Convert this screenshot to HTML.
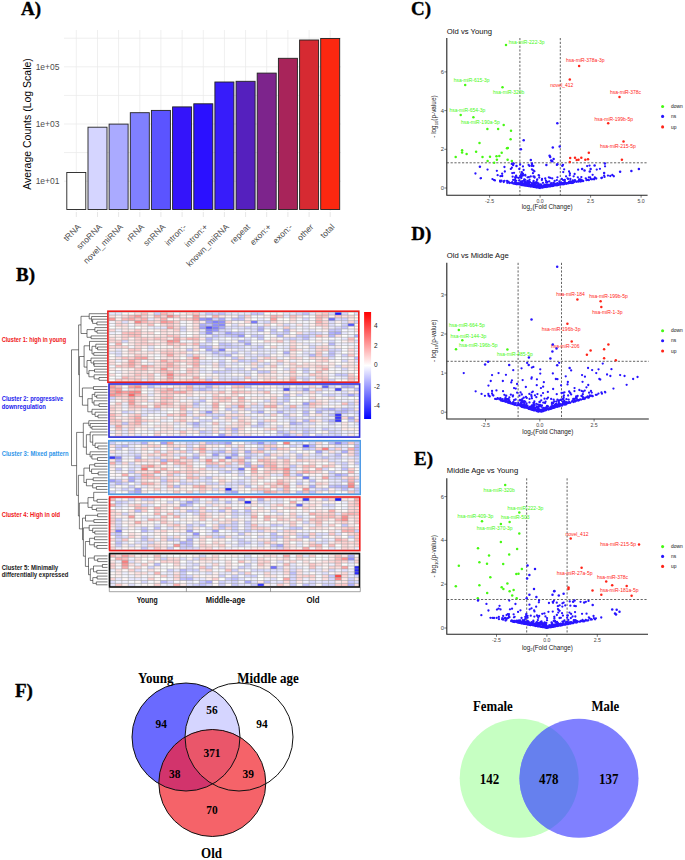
<!DOCTYPE html>
<html><head><meta charset="utf-8"><style>
html,body{margin:0;padding:0;background:#fff;overflow:hidden;}
svg{display:block;}

</style></head><body>
<svg width="685" height="860" viewBox="0 0 685 860" font-family='"Liberation Sans", sans-serif'>
<rect width="685" height="860" fill="#fff"/>
<g id="A">
<text x="21" y="15" font-family='"Liberation Serif", serif' font-weight="bold" font-size="19" stroke="#000" stroke-width="0.35">A)</text>
<path d="M64 38.2H341 M64 66.8H341 M64 95.4H341 M64 124.0H341 M64 152.6H341 M64 181.2H341 M76.3 30V211 M97.5 30V211 M118.6 30V211 M139.8 30V211 M160.9 30V211 M182.1 30V211 M203.3 30V211 M224.4 30V211 M245.6 30V211 M266.7 30V211 M287.9 30V211 M309.1 30V211 M330.2 30V211" stroke="#e9e9e9" stroke-width="0.75" fill="none"/>
<rect x="66.8" y="172.5" width="19" height="37.0" fill="#ffffff" stroke="#222" stroke-width="0.9"/>
<rect x="88.0" y="127.2" width="19" height="82.3" fill="#d5d5ff" stroke="#222" stroke-width="0.9"/>
<rect x="109.1" y="124.1" width="19" height="85.4" fill="#aaaaff" stroke="#222" stroke-width="0.9"/>
<rect x="130.3" y="112.7" width="19" height="96.8" fill="#8080ff" stroke="#222" stroke-width="0.9"/>
<rect x="151.4" y="110.4" width="19" height="99.1" fill="#5b54ff" stroke="#222" stroke-width="0.9"/>
<rect x="172.6" y="106.9" width="19" height="102.6" fill="#3414fa" stroke="#222" stroke-width="0.9"/>
<rect x="193.8" y="103.8" width="19" height="105.7" fill="#2b10ff" stroke="#222" stroke-width="0.9"/>
<rect x="214.9" y="82.0" width="19" height="127.5" fill="#371cfa" stroke="#222" stroke-width="0.9"/>
<rect x="236.1" y="81.3" width="19" height="128.2" fill="#5520be" stroke="#222" stroke-width="0.9"/>
<rect x="257.2" y="73.1" width="19" height="136.4" fill="#7d248c" stroke="#222" stroke-width="0.9"/>
<rect x="278.4" y="58.3" width="19" height="151.2" fill="#a8245a" stroke="#222" stroke-width="0.9"/>
<rect x="299.6" y="40.0" width="19" height="169.5" fill="#d62a32" stroke="#222" stroke-width="0.9"/>
<rect x="320.7" y="38.5" width="19" height="171.0" fill="#fc2810" stroke="#222" stroke-width="0.9"/>
<path d="M76.3 212V217 M97.5 212V217 M118.6 212V217 M139.8 212V217 M160.9 212V217 M182.1 212V217 M203.3 212V217 M224.4 212V217 M245.6 212V217 M266.7 212V217 M287.9 212V217 M309.1 212V217 M330.2 212V217" stroke="#e0e0e0" stroke-width="0.8"/>
<text x="59.5" y="70" text-anchor="end" font-size="8.5" fill="#4d4d4d">1e+05</text>
<text x="59.5" y="127" text-anchor="end" font-size="8.5" fill="#4d4d4d">1e+03</text>
<text x="59.5" y="184" text-anchor="end" font-size="8.5" fill="#4d4d4d">1e+01</text>
<text transform="translate(31.2 124) rotate(-90)" text-anchor="middle" font-size="10.5" fill="#000">Average Counts (Log Scale)</text>
<text transform="translate(81.3 227.5) rotate(-45)" text-anchor="end" font-size="8.5" fill="#4d4d4d">tRNA</text>
<text transform="translate(102.5 227.5) rotate(-45)" text-anchor="end" font-size="8.5" fill="#4d4d4d">snoRNA</text>
<text transform="translate(123.6 227.5) rotate(-45)" text-anchor="end" font-size="8.5" fill="#4d4d4d">novel_miRNA</text>
<text transform="translate(144.8 227.5) rotate(-45)" text-anchor="end" font-size="8.5" fill="#4d4d4d">rRNA</text>
<text transform="translate(165.9 227.5) rotate(-45)" text-anchor="end" font-size="8.5" fill="#4d4d4d">snRNA</text>
<text transform="translate(187.1 227.5) rotate(-45)" text-anchor="end" font-size="8.5" fill="#4d4d4d">intron:-</text>
<text transform="translate(208.3 227.5) rotate(-45)" text-anchor="end" font-size="8.5" fill="#4d4d4d">intron:+</text>
<text transform="translate(229.4 227.5) rotate(-45)" text-anchor="end" font-size="8.5" fill="#4d4d4d">known_miRNA</text>
<text transform="translate(250.6 227.5) rotate(-45)" text-anchor="end" font-size="8.5" fill="#4d4d4d">repeat</text>
<text transform="translate(271.7 227.5) rotate(-45)" text-anchor="end" font-size="8.5" fill="#4d4d4d">exon:+</text>
<text transform="translate(292.9 227.5) rotate(-45)" text-anchor="end" font-size="8.5" fill="#4d4d4d">exon:-</text>
<text transform="translate(314.1 227.5) rotate(-45)" text-anchor="end" font-size="8.5" fill="#4d4d4d">other</text>
<text transform="translate(335.2 227.5) rotate(-45)" text-anchor="end" font-size="8.5" fill="#4d4d4d">total</text>
</g>
<g id="B">
<text x="16" y="280.7" font-family='"Liberation Serif", serif' font-weight="bold" font-size="19" stroke="#000" stroke-width="0.35">B)</text>
<path d="M108.9 312.30h6.46v2.78h-6.46zM115.4 312.30h6.46v2.78h-6.46zM199.3 312.30h6.46v2.78h-6.46zM231.6 312.30h6.46v2.78h-6.46zM238.1 312.30h6.46v2.78h-6.46zM244.6 312.30h6.46v2.78h-6.46zM283.3 312.30h6.46v2.78h-6.46zM289.8 312.30h6.46v2.78h-6.46zM309.2 312.30h6.46v2.78h-6.46zM283.3 315.08h6.46v2.78h-6.46zM147.7 317.85h6.46v2.78h-6.46zM257.5 317.85h6.46v2.78h-6.46zM257.5 320.63h6.46v2.78h-6.46zM154.1 326.18h6.46v2.78h-6.46zM160.6 326.18h6.46v2.78h-6.46zM263.9 326.18h6.46v2.78h-6.46zM270.4 326.18h6.46v2.78h-6.46zM289.8 326.18h6.46v2.78h-6.46zM302.7 326.18h6.46v2.78h-6.46zM328.5 326.18h6.46v2.78h-6.46zM199.3 328.96h6.46v2.78h-6.46zM238.1 328.96h6.46v2.78h-6.46zM309.2 328.96h6.46v2.78h-6.46zM212.3 331.73h6.46v2.78h-6.46zM244.6 331.73h6.46v2.78h-6.46zM251.0 331.73h6.46v2.78h-6.46zM341.5 331.73h6.46v2.78h-6.46zM231.6 337.28h6.46v2.78h-6.46zM341.5 337.28h6.46v2.78h-6.46zM218.7 340.06h6.46v2.78h-6.46zM205.8 342.84h6.46v2.78h-6.46zM238.1 342.84h6.46v2.78h-6.46zM257.5 342.84h6.46v2.78h-6.46zM302.7 342.84h6.46v2.78h-6.46zM309.2 342.84h6.46v2.78h-6.46zM147.7 345.61h6.46v2.78h-6.46zM283.3 345.61h6.46v2.78h-6.46zM354.4 345.61h4.92v2.78h-4.92zM115.4 348.39h6.46v2.78h-6.46zM147.7 348.39h6.46v2.78h-6.46zM263.9 348.39h6.46v2.78h-6.46zM270.4 348.39h6.46v2.78h-6.46zM283.3 348.39h6.46v2.78h-6.46zM309.2 348.39h6.46v2.78h-6.46zM108.9 351.16h6.46v2.78h-6.46zM199.3 351.16h6.46v2.78h-6.46zM205.8 351.16h6.46v2.78h-6.46zM225.2 351.16h6.46v2.78h-6.46zM257.5 351.16h6.46v2.78h-6.46zM270.4 351.16h6.46v2.78h-6.46zM335.0 351.16h6.46v2.78h-6.46zM251.0 353.94h6.46v2.78h-6.46zM302.7 353.94h6.46v2.78h-6.46zM199.3 359.49h6.46v2.78h-6.46zM205.8 359.49h6.46v2.78h-6.46zM205.8 362.27h6.46v2.78h-6.46zM244.6 362.27h6.46v2.78h-6.46zM257.5 362.27h6.46v2.78h-6.46zM199.3 367.82h6.46v2.78h-6.46zM199.3 370.60h6.46v2.78h-6.46zM231.6 370.60h6.46v2.78h-6.46zM218.7 373.37h6.46v2.78h-6.46zM205.8 376.15h6.46v2.78h-6.46zM225.2 376.15h6.46v2.78h-6.46zM238.1 376.15h6.46v2.78h-6.46zM341.5 376.15h6.46v2.78h-6.46zM141.2 378.92h6.46v2.78h-6.46zM154.1 385.20h6.46v2.84h-6.46zM218.7 385.20h6.46v2.84h-6.46zM276.9 385.20h6.46v2.84h-6.46zM296.2 385.20h6.46v2.84h-6.46zM173.5 388.04h6.46v2.84h-6.46zM218.7 388.04h6.46v2.84h-6.46zM147.7 393.72h6.46v2.84h-6.46zM186.4 396.56h6.46v2.84h-6.46zM276.9 396.56h6.46v2.84h-6.46zM147.7 399.39h6.46v2.84h-6.46zM276.9 399.39h6.46v2.84h-6.46zM328.5 399.39h6.46v2.84h-6.46zM347.9 399.39h6.46v2.84h-6.46zM257.5 402.23h6.46v2.84h-6.46zM205.8 405.07h6.46v2.84h-6.46zM296.2 405.07h6.46v2.84h-6.46zM141.2 407.91h6.46v2.84h-6.46zM276.9 407.91h6.46v2.84h-6.46zM141.2 410.75h6.46v2.84h-6.46zM154.1 410.75h6.46v2.84h-6.46zM270.4 410.75h6.46v2.84h-6.46zM283.3 410.75h6.46v2.84h-6.46zM322.1 410.75h6.46v2.84h-6.46zM328.5 410.75h6.46v2.84h-6.46zM186.4 413.59h6.46v2.84h-6.46zM244.6 413.59h6.46v2.84h-6.46zM322.1 413.59h6.46v2.84h-6.46zM341.5 413.59h6.46v2.84h-6.46zM354.4 413.59h4.92v2.84h-4.92zM296.2 416.43h6.46v2.84h-6.46zM141.2 422.11h6.46v2.84h-6.46zM173.5 422.11h6.46v2.84h-6.46zM199.3 422.11h6.46v2.84h-6.46zM218.7 422.11h6.46v2.84h-6.46zM263.9 422.11h6.46v2.84h-6.46zM302.7 422.11h6.46v2.84h-6.46zM354.4 422.11h4.92v2.84h-4.92zM108.9 424.94h6.46v2.84h-6.46zM199.3 424.94h6.46v2.84h-6.46zM205.8 424.94h6.46v2.84h-6.46zM289.8 424.94h6.46v2.84h-6.46zM296.2 424.94h6.46v2.84h-6.46zM302.7 424.94h6.46v2.84h-6.46zM121.8 427.78h6.46v2.84h-6.46zM147.7 427.78h6.46v2.84h-6.46zM173.5 427.78h6.46v2.84h-6.46zM192.9 427.78h6.46v2.84h-6.46zM205.8 427.78h6.46v2.84h-6.46zM276.9 427.78h6.46v2.84h-6.46zM108.9 430.62h6.46v2.84h-6.46zM121.8 430.62h6.46v2.84h-6.46zM263.9 430.62h6.46v2.84h-6.46zM347.9 430.62h6.46v2.84h-6.46zM121.8 433.46h6.46v2.84h-6.46zM134.7 433.46h6.46v2.84h-6.46zM180.0 441.70h6.46v2.89h-6.46zM128.3 444.59h6.46v2.89h-6.46zM296.2 444.59h6.46v2.89h-6.46zM341.5 444.59h6.46v2.89h-6.46zM154.1 447.48h6.46v2.89h-6.46zM341.5 447.48h6.46v2.89h-6.46zM322.1 450.37h6.46v2.89h-6.46zM335.0 450.37h6.46v2.89h-6.46zM121.8 453.26h6.46v2.89h-6.46zM218.7 453.26h6.46v2.89h-6.46zM283.3 453.26h6.46v2.89h-6.46zM309.2 453.26h6.46v2.89h-6.46zM147.7 456.14h6.46v2.89h-6.46zM251.0 456.14h6.46v2.89h-6.46zM302.7 456.14h6.46v2.89h-6.46zM309.2 456.14h6.46v2.89h-6.46zM341.5 456.14h6.46v2.89h-6.46zM347.9 456.14h6.46v2.89h-6.46zM192.9 459.03h6.46v2.89h-6.46zM244.6 459.03h6.46v2.89h-6.46zM335.0 459.03h6.46v2.89h-6.46zM231.6 461.92h6.46v2.89h-6.46zM128.3 464.81h6.46v2.89h-6.46zM173.5 464.81h6.46v2.89h-6.46zM205.8 467.70h6.46v2.89h-6.46zM115.4 470.59h6.46v2.89h-6.46zM289.8 470.59h6.46v2.89h-6.46zM192.9 473.48h6.46v2.89h-6.46zM270.4 473.48h6.46v2.89h-6.46zM354.4 473.48h4.92v2.89h-4.92zM199.3 476.37h6.46v2.89h-6.46zM134.7 479.26h6.46v2.89h-6.46zM192.9 479.26h6.46v2.89h-6.46zM231.6 479.26h6.46v2.89h-6.46zM328.5 479.26h6.46v2.89h-6.46zM335.0 479.26h6.46v2.89h-6.46zM192.9 482.14h6.46v2.89h-6.46zM244.6 482.14h6.46v2.89h-6.46zM309.2 482.14h6.46v2.89h-6.46zM328.5 482.14h6.46v2.89h-6.46zM141.2 485.03h6.46v2.89h-6.46zM231.6 485.03h6.46v2.89h-6.46zM115.4 487.92h6.46v2.89h-6.46zM128.3 487.92h6.46v2.89h-6.46zM231.6 487.92h6.46v2.89h-6.46zM309.2 487.92h6.46v2.89h-6.46zM347.9 487.92h6.46v2.89h-6.46zM270.4 498.00h6.46v2.88h-6.46zM276.9 498.00h6.46v2.88h-6.46zM263.9 500.88h6.46v2.88h-6.46zM276.9 500.88h6.46v2.88h-6.46zM302.7 500.88h6.46v2.88h-6.46zM147.7 503.76h6.46v2.88h-6.46zM263.9 503.76h6.46v2.88h-6.46zM115.4 506.63h6.46v2.88h-6.46zM328.5 506.63h6.46v2.88h-6.46zM173.5 509.51h6.46v2.88h-6.46zM212.3 509.51h6.46v2.88h-6.46zM173.5 512.39h6.46v2.88h-6.46zM180.0 512.39h6.46v2.88h-6.46zM335.0 512.39h6.46v2.88h-6.46zM141.2 515.27h6.46v2.88h-6.46zM244.6 515.27h6.46v2.88h-6.46zM173.5 521.02h6.46v2.88h-6.46zM192.9 521.02h6.46v2.88h-6.46zM192.9 523.90h6.46v2.88h-6.46zM257.5 523.90h6.46v2.88h-6.46zM121.8 526.78h6.46v2.88h-6.46zM134.7 526.78h6.46v2.88h-6.46zM283.3 526.78h6.46v2.88h-6.46zM238.1 529.66h6.46v2.88h-6.46zM251.0 529.66h6.46v2.88h-6.46zM180.0 532.53h6.46v2.88h-6.46zM205.8 532.53h6.46v2.88h-6.46zM147.7 535.41h6.46v2.88h-6.46zM244.6 535.41h6.46v2.88h-6.46zM231.6 538.29h6.46v2.88h-6.46zM121.8 541.17h6.46v2.88h-6.46zM141.2 541.17h6.46v2.88h-6.46zM225.2 541.17h6.46v2.88h-6.46zM296.2 541.17h6.46v2.88h-6.46zM231.6 544.04h6.46v2.88h-6.46zM296.2 544.04h6.46v2.88h-6.46zM270.4 546.92h6.46v2.88h-6.46zM328.5 546.92h6.46v2.88h-6.46zM302.7 554.40h6.46v2.90h-6.46zM244.6 557.30h6.46v2.90h-6.46zM251.0 557.30h6.46v2.90h-6.46zM251.0 560.20h6.46v2.90h-6.46zM186.4 563.10h6.46v2.90h-6.46zM289.8 563.10h6.46v2.90h-6.46zM289.8 566.00h6.46v2.90h-6.46zM296.2 566.00h6.46v2.90h-6.46zM173.5 568.90h6.46v2.90h-6.46zM315.6 568.90h6.46v2.90h-6.46zM167.0 571.80h6.46v2.90h-6.46zM218.7 571.80h6.46v2.90h-6.46zM225.2 571.80h6.46v2.90h-6.46zM270.4 571.80h6.46v2.90h-6.46zM347.9 571.80h6.46v2.90h-6.46zM167.0 574.70h6.46v2.90h-6.46zM347.9 574.70h6.46v2.90h-6.46zM115.4 577.60h6.46v2.90h-6.46zM128.3 577.60h6.46v2.90h-6.46zM134.7 577.60h6.46v2.90h-6.46zM192.9 577.60h6.46v2.90h-6.46zM199.3 577.60h6.46v2.90h-6.46zM186.4 580.50h6.46v2.90h-6.46zM270.4 580.50h6.46v2.90h-6.46zM315.6 580.50h6.46v2.90h-6.46zM108.9 583.40h6.46v2.90h-6.46zM167.0 583.40h6.46v2.90h-6.46zM244.6 583.40h6.46v2.90h-6.46z" fill="#e8e8ff"/>
<path d="M121.8 312.30h6.46v2.78h-6.46zM128.3 312.30h6.46v2.78h-6.46zM276.9 312.30h6.46v2.78h-6.46zM186.4 315.08h6.46v2.78h-6.46zM257.5 315.08h6.46v2.78h-6.46zM309.2 315.08h6.46v2.78h-6.46zM354.4 315.08h4.92v2.78h-4.92zM167.0 317.85h6.46v2.78h-6.46zM276.9 317.85h6.46v2.78h-6.46zM186.4 320.63h6.46v2.78h-6.46zM231.6 320.63h6.46v2.78h-6.46zM238.1 320.63h6.46v2.78h-6.46zM283.3 320.63h6.46v2.78h-6.46zM309.2 320.63h6.46v2.78h-6.46zM186.4 323.40h6.46v2.78h-6.46zM225.2 323.40h6.46v2.78h-6.46zM354.4 323.40h4.92v2.78h-4.92zM186.4 326.18h6.46v2.78h-6.46zM309.2 326.18h6.46v2.78h-6.46zM347.9 326.18h6.46v2.78h-6.46zM354.4 326.18h4.92v2.78h-4.92zM147.7 328.96h6.46v2.78h-6.46zM315.6 328.96h6.46v2.78h-6.46zM276.9 337.28h6.46v2.78h-6.46zM315.6 337.28h6.46v2.78h-6.46zM322.1 337.28h6.46v2.78h-6.46zM231.6 340.06h6.46v2.78h-6.46zM160.6 345.61h6.46v2.78h-6.46zM167.0 345.61h6.46v2.78h-6.46zM180.0 345.61h6.46v2.78h-6.46zM302.7 345.61h6.46v2.78h-6.46zM121.8 348.39h6.46v2.78h-6.46zM141.2 348.39h6.46v2.78h-6.46zM225.2 348.39h6.46v2.78h-6.46zM192.9 351.16h6.46v2.78h-6.46zM251.0 351.16h6.46v2.78h-6.46zM121.8 353.94h6.46v2.78h-6.46zM147.7 353.94h6.46v2.78h-6.46zM199.3 353.94h6.46v2.78h-6.46zM238.1 353.94h6.46v2.78h-6.46zM270.4 353.94h6.46v2.78h-6.46zM276.9 353.94h6.46v2.78h-6.46zM108.9 356.72h6.46v2.78h-6.46zM225.2 356.72h6.46v2.78h-6.46zM283.3 356.72h6.46v2.78h-6.46zM347.9 356.72h6.46v2.78h-6.46zM328.5 359.49h6.46v2.78h-6.46zM335.0 359.49h6.46v2.78h-6.46zM115.4 362.27h6.46v2.78h-6.46zM141.2 362.27h6.46v2.78h-6.46zM180.0 362.27h6.46v2.78h-6.46zM296.2 362.27h6.46v2.78h-6.46zM322.1 362.27h6.46v2.78h-6.46zM341.5 362.27h6.46v2.78h-6.46zM186.4 365.04h6.46v2.78h-6.46zM199.3 365.04h6.46v2.78h-6.46zM244.6 365.04h6.46v2.78h-6.46zM283.3 365.04h6.46v2.78h-6.46zM180.0 367.82h6.46v2.78h-6.46zM212.3 367.82h6.46v2.78h-6.46zM244.6 367.82h6.46v2.78h-6.46zM263.9 367.82h6.46v2.78h-6.46zM328.5 370.60h6.46v2.78h-6.46zM347.9 370.60h6.46v2.78h-6.46zM212.3 373.37h6.46v2.78h-6.46zM231.6 373.37h6.46v2.78h-6.46zM238.1 373.37h6.46v2.78h-6.46zM154.1 376.15h6.46v2.78h-6.46zM199.3 376.15h6.46v2.78h-6.46zM257.5 378.92h6.46v2.78h-6.46zM309.2 378.92h6.46v2.78h-6.46zM341.5 378.92h6.46v2.78h-6.46zM121.8 385.20h6.46v2.84h-6.46zM167.0 385.20h6.46v2.84h-6.46zM289.8 385.20h6.46v2.84h-6.46zM141.2 388.04h6.46v2.84h-6.46zM225.2 388.04h6.46v2.84h-6.46zM289.8 390.88h6.46v2.84h-6.46zM180.0 393.72h6.46v2.84h-6.46zM192.9 393.72h6.46v2.84h-6.46zM218.7 393.72h6.46v2.84h-6.46zM244.6 393.72h6.46v2.84h-6.46zM263.9 393.72h6.46v2.84h-6.46zM276.9 393.72h6.46v2.84h-6.46zM147.7 396.56h6.46v2.84h-6.46zM315.6 396.56h6.46v2.84h-6.46zM322.1 396.56h6.46v2.84h-6.46zM115.4 399.39h6.46v2.84h-6.46zM205.8 399.39h6.46v2.84h-6.46zM231.6 399.39h6.46v2.84h-6.46zM108.9 402.23h6.46v2.84h-6.46zM205.8 402.23h6.46v2.84h-6.46zM218.7 402.23h6.46v2.84h-6.46zM225.2 402.23h6.46v2.84h-6.46zM283.3 402.23h6.46v2.84h-6.46zM296.2 402.23h6.46v2.84h-6.46zM147.7 405.07h6.46v2.84h-6.46zM328.5 405.07h6.46v2.84h-6.46zM173.5 407.91h6.46v2.84h-6.46zM192.9 410.75h6.46v2.84h-6.46zM244.6 410.75h6.46v2.84h-6.46zM263.9 410.75h6.46v2.84h-6.46zM309.2 410.75h6.46v2.84h-6.46zM147.7 413.59h6.46v2.84h-6.46zM154.1 416.43h6.46v2.84h-6.46zM205.8 416.43h6.46v2.84h-6.46zM270.4 416.43h6.46v2.84h-6.46zM192.9 419.27h6.46v2.84h-6.46zM212.3 419.27h6.46v2.84h-6.46zM251.0 419.27h6.46v2.84h-6.46zM270.4 422.11h6.46v2.84h-6.46zM283.3 422.11h6.46v2.84h-6.46zM315.6 422.11h6.46v2.84h-6.46zM147.7 424.94h6.46v2.84h-6.46zM108.9 427.78h6.46v2.84h-6.46zM134.7 427.78h6.46v2.84h-6.46zM134.7 430.62h6.46v2.84h-6.46zM244.6 430.62h6.46v2.84h-6.46zM257.5 430.62h6.46v2.84h-6.46zM354.4 430.62h4.92v2.84h-4.92zM108.9 433.46h6.46v2.84h-6.46zM257.5 433.46h6.46v2.84h-6.46zM309.2 433.46h6.46v2.84h-6.46zM231.6 441.70h6.46v2.89h-6.46zM238.1 441.70h6.46v2.89h-6.46zM302.7 441.70h6.46v2.89h-6.46zM134.7 444.59h6.46v2.89h-6.46zM160.6 444.59h6.46v2.89h-6.46zM192.9 444.59h6.46v2.89h-6.46zM276.9 444.59h6.46v2.89h-6.46zM108.9 447.48h6.46v2.89h-6.46zM121.8 447.48h6.46v2.89h-6.46zM147.7 447.48h6.46v2.89h-6.46zM225.2 447.48h6.46v2.89h-6.46zM192.9 450.37h6.46v2.89h-6.46zM302.7 450.37h6.46v2.89h-6.46zM322.1 453.26h6.46v2.89h-6.46zM341.5 453.26h6.46v2.89h-6.46zM141.2 456.14h6.46v2.89h-6.46zM270.4 456.14h6.46v2.89h-6.46zM121.8 459.03h6.46v2.89h-6.46zM128.3 459.03h6.46v2.89h-6.46zM212.3 459.03h6.46v2.89h-6.46zM289.8 459.03h6.46v2.89h-6.46zM154.1 461.92h6.46v2.89h-6.46zM167.0 461.92h6.46v2.89h-6.46zM251.0 461.92h6.46v2.89h-6.46zM315.6 461.92h6.46v2.89h-6.46zM121.8 464.81h6.46v2.89h-6.46zM160.6 464.81h6.46v2.89h-6.46zM315.6 464.81h6.46v2.89h-6.46zM335.0 464.81h6.46v2.89h-6.46zM147.7 467.70h6.46v2.89h-6.46zM244.6 467.70h6.46v2.89h-6.46zM309.2 467.70h6.46v2.89h-6.46zM354.4 467.70h4.92v2.89h-4.92zM108.9 470.59h6.46v2.89h-6.46zM121.8 470.59h6.46v2.89h-6.46zM212.3 470.59h6.46v2.89h-6.46zM322.1 470.59h6.46v2.89h-6.46zM335.0 470.59h6.46v2.89h-6.46zM108.9 473.48h6.46v2.89h-6.46zM115.4 473.48h6.46v2.89h-6.46zM244.6 473.48h6.46v2.89h-6.46zM180.0 476.37h6.46v2.89h-6.46zM276.9 476.37h6.46v2.89h-6.46zM296.2 476.37h6.46v2.89h-6.46zM147.7 479.26h6.46v2.89h-6.46zM257.5 479.26h6.46v2.89h-6.46zM270.4 479.26h6.46v2.89h-6.46zM289.8 479.26h6.46v2.89h-6.46zM302.7 479.26h6.46v2.89h-6.46zM315.6 479.26h6.46v2.89h-6.46zM322.1 479.26h6.46v2.89h-6.46zM115.4 485.03h6.46v2.89h-6.46zM134.7 485.03h6.46v2.89h-6.46zM263.9 485.03h6.46v2.89h-6.46zM322.1 485.03h6.46v2.89h-6.46zM141.2 487.92h6.46v2.89h-6.46zM186.4 487.92h6.46v2.89h-6.46zM270.4 487.92h6.46v2.89h-6.46zM121.8 490.81h6.46v2.89h-6.46zM160.6 490.81h6.46v2.89h-6.46zM180.0 490.81h6.46v2.89h-6.46zM212.3 490.81h6.46v2.89h-6.46zM238.1 490.81h6.46v2.89h-6.46zM244.6 490.81h6.46v2.89h-6.46zM322.1 490.81h6.46v2.89h-6.46zM341.5 490.81h6.46v2.89h-6.46zM167.0 498.00h6.46v2.88h-6.46zM283.3 498.00h6.46v2.88h-6.46zM315.6 498.00h6.46v2.88h-6.46zM134.7 500.88h6.46v2.88h-6.46zM154.1 500.88h6.46v2.88h-6.46zM160.6 500.88h6.46v2.88h-6.46zM173.5 500.88h6.46v2.88h-6.46zM322.1 500.88h6.46v2.88h-6.46zM199.3 503.76h6.46v2.88h-6.46zM238.1 503.76h6.46v2.88h-6.46zM128.3 506.63h6.46v2.88h-6.46zM167.0 506.63h6.46v2.88h-6.46zM205.8 506.63h6.46v2.88h-6.46zM231.6 506.63h6.46v2.88h-6.46zM238.1 506.63h6.46v2.88h-6.46zM296.2 506.63h6.46v2.88h-6.46zM315.6 506.63h6.46v2.88h-6.46zM341.5 509.51h6.46v2.88h-6.46zM134.7 512.39h6.46v2.88h-6.46zM147.7 512.39h6.46v2.88h-6.46zM283.3 512.39h6.46v2.88h-6.46zM134.7 515.27h6.46v2.88h-6.46zM186.4 515.27h6.46v2.88h-6.46zM212.3 515.27h6.46v2.88h-6.46zM309.2 515.27h6.46v2.88h-6.46zM134.7 518.14h6.46v2.88h-6.46zM167.0 518.14h6.46v2.88h-6.46zM192.9 518.14h6.46v2.88h-6.46zM218.7 518.14h6.46v2.88h-6.46zM257.5 518.14h6.46v2.88h-6.46zM147.7 521.02h6.46v2.88h-6.46zM186.4 521.02h6.46v2.88h-6.46zM205.8 521.02h6.46v2.88h-6.46zM238.1 521.02h6.46v2.88h-6.46zM257.5 521.02h6.46v2.88h-6.46zM276.9 521.02h6.46v2.88h-6.46zM296.2 521.02h6.46v2.88h-6.46zM322.1 521.02h6.46v2.88h-6.46zM328.5 521.02h6.46v2.88h-6.46zM141.2 523.90h6.46v2.88h-6.46zM147.7 523.90h6.46v2.88h-6.46zM160.6 523.90h6.46v2.88h-6.46zM354.4 523.90h4.92v2.88h-4.92zM238.1 526.78h6.46v2.88h-6.46zM302.7 526.78h6.46v2.88h-6.46zM328.5 526.78h6.46v2.88h-6.46zM121.8 529.66h6.46v2.88h-6.46zM128.3 529.66h6.46v2.88h-6.46zM199.3 529.66h6.46v2.88h-6.46zM296.2 529.66h6.46v2.88h-6.46zM315.6 529.66h6.46v2.88h-6.46zM276.9 532.53h6.46v2.88h-6.46zM341.5 532.53h6.46v2.88h-6.46zM108.9 535.41h6.46v2.88h-6.46zM154.1 535.41h6.46v2.88h-6.46zM180.0 535.41h6.46v2.88h-6.46zM328.5 535.41h6.46v2.88h-6.46zM180.0 538.29h6.46v2.88h-6.46zM108.9 541.17h6.46v2.88h-6.46zM128.3 541.17h6.46v2.88h-6.46zM167.0 541.17h6.46v2.88h-6.46zM192.9 541.17h6.46v2.88h-6.46zM225.2 544.04h6.46v2.88h-6.46zM302.7 544.04h6.46v2.88h-6.46zM121.8 546.92h6.46v2.88h-6.46zM263.9 546.92h6.46v2.88h-6.46zM296.2 546.92h6.46v2.88h-6.46zM167.0 554.40h6.46v2.90h-6.46zM180.0 554.40h6.46v2.90h-6.46zM205.8 554.40h6.46v2.90h-6.46zM225.2 554.40h6.46v2.90h-6.46zM354.4 554.40h4.92v2.90h-4.92zM108.9 557.30h6.46v2.90h-6.46zM141.2 557.30h6.46v2.90h-6.46zM218.7 557.30h6.46v2.90h-6.46zM225.2 557.30h6.46v2.90h-6.46zM270.4 557.30h6.46v2.90h-6.46zM309.2 557.30h6.46v2.90h-6.46zM154.1 560.20h6.46v2.90h-6.46zM192.9 560.20h6.46v2.90h-6.46zM270.4 560.20h6.46v2.90h-6.46zM309.2 560.20h6.46v2.90h-6.46zM147.7 563.10h6.46v2.90h-6.46zM231.6 563.10h6.46v2.90h-6.46zM270.4 563.10h6.46v2.90h-6.46zM296.2 563.10h6.46v2.90h-6.46zM354.4 563.10h4.92v2.90h-4.92zM128.3 566.00h6.46v2.90h-6.46zM141.2 566.00h6.46v2.90h-6.46zM180.0 566.00h6.46v2.90h-6.46zM212.3 566.00h6.46v2.90h-6.46zM322.1 566.00h6.46v2.90h-6.46zM121.8 568.90h6.46v2.90h-6.46zM154.1 568.90h6.46v2.90h-6.46zM108.9 571.80h6.46v2.90h-6.46zM309.2 571.80h6.46v2.90h-6.46zM328.5 571.80h6.46v2.90h-6.46zM108.9 574.70h6.46v2.90h-6.46zM154.1 574.70h6.46v2.90h-6.46zM199.3 574.70h6.46v2.90h-6.46zM225.2 574.70h6.46v2.90h-6.46zM121.8 577.60h6.46v2.90h-6.46zM154.1 577.60h6.46v2.90h-6.46zM134.7 580.50h6.46v2.90h-6.46zM180.0 580.50h6.46v2.90h-6.46zM212.3 580.50h6.46v2.90h-6.46zM141.2 583.40h6.46v2.90h-6.46zM147.7 583.40h6.46v2.90h-6.46zM212.3 583.40h6.46v2.90h-6.46zM225.2 583.40h6.46v2.90h-6.46zM296.2 583.40h6.46v2.90h-6.46zM315.6 583.40h6.46v2.90h-6.46z" fill="#fff8f8"/>
<path d="M134.7 312.30h6.46v2.78h-6.46zM108.9 315.08h6.46v2.78h-6.46zM296.2 315.08h6.46v2.78h-6.46zM341.5 315.08h6.46v2.78h-6.46zM154.1 317.85h6.46v2.78h-6.46zM121.8 323.40h6.46v2.78h-6.46zM173.5 323.40h6.46v2.78h-6.46zM192.9 323.40h6.46v2.78h-6.46zM276.9 323.40h6.46v2.78h-6.46zM296.2 323.40h6.46v2.78h-6.46zM322.1 326.18h6.46v2.78h-6.46zM192.9 328.96h6.46v2.78h-6.46zM354.4 328.96h4.92v2.78h-4.92zM141.2 331.73h6.46v2.78h-6.46zM160.6 331.73h6.46v2.78h-6.46zM160.6 334.51h6.46v2.78h-6.46zM322.1 334.51h6.46v2.78h-6.46zM335.0 334.51h6.46v2.78h-6.46zM270.4 340.06h6.46v2.78h-6.46zM154.1 342.84h6.46v2.78h-6.46zM186.4 342.84h6.46v2.78h-6.46zM289.8 342.84h6.46v2.78h-6.46zM160.6 348.39h6.46v2.78h-6.46zM296.2 348.39h6.46v2.78h-6.46zM147.7 351.16h6.46v2.78h-6.46zM141.2 353.94h6.46v2.78h-6.46zM160.6 353.94h6.46v2.78h-6.46zM173.5 353.94h6.46v2.78h-6.46zM289.8 353.94h6.46v2.78h-6.46zM115.4 356.72h6.46v2.78h-6.46zM167.0 356.72h6.46v2.78h-6.46zM173.5 356.72h6.46v2.78h-6.46zM296.2 356.72h6.46v2.78h-6.46zM315.6 356.72h6.46v2.78h-6.46zM108.9 359.49h6.46v2.78h-6.46zM154.1 359.49h6.46v2.78h-6.46zM231.6 359.49h6.46v2.78h-6.46zM108.9 362.27h6.46v2.78h-6.46zM173.5 362.27h6.46v2.78h-6.46zM212.3 362.27h6.46v2.78h-6.46zM302.7 362.27h6.46v2.78h-6.46zM134.7 365.04h6.46v2.78h-6.46zM154.1 365.04h6.46v2.78h-6.46zM212.3 365.04h6.46v2.78h-6.46zM289.8 365.04h6.46v2.78h-6.46zM302.7 365.04h6.46v2.78h-6.46zM309.2 365.04h6.46v2.78h-6.46zM341.5 365.04h6.46v2.78h-6.46zM347.9 365.04h6.46v2.78h-6.46zM154.1 367.82h6.46v2.78h-6.46zM167.0 367.82h6.46v2.78h-6.46zM315.6 367.82h6.46v2.78h-6.46zM354.4 367.82h4.92v2.78h-4.92zM128.3 370.60h6.46v2.78h-6.46zM141.2 370.60h6.46v2.78h-6.46zM154.1 370.60h6.46v2.78h-6.46zM108.9 373.37h6.46v2.78h-6.46zM128.3 373.37h6.46v2.78h-6.46zM192.9 373.37h6.46v2.78h-6.46zM257.5 373.37h6.46v2.78h-6.46zM322.1 373.37h6.46v2.78h-6.46zM263.9 376.15h6.46v2.78h-6.46zM315.6 378.92h6.46v2.78h-6.46zM141.2 385.20h6.46v2.84h-6.46zM173.5 385.20h6.46v2.84h-6.46zM180.0 385.20h6.46v2.84h-6.46zM180.0 388.04h6.46v2.84h-6.46zM154.1 390.88h6.46v2.84h-6.46zM205.8 390.88h6.46v2.84h-6.46zM212.3 390.88h6.46v2.84h-6.46zM257.5 390.88h6.46v2.84h-6.46zM141.2 393.72h6.46v2.84h-6.46zM186.4 393.72h6.46v2.84h-6.46zM134.7 396.56h6.46v2.84h-6.46zM141.2 396.56h6.46v2.84h-6.46zM199.3 396.56h6.46v2.84h-6.46zM328.5 396.56h6.46v2.84h-6.46zM121.8 399.39h6.46v2.84h-6.46zM173.5 399.39h6.46v2.84h-6.46zM212.3 399.39h6.46v2.84h-6.46zM315.6 399.39h6.46v2.84h-6.46zM354.4 399.39h4.92v2.84h-4.92zM134.7 402.23h6.46v2.84h-6.46zM354.4 402.23h4.92v2.84h-4.92zM115.4 405.07h6.46v2.84h-6.46zM173.5 405.07h6.46v2.84h-6.46zM244.6 405.07h6.46v2.84h-6.46zM134.7 407.91h6.46v2.84h-6.46zM108.9 410.75h6.46v2.84h-6.46zM212.3 410.75h6.46v2.84h-6.46zM225.2 413.59h6.46v2.84h-6.46zM231.6 413.59h6.46v2.84h-6.46zM315.6 413.59h6.46v2.84h-6.46zM160.6 416.43h6.46v2.84h-6.46zM180.0 416.43h6.46v2.84h-6.46zM238.1 416.43h6.46v2.84h-6.46zM147.7 419.27h6.46v2.84h-6.46zM154.1 424.94h6.46v2.84h-6.46zM160.6 424.94h6.46v2.84h-6.46zM167.0 424.94h6.46v2.84h-6.46zM225.2 424.94h6.46v2.84h-6.46zM167.0 427.78h6.46v2.84h-6.46zM263.9 427.78h6.46v2.84h-6.46zM128.3 430.62h6.46v2.84h-6.46zM154.1 430.62h6.46v2.84h-6.46zM160.6 430.62h6.46v2.84h-6.46zM289.8 430.62h6.46v2.84h-6.46zM180.0 433.46h6.46v2.84h-6.46zM244.6 433.46h6.46v2.84h-6.46zM108.9 444.59h6.46v2.89h-6.46zM173.5 444.59h6.46v2.89h-6.46zM180.0 444.59h6.46v2.89h-6.46zM238.1 447.48h6.46v2.89h-6.46zM108.9 450.37h6.46v2.89h-6.46zM328.5 450.37h6.46v2.89h-6.46zM302.7 453.26h6.46v2.89h-6.46zM167.0 456.14h6.46v2.89h-6.46zM147.7 459.03h6.46v2.89h-6.46zM180.0 459.03h6.46v2.89h-6.46zM199.3 459.03h6.46v2.89h-6.46zM309.2 459.03h6.46v2.89h-6.46zM322.1 459.03h6.46v2.89h-6.46zM309.2 461.92h6.46v2.89h-6.46zM328.5 461.92h6.46v2.89h-6.46zM180.0 464.81h6.46v2.89h-6.46zM296.2 464.81h6.46v2.89h-6.46zM134.7 470.59h6.46v2.89h-6.46zM167.0 476.37h6.46v2.89h-6.46zM289.8 476.37h6.46v2.89h-6.46zM341.5 476.37h6.46v2.89h-6.46zM354.4 476.37h4.92v2.89h-4.92zM121.8 479.26h6.46v2.89h-6.46zM141.2 479.26h6.46v2.89h-6.46zM251.0 479.26h6.46v2.89h-6.46zM283.3 479.26h6.46v2.89h-6.46zM154.1 482.14h6.46v2.89h-6.46zM167.0 482.14h6.46v2.89h-6.46zM218.7 482.14h6.46v2.89h-6.46zM322.1 482.14h6.46v2.89h-6.46zM205.8 485.03h6.46v2.89h-6.46zM276.9 485.03h6.46v2.89h-6.46zM205.8 487.92h6.46v2.89h-6.46zM218.7 487.92h6.46v2.89h-6.46zM315.6 490.81h6.46v2.89h-6.46zM328.5 490.81h6.46v2.89h-6.46zM309.2 498.00h6.46v2.88h-6.46zM147.7 500.88h6.46v2.88h-6.46zM205.8 500.88h6.46v2.88h-6.46zM160.6 503.76h6.46v2.88h-6.46zM212.3 503.76h6.46v2.88h-6.46zM270.4 503.76h6.46v2.88h-6.46zM160.6 506.63h6.46v2.88h-6.46zM218.7 506.63h6.46v2.88h-6.46zM257.5 506.63h6.46v2.88h-6.46zM270.4 506.63h6.46v2.88h-6.46zM128.3 509.51h6.46v2.88h-6.46zM251.0 509.51h6.46v2.88h-6.46zM315.6 509.51h6.46v2.88h-6.46zM108.9 512.39h6.46v2.88h-6.46zM218.7 515.27h6.46v2.88h-6.46zM231.6 518.14h6.46v2.88h-6.46zM251.0 518.14h6.46v2.88h-6.46zM218.7 521.02h6.46v2.88h-6.46zM225.2 521.02h6.46v2.88h-6.46zM309.2 521.02h6.46v2.88h-6.46zM335.0 521.02h6.46v2.88h-6.46zM108.9 523.90h6.46v2.88h-6.46zM128.3 523.90h6.46v2.88h-6.46zM212.3 523.90h6.46v2.88h-6.46zM315.6 526.78h6.46v2.88h-6.46zM335.0 526.78h6.46v2.88h-6.46zM354.4 526.78h4.92v2.88h-4.92zM173.5 529.66h6.46v2.88h-6.46zM263.9 529.66h6.46v2.88h-6.46zM270.4 529.66h6.46v2.88h-6.46zM328.5 529.66h6.46v2.88h-6.46zM128.3 532.53h6.46v2.88h-6.46zM283.3 532.53h6.46v2.88h-6.46zM199.3 535.41h6.46v2.88h-6.46zM309.2 535.41h6.46v2.88h-6.46zM335.0 535.41h6.46v2.88h-6.46zM199.3 541.17h6.46v2.88h-6.46zM270.4 541.17h6.46v2.88h-6.46zM205.8 544.04h6.46v2.88h-6.46zM199.3 546.92h6.46v2.88h-6.46zM347.9 546.92h6.46v2.88h-6.46zM141.2 554.40h6.46v2.90h-6.46zM270.4 554.40h6.46v2.90h-6.46zM134.7 557.30h6.46v2.90h-6.46zM354.4 557.30h4.92v2.90h-4.92zM147.7 560.20h6.46v2.90h-6.46zM225.2 560.20h6.46v2.90h-6.46zM302.7 560.20h6.46v2.90h-6.46zM322.1 560.20h6.46v2.90h-6.46zM128.3 563.10h6.46v2.90h-6.46zM225.2 563.10h6.46v2.90h-6.46zM315.6 563.10h6.46v2.90h-6.46zM335.0 566.00h6.46v2.90h-6.46zM115.4 568.90h6.46v2.90h-6.46zM147.7 568.90h6.46v2.90h-6.46zM296.2 568.90h6.46v2.90h-6.46zM134.7 571.80h6.46v2.90h-6.46zM141.2 571.80h6.46v2.90h-6.46zM173.5 571.80h6.46v2.90h-6.46zM296.2 571.80h6.46v2.90h-6.46zM263.9 574.70h6.46v2.90h-6.46zM309.2 577.60h6.46v2.90h-6.46zM322.1 577.60h6.46v2.90h-6.46zM341.5 580.50h6.46v2.90h-6.46zM354.4 583.40h4.92v2.90h-4.92z" fill="#ffe0e0"/>
<path d="M141.2 312.30h6.46v2.78h-6.46zM173.5 315.08h6.46v2.78h-6.46zM289.8 315.08h6.46v2.78h-6.46zM322.1 315.08h6.46v2.78h-6.46zM147.7 323.40h6.46v2.78h-6.46zM121.8 331.73h6.46v2.78h-6.46zM134.7 331.73h6.46v2.78h-6.46zM128.3 334.51h6.46v2.78h-6.46zM134.7 334.51h6.46v2.78h-6.46zM167.0 334.51h6.46v2.78h-6.46zM154.1 337.28h6.46v2.78h-6.46zM347.9 337.28h6.46v2.78h-6.46zM180.0 342.84h6.46v2.78h-6.46zM289.8 348.39h6.46v2.78h-6.46zM167.0 351.16h6.46v2.78h-6.46zM121.8 356.72h6.46v2.78h-6.46zM115.4 365.04h6.46v2.78h-6.46zM147.7 365.04h6.46v2.78h-6.46zM160.6 370.60h6.46v2.78h-6.46zM289.8 370.60h6.46v2.78h-6.46zM315.6 370.60h6.46v2.78h-6.46zM134.7 373.37h6.46v2.78h-6.46zM347.9 376.15h6.46v2.78h-6.46zM134.7 378.92h6.46v2.78h-6.46zM115.4 385.20h6.46v2.84h-6.46zM231.6 385.20h6.46v2.84h-6.46zM134.7 388.04h6.46v2.84h-6.46zM186.4 388.04h6.46v2.84h-6.46zM167.0 390.88h6.46v2.84h-6.46zM218.7 390.88h6.46v2.84h-6.46zM263.9 390.88h6.46v2.84h-6.46zM212.3 396.56h6.46v2.84h-6.46zM238.1 399.39h6.46v2.84h-6.46zM167.0 402.23h6.46v2.84h-6.46zM341.5 402.23h6.46v2.84h-6.46zM128.3 405.07h6.46v2.84h-6.46zM134.7 405.07h6.46v2.84h-6.46zM141.2 405.07h6.46v2.84h-6.46zM134.7 413.59h6.46v2.84h-6.46zM167.0 413.59h6.46v2.84h-6.46zM180.0 419.27h6.46v2.84h-6.46zM180.0 430.62h6.46v2.84h-6.46zM199.3 444.59h6.46v2.89h-6.46zM257.5 450.37h6.46v2.89h-6.46zM134.7 459.03h6.46v2.89h-6.46zM263.9 459.03h6.46v2.89h-6.46zM283.3 459.03h6.46v2.89h-6.46zM173.5 461.92h6.46v2.89h-6.46zM205.8 461.92h6.46v2.89h-6.46zM212.3 461.92h6.46v2.89h-6.46zM238.1 461.92h6.46v2.89h-6.46zM263.9 461.92h6.46v2.89h-6.46zM270.4 461.92h6.46v2.89h-6.46zM186.4 464.81h6.46v2.89h-6.46zM251.0 464.81h6.46v2.89h-6.46zM309.2 464.81h6.46v2.89h-6.46zM322.1 464.81h6.46v2.89h-6.46zM276.9 467.70h6.46v2.89h-6.46zM167.0 473.48h6.46v2.89h-6.46zM141.2 476.37h6.46v2.89h-6.46zM147.7 476.37h6.46v2.89h-6.46zM347.9 476.37h6.46v2.89h-6.46zM167.0 479.26h6.46v2.89h-6.46zM276.9 479.26h6.46v2.89h-6.46zM167.0 485.03h6.46v2.89h-6.46zM270.4 485.03h6.46v2.89h-6.46zM263.9 487.92h6.46v2.89h-6.46zM302.7 490.81h6.46v2.89h-6.46zM354.4 500.88h4.92v2.88h-4.92zM354.4 503.76h4.92v2.88h-4.92zM173.5 506.63h6.46v2.88h-6.46zM225.2 506.63h6.46v2.88h-6.46zM167.0 512.39h6.46v2.88h-6.46zM199.3 512.39h6.46v2.88h-6.46zM341.5 512.39h6.46v2.88h-6.46zM199.3 515.27h6.46v2.88h-6.46zM315.6 515.27h6.46v2.88h-6.46zM263.9 518.14h6.46v2.88h-6.46zM309.2 518.14h6.46v2.88h-6.46zM315.6 521.02h6.46v2.88h-6.46zM173.5 523.90h6.46v2.88h-6.46zM251.0 523.90h6.46v2.88h-6.46zM347.9 526.78h6.46v2.88h-6.46zM354.4 538.29h4.92v2.88h-4.92zM309.2 544.04h6.46v2.88h-6.46zM328.5 544.04h6.46v2.88h-6.46zM154.1 554.40h6.46v2.90h-6.46zM335.0 554.40h6.46v2.90h-6.46zM121.8 557.30h6.46v2.90h-6.46zM238.1 560.20h6.46v2.90h-6.46zM283.3 563.10h6.46v2.90h-6.46zM225.2 568.90h6.46v2.90h-6.46z" fill="#ffc0c0"/>
<path d="M147.7 312.30h6.46v2.78h-6.46zM180.0 312.30h6.46v2.78h-6.46zM115.4 315.08h6.46v2.78h-6.46zM147.7 315.08h6.46v2.78h-6.46zM225.2 315.08h6.46v2.78h-6.46zM231.6 315.08h6.46v2.78h-6.46zM328.5 315.08h6.46v2.78h-6.46zM115.4 317.85h6.46v2.78h-6.46zM173.5 317.85h6.46v2.78h-6.46zM354.4 317.85h4.92v2.78h-4.92zM128.3 320.63h6.46v2.78h-6.46zM199.3 320.63h6.46v2.78h-6.46zM276.9 320.63h6.46v2.78h-6.46zM335.0 320.63h6.46v2.78h-6.46zM309.2 323.40h6.46v2.78h-6.46zM115.4 326.18h6.46v2.78h-6.46zM141.2 326.18h6.46v2.78h-6.46zM141.2 328.96h6.46v2.78h-6.46zM154.1 328.96h6.46v2.78h-6.46zM186.4 328.96h6.46v2.78h-6.46zM322.1 328.96h6.46v2.78h-6.46zM192.9 331.73h6.46v2.78h-6.46zM263.9 331.73h6.46v2.78h-6.46zM108.9 334.51h6.46v2.78h-6.46zM141.2 334.51h6.46v2.78h-6.46zM147.7 334.51h6.46v2.78h-6.46zM283.3 334.51h6.46v2.78h-6.46zM289.8 334.51h6.46v2.78h-6.46zM115.4 337.28h6.46v2.78h-6.46zM128.3 337.28h6.46v2.78h-6.46zM147.7 340.06h6.46v2.78h-6.46zM154.1 340.06h6.46v2.78h-6.46zM341.5 340.06h6.46v2.78h-6.46zM296.2 342.84h6.46v2.78h-6.46zM322.1 342.84h6.46v2.78h-6.46zM141.2 345.61h6.46v2.78h-6.46zM335.0 345.61h6.46v2.78h-6.46zM347.9 345.61h6.46v2.78h-6.46zM108.9 348.39h6.46v2.78h-6.46zM180.0 348.39h6.46v2.78h-6.46zM121.8 351.16h6.46v2.78h-6.46zM154.1 351.16h6.46v2.78h-6.46zM186.4 351.16h6.46v2.78h-6.46zM128.3 353.94h6.46v2.78h-6.46zM180.0 353.94h6.46v2.78h-6.46zM121.8 359.49h6.46v2.78h-6.46zM270.4 359.49h6.46v2.78h-6.46zM283.3 359.49h6.46v2.78h-6.46zM296.2 359.49h6.46v2.78h-6.46zM283.3 362.27h6.46v2.78h-6.46zM225.2 365.04h6.46v2.78h-6.46zM263.9 365.04h6.46v2.78h-6.46zM328.5 365.04h6.46v2.78h-6.46zM121.8 367.82h6.46v2.78h-6.46zM128.3 367.82h6.46v2.78h-6.46zM257.5 367.82h6.46v2.78h-6.46zM270.4 367.82h6.46v2.78h-6.46zM309.2 367.82h6.46v2.78h-6.46zM347.9 367.82h6.46v2.78h-6.46zM121.8 370.60h6.46v2.78h-6.46zM147.7 370.60h6.46v2.78h-6.46zM283.3 370.60h6.46v2.78h-6.46zM322.1 370.60h6.46v2.78h-6.46zM205.8 373.37h6.46v2.78h-6.46zM270.4 373.37h6.46v2.78h-6.46zM276.9 373.37h6.46v2.78h-6.46zM296.2 373.37h6.46v2.78h-6.46zM180.0 376.15h6.46v2.78h-6.46zM186.4 376.15h6.46v2.78h-6.46zM283.3 376.15h6.46v2.78h-6.46zM154.1 378.92h6.46v2.78h-6.46zM354.4 378.92h4.92v2.78h-4.92zM160.6 385.20h6.46v2.84h-6.46zM257.5 385.20h6.46v2.84h-6.46zM263.9 385.20h6.46v2.84h-6.46zM270.4 385.20h6.46v2.84h-6.46zM192.9 390.88h6.46v2.84h-6.46zM225.2 390.88h6.46v2.84h-6.46zM347.9 390.88h6.46v2.84h-6.46zM154.1 393.72h6.46v2.84h-6.46zM173.5 393.72h6.46v2.84h-6.46zM225.2 393.72h6.46v2.84h-6.46zM289.8 393.72h6.46v2.84h-6.46zM309.2 393.72h6.46v2.84h-6.46zM263.9 396.56h6.46v2.84h-6.46zM154.1 399.39h6.46v2.84h-6.46zM186.4 399.39h6.46v2.84h-6.46zM322.1 399.39h6.46v2.84h-6.46zM147.7 402.23h6.46v2.84h-6.46zM173.5 402.23h6.46v2.84h-6.46zM263.9 402.23h6.46v2.84h-6.46zM276.9 405.07h6.46v2.84h-6.46zM335.0 405.07h6.46v2.84h-6.46zM160.6 407.91h6.46v2.84h-6.46zM115.4 410.75h6.46v2.84h-6.46zM134.7 410.75h6.46v2.84h-6.46zM173.5 410.75h6.46v2.84h-6.46zM225.2 410.75h6.46v2.84h-6.46zM238.1 410.75h6.46v2.84h-6.46zM257.5 413.59h6.46v2.84h-6.46zM309.2 413.59h6.46v2.84h-6.46zM115.4 416.43h6.46v2.84h-6.46zM141.2 416.43h6.46v2.84h-6.46zM173.5 416.43h6.46v2.84h-6.46zM186.4 416.43h6.46v2.84h-6.46zM218.7 416.43h6.46v2.84h-6.46zM354.4 416.43h4.92v2.84h-4.92zM121.8 419.27h6.46v2.84h-6.46zM186.4 419.27h6.46v2.84h-6.46zM296.2 419.27h6.46v2.84h-6.46zM167.0 422.11h6.46v2.84h-6.46zM180.0 422.11h6.46v2.84h-6.46zM141.2 424.94h6.46v2.84h-6.46zM180.0 424.94h6.46v2.84h-6.46zM212.3 424.94h6.46v2.84h-6.46zM244.6 424.94h6.46v2.84h-6.46zM283.3 424.94h6.46v2.84h-6.46zM309.2 424.94h6.46v2.84h-6.46zM341.5 424.94h6.46v2.84h-6.46zM141.2 427.78h6.46v2.84h-6.46zM199.3 427.78h6.46v2.84h-6.46zM347.9 427.78h6.46v2.84h-6.46zM354.4 427.78h4.92v2.84h-4.92zM167.0 430.62h6.46v2.84h-6.46zM173.5 430.62h6.46v2.84h-6.46zM186.4 430.62h6.46v2.84h-6.46zM251.0 430.62h6.46v2.84h-6.46zM322.1 430.62h6.46v2.84h-6.46zM141.2 433.46h6.46v2.84h-6.46zM205.8 444.59h6.46v2.89h-6.46zM315.6 444.59h6.46v2.89h-6.46zM328.5 444.59h6.46v2.89h-6.46zM296.2 447.48h6.46v2.89h-6.46zM141.2 450.37h6.46v2.89h-6.46zM276.9 450.37h6.46v2.89h-6.46zM283.3 450.37h6.46v2.89h-6.46zM289.8 453.26h6.46v2.89h-6.46zM289.8 456.14h6.46v2.89h-6.46zM225.2 459.03h6.46v2.89h-6.46zM134.7 461.92h6.46v2.89h-6.46zM218.7 461.92h6.46v2.89h-6.46zM289.8 461.92h6.46v2.89h-6.46zM347.9 461.92h6.46v2.89h-6.46zM167.0 464.81h6.46v2.89h-6.46zM238.1 464.81h6.46v2.89h-6.46zM108.9 467.70h6.46v2.89h-6.46zM192.9 467.70h6.46v2.89h-6.46zM225.2 467.70h6.46v2.89h-6.46zM160.6 470.59h6.46v2.89h-6.46zM205.8 470.59h6.46v2.89h-6.46zM257.5 470.59h6.46v2.89h-6.46zM160.6 473.48h6.46v2.89h-6.46zM231.6 473.48h6.46v2.89h-6.46zM309.2 473.48h6.46v2.89h-6.46zM347.9 473.48h6.46v2.89h-6.46zM218.7 476.37h6.46v2.89h-6.46zM315.6 476.37h6.46v2.89h-6.46zM154.1 479.26h6.46v2.89h-6.46zM225.2 479.26h6.46v2.89h-6.46zM199.3 482.14h6.46v2.89h-6.46zM154.1 485.03h6.46v2.89h-6.46zM180.0 485.03h6.46v2.89h-6.46zM186.4 485.03h6.46v2.89h-6.46zM212.3 485.03h6.46v2.89h-6.46zM147.7 487.92h6.46v2.89h-6.46zM173.5 487.92h6.46v2.89h-6.46zM192.9 487.92h6.46v2.89h-6.46zM238.1 487.92h6.46v2.89h-6.46zM328.5 487.92h6.46v2.89h-6.46zM167.0 490.81h6.46v2.89h-6.46zM218.7 490.81h6.46v2.89h-6.46zM289.8 490.81h6.46v2.89h-6.46zM121.8 498.00h6.46v2.88h-6.46zM218.7 498.00h6.46v2.88h-6.46zM296.2 498.00h6.46v2.88h-6.46zM347.9 498.00h6.46v2.88h-6.46zM141.2 500.88h6.46v2.88h-6.46zM309.2 500.88h6.46v2.88h-6.46zM328.5 500.88h6.46v2.88h-6.46zM173.5 503.76h6.46v2.88h-6.46zM218.7 503.76h6.46v2.88h-6.46zM225.2 503.76h6.46v2.88h-6.46zM283.3 503.76h6.46v2.88h-6.46zM315.6 503.76h6.46v2.88h-6.46zM147.7 506.63h6.46v2.88h-6.46zM180.0 506.63h6.46v2.88h-6.46zM186.4 506.63h6.46v2.88h-6.46zM115.4 509.51h6.46v2.88h-6.46zM167.0 509.51h6.46v2.88h-6.46zM263.9 509.51h6.46v2.88h-6.46zM289.8 509.51h6.46v2.88h-6.46zM322.1 509.51h6.46v2.88h-6.46zM335.0 509.51h6.46v2.88h-6.46zM218.7 512.39h6.46v2.88h-6.46zM115.4 515.27h6.46v2.88h-6.46zM121.8 515.27h6.46v2.88h-6.46zM167.0 515.27h6.46v2.88h-6.46zM192.9 515.27h6.46v2.88h-6.46zM283.3 515.27h6.46v2.88h-6.46zM180.0 518.14h6.46v2.88h-6.46zM186.4 518.14h6.46v2.88h-6.46zM238.1 518.14h6.46v2.88h-6.46zM289.8 518.14h6.46v2.88h-6.46zM328.5 518.14h6.46v2.88h-6.46zM121.8 521.02h6.46v2.88h-6.46zM128.3 521.02h6.46v2.88h-6.46zM251.0 521.02h6.46v2.88h-6.46zM270.4 521.02h6.46v2.88h-6.46zM283.3 521.02h6.46v2.88h-6.46zM347.9 521.02h6.46v2.88h-6.46zM134.7 523.90h6.46v2.88h-6.46zM180.0 523.90h6.46v2.88h-6.46zM302.7 523.90h6.46v2.88h-6.46zM128.3 526.78h6.46v2.88h-6.46zM167.0 529.66h6.46v2.88h-6.46zM180.0 529.66h6.46v2.88h-6.46zM134.7 532.53h6.46v2.88h-6.46zM154.1 532.53h6.46v2.88h-6.46zM160.6 532.53h6.46v2.88h-6.46zM257.5 532.53h6.46v2.88h-6.46zM134.7 535.41h6.46v2.88h-6.46zM212.3 538.29h6.46v2.88h-6.46zM160.6 541.17h6.46v2.88h-6.46zM218.7 541.17h6.46v2.88h-6.46zM302.7 541.17h6.46v2.88h-6.46zM121.8 544.04h6.46v2.88h-6.46zM134.7 544.04h6.46v2.88h-6.46zM263.9 544.04h6.46v2.88h-6.46zM128.3 546.92h6.46v2.88h-6.46zM251.0 546.92h6.46v2.88h-6.46zM257.5 546.92h6.46v2.88h-6.46zM289.8 546.92h6.46v2.88h-6.46zM134.7 554.40h6.46v2.90h-6.46zM147.7 554.40h6.46v2.90h-6.46zM192.9 554.40h6.46v2.90h-6.46zM231.6 554.40h6.46v2.90h-6.46zM257.5 554.40h6.46v2.90h-6.46zM186.4 557.30h6.46v2.90h-6.46zM263.9 557.30h6.46v2.90h-6.46zM302.7 557.30h6.46v2.90h-6.46zM244.6 560.20h6.46v2.90h-6.46zM283.3 560.20h6.46v2.90h-6.46zM315.6 560.20h6.46v2.90h-6.46zM115.4 563.10h6.46v2.90h-6.46zM199.3 563.10h6.46v2.90h-6.46zM302.7 563.10h6.46v2.90h-6.46zM322.1 563.10h6.46v2.90h-6.46zM154.1 566.00h6.46v2.90h-6.46zM173.5 566.00h6.46v2.90h-6.46zM263.9 566.00h6.46v2.90h-6.46zM238.1 568.90h6.46v2.90h-6.46zM128.3 571.80h6.46v2.90h-6.46zM212.3 571.80h6.46v2.90h-6.46zM231.6 571.80h6.46v2.90h-6.46zM115.4 574.70h6.46v2.90h-6.46zM147.7 574.70h6.46v2.90h-6.46zM205.8 574.70h6.46v2.90h-6.46zM212.3 574.70h6.46v2.90h-6.46zM283.3 574.70h6.46v2.90h-6.46zM205.8 577.60h6.46v2.90h-6.46zM154.1 580.50h6.46v2.90h-6.46zM121.8 583.40h6.46v2.90h-6.46z" fill="#fff0f0"/>
<path d="M154.1 312.30h6.46v2.78h-6.46zM212.3 312.30h6.46v2.78h-6.46zM212.3 317.85h6.46v2.78h-6.46zM341.5 317.85h6.46v2.78h-6.46zM341.5 323.40h6.46v2.78h-6.46zM244.6 326.18h6.46v2.78h-6.46zM199.3 331.73h6.46v2.78h-6.46zM270.4 331.73h6.46v2.78h-6.46zM309.2 331.73h6.46v2.78h-6.46zM289.8 337.28h6.46v2.78h-6.46zM244.6 340.06h6.46v2.78h-6.46zM218.7 345.61h6.46v2.78h-6.46zM231.6 345.61h6.46v2.78h-6.46zM328.5 348.39h6.46v2.78h-6.46zM341.5 353.94h6.46v2.78h-6.46zM218.7 359.49h6.46v2.78h-6.46zM251.0 359.49h6.46v2.78h-6.46zM218.7 362.27h6.46v2.78h-6.46zM302.7 367.82h6.46v2.78h-6.46zM218.7 370.60h6.46v2.78h-6.46zM302.7 370.60h6.46v2.78h-6.46zM231.6 378.92h6.46v2.78h-6.46zM302.7 378.92h6.46v2.78h-6.46zM192.9 388.04h6.46v2.84h-6.46zM205.8 388.04h6.46v2.84h-6.46zM296.2 393.72h6.46v2.84h-6.46zM328.5 393.72h6.46v2.84h-6.46zM341.5 393.72h6.46v2.84h-6.46zM354.4 393.72h4.92v2.84h-4.92zM108.9 396.56h6.46v2.84h-6.46zM276.9 402.23h6.46v2.84h-6.46zM347.9 402.23h6.46v2.84h-6.46zM302.7 405.07h6.46v2.84h-6.46zM154.1 407.91h6.46v2.84h-6.46zM315.6 407.91h6.46v2.84h-6.46zM335.0 407.91h6.46v2.84h-6.46zM121.8 410.75h6.46v2.84h-6.46zM251.0 410.75h6.46v2.84h-6.46zM218.7 413.59h6.46v2.84h-6.46zM192.9 416.43h6.46v2.84h-6.46zM231.6 416.43h6.46v2.84h-6.46zM289.8 419.27h6.46v2.84h-6.46zM251.0 424.94h6.46v2.84h-6.46zM257.5 424.94h6.46v2.84h-6.46zM302.7 427.78h6.46v2.84h-6.46zM328.5 430.62h6.46v2.84h-6.46zM315.6 433.46h6.46v2.84h-6.46zM335.0 433.46h6.46v2.84h-6.46zM108.9 441.70h6.46v2.89h-6.46zM186.4 441.70h6.46v2.89h-6.46zM115.4 444.59h6.46v2.89h-6.46zM289.8 444.59h6.46v2.89h-6.46zM173.5 447.48h6.46v2.89h-6.46zM231.6 447.48h6.46v2.89h-6.46zM309.2 447.48h6.46v2.89h-6.46zM134.7 453.26h6.46v2.89h-6.46zM192.9 453.26h6.46v2.89h-6.46zM244.6 453.26h6.46v2.89h-6.46zM276.9 456.14h6.46v2.89h-6.46zM335.0 456.14h6.46v2.89h-6.46zM341.5 461.92h6.46v2.89h-6.46zM212.3 464.81h6.46v2.89h-6.46zM225.2 464.81h6.46v2.89h-6.46zM238.1 470.59h6.46v2.89h-6.46zM328.5 470.59h6.46v2.89h-6.46zM134.7 476.37h6.46v2.89h-6.46zM335.0 476.37h6.46v2.89h-6.46zM341.5 479.26h6.46v2.89h-6.46zM180.0 482.14h6.46v2.89h-6.46zM238.1 482.14h6.46v2.89h-6.46zM128.3 485.03h6.46v2.89h-6.46zM121.8 487.92h6.46v2.89h-6.46zM354.4 490.81h4.92v2.89h-4.92zM141.2 498.00h6.46v2.88h-6.46zM192.9 500.88h6.46v2.88h-6.46zM192.9 509.51h6.46v2.88h-6.46zM231.6 512.39h6.46v2.88h-6.46zM296.2 515.27h6.46v2.88h-6.46zM115.4 518.14h6.46v2.88h-6.46zM231.6 521.02h6.46v2.88h-6.46zM244.6 521.02h6.46v2.88h-6.46zM231.6 523.90h6.46v2.88h-6.46zM276.9 523.90h6.46v2.88h-6.46zM115.4 526.78h6.46v2.88h-6.46zM231.6 526.78h6.46v2.88h-6.46zM231.6 529.66h6.46v2.88h-6.46zM257.5 529.66h6.46v2.88h-6.46zM354.4 529.66h4.92v2.88h-4.92zM192.9 535.41h6.46v2.88h-6.46zM212.3 535.41h6.46v2.88h-6.46zM296.2 535.41h6.46v2.88h-6.46zM347.9 535.41h6.46v2.88h-6.46zM173.5 538.29h6.46v2.88h-6.46zM238.1 538.29h6.46v2.88h-6.46zM270.4 538.29h6.46v2.88h-6.46zM238.1 541.17h6.46v2.88h-6.46zM115.4 544.04h6.46v2.88h-6.46zM180.0 544.04h6.46v2.88h-6.46zM167.0 546.92h6.46v2.88h-6.46zM180.0 546.92h6.46v2.88h-6.46zM160.6 557.30h6.46v2.90h-6.46zM238.1 566.00h6.46v2.90h-6.46zM167.0 568.90h6.46v2.90h-6.46zM186.4 568.90h6.46v2.90h-6.46zM192.9 568.90h6.46v2.90h-6.46zM231.6 568.90h6.46v2.90h-6.46zM180.0 571.80h6.46v2.90h-6.46zM180.0 574.70h6.46v2.90h-6.46zM218.7 574.70h6.46v2.90h-6.46zM231.6 574.70h6.46v2.90h-6.46zM251.0 574.70h6.46v2.90h-6.46zM225.2 577.60h6.46v2.90h-6.46zM347.9 577.60h6.46v2.90h-6.46zM218.7 580.50h6.46v2.90h-6.46zM231.6 580.50h6.46v2.90h-6.46zM192.9 583.40h6.46v2.90h-6.46zM218.7 583.40h6.46v2.90h-6.46zM322.1 583.40h6.46v2.90h-6.46zM328.5 583.40h6.46v2.90h-6.46z" fill="#d0d0ff"/>
<path d="M160.6 312.30h6.46v2.78h-6.46zM128.3 315.08h6.46v2.78h-6.46zM315.6 315.08h6.46v2.78h-6.46zM121.8 317.85h6.46v2.78h-6.46zM315.6 317.85h6.46v2.78h-6.46zM141.2 320.63h6.46v2.78h-6.46zM128.3 331.73h6.46v2.78h-6.46zM315.6 334.51h6.46v2.78h-6.46zM186.4 337.28h6.46v2.78h-6.46zM192.9 337.28h6.46v2.78h-6.46zM167.0 342.84h6.46v2.78h-6.46zM192.9 342.84h6.46v2.78h-6.46zM173.5 359.49h6.46v2.78h-6.46zM192.9 359.49h6.46v2.78h-6.46zM192.9 365.04h6.46v2.78h-6.46zM141.2 367.82h6.46v2.78h-6.46zM167.0 370.60h6.46v2.78h-6.46zM121.8 376.15h6.46v2.78h-6.46zM289.8 376.15h6.46v2.78h-6.46zM167.0 378.92h6.46v2.78h-6.46zM238.1 385.20h6.46v2.84h-6.46zM231.6 390.88h6.46v2.84h-6.46zM160.6 396.56h6.46v2.84h-6.46zM167.0 396.56h6.46v2.84h-6.46zM225.2 396.56h6.46v2.84h-6.46zM309.2 402.23h6.46v2.84h-6.46zM180.0 405.07h6.46v2.84h-6.46zM263.9 405.07h6.46v2.84h-6.46zM289.8 405.07h6.46v2.84h-6.46zM180.0 407.91h6.46v2.84h-6.46zM108.9 413.59h6.46v2.84h-6.46zM134.7 422.11h6.46v2.84h-6.46zM199.3 450.37h6.46v2.89h-6.46zM160.6 453.26h6.46v2.89h-6.46zM167.0 459.03h6.46v2.89h-6.46zM173.5 459.03h6.46v2.89h-6.46zM257.5 459.03h6.46v2.89h-6.46zM263.9 464.81h6.46v2.89h-6.46zM302.7 464.81h6.46v2.89h-6.46zM173.5 470.59h6.46v2.89h-6.46zM251.0 470.59h6.46v2.89h-6.46zM347.9 470.59h6.46v2.89h-6.46zM147.7 473.48h6.46v2.89h-6.46zM186.4 476.37h6.46v2.89h-6.46zM347.9 479.26h6.46v2.89h-6.46zM147.7 482.14h6.46v2.89h-6.46zM192.9 485.03h6.46v2.89h-6.46zM283.3 487.92h6.46v2.89h-6.46zM270.4 490.81h6.46v2.89h-6.46zM283.3 490.81h6.46v2.89h-6.46zM108.9 498.00h6.46v2.88h-6.46zM134.7 506.63h6.46v2.88h-6.46zM154.1 512.39h6.46v2.88h-6.46zM354.4 512.39h4.92v2.88h-4.92zM160.6 515.27h6.46v2.88h-6.46zM173.5 515.27h6.46v2.88h-6.46zM328.5 515.27h6.46v2.88h-6.46zM147.7 518.14h6.46v2.88h-6.46zM335.0 518.14h6.46v2.88h-6.46zM315.6 544.04h6.46v2.88h-6.46zM108.9 554.40h6.46v2.90h-6.46zM335.0 557.30h6.46v2.90h-6.46zM154.1 571.80h6.46v2.90h-6.46z" fill="#ffb8b8"/>
<path d="M167.0 312.30h6.46v2.78h-6.46zM141.2 315.08h6.46v2.78h-6.46zM160.6 315.08h6.46v2.78h-6.46zM244.6 315.08h6.46v2.78h-6.46zM180.0 317.85h6.46v2.78h-6.46zM147.7 320.63h6.46v2.78h-6.46zM173.5 320.63h6.46v2.78h-6.46zM192.9 320.63h6.46v2.78h-6.46zM270.4 320.63h6.46v2.78h-6.46zM115.4 323.40h6.46v2.78h-6.46zM322.1 323.40h6.46v2.78h-6.46zM283.3 326.18h6.46v2.78h-6.46zM173.5 328.96h6.46v2.78h-6.46zM121.8 334.51h6.46v2.78h-6.46zM121.8 337.28h6.46v2.78h-6.46zM134.7 337.28h6.46v2.78h-6.46zM160.6 337.28h6.46v2.78h-6.46zM115.4 340.06h6.46v2.78h-6.46zM141.2 340.06h6.46v2.78h-6.46zM289.8 340.06h6.46v2.78h-6.46zM134.7 342.84h6.46v2.78h-6.46zM141.2 342.84h6.46v2.78h-6.46zM147.7 342.84h6.46v2.78h-6.46zM289.8 345.61h6.46v2.78h-6.46zM167.0 348.39h6.46v2.78h-6.46zM322.1 348.39h6.46v2.78h-6.46zM180.0 351.16h6.46v2.78h-6.46zM192.9 353.94h6.46v2.78h-6.46zM128.3 356.72h6.46v2.78h-6.46zM186.4 356.72h6.46v2.78h-6.46zM289.8 356.72h6.46v2.78h-6.46zM322.1 356.72h6.46v2.78h-6.46zM134.7 359.49h6.46v2.78h-6.46zM167.0 359.49h6.46v2.78h-6.46zM180.0 359.49h6.46v2.78h-6.46zM322.1 359.49h6.46v2.78h-6.46zM134.7 362.27h6.46v2.78h-6.46zM160.6 362.27h6.46v2.78h-6.46zM186.4 362.27h6.46v2.78h-6.46zM289.8 362.27h6.46v2.78h-6.46zM121.8 365.04h6.46v2.78h-6.46zM296.2 365.04h6.46v2.78h-6.46zM322.1 365.04h6.46v2.78h-6.46zM173.5 367.82h6.46v2.78h-6.46zM192.9 367.82h6.46v2.78h-6.46zM289.8 367.82h6.46v2.78h-6.46zM173.5 373.37h6.46v2.78h-6.46zM347.9 373.37h6.46v2.78h-6.46zM128.3 376.15h6.46v2.78h-6.46zM147.7 376.15h6.46v2.78h-6.46zM322.1 376.15h6.46v2.78h-6.46zM128.3 378.92h6.46v2.78h-6.46zM147.7 378.92h6.46v2.78h-6.46zM160.6 378.92h6.46v2.78h-6.46zM192.9 378.92h6.46v2.78h-6.46zM199.3 378.92h6.46v2.78h-6.46zM128.3 388.04h6.46v2.84h-6.46zM315.6 388.04h6.46v2.84h-6.46zM244.6 390.88h6.46v2.84h-6.46zM309.2 390.88h6.46v2.84h-6.46zM160.6 393.72h6.46v2.84h-6.46zM212.3 393.72h6.46v2.84h-6.46zM270.4 396.56h6.46v2.84h-6.46zM154.1 402.23h6.46v2.84h-6.46zM238.1 402.23h6.46v2.84h-6.46zM315.6 402.23h6.46v2.84h-6.46zM167.0 405.07h6.46v2.84h-6.46zM186.4 405.07h6.46v2.84h-6.46zM309.2 405.07h6.46v2.84h-6.46zM108.9 407.91h6.46v2.84h-6.46zM212.3 407.91h6.46v2.84h-6.46zM199.3 413.59h6.46v2.84h-6.46zM270.4 413.59h6.46v2.84h-6.46zM225.2 416.43h6.46v2.84h-6.46zM141.2 419.27h6.46v2.84h-6.46zM270.4 419.27h6.46v2.84h-6.46zM244.6 422.11h6.46v2.84h-6.46zM128.3 424.94h6.46v2.84h-6.46zM238.1 424.94h6.46v2.84h-6.46zM128.3 427.78h6.46v2.84h-6.46zM225.2 427.78h6.46v2.84h-6.46zM154.1 433.46h6.46v2.84h-6.46zM147.7 444.59h6.46v2.89h-6.46zM154.1 444.59h6.46v2.89h-6.46zM167.0 444.59h6.46v2.89h-6.46zM238.1 444.59h6.46v2.89h-6.46zM270.4 444.59h6.46v2.89h-6.46zM192.9 447.48h6.46v2.89h-6.46zM283.3 447.48h6.46v2.89h-6.46zM315.6 447.48h6.46v2.89h-6.46zM335.0 447.48h6.46v2.89h-6.46zM167.0 450.37h6.46v2.89h-6.46zM251.0 450.37h6.46v2.89h-6.46zM147.7 453.26h6.46v2.89h-6.46zM141.2 459.03h6.46v2.89h-6.46zM186.4 459.03h6.46v2.89h-6.46zM231.6 459.03h6.46v2.89h-6.46zM270.4 459.03h6.46v2.89h-6.46zM296.2 459.03h6.46v2.89h-6.46zM154.1 464.81h6.46v2.89h-6.46zM283.3 464.81h6.46v2.89h-6.46zM328.5 464.81h6.46v2.89h-6.46zM186.4 467.70h6.46v2.89h-6.46zM302.7 467.70h6.46v2.89h-6.46zM347.9 467.70h6.46v2.89h-6.46zM167.0 470.59h6.46v2.89h-6.46zM192.9 470.59h6.46v2.89h-6.46zM296.2 470.59h6.46v2.89h-6.46zM186.4 473.48h6.46v2.89h-6.46zM173.5 479.26h6.46v2.89h-6.46zM218.7 479.26h6.46v2.89h-6.46zM263.9 482.14h6.46v2.89h-6.46zM315.6 482.14h6.46v2.89h-6.46zM154.1 487.92h6.46v2.89h-6.46zM251.0 487.92h6.46v2.89h-6.46zM186.4 490.81h6.46v2.89h-6.46zM199.3 490.81h6.46v2.89h-6.46zM328.5 498.00h6.46v2.88h-6.46zM347.9 503.76h6.46v2.88h-6.46zM244.6 506.63h6.46v2.88h-6.46zM302.7 506.63h6.46v2.88h-6.46zM108.9 509.51h6.46v2.88h-6.46zM141.2 509.51h6.46v2.88h-6.46zM154.1 509.51h6.46v2.88h-6.46zM347.9 509.51h6.46v2.88h-6.46zM289.8 512.39h6.46v2.88h-6.46zM315.6 512.39h6.46v2.88h-6.46zM108.9 518.14h6.46v2.88h-6.46zM154.1 518.14h6.46v2.88h-6.46zM296.2 518.14h6.46v2.88h-6.46zM354.4 518.14h4.92v2.88h-4.92zM108.9 521.02h6.46v2.88h-6.46zM289.8 521.02h6.46v2.88h-6.46zM341.5 521.02h6.46v2.88h-6.46zM354.4 521.02h4.92v2.88h-4.92zM289.8 523.90h6.46v2.88h-6.46zM315.6 523.90h6.46v2.88h-6.46zM328.5 523.90h6.46v2.88h-6.46zM251.0 526.78h6.46v2.88h-6.46zM257.5 526.78h6.46v2.88h-6.46zM309.2 526.78h6.46v2.88h-6.46zM341.5 526.78h6.46v2.88h-6.46zM160.6 529.66h6.46v2.88h-6.46zM283.3 529.66h6.46v2.88h-6.46zM128.3 535.41h6.46v2.88h-6.46zM283.3 535.41h6.46v2.88h-6.46zM354.4 535.41h4.92v2.88h-4.92zM289.8 538.29h6.46v2.88h-6.46zM341.5 541.17h6.46v2.88h-6.46zM354.4 541.17h4.92v2.88h-4.92zM199.3 544.04h6.46v2.88h-6.46zM218.7 544.04h6.46v2.88h-6.46zM283.3 546.92h6.46v2.88h-6.46zM315.6 546.92h6.46v2.88h-6.46zM309.2 554.40h6.46v2.90h-6.46zM154.1 557.30h6.46v2.90h-6.46zM283.3 557.30h6.46v2.90h-6.46zM160.6 560.20h6.46v2.90h-6.46zM173.5 560.20h6.46v2.90h-6.46zM263.9 560.20h6.46v2.90h-6.46zM354.4 560.20h4.92v2.90h-4.92zM108.9 563.10h6.46v2.90h-6.46zM141.2 563.10h6.46v2.90h-6.46zM335.0 563.10h6.46v2.90h-6.46zM128.3 568.90h6.46v2.90h-6.46zM205.8 568.90h6.46v2.90h-6.46zM244.6 571.80h6.46v2.90h-6.46zM160.6 574.70h6.46v2.90h-6.46zM173.5 574.70h6.46v2.90h-6.46zM302.7 574.70h6.46v2.90h-6.46zM309.2 574.70h6.46v2.90h-6.46zM147.7 577.60h6.46v2.90h-6.46zM212.3 577.60h6.46v2.90h-6.46zM154.1 583.40h6.46v2.90h-6.46z" fill="#ffd0d0"/>
<path d="M173.5 312.30h6.46v2.78h-6.46zM270.4 312.30h6.46v2.78h-6.46zM205.8 315.08h6.46v2.78h-6.46zM251.0 315.08h6.46v2.78h-6.46zM302.7 315.08h6.46v2.78h-6.46zM263.9 317.85h6.46v2.78h-6.46zM296.2 317.85h6.46v2.78h-6.46zM309.2 317.85h6.46v2.78h-6.46zM108.9 320.63h6.46v2.78h-6.46zM180.0 320.63h6.46v2.78h-6.46zM296.2 320.63h6.46v2.78h-6.46zM302.7 320.63h6.46v2.78h-6.46zM108.9 323.40h6.46v2.78h-6.46zM128.3 323.40h6.46v2.78h-6.46zM180.0 323.40h6.46v2.78h-6.46zM335.0 323.40h6.46v2.78h-6.46zM128.3 326.18h6.46v2.78h-6.46zM296.2 326.18h6.46v2.78h-6.46zM315.6 326.18h6.46v2.78h-6.46zM296.2 328.96h6.46v2.78h-6.46zM341.5 328.96h6.46v2.78h-6.46zM115.4 331.73h6.46v2.78h-6.46zM180.0 331.73h6.46v2.78h-6.46zM257.5 331.73h6.46v2.78h-6.46zM347.9 331.73h6.46v2.78h-6.46zM354.4 331.73h4.92v2.78h-4.92zM263.9 334.51h6.46v2.78h-6.46zM270.4 334.51h6.46v2.78h-6.46zM238.1 337.28h6.46v2.78h-6.46zM251.0 337.28h6.46v2.78h-6.46zM328.5 337.28h6.46v2.78h-6.46zM335.0 337.28h6.46v2.78h-6.46zM354.4 337.28h4.92v2.78h-4.92zM180.0 340.06h6.46v2.78h-6.46zM186.4 340.06h6.46v2.78h-6.46zM302.7 340.06h6.46v2.78h-6.46zM322.1 340.06h6.46v2.78h-6.46zM335.0 340.06h6.46v2.78h-6.46zM108.9 342.84h6.46v2.78h-6.46zM276.9 342.84h6.46v2.78h-6.46zM354.4 342.84h4.92v2.78h-4.92zM128.3 345.61h6.46v2.78h-6.46zM186.4 345.61h6.46v2.78h-6.46zM296.2 345.61h6.46v2.78h-6.46zM276.9 348.39h6.46v2.78h-6.46zM341.5 348.39h6.46v2.78h-6.46zM322.1 351.16h6.46v2.78h-6.46zM154.1 353.94h6.46v2.78h-6.46zM231.6 353.94h6.46v2.78h-6.46zM335.0 353.94h6.46v2.78h-6.46zM354.4 353.94h4.92v2.78h-4.92zM302.7 356.72h6.46v2.78h-6.46zM141.2 359.49h6.46v2.78h-6.46zM212.3 359.49h6.46v2.78h-6.46zM225.2 359.49h6.46v2.78h-6.46zM302.7 359.49h6.46v2.78h-6.46zM238.1 362.27h6.46v2.78h-6.46zM108.9 365.04h6.46v2.78h-6.46zM205.8 365.04h6.46v2.78h-6.46zM231.6 365.04h6.46v2.78h-6.46zM238.1 365.04h6.46v2.78h-6.46zM276.9 365.04h6.46v2.78h-6.46zM205.8 367.82h6.46v2.78h-6.46zM328.5 367.82h6.46v2.78h-6.46zM335.0 367.82h6.46v2.78h-6.46zM180.0 370.60h6.46v2.78h-6.46zM251.0 370.60h6.46v2.78h-6.46zM276.9 370.60h6.46v2.78h-6.46zM309.2 370.60h6.46v2.78h-6.46zM335.0 370.60h6.46v2.78h-6.46zM154.1 373.37h6.46v2.78h-6.46zM115.4 376.15h6.46v2.78h-6.46zM276.9 376.15h6.46v2.78h-6.46zM328.5 376.15h6.46v2.78h-6.46zM212.3 378.92h6.46v2.78h-6.46zM296.2 378.92h6.46v2.78h-6.46zM225.2 385.20h6.46v2.84h-6.46zM121.8 388.04h6.46v2.84h-6.46zM147.7 388.04h6.46v2.84h-6.46zM244.6 388.04h6.46v2.84h-6.46zM251.0 388.04h6.46v2.84h-6.46zM270.4 390.88h6.46v2.84h-6.46zM276.9 390.88h6.46v2.84h-6.46zM199.3 393.72h6.46v2.84h-6.46zM205.8 393.72h6.46v2.84h-6.46zM251.0 393.72h6.46v2.84h-6.46zM315.6 393.72h6.46v2.84h-6.46zM244.6 396.56h6.46v2.84h-6.46zM289.8 396.56h6.46v2.84h-6.46zM180.0 399.39h6.46v2.84h-6.46zM257.5 399.39h6.46v2.84h-6.46zM302.7 399.39h6.46v2.84h-6.46zM244.6 402.23h6.46v2.84h-6.46zM289.8 402.23h6.46v2.84h-6.46zM335.0 402.23h6.46v2.84h-6.46zM322.1 405.07h6.46v2.84h-6.46zM354.4 405.07h4.92v2.84h-4.92zM121.8 407.91h6.46v2.84h-6.46zM167.0 407.91h6.46v2.84h-6.46zM186.4 407.91h6.46v2.84h-6.46zM199.3 407.91h6.46v2.84h-6.46zM263.9 407.91h6.46v2.84h-6.46zM296.2 410.75h6.46v2.84h-6.46zM121.8 413.59h6.46v2.84h-6.46zM154.1 413.59h6.46v2.84h-6.46zM251.0 413.59h6.46v2.84h-6.46zM276.9 413.59h6.46v2.84h-6.46zM347.9 413.59h6.46v2.84h-6.46zM263.9 416.43h6.46v2.84h-6.46zM167.0 419.27h6.46v2.84h-6.46zM231.6 419.27h6.46v2.84h-6.46zM154.1 422.11h6.46v2.84h-6.46zM205.8 422.11h6.46v2.84h-6.46zM225.2 422.11h6.46v2.84h-6.46zM251.0 422.11h6.46v2.84h-6.46zM322.1 422.11h6.46v2.84h-6.46zM347.9 422.11h6.46v2.84h-6.46zM173.5 424.94h6.46v2.84h-6.46zM186.4 424.94h6.46v2.84h-6.46zM315.6 424.94h6.46v2.84h-6.46zM335.0 424.94h6.46v2.84h-6.46zM354.4 424.94h4.92v2.84h-4.92zM154.1 427.78h6.46v2.84h-6.46zM257.5 427.78h6.46v2.84h-6.46zM141.2 430.62h6.46v2.84h-6.46zM147.7 430.62h6.46v2.84h-6.46zM218.7 430.62h6.46v2.84h-6.46zM251.0 433.46h6.46v2.84h-6.46zM154.1 441.70h6.46v2.89h-6.46zM322.1 441.70h6.46v2.89h-6.46zM244.6 444.59h6.46v2.89h-6.46zM283.3 444.59h6.46v2.89h-6.46zM121.8 450.37h6.46v2.89h-6.46zM147.7 450.37h6.46v2.89h-6.46zM186.4 453.26h6.46v2.89h-6.46zM205.8 453.26h6.46v2.89h-6.46zM173.5 456.14h6.46v2.89h-6.46zM218.7 456.14h6.46v2.89h-6.46zM341.5 459.03h6.46v2.89h-6.46zM141.2 461.92h6.46v2.89h-6.46zM192.9 461.92h6.46v2.89h-6.46zM199.3 461.92h6.46v2.89h-6.46zM115.4 464.81h6.46v2.89h-6.46zM192.9 464.81h6.46v2.89h-6.46zM121.8 467.70h6.46v2.89h-6.46zM296.2 467.70h6.46v2.89h-6.46zM341.5 470.59h6.46v2.89h-6.46zM354.4 470.59h4.92v2.89h-4.92zM180.0 473.48h6.46v2.89h-6.46zM205.8 473.48h6.46v2.89h-6.46zM218.7 473.48h6.46v2.89h-6.46zM302.7 473.48h6.46v2.89h-6.46zM315.6 473.48h6.46v2.89h-6.46zM108.9 476.37h6.46v2.89h-6.46zM121.8 476.37h6.46v2.89h-6.46zM225.2 476.37h6.46v2.89h-6.46zM238.1 476.37h6.46v2.89h-6.46zM263.9 479.26h6.46v2.89h-6.46zM173.5 482.14h6.46v2.89h-6.46zM289.8 482.14h6.46v2.89h-6.46zM302.7 482.14h6.46v2.89h-6.46zM341.5 482.14h6.46v2.89h-6.46zM121.8 485.03h6.46v2.89h-6.46zM251.0 485.03h6.46v2.89h-6.46zM289.8 485.03h6.46v2.89h-6.46zM154.1 490.81h6.46v2.89h-6.46zM199.3 498.00h6.46v2.88h-6.46zM244.6 498.00h6.46v2.88h-6.46zM251.0 498.00h6.46v2.88h-6.46zM289.8 498.00h6.46v2.88h-6.46zM108.9 500.88h6.46v2.88h-6.46zM296.2 500.88h6.46v2.88h-6.46zM231.6 503.76h6.46v2.88h-6.46zM257.5 503.76h6.46v2.88h-6.46zM335.0 503.76h6.46v2.88h-6.46zM341.5 503.76h6.46v2.88h-6.46zM121.8 506.63h6.46v2.88h-6.46zM212.3 506.63h6.46v2.88h-6.46zM263.9 506.63h6.46v2.88h-6.46zM296.2 509.51h6.46v2.88h-6.46zM309.2 509.51h6.46v2.88h-6.46zM160.6 512.39h6.46v2.88h-6.46zM186.4 512.39h6.46v2.88h-6.46zM263.9 512.39h6.46v2.88h-6.46zM270.4 512.39h6.46v2.88h-6.46zM302.7 512.39h6.46v2.88h-6.46zM147.7 515.27h6.46v2.88h-6.46zM238.1 515.27h6.46v2.88h-6.46zM121.8 518.14h6.46v2.88h-6.46zM205.8 518.14h6.46v2.88h-6.46zM154.1 521.02h6.46v2.88h-6.46zM180.0 521.02h6.46v2.88h-6.46zM199.3 521.02h6.46v2.88h-6.46zM238.1 523.90h6.46v2.88h-6.46zM296.2 523.90h6.46v2.88h-6.46zM147.7 526.78h6.46v2.88h-6.46zM160.6 526.78h6.46v2.88h-6.46zM199.3 526.78h6.46v2.88h-6.46zM192.9 529.66h6.46v2.88h-6.46zM309.2 529.66h6.46v2.88h-6.46zM141.2 532.53h6.46v2.88h-6.46zM147.7 532.53h6.46v2.88h-6.46zM173.5 532.53h6.46v2.88h-6.46zM225.2 532.53h6.46v2.88h-6.46zM231.6 532.53h6.46v2.88h-6.46zM251.0 532.53h6.46v2.88h-6.46zM263.9 532.53h6.46v2.88h-6.46zM238.1 535.41h6.46v2.88h-6.46zM322.1 535.41h6.46v2.88h-6.46zM192.9 538.29h6.46v2.88h-6.46zM276.9 538.29h6.46v2.88h-6.46zM315.6 538.29h6.46v2.88h-6.46zM347.9 538.29h6.46v2.88h-6.46zM231.6 541.17h6.46v2.88h-6.46zM276.9 541.17h6.46v2.88h-6.46zM192.9 544.04h6.46v2.88h-6.46zM251.0 544.04h6.46v2.88h-6.46zM322.1 544.04h6.46v2.88h-6.46zM134.7 546.92h6.46v2.88h-6.46zM212.3 546.92h6.46v2.88h-6.46zM231.6 546.92h6.46v2.88h-6.46zM244.6 546.92h6.46v2.88h-6.46zM309.2 546.92h6.46v2.88h-6.46zM335.0 546.92h6.46v2.88h-6.46zM238.1 554.40h6.46v2.90h-6.46zM276.9 554.40h6.46v2.90h-6.46zM289.8 554.40h6.46v2.90h-6.46zM322.1 554.40h6.46v2.90h-6.46zM231.6 557.30h6.46v2.90h-6.46zM289.8 557.30h6.46v2.90h-6.46zM322.1 557.30h6.46v2.90h-6.46zM218.7 560.20h6.46v2.90h-6.46zM296.2 560.20h6.46v2.90h-6.46zM218.7 563.10h6.46v2.90h-6.46zM251.0 563.10h6.46v2.90h-6.46zM276.9 563.10h6.46v2.90h-6.46zM115.4 566.00h6.46v2.90h-6.46zM160.6 566.00h6.46v2.90h-6.46zM192.9 566.00h6.46v2.90h-6.46zM231.6 566.00h6.46v2.90h-6.46zM251.0 566.00h6.46v2.90h-6.46zM302.7 566.00h6.46v2.90h-6.46zM347.9 566.00h6.46v2.90h-6.46zM141.2 568.90h6.46v2.90h-6.46zM212.3 568.90h6.46v2.90h-6.46zM218.7 568.90h6.46v2.90h-6.46zM244.6 568.90h6.46v2.90h-6.46zM302.7 568.90h6.46v2.90h-6.46zM251.0 571.80h6.46v2.90h-6.46zM121.8 574.70h6.46v2.90h-6.46zM141.2 574.70h6.46v2.90h-6.46zM238.1 574.70h6.46v2.90h-6.46zM276.9 574.70h6.46v2.90h-6.46zM315.6 574.70h6.46v2.90h-6.46zM244.6 577.60h6.46v2.90h-6.46zM315.6 577.60h6.46v2.90h-6.46zM128.3 580.50h6.46v2.90h-6.46zM147.7 580.50h6.46v2.90h-6.46zM173.5 580.50h6.46v2.90h-6.46zM192.9 580.50h6.46v2.90h-6.46zM134.7 583.40h6.46v2.90h-6.46z" fill="#f8f8ff"/>
<path d="M186.4 312.30h6.46v2.78h-6.46zM315.6 312.30h6.46v2.78h-6.46zM121.8 315.08h6.46v2.78h-6.46zM347.9 315.08h6.46v2.78h-6.46zM289.8 317.85h6.46v2.78h-6.46zM115.4 320.63h6.46v2.78h-6.46zM154.1 320.63h6.46v2.78h-6.46zM225.2 320.63h6.46v2.78h-6.46zM244.6 320.63h6.46v2.78h-6.46zM322.1 320.63h6.46v2.78h-6.46zM347.9 320.63h6.46v2.78h-6.46zM134.7 323.40h6.46v2.78h-6.46zM160.6 323.40h6.46v2.78h-6.46zM263.9 323.40h6.46v2.78h-6.46zM173.5 326.18h6.46v2.78h-6.46zM192.9 326.18h6.46v2.78h-6.46zM108.9 328.96h6.46v2.78h-6.46zM160.6 328.96h6.46v2.78h-6.46zM147.7 331.73h6.46v2.78h-6.46zM296.2 331.73h6.46v2.78h-6.46zM192.9 334.51h6.46v2.78h-6.46zM108.9 337.28h6.46v2.78h-6.46zM147.7 337.28h6.46v2.78h-6.46zM180.0 337.28h6.46v2.78h-6.46zM108.9 340.06h6.46v2.78h-6.46zM134.7 340.06h6.46v2.78h-6.46zM160.6 340.06h6.46v2.78h-6.46zM192.9 340.06h6.46v2.78h-6.46zM263.9 340.06h6.46v2.78h-6.46zM347.9 340.06h6.46v2.78h-6.46zM173.5 342.84h6.46v2.78h-6.46zM108.9 345.61h6.46v2.78h-6.46zM115.4 345.61h6.46v2.78h-6.46zM121.8 345.61h6.46v2.78h-6.46zM134.7 345.61h6.46v2.78h-6.46zM173.5 345.61h6.46v2.78h-6.46zM270.4 345.61h6.46v2.78h-6.46zM315.6 345.61h6.46v2.78h-6.46zM322.1 345.61h6.46v2.78h-6.46zM192.9 348.39h6.46v2.78h-6.46zM315.6 348.39h6.46v2.78h-6.46zM347.9 348.39h6.46v2.78h-6.46zM128.3 351.16h6.46v2.78h-6.46zM173.5 351.16h6.46v2.78h-6.46zM238.1 356.72h6.46v2.78h-6.46zM270.4 356.72h6.46v2.78h-6.46zM309.2 356.72h6.46v2.78h-6.46zM186.4 359.49h6.46v2.78h-6.46zM257.5 359.49h6.46v2.78h-6.46zM315.6 359.49h6.46v2.78h-6.46zM121.8 362.27h6.46v2.78h-6.46zM251.0 362.27h6.46v2.78h-6.46zM134.7 370.60h6.46v2.78h-6.46zM192.9 370.60h6.46v2.78h-6.46zM270.4 370.60h6.46v2.78h-6.46zM141.2 373.37h6.46v2.78h-6.46zM186.4 373.37h6.46v2.78h-6.46zM289.8 373.37h6.46v2.78h-6.46zM315.6 373.37h6.46v2.78h-6.46zM134.7 376.15h6.46v2.78h-6.46zM270.4 376.15h6.46v2.78h-6.46zM354.4 376.15h4.92v2.78h-4.92zM121.8 378.92h6.46v2.78h-6.46zM180.0 378.92h6.46v2.78h-6.46zM263.9 378.92h6.46v2.78h-6.46zM212.3 385.20h6.46v2.84h-6.46zM309.2 385.20h6.46v2.84h-6.46zM154.1 388.04h6.46v2.84h-6.46zM186.4 390.88h6.46v2.84h-6.46zM231.6 393.72h6.46v2.84h-6.46zM115.4 396.56h6.46v2.84h-6.46zM121.8 396.56h6.46v2.84h-6.46zM309.2 396.56h6.46v2.84h-6.46zM134.7 399.39h6.46v2.84h-6.46zM141.2 399.39h6.46v2.84h-6.46zM167.0 399.39h6.46v2.84h-6.46zM225.2 399.39h6.46v2.84h-6.46zM270.4 399.39h6.46v2.84h-6.46zM180.0 402.23h6.46v2.84h-6.46zM231.6 402.23h6.46v2.84h-6.46zM251.0 402.23h6.46v2.84h-6.46zM270.4 402.23h6.46v2.84h-6.46zM108.9 405.07h6.46v2.84h-6.46zM160.6 405.07h6.46v2.84h-6.46zM225.2 405.07h6.46v2.84h-6.46zM128.3 407.91h6.46v2.84h-6.46zM238.1 407.91h6.46v2.84h-6.46zM180.0 410.75h6.46v2.84h-6.46zM115.4 413.59h6.46v2.84h-6.46zM128.3 413.59h6.46v2.84h-6.46zM173.5 413.59h6.46v2.84h-6.46zM238.1 413.59h6.46v2.84h-6.46zM341.5 416.43h6.46v2.84h-6.46zM128.3 419.27h6.46v2.84h-6.46zM173.5 419.27h6.46v2.84h-6.46zM263.9 419.27h6.46v2.84h-6.46zM108.9 422.11h6.46v2.84h-6.46zM115.4 422.11h6.46v2.84h-6.46zM238.1 422.11h6.46v2.84h-6.46zM134.7 424.94h6.46v2.84h-6.46zM238.1 427.78h6.46v2.84h-6.46zM212.3 430.62h6.46v2.84h-6.46zM115.4 433.46h6.46v2.84h-6.46zM225.2 433.46h6.46v2.84h-6.46zM296.2 433.46h6.46v2.84h-6.46zM199.3 441.70h6.46v2.89h-6.46zM315.6 441.70h6.46v2.89h-6.46zM225.2 444.59h6.46v2.89h-6.46zM141.2 447.48h6.46v2.89h-6.46zM263.9 447.48h6.46v2.89h-6.46zM225.2 450.37h6.46v2.89h-6.46zM347.9 450.37h6.46v2.89h-6.46zM167.0 453.26h6.46v2.89h-6.46zM199.3 453.26h6.46v2.89h-6.46zM270.4 453.26h6.46v2.89h-6.46zM347.9 453.26h6.46v2.89h-6.46zM238.1 456.14h6.46v2.89h-6.46zM263.9 456.14h6.46v2.89h-6.46zM154.1 459.03h6.46v2.89h-6.46zM302.7 459.03h6.46v2.89h-6.46zM121.8 461.92h6.46v2.89h-6.46zM186.4 461.92h6.46v2.89h-6.46zM263.9 467.70h6.46v2.89h-6.46zM141.2 470.59h6.46v2.89h-6.46zM147.7 470.59h6.46v2.89h-6.46zM180.0 470.59h6.46v2.89h-6.46zM270.4 470.59h6.46v2.89h-6.46zM315.6 470.59h6.46v2.89h-6.46zM251.0 473.48h6.46v2.89h-6.46zM263.9 473.48h6.46v2.89h-6.46zM283.3 476.37h6.46v2.89h-6.46zM270.4 482.14h6.46v2.89h-6.46zM257.5 485.03h6.46v2.89h-6.46zM296.2 485.03h6.46v2.89h-6.46zM276.9 490.81h6.46v2.89h-6.46zM347.9 500.88h6.46v2.88h-6.46zM128.3 503.76h6.46v2.88h-6.46zM309.2 503.76h6.46v2.88h-6.46zM283.3 506.63h6.46v2.88h-6.46zM347.9 506.63h6.46v2.88h-6.46zM354.4 506.63h4.92v2.88h-4.92zM199.3 509.51h6.46v2.88h-6.46zM115.4 512.39h6.46v2.88h-6.46zM251.0 512.39h6.46v2.88h-6.46zM322.1 512.39h6.46v2.88h-6.46zM108.9 515.27h6.46v2.88h-6.46zM205.8 515.27h6.46v2.88h-6.46zM270.4 515.27h6.46v2.88h-6.46zM276.9 515.27h6.46v2.88h-6.46zM289.8 515.27h6.46v2.88h-6.46zM335.0 515.27h6.46v2.88h-6.46zM347.9 515.27h6.46v2.88h-6.46zM354.4 515.27h4.92v2.88h-4.92zM160.6 518.14h6.46v2.88h-6.46zM212.3 518.14h6.46v2.88h-6.46zM225.2 518.14h6.46v2.88h-6.46zM283.3 518.14h6.46v2.88h-6.46zM322.1 518.14h6.46v2.88h-6.46zM167.0 523.90h6.46v2.88h-6.46zM212.3 526.78h6.46v2.88h-6.46zM225.2 526.78h6.46v2.88h-6.46zM263.9 526.78h6.46v2.88h-6.46zM108.9 529.66h6.46v2.88h-6.46zM289.8 529.66h6.46v2.88h-6.46zM289.8 532.53h6.46v2.88h-6.46zM347.9 532.53h6.46v2.88h-6.46zM160.6 535.41h6.46v2.88h-6.46zM173.5 535.41h6.46v2.88h-6.46zM225.2 535.41h6.46v2.88h-6.46zM108.9 538.29h6.46v2.88h-6.46zM147.7 538.29h6.46v2.88h-6.46zM160.6 538.29h6.46v2.88h-6.46zM199.3 538.29h6.46v2.88h-6.46zM283.3 538.29h6.46v2.88h-6.46zM296.2 538.29h6.46v2.88h-6.46zM212.3 541.17h6.46v2.88h-6.46zM283.3 541.17h6.46v2.88h-6.46zM309.2 541.17h6.46v2.88h-6.46zM335.0 541.17h6.46v2.88h-6.46zM347.9 541.17h6.46v2.88h-6.46zM147.7 544.04h6.46v2.88h-6.46zM154.1 544.04h6.46v2.88h-6.46zM283.3 544.04h6.46v2.88h-6.46zM341.5 544.04h6.46v2.88h-6.46zM354.4 544.04h4.92v2.88h-4.92zM108.9 546.92h6.46v2.88h-6.46zM205.8 546.92h6.46v2.88h-6.46zM341.5 546.92h6.46v2.88h-6.46zM115.4 554.40h6.46v2.90h-6.46zM212.3 554.40h6.46v2.90h-6.46zM263.9 554.40h6.46v2.90h-6.46zM167.0 557.30h6.46v2.90h-6.46zM173.5 557.30h6.46v2.90h-6.46zM205.8 557.30h6.46v2.90h-6.46zM212.3 557.30h6.46v2.90h-6.46zM257.5 557.30h6.46v2.90h-6.46zM296.2 557.30h6.46v2.90h-6.46zM167.0 560.20h6.46v2.90h-6.46zM257.5 560.20h6.46v2.90h-6.46zM289.8 560.20h6.46v2.90h-6.46zM328.5 560.20h6.46v2.90h-6.46zM341.5 560.20h6.46v2.90h-6.46zM173.5 563.10h6.46v2.90h-6.46zM212.3 563.10h6.46v2.90h-6.46zM108.9 566.00h6.46v2.90h-6.46zM134.7 566.00h6.46v2.90h-6.46zM328.5 566.00h6.46v2.90h-6.46zM283.3 568.90h6.46v2.90h-6.46zM263.9 571.80h6.46v2.90h-6.46zM283.3 571.80h6.46v2.90h-6.46zM341.5 571.80h6.46v2.90h-6.46zM296.2 574.70h6.46v2.90h-6.46zM322.1 574.70h6.46v2.90h-6.46zM341.5 574.70h6.46v2.90h-6.46zM108.9 577.60h6.46v2.90h-6.46zM173.5 577.60h6.46v2.90h-6.46zM296.2 577.60h6.46v2.90h-6.46zM283.3 580.50h6.46v2.90h-6.46z" fill="#ffd8d8"/>
<path d="M192.9 312.30h6.46v2.78h-6.46zM322.1 312.30h6.46v2.78h-6.46zM276.9 315.08h6.46v2.78h-6.46zM335.0 315.08h6.46v2.78h-6.46zM134.7 317.85h6.46v2.78h-6.46zM186.4 317.85h6.46v2.78h-6.46zM167.0 323.40h6.46v2.78h-6.46zM315.6 323.40h6.46v2.78h-6.46zM134.7 328.96h6.46v2.78h-6.46zM173.5 334.51h6.46v2.78h-6.46zM141.2 337.28h6.46v2.78h-6.46zM276.9 340.06h6.46v2.78h-6.46zM128.3 348.39h6.46v2.78h-6.46zM134.7 348.39h6.46v2.78h-6.46zM160.6 351.16h6.46v2.78h-6.46zM315.6 351.16h6.46v2.78h-6.46zM134.7 353.94h6.46v2.78h-6.46zM315.6 353.94h6.46v2.78h-6.46zM347.9 353.94h6.46v2.78h-6.46zM263.9 356.72h6.46v2.78h-6.46zM276.9 359.49h6.46v2.78h-6.46zM160.6 365.04h6.46v2.78h-6.46zM173.5 365.04h6.46v2.78h-6.46zM270.4 365.04h6.46v2.78h-6.46zM315.6 365.04h6.46v2.78h-6.46zM134.7 367.82h6.46v2.78h-6.46zM186.4 367.82h6.46v2.78h-6.46zM186.4 370.60h6.46v2.78h-6.46zM147.7 373.37h6.46v2.78h-6.46zM160.6 373.37h6.46v2.78h-6.46zM180.0 373.37h6.46v2.78h-6.46zM309.2 373.37h6.46v2.78h-6.46zM244.6 376.15h6.46v2.78h-6.46zM315.6 376.15h6.46v2.78h-6.46zM115.4 378.92h6.46v2.78h-6.46zM186.4 378.92h6.46v2.78h-6.46zM322.1 378.92h6.46v2.78h-6.46zM347.9 378.92h6.46v2.78h-6.46zM160.6 388.04h6.46v2.84h-6.46zM238.1 390.88h6.46v2.84h-6.46zM121.8 393.72h6.46v2.84h-6.46zM167.0 393.72h6.46v2.84h-6.46zM218.7 396.56h6.46v2.84h-6.46zM160.6 399.39h6.46v2.84h-6.46zM218.7 399.39h6.46v2.84h-6.46zM115.4 402.23h6.46v2.84h-6.46zM108.9 416.43h6.46v2.84h-6.46zM128.3 416.43h6.46v2.84h-6.46zM108.9 419.27h6.46v2.84h-6.46zM115.4 419.27h6.46v2.84h-6.46zM238.1 419.27h6.46v2.84h-6.46zM309.2 419.27h6.46v2.84h-6.46zM354.4 419.27h4.92v2.84h-4.92zM128.3 422.11h6.46v2.84h-6.46zM212.3 422.11h6.46v2.84h-6.46zM115.4 427.78h6.46v2.84h-6.46zM270.4 427.78h6.46v2.84h-6.46zM347.9 441.70h6.46v2.89h-6.46zM263.9 444.59h6.46v2.89h-6.46zM276.9 447.48h6.46v2.89h-6.46zM154.1 450.37h6.46v2.89h-6.46zM180.0 450.37h6.46v2.89h-6.46zM225.2 461.92h6.46v2.89h-6.46zM283.3 461.92h6.46v2.89h-6.46zM218.7 464.81h6.46v2.89h-6.46zM199.3 467.70h6.46v2.89h-6.46zM186.4 470.59h6.46v2.89h-6.46zM263.9 470.59h6.46v2.89h-6.46zM309.2 470.59h6.46v2.89h-6.46zM154.1 476.37h6.46v2.89h-6.46zM192.9 476.37h6.46v2.89h-6.46zM257.5 476.37h6.46v2.89h-6.46zM283.3 482.14h6.46v2.89h-6.46zM199.3 487.92h6.46v2.89h-6.46zM257.5 487.92h6.46v2.89h-6.46zM173.5 490.81h6.46v2.89h-6.46zM347.9 490.81h6.46v2.89h-6.46zM134.7 503.76h6.46v2.88h-6.46zM276.9 503.76h6.46v2.88h-6.46zM141.2 506.63h6.46v2.88h-6.46zM199.3 506.63h6.46v2.88h-6.46zM289.8 506.63h6.46v2.88h-6.46zM354.4 509.51h4.92v2.88h-4.92zM328.5 512.39h6.46v2.88h-6.46zM322.1 515.27h6.46v2.88h-6.46zM199.3 518.14h6.46v2.88h-6.46zM276.9 518.14h6.46v2.88h-6.46zM315.6 518.14h6.46v2.88h-6.46zM160.6 521.02h6.46v2.88h-6.46zM309.2 532.53h6.46v2.88h-6.46zM328.5 532.53h6.46v2.88h-6.46zM354.4 532.53h4.92v2.88h-4.92zM205.8 535.41h6.46v2.88h-6.46zM121.8 538.29h6.46v2.88h-6.46zM341.5 538.29h6.46v2.88h-6.46zM263.9 541.17h6.46v2.88h-6.46zM154.1 546.92h6.46v2.88h-6.46zM128.3 554.40h6.46v2.90h-6.46zM296.2 554.40h6.46v2.90h-6.46zM199.3 557.30h6.46v2.90h-6.46zM335.0 560.20h6.46v2.90h-6.46zM257.5 563.10h6.46v2.90h-6.46zM309.2 563.10h6.46v2.90h-6.46zM199.3 566.00h6.46v2.90h-6.46zM309.2 566.00h6.46v2.90h-6.46zM115.4 583.40h6.46v2.90h-6.46zM276.9 583.40h6.46v2.90h-6.46zM335.0 583.40h6.46v2.90h-6.46zM341.5 583.40h6.46v2.90h-6.46z" fill="#ffc8c8"/>
<path d="M205.8 312.30h6.46v2.78h-6.46zM251.0 312.30h6.46v2.78h-6.46zM257.5 312.30h6.46v2.78h-6.46zM238.1 315.08h6.46v2.78h-6.46zM341.5 326.18h6.46v2.78h-6.46zM270.4 328.96h6.46v2.78h-6.46zM328.5 328.96h6.46v2.78h-6.46zM335.0 328.96h6.46v2.78h-6.46zM283.3 331.73h6.46v2.78h-6.46zM225.2 334.51h6.46v2.78h-6.46zM251.0 334.51h6.46v2.78h-6.46zM257.5 334.51h6.46v2.78h-6.46zM296.2 334.51h6.46v2.78h-6.46zM257.5 337.28h6.46v2.78h-6.46zM205.8 340.06h6.46v2.78h-6.46zM225.2 342.84h6.46v2.78h-6.46zM225.2 345.61h6.46v2.78h-6.46zM257.5 345.61h6.46v2.78h-6.46zM186.4 348.39h6.46v2.78h-6.46zM231.6 351.16h6.46v2.78h-6.46zM218.7 353.94h6.46v2.78h-6.46zM231.6 356.72h6.46v2.78h-6.46zM238.1 359.49h6.46v2.78h-6.46zM225.2 367.82h6.46v2.78h-6.46zM251.0 367.82h6.46v2.78h-6.46zM212.3 370.60h6.46v2.78h-6.46zM257.5 370.60h6.46v2.78h-6.46zM263.9 370.60h6.46v2.78h-6.46zM335.0 373.37h6.46v2.78h-6.46zM341.5 373.37h6.46v2.78h-6.46zM205.8 378.92h6.46v2.78h-6.46zM244.6 385.20h6.46v2.84h-6.46zM283.3 396.56h6.46v2.84h-6.46zM283.3 399.39h6.46v2.84h-6.46zM225.2 407.91h6.46v2.84h-6.46zM347.9 407.91h6.46v2.84h-6.46zM283.3 413.59h6.46v2.84h-6.46zM302.7 413.59h6.46v2.84h-6.46zM212.3 416.43h6.46v2.84h-6.46zM347.9 419.27h6.46v2.84h-6.46zM121.8 422.11h6.46v2.84h-6.46zM296.2 422.11h6.46v2.84h-6.46zM192.9 424.94h6.46v2.84h-6.46zM322.1 427.78h6.46v2.84h-6.46zM231.6 430.62h6.46v2.84h-6.46zM302.7 433.46h6.46v2.84h-6.46zM354.4 441.70h4.92v2.89h-4.92zM115.4 447.48h6.46v2.89h-6.46zM212.3 450.37h6.46v2.89h-6.46zM231.6 450.37h6.46v2.89h-6.46zM354.4 450.37h4.92v2.89h-4.92zM296.2 453.26h6.46v2.89h-6.46zM296.2 456.14h6.46v2.89h-6.46zM322.1 456.14h6.46v2.89h-6.46zM354.4 461.92h4.92v2.89h-4.92zM205.8 464.81h6.46v2.89h-6.46zM289.8 464.81h6.46v2.89h-6.46zM115.4 467.70h6.46v2.89h-6.46zM128.3 470.59h6.46v2.89h-6.46zM225.2 470.59h6.46v2.89h-6.46zM205.8 476.37h6.46v2.89h-6.46zM160.6 479.26h6.46v2.89h-6.46zM296.2 482.14h6.46v2.89h-6.46zM244.6 485.03h6.46v2.89h-6.46zM322.1 487.92h6.46v2.89h-6.46zM354.4 487.92h4.92v2.89h-4.92zM192.9 498.00h6.46v2.88h-6.46zM212.3 498.00h6.46v2.88h-6.46zM322.1 498.00h6.46v2.88h-6.46zM115.4 500.88h6.46v2.88h-6.46zM186.4 503.76h6.46v2.88h-6.46zM231.6 509.51h6.46v2.88h-6.46zM186.4 523.90h6.46v2.88h-6.46zM199.3 523.90h6.46v2.88h-6.46zM218.7 523.90h6.46v2.88h-6.46zM270.4 523.90h6.46v2.88h-6.46zM341.5 523.90h6.46v2.88h-6.46zM141.2 526.78h6.46v2.88h-6.46zM218.7 526.78h6.46v2.88h-6.46zM289.8 526.78h6.46v2.88h-6.46zM296.2 526.78h6.46v2.88h-6.46zM244.6 529.66h6.46v2.88h-6.46zM115.4 532.53h6.46v2.88h-6.46zM238.1 532.53h6.46v2.88h-6.46zM115.4 535.41h6.46v2.88h-6.46zM141.2 535.41h6.46v2.88h-6.46zM270.4 535.41h6.46v2.88h-6.46zM276.9 535.41h6.46v2.88h-6.46zM141.2 538.29h6.46v2.88h-6.46zM167.0 538.29h6.46v2.88h-6.46zM244.6 541.17h6.46v2.88h-6.46zM270.4 544.04h6.46v2.88h-6.46zM141.2 546.92h6.46v2.88h-6.46zM328.5 574.70h6.46v2.90h-6.46zM199.3 580.50h6.46v2.90h-6.46zM347.9 580.50h6.46v2.90h-6.46zM231.6 583.40h6.46v2.90h-6.46zM251.0 583.40h6.46v2.90h-6.46zM289.8 583.40h6.46v2.90h-6.46z" fill="#c8c8ff"/>
<path d="M218.7 312.30h6.46v2.78h-6.46zM302.7 312.30h6.46v2.78h-6.46zM231.6 317.85h6.46v2.78h-6.46zM238.1 317.85h6.46v2.78h-6.46zM205.8 323.40h6.46v2.78h-6.46zM231.6 331.73h6.46v2.78h-6.46zM238.1 331.73h6.46v2.78h-6.46zM212.3 334.51h6.46v2.78h-6.46zM231.6 334.51h6.46v2.78h-6.46zM302.7 334.51h6.46v2.78h-6.46zM302.7 337.28h6.46v2.78h-6.46zM218.7 342.84h6.46v2.78h-6.46zM328.5 351.16h6.46v2.78h-6.46zM328.5 353.94h6.46v2.78h-6.46zM354.4 356.72h4.92v2.78h-4.92zM147.7 385.20h6.46v2.84h-6.46zM354.4 388.04h4.92v2.84h-4.92zM199.3 399.39h6.46v2.84h-6.46zM192.9 402.23h6.46v2.84h-6.46zM322.1 407.91h6.46v2.84h-6.46zM328.5 413.59h6.46v2.84h-6.46zM257.5 422.11h6.46v2.84h-6.46zM199.3 430.62h6.46v2.84h-6.46zM276.9 430.62h6.46v2.84h-6.46zM302.7 430.62h6.46v2.84h-6.46zM212.3 441.70h6.46v2.89h-6.46zM251.0 441.70h6.46v2.89h-6.46zM270.4 441.70h6.46v2.89h-6.46zM328.5 441.70h6.46v2.89h-6.46zM341.5 441.70h6.46v2.89h-6.46zM257.5 447.48h6.46v2.89h-6.46zM270.4 447.48h6.46v2.89h-6.46zM302.7 447.48h6.46v2.89h-6.46zM263.9 453.26h6.46v2.89h-6.46zM335.0 453.26h6.46v2.89h-6.46zM354.4 453.26h4.92v2.89h-4.92zM341.5 467.70h6.46v2.89h-6.46zM341.5 473.48h6.46v2.89h-6.46zM115.4 479.26h6.46v2.89h-6.46zM309.2 479.26h6.46v2.89h-6.46zM173.5 485.03h6.46v2.89h-6.46zM328.5 485.03h6.46v2.89h-6.46zM341.5 487.92h6.46v2.89h-6.46zM128.3 490.81h6.46v2.89h-6.46zM296.2 490.81h6.46v2.89h-6.46zM309.2 490.81h6.46v2.89h-6.46zM225.2 500.88h6.46v2.88h-6.46zM134.7 509.51h6.46v2.88h-6.46zM186.4 509.51h6.46v2.88h-6.46zM218.7 509.51h6.46v2.88h-6.46zM244.6 509.51h6.46v2.88h-6.46zM154.1 526.78h6.46v2.88h-6.46zM270.4 532.53h6.46v2.88h-6.46zM218.7 535.41h6.46v2.88h-6.46zM115.4 541.17h6.46v2.88h-6.46zM186.4 541.17h6.46v2.88h-6.46zM186.4 544.04h6.46v2.88h-6.46zM154.1 563.10h6.46v2.90h-6.46zM289.8 571.80h6.46v2.90h-6.46zM180.0 577.60h6.46v2.90h-6.46zM231.6 577.60h6.46v2.90h-6.46zM263.9 580.50h6.46v2.90h-6.46zM199.3 583.40h6.46v2.90h-6.46zM302.7 583.40h6.46v2.90h-6.46z" fill="#c0c0ff"/>
<path d="M225.2 312.30h6.46v2.78h-6.46zM354.4 312.30h4.92v2.78h-4.92zM121.8 320.63h6.46v2.78h-6.46zM328.5 320.63h6.46v2.78h-6.46zM341.5 320.63h6.46v2.78h-6.46zM231.6 323.40h6.46v2.78h-6.46zM328.5 323.40h6.46v2.78h-6.46zM225.2 326.18h6.46v2.78h-6.46zM231.6 326.18h6.46v2.78h-6.46zM238.1 326.18h6.46v2.78h-6.46zM251.0 326.18h6.46v2.78h-6.46zM180.0 328.96h6.46v2.78h-6.46zM225.2 328.96h6.46v2.78h-6.46zM251.0 328.96h6.46v2.78h-6.46zM302.7 331.73h6.46v2.78h-6.46zM212.3 337.28h6.46v2.78h-6.46zM244.6 337.28h6.46v2.78h-6.46zM296.2 337.28h6.46v2.78h-6.46zM354.4 340.06h4.92v2.78h-4.92zM231.6 342.84h6.46v2.78h-6.46zM251.0 345.61h6.46v2.78h-6.46zM238.1 348.39h6.46v2.78h-6.46zM257.5 348.39h6.46v2.78h-6.46zM115.4 351.16h6.46v2.78h-6.46zM244.6 351.16h6.46v2.78h-6.46zM302.7 351.16h6.46v2.78h-6.46zM115.4 353.94h6.46v2.78h-6.46zM212.3 353.94h6.46v2.78h-6.46zM244.6 353.94h6.46v2.78h-6.46zM283.3 353.94h6.46v2.78h-6.46zM322.1 353.94h6.46v2.78h-6.46zM328.5 356.72h6.46v2.78h-6.46zM354.4 359.49h4.92v2.78h-4.92zM199.3 362.27h6.46v2.78h-6.46zM231.6 362.27h6.46v2.78h-6.46zM276.9 362.27h6.46v2.78h-6.46zM231.6 367.82h6.46v2.78h-6.46zM283.3 367.82h6.46v2.78h-6.46zM238.1 370.60h6.46v2.78h-6.46zM244.6 370.60h6.46v2.78h-6.46zM244.6 373.37h6.46v2.78h-6.46zM218.7 376.15h6.46v2.78h-6.46zM231.6 376.15h6.46v2.78h-6.46zM296.2 376.15h6.46v2.78h-6.46zM225.2 378.92h6.46v2.78h-6.46zM238.1 378.92h6.46v2.78h-6.46zM251.0 378.92h6.46v2.78h-6.46zM192.9 385.20h6.46v2.84h-6.46zM289.8 388.04h6.46v2.84h-6.46zM322.1 388.04h6.46v2.84h-6.46zM302.7 390.88h6.46v2.84h-6.46zM315.6 390.88h6.46v2.84h-6.46zM341.5 390.88h6.46v2.84h-6.46zM335.0 393.72h6.46v2.84h-6.46zM192.9 399.39h6.46v2.84h-6.46zM335.0 399.39h6.46v2.84h-6.46zM251.0 405.07h6.46v2.84h-6.46zM257.5 405.07h6.46v2.84h-6.46zM283.3 405.07h6.46v2.84h-6.46zM347.9 405.07h6.46v2.84h-6.46zM147.7 407.91h6.46v2.84h-6.46zM257.5 407.91h6.46v2.84h-6.46zM128.3 410.75h6.46v2.84h-6.46zM147.7 410.75h6.46v2.84h-6.46zM289.8 410.75h6.46v2.84h-6.46zM141.2 413.59h6.46v2.84h-6.46zM263.9 413.59h6.46v2.84h-6.46zM251.0 416.43h6.46v2.84h-6.46zM309.2 416.43h6.46v2.84h-6.46zM322.1 416.43h6.46v2.84h-6.46zM257.5 419.27h6.46v2.84h-6.46zM309.2 422.11h6.46v2.84h-6.46zM296.2 427.78h6.46v2.84h-6.46zM309.2 427.78h6.46v2.84h-6.46zM328.5 427.78h6.46v2.84h-6.46zM335.0 427.78h6.46v2.84h-6.46zM309.2 430.62h6.46v2.84h-6.46zM335.0 430.62h6.46v2.84h-6.46zM199.3 433.46h6.46v2.84h-6.46zM205.8 433.46h6.46v2.84h-6.46zM231.6 433.46h6.46v2.84h-6.46zM322.1 433.46h6.46v2.84h-6.46zM257.5 444.59h6.46v2.89h-6.46zM335.0 444.59h6.46v2.89h-6.46zM128.3 447.48h6.46v2.89h-6.46zM218.7 447.48h6.46v2.89h-6.46zM128.3 450.37h6.46v2.89h-6.46zM205.8 450.37h6.46v2.89h-6.46zM289.8 450.37h6.46v2.89h-6.46zM115.4 453.26h6.46v2.89h-6.46zM128.3 453.26h6.46v2.89h-6.46zM173.5 453.26h6.46v2.89h-6.46zM225.2 453.26h6.46v2.89h-6.46zM328.5 453.26h6.46v2.89h-6.46zM205.8 456.14h6.46v2.89h-6.46zM257.5 456.14h6.46v2.89h-6.46zM283.3 456.14h6.46v2.89h-6.46zM315.6 456.14h6.46v2.89h-6.46zM328.5 456.14h6.46v2.89h-6.46zM328.5 459.03h6.46v2.89h-6.46zM354.4 459.03h4.92v2.89h-4.92zM335.0 461.92h6.46v2.89h-6.46zM134.7 464.81h6.46v2.89h-6.46zM231.6 464.81h6.46v2.89h-6.46zM212.3 467.70h6.46v2.89h-6.46zM289.8 467.70h6.46v2.89h-6.46zM218.7 470.59h6.46v2.89h-6.46zM173.5 473.48h6.46v2.89h-6.46zM276.9 473.48h6.46v2.89h-6.46zM289.8 473.48h6.46v2.89h-6.46zM160.6 476.37h6.46v2.89h-6.46zM244.6 476.37h6.46v2.89h-6.46zM180.0 479.26h6.46v2.89h-6.46zM199.3 479.26h6.46v2.89h-6.46zM205.8 479.26h6.46v2.89h-6.46zM296.2 479.26h6.46v2.89h-6.46zM108.9 482.14h6.46v2.89h-6.46zM134.7 482.14h6.46v2.89h-6.46zM160.6 482.14h6.46v2.89h-6.46zM225.2 482.14h6.46v2.89h-6.46zM231.6 482.14h6.46v2.89h-6.46zM335.0 482.14h6.46v2.89h-6.46zM108.9 485.03h6.46v2.89h-6.46zM225.2 485.03h6.46v2.89h-6.46zM354.4 485.03h4.92v2.89h-4.92zM335.0 487.92h6.46v2.89h-6.46zM173.5 498.00h6.46v2.88h-6.46zM212.3 500.88h6.46v2.88h-6.46zM205.8 503.76h6.46v2.88h-6.46zM270.4 509.51h6.46v2.88h-6.46zM238.1 512.39h6.46v2.88h-6.46zM276.9 512.39h6.46v2.88h-6.46zM115.4 521.02h6.46v2.88h-6.46zM154.1 523.90h6.46v2.88h-6.46zM167.0 526.78h6.46v2.88h-6.46zM205.8 526.78h6.46v2.88h-6.46zM147.7 529.66h6.46v2.88h-6.46zM276.9 529.66h6.46v2.88h-6.46zM212.3 532.53h6.46v2.88h-6.46zM302.7 532.53h6.46v2.88h-6.46zM315.6 532.53h6.46v2.88h-6.46zM322.1 532.53h6.46v2.88h-6.46zM335.0 532.53h6.46v2.88h-6.46zM121.8 535.41h6.46v2.88h-6.46zM167.0 535.41h6.46v2.88h-6.46zM231.6 535.41h6.46v2.88h-6.46zM322.1 538.29h6.46v2.88h-6.46zM134.7 541.17h6.46v2.88h-6.46zM315.6 541.17h6.46v2.88h-6.46zM322.1 541.17h6.46v2.88h-6.46zM128.3 544.04h6.46v2.88h-6.46zM141.2 544.04h6.46v2.88h-6.46zM257.5 544.04h6.46v2.88h-6.46zM192.9 546.92h6.46v2.88h-6.46zM244.6 554.40h6.46v2.90h-6.46zM180.0 557.30h6.46v2.90h-6.46zM128.3 560.20h6.46v2.90h-6.46zM186.4 560.20h6.46v2.90h-6.46zM276.9 560.20h6.46v2.90h-6.46zM347.9 560.20h6.46v2.90h-6.46zM186.4 566.00h6.46v2.90h-6.46zM218.7 566.00h6.46v2.90h-6.46zM244.6 566.00h6.46v2.90h-6.46zM134.7 568.90h6.46v2.90h-6.46zM263.9 568.90h6.46v2.90h-6.46zM270.4 568.90h6.46v2.90h-6.46zM276.9 568.90h6.46v2.90h-6.46zM309.2 568.90h6.46v2.90h-6.46zM341.5 568.90h6.46v2.90h-6.46zM205.8 571.80h6.46v2.90h-6.46zM322.1 571.80h6.46v2.90h-6.46zM238.1 577.60h6.46v2.90h-6.46zM270.4 577.60h6.46v2.90h-6.46zM108.9 580.50h6.46v2.90h-6.46zM225.2 580.50h6.46v2.90h-6.46zM251.0 580.50h6.46v2.90h-6.46zM276.9 580.50h6.46v2.90h-6.46zM322.1 580.50h6.46v2.90h-6.46zM328.5 580.50h6.46v2.90h-6.46zM128.3 583.40h6.46v2.90h-6.46zM186.4 583.40h6.46v2.90h-6.46zM238.1 583.40h6.46v2.90h-6.46z" fill="#e0e0ff"/>
<path d="M263.9 312.30h6.46v2.78h-6.46zM347.9 312.30h6.46v2.78h-6.46zM251.0 317.85h6.46v2.78h-6.46zM283.3 317.85h6.46v2.78h-6.46zM154.1 323.40h6.46v2.78h-6.46zM244.6 323.40h6.46v2.78h-6.46zM270.4 323.40h6.46v2.78h-6.46zM108.9 326.18h6.46v2.78h-6.46zM134.7 326.18h6.46v2.78h-6.46zM231.6 328.96h6.46v2.78h-6.46zM263.9 328.96h6.46v2.78h-6.46zM276.9 328.96h6.46v2.78h-6.46zM154.1 331.73h6.46v2.78h-6.46zM186.4 331.73h6.46v2.78h-6.46zM289.8 331.73h6.46v2.78h-6.46zM186.4 334.51h6.46v2.78h-6.46zM244.6 334.51h6.46v2.78h-6.46zM341.5 334.51h6.46v2.78h-6.46zM225.2 337.28h6.46v2.78h-6.46zM263.9 337.28h6.46v2.78h-6.46zM199.3 340.06h6.46v2.78h-6.46zM212.3 340.06h6.46v2.78h-6.46zM251.0 340.06h6.46v2.78h-6.46zM257.5 340.06h6.46v2.78h-6.46zM309.2 340.06h6.46v2.78h-6.46zM121.8 342.84h6.46v2.78h-6.46zM212.3 342.84h6.46v2.78h-6.46zM270.4 342.84h6.46v2.78h-6.46zM154.1 345.61h6.46v2.78h-6.46zM263.9 345.61h6.46v2.78h-6.46zM341.5 345.61h6.46v2.78h-6.46zM199.3 348.39h6.46v2.78h-6.46zM276.9 351.16h6.46v2.78h-6.46zM296.2 351.16h6.46v2.78h-6.46zM341.5 351.16h6.46v2.78h-6.46zM108.9 353.94h6.46v2.78h-6.46zM154.1 356.72h6.46v2.78h-6.46zM180.0 356.72h6.46v2.78h-6.46zM205.8 356.72h6.46v2.78h-6.46zM335.0 356.72h6.46v2.78h-6.46zM263.9 359.49h6.46v2.78h-6.46zM309.2 359.49h6.46v2.78h-6.46zM335.0 362.27h6.46v2.78h-6.46zM115.4 367.82h6.46v2.78h-6.46zM276.9 367.82h6.46v2.78h-6.46zM108.9 370.60h6.46v2.78h-6.46zM296.2 370.60h6.46v2.78h-6.46zM354.4 370.60h4.92v2.78h-4.92zM115.4 373.37h6.46v2.78h-6.46zM199.3 373.37h6.46v2.78h-6.46zM251.0 373.37h6.46v2.78h-6.46zM354.4 373.37h4.92v2.78h-4.92zM108.9 376.15h6.46v2.78h-6.46zM108.9 378.92h6.46v2.78h-6.46zM244.6 378.92h6.46v2.78h-6.46zM335.0 378.92h6.46v2.78h-6.46zM270.4 388.04h6.46v2.84h-6.46zM141.2 390.88h6.46v2.84h-6.46zM322.1 390.88h6.46v2.84h-6.46zM238.1 393.72h6.46v2.84h-6.46zM296.2 396.56h6.46v2.84h-6.46zM302.7 396.56h6.46v2.84h-6.46zM335.0 396.56h6.46v2.84h-6.46zM347.9 396.56h6.46v2.84h-6.46zM354.4 396.56h4.92v2.84h-4.92zM251.0 399.39h6.46v2.84h-6.46zM289.8 399.39h6.46v2.84h-6.46zM296.2 399.39h6.46v2.84h-6.46zM141.2 402.23h6.46v2.84h-6.46zM218.7 405.07h6.46v2.84h-6.46zM218.7 407.91h6.46v2.84h-6.46zM167.0 410.75h6.46v2.84h-6.46zM296.2 413.59h6.46v2.84h-6.46zM147.7 416.43h6.46v2.84h-6.46zM199.3 416.43h6.46v2.84h-6.46zM341.5 419.27h6.46v2.84h-6.46zM147.7 422.11h6.46v2.84h-6.46zM276.9 422.11h6.46v2.84h-6.46zM244.6 427.78h6.46v2.84h-6.46zM251.0 427.78h6.46v2.84h-6.46zM270.4 430.62h6.46v2.84h-6.46zM315.6 430.62h6.46v2.84h-6.46zM147.7 433.46h6.46v2.84h-6.46zM160.6 433.46h6.46v2.84h-6.46zM192.9 433.46h6.46v2.84h-6.46zM212.3 433.46h6.46v2.84h-6.46zM263.9 433.46h6.46v2.84h-6.46zM276.9 441.70h6.46v2.89h-6.46zM218.7 444.59h6.46v2.89h-6.46zM251.0 444.59h6.46v2.89h-6.46zM347.9 444.59h6.46v2.89h-6.46zM160.6 447.48h6.46v2.89h-6.46zM180.0 447.48h6.46v2.89h-6.46zM289.8 447.48h6.46v2.89h-6.46zM296.2 450.37h6.46v2.89h-6.46zM309.2 450.37h6.46v2.89h-6.46zM238.1 453.26h6.46v2.89h-6.46zM199.3 456.14h6.46v2.89h-6.46zM251.0 459.03h6.46v2.89h-6.46zM302.7 461.92h6.46v2.89h-6.46zM322.1 461.92h6.46v2.89h-6.46zM199.3 464.81h6.46v2.89h-6.46zM347.9 464.81h6.46v2.89h-6.46zM173.5 467.70h6.46v2.89h-6.46zM257.5 467.70h6.46v2.89h-6.46zM328.5 467.70h6.46v2.89h-6.46zM244.6 470.59h6.46v2.89h-6.46zM225.2 473.48h6.46v2.89h-6.46zM231.6 476.37h6.46v2.89h-6.46zM270.4 476.37h6.46v2.89h-6.46zM212.3 479.26h6.46v2.89h-6.46zM128.3 482.14h6.46v2.89h-6.46zM257.5 482.14h6.46v2.89h-6.46zM354.4 482.14h4.92v2.89h-4.92zM108.9 487.92h6.46v2.89h-6.46zM244.6 487.92h6.46v2.89h-6.46zM289.8 487.92h6.46v2.89h-6.46zM296.2 487.92h6.46v2.89h-6.46zM115.4 490.81h6.46v2.89h-6.46zM147.7 490.81h6.46v2.89h-6.46zM205.8 490.81h6.46v2.89h-6.46zM335.0 490.81h6.46v2.89h-6.46zM160.6 498.00h6.46v2.88h-6.46zM180.0 498.00h6.46v2.88h-6.46zM231.6 498.00h6.46v2.88h-6.46zM283.3 500.88h6.46v2.88h-6.46zM335.0 500.88h6.46v2.88h-6.46zM154.1 503.76h6.46v2.88h-6.46zM192.9 503.76h6.46v2.88h-6.46zM108.9 506.63h6.46v2.88h-6.46zM251.0 506.63h6.46v2.88h-6.46zM276.9 506.63h6.46v2.88h-6.46zM335.0 506.63h6.46v2.88h-6.46zM121.8 509.51h6.46v2.88h-6.46zM147.7 509.51h6.46v2.88h-6.46zM283.3 509.51h6.46v2.88h-6.46zM141.2 512.39h6.46v2.88h-6.46zM257.5 512.39h6.46v2.88h-6.46zM225.2 515.27h6.46v2.88h-6.46zM257.5 515.27h6.46v2.88h-6.46zM173.5 518.14h6.46v2.88h-6.46zM270.4 518.14h6.46v2.88h-6.46zM263.9 521.02h6.46v2.88h-6.46zM121.8 523.90h6.46v2.88h-6.46zM205.8 523.90h6.46v2.88h-6.46zM335.0 523.90h6.46v2.88h-6.46zM276.9 526.78h6.46v2.88h-6.46zM134.7 529.66h6.46v2.88h-6.46zM218.7 529.66h6.46v2.88h-6.46zM322.1 529.66h6.46v2.88h-6.46zM121.8 532.53h6.46v2.88h-6.46zM167.0 532.53h6.46v2.88h-6.46zM199.3 532.53h6.46v2.88h-6.46zM251.0 535.41h6.46v2.88h-6.46zM289.8 535.41h6.46v2.88h-6.46zM341.5 535.41h6.46v2.88h-6.46zM128.3 538.29h6.46v2.88h-6.46zM205.8 538.29h6.46v2.88h-6.46zM225.2 538.29h6.46v2.88h-6.46zM302.7 538.29h6.46v2.88h-6.46zM205.8 541.17h6.46v2.88h-6.46zM289.8 541.17h6.46v2.88h-6.46zM335.0 544.04h6.46v2.88h-6.46zM173.5 546.92h6.46v2.88h-6.46zM238.1 546.92h6.46v2.88h-6.46zM322.1 546.92h6.46v2.88h-6.46zM173.5 554.40h6.46v2.90h-6.46zM186.4 554.40h6.46v2.90h-6.46zM218.7 554.40h6.46v2.90h-6.46zM251.0 554.40h6.46v2.90h-6.46zM315.6 554.40h6.46v2.90h-6.46zM147.7 557.30h6.46v2.90h-6.46zM315.6 557.30h6.46v2.90h-6.46zM141.2 560.20h6.46v2.90h-6.46zM180.0 560.20h6.46v2.90h-6.46zM231.6 560.20h6.46v2.90h-6.46zM160.6 563.10h6.46v2.90h-6.46zM167.0 563.10h6.46v2.90h-6.46zM238.1 563.10h6.46v2.90h-6.46zM341.5 563.10h6.46v2.90h-6.46zM167.0 566.00h6.46v2.90h-6.46zM160.6 568.90h6.46v2.90h-6.46zM186.4 571.80h6.46v2.90h-6.46zM257.5 574.70h6.46v2.90h-6.46zM160.6 577.60h6.46v2.90h-6.46zM218.7 577.60h6.46v2.90h-6.46zM257.5 577.60h6.46v2.90h-6.46zM276.9 577.60h6.46v2.90h-6.46z" fill="#ffffff"/>
<path d="M296.2 312.30h6.46v2.78h-6.46zM328.5 312.30h6.46v2.78h-6.46zM341.5 312.30h6.46v2.78h-6.46zM302.7 317.85h6.46v2.78h-6.46zM335.0 317.85h6.46v2.78h-6.46zM263.9 320.63h6.46v2.78h-6.46zM354.4 320.63h4.92v2.78h-4.92zM283.3 323.40h6.46v2.78h-6.46zM180.0 326.18h6.46v2.78h-6.46zM335.0 326.18h6.46v2.78h-6.46zM218.7 328.96h6.46v2.78h-6.46zM218.7 331.73h6.46v2.78h-6.46zM276.9 331.73h6.46v2.78h-6.46zM315.6 331.73h6.46v2.78h-6.46zM218.7 334.51h6.46v2.78h-6.46zM309.2 334.51h6.46v2.78h-6.46zM283.3 337.28h6.46v2.78h-6.46zM121.8 340.06h6.46v2.78h-6.46zM328.5 340.06h6.46v2.78h-6.46zM199.3 342.84h6.46v2.78h-6.46zM238.1 345.61h6.46v2.78h-6.46zM309.2 345.61h6.46v2.78h-6.46zM212.3 348.39h6.46v2.78h-6.46zM251.0 348.39h6.46v2.78h-6.46zM335.0 348.39h6.46v2.78h-6.46zM218.7 351.16h6.46v2.78h-6.46zM186.4 353.94h6.46v2.78h-6.46zM257.5 353.94h6.46v2.78h-6.46zM263.9 353.94h6.46v2.78h-6.46zM251.0 356.72h6.46v2.78h-6.46zM244.6 359.49h6.46v2.78h-6.46zM341.5 359.49h6.46v2.78h-6.46zM263.9 362.27h6.46v2.78h-6.46zM218.7 365.04h6.46v2.78h-6.46zM257.5 365.04h6.46v2.78h-6.46zM335.0 365.04h6.46v2.78h-6.46zM238.1 367.82h6.46v2.78h-6.46zM341.5 367.82h6.46v2.78h-6.46zM225.2 370.60h6.46v2.78h-6.46zM302.7 376.15h6.46v2.78h-6.46zM218.7 378.92h6.46v2.78h-6.46zM328.5 378.92h6.46v2.78h-6.46zM199.3 385.20h6.46v2.84h-6.46zM283.3 385.20h6.46v2.84h-6.46zM328.5 385.20h6.46v2.84h-6.46zM257.5 388.04h6.46v2.84h-6.46zM296.2 388.04h6.46v2.84h-6.46zM322.1 393.72h6.46v2.84h-6.46zM263.9 399.39h6.46v2.84h-6.46zM309.2 399.39h6.46v2.84h-6.46zM192.9 405.07h6.46v2.84h-6.46zM231.6 405.07h6.46v2.84h-6.46zM244.6 407.91h6.46v2.84h-6.46zM283.3 407.91h6.46v2.84h-6.46zM289.8 407.91h6.46v2.84h-6.46zM302.7 407.91h6.46v2.84h-6.46zM186.4 410.75h6.46v2.84h-6.46zM199.3 410.75h6.46v2.84h-6.46zM231.6 410.75h6.46v2.84h-6.46zM347.9 410.75h6.46v2.84h-6.46zM354.4 410.75h4.92v2.84h-4.92zM205.8 413.59h6.46v2.84h-6.46zM212.3 413.59h6.46v2.84h-6.46zM283.3 416.43h6.46v2.84h-6.46zM289.8 416.43h6.46v2.84h-6.46zM199.3 419.27h6.46v2.84h-6.46zM205.8 419.27h6.46v2.84h-6.46zM322.1 419.27h6.46v2.84h-6.46zM186.4 422.11h6.46v2.84h-6.46zM328.5 422.11h6.46v2.84h-6.46zM276.9 424.94h6.46v2.84h-6.46zM218.7 427.78h6.46v2.84h-6.46zM289.8 427.78h6.46v2.84h-6.46zM205.8 430.62h6.46v2.84h-6.46zM283.3 430.62h6.46v2.84h-6.46zM276.9 433.46h6.46v2.84h-6.46zM289.8 433.46h6.46v2.84h-6.46zM328.5 433.46h6.46v2.84h-6.46zM128.3 441.70h6.46v2.89h-6.46zM134.7 441.70h6.46v2.89h-6.46zM192.9 441.70h6.46v2.89h-6.46zM244.6 441.70h6.46v2.89h-6.46zM263.9 441.70h6.46v2.89h-6.46zM296.2 441.70h6.46v2.89h-6.46zM309.2 441.70h6.46v2.89h-6.46zM186.4 444.59h6.46v2.89h-6.46zM186.4 447.48h6.46v2.89h-6.46zM328.5 447.48h6.46v2.89h-6.46zM186.4 450.37h6.46v2.89h-6.46zM251.0 453.26h6.46v2.89h-6.46zM315.6 453.26h6.46v2.89h-6.46zM154.1 456.14h6.46v2.89h-6.46zM186.4 456.14h6.46v2.89h-6.46zM212.3 456.14h6.46v2.89h-6.46zM231.6 456.14h6.46v2.89h-6.46zM354.4 456.14h4.92v2.89h-4.92zM115.4 461.92h6.46v2.89h-6.46zM128.3 461.92h6.46v2.89h-6.46zM341.5 464.81h6.46v2.89h-6.46zM128.3 467.70h6.46v2.89h-6.46zM218.7 467.70h6.46v2.89h-6.46zM231.6 467.70h6.46v2.89h-6.46zM322.1 467.70h6.46v2.89h-6.46zM134.7 473.48h6.46v2.89h-6.46zM238.1 473.48h6.46v2.89h-6.46zM328.5 473.48h6.46v2.89h-6.46zM328.5 476.37h6.46v2.89h-6.46zM238.1 479.26h6.46v2.89h-6.46zM354.4 479.26h4.92v2.89h-4.92zM121.8 482.14h6.46v2.89h-6.46zM186.4 482.14h6.46v2.89h-6.46zM205.8 482.14h6.46v2.89h-6.46zM212.3 482.14h6.46v2.89h-6.46zM212.3 487.92h6.46v2.89h-6.46zM276.9 487.92h6.46v2.89h-6.46zM315.6 487.92h6.46v2.89h-6.46zM108.9 490.81h6.46v2.89h-6.46zM257.5 490.81h6.46v2.89h-6.46zM128.3 498.00h6.46v2.88h-6.46zM147.7 498.00h6.46v2.88h-6.46zM121.8 500.88h6.46v2.88h-6.46zM167.0 500.88h6.46v2.88h-6.46zM180.0 500.88h6.46v2.88h-6.46zM257.5 500.88h6.46v2.88h-6.46zM115.4 503.76h6.46v2.88h-6.46zM141.2 503.76h6.46v2.88h-6.46zM322.1 503.76h6.46v2.88h-6.46zM328.5 503.76h6.46v2.88h-6.46zM205.8 509.51h6.46v2.88h-6.46zM121.8 512.39h6.46v2.88h-6.46zM192.9 512.39h6.46v2.88h-6.46zM244.6 512.39h6.46v2.88h-6.46zM231.6 515.27h6.46v2.88h-6.46zM302.7 521.02h6.46v2.88h-6.46zM115.4 523.90h6.46v2.88h-6.46zM225.2 523.90h6.46v2.88h-6.46zM244.6 523.90h6.46v2.88h-6.46zM186.4 526.78h6.46v2.88h-6.46zM244.6 526.78h6.46v2.88h-6.46zM108.9 532.53h6.46v2.88h-6.46zM296.2 532.53h6.46v2.88h-6.46zM186.4 535.41h6.46v2.88h-6.46zM257.5 535.41h6.46v2.88h-6.46zM315.6 535.41h6.46v2.88h-6.46zM115.4 538.29h6.46v2.88h-6.46zM309.2 538.29h6.46v2.88h-6.46zM147.7 541.17h6.46v2.88h-6.46zM257.5 541.17h6.46v2.88h-6.46zM238.1 544.04h6.46v2.88h-6.46zM186.4 546.92h6.46v2.88h-6.46zM276.9 546.92h6.46v2.88h-6.46zM199.3 554.40h6.46v2.90h-6.46zM192.9 557.30h6.46v2.90h-6.46zM192.9 563.10h6.46v2.90h-6.46zM244.6 563.10h6.46v2.90h-6.46zM147.7 566.00h6.46v2.90h-6.46zM205.8 566.00h6.46v2.90h-6.46zM276.9 566.00h6.46v2.90h-6.46zM251.0 568.90h6.46v2.90h-6.46zM257.5 568.90h6.46v2.90h-6.46zM289.8 568.90h6.46v2.90h-6.46zM328.5 568.90h6.46v2.90h-6.46zM238.1 571.80h6.46v2.90h-6.46zM186.4 574.70h6.46v2.90h-6.46zM244.6 574.70h6.46v2.90h-6.46zM289.8 574.70h6.46v2.90h-6.46zM354.4 574.70h4.92v2.90h-4.92zM289.8 577.60h6.46v2.90h-6.46zM328.5 577.60h6.46v2.90h-6.46zM141.2 580.50h6.46v2.90h-6.46zM167.0 580.50h6.46v2.90h-6.46zM289.8 580.50h6.46v2.90h-6.46zM309.2 580.50h6.46v2.90h-6.46zM354.4 580.50h4.92v2.90h-4.92zM205.8 583.40h6.46v2.90h-6.46zM309.2 583.40h6.46v2.90h-6.46z" fill="#d8d8ff"/>
<path d="M335.0 312.30h6.46v2.78h-6.46zM335.0 498.00h6.46v2.88h-6.46z" fill="#1818ff"/>
<path d="M134.7 315.08h6.46v2.78h-6.46zM192.9 315.08h6.46v2.78h-6.46zM108.9 317.85h6.46v2.78h-6.46zM160.6 320.63h6.46v2.78h-6.46zM160.6 367.82h6.46v2.78h-6.46zM108.9 385.20h6.46v2.84h-6.46zM205.8 459.03h6.46v2.89h-6.46zM347.9 482.14h6.46v2.89h-6.46zM302.7 487.92h6.46v2.89h-6.46zM173.5 544.04h6.46v2.88h-6.46zM121.8 563.10h6.46v2.90h-6.46z" fill="#ff9898"/>
<path d="M154.1 315.08h6.46v2.78h-6.46zM212.3 315.08h6.46v2.78h-6.46zM270.4 315.08h6.46v2.78h-6.46zM141.2 317.85h6.46v2.78h-6.46zM160.6 317.85h6.46v2.78h-6.46zM315.6 320.63h6.46v2.78h-6.46zM115.4 342.84h6.46v2.78h-6.46zM167.0 362.27h6.46v2.78h-6.46zM192.9 362.27h6.46v2.78h-6.46zM128.3 365.04h6.46v2.78h-6.46zM167.0 365.04h6.46v2.78h-6.46zM322.1 367.82h6.46v2.78h-6.46zM192.9 376.15h6.46v2.78h-6.46zM186.4 385.20h6.46v2.84h-6.46zM108.9 388.04h6.46v2.84h-6.46zM160.6 390.88h6.46v2.84h-6.46zM173.5 390.88h6.46v2.84h-6.46zM134.7 393.72h6.46v2.84h-6.46zM128.3 396.56h6.46v2.84h-6.46zM238.1 396.56h6.46v2.84h-6.46zM212.3 402.23h6.46v2.84h-6.46zM154.1 405.07h6.46v2.84h-6.46zM212.3 405.07h6.46v2.84h-6.46zM270.4 405.07h6.46v2.84h-6.46zM180.0 413.59h6.46v2.84h-6.46zM134.7 419.27h6.46v2.84h-6.46zM347.9 447.48h6.46v2.89h-6.46zM180.0 456.14h6.46v2.89h-6.46zM218.7 459.03h6.46v2.89h-6.46zM238.1 459.03h6.46v2.89h-6.46zM108.9 461.92h6.46v2.89h-6.46zM180.0 461.92h6.46v2.89h-6.46zM141.2 464.81h6.46v2.89h-6.46zM160.6 467.70h6.46v2.89h-6.46zM270.4 467.70h6.46v2.89h-6.46zM315.6 467.70h6.46v2.89h-6.46zM121.8 473.48h6.46v2.89h-6.46zM141.2 482.14h6.46v2.89h-6.46zM199.3 485.03h6.46v2.89h-6.46zM289.8 500.88h6.46v2.88h-6.46zM108.9 503.76h6.46v2.88h-6.46zM154.1 506.63h6.46v2.88h-6.46zM328.5 509.51h6.46v2.88h-6.46zM309.2 512.39h6.46v2.88h-6.46zM347.9 512.39h6.46v2.88h-6.46zM251.0 515.27h6.46v2.88h-6.46zM263.9 515.27h6.46v2.88h-6.46zM134.7 521.02h6.46v2.88h-6.46zM341.5 529.66h6.46v2.88h-6.46zM347.9 529.66h6.46v2.88h-6.46zM335.0 538.29h6.46v2.88h-6.46zM302.7 546.92h6.46v2.88h-6.46zM115.4 557.30h6.46v2.90h-6.46zM121.8 566.00h6.46v2.90h-6.46zM173.5 583.40h6.46v2.90h-6.46z" fill="#ffb0b0"/>
<path d="M167.0 315.08h6.46v2.78h-6.46zM134.7 320.63h6.46v2.78h-6.46zM167.0 373.37h6.46v2.78h-6.46zM134.7 385.20h6.46v2.84h-6.46zM128.3 390.88h6.46v2.84h-6.46zM134.7 390.88h6.46v2.84h-6.46zM347.9 485.03h6.46v2.89h-6.46zM335.0 577.60h6.46v2.90h-6.46z" fill="#ff8888"/>
<path d="M180.0 315.08h6.46v2.78h-6.46zM199.3 315.08h6.46v2.78h-6.46zM218.7 315.08h6.46v2.78h-6.46zM263.9 315.08h6.46v2.78h-6.46zM244.6 317.85h6.46v2.78h-6.46zM322.1 317.85h6.46v2.78h-6.46zM347.9 317.85h6.46v2.78h-6.46zM289.8 320.63h6.46v2.78h-6.46zM141.2 323.40h6.46v2.78h-6.46zM238.1 323.40h6.46v2.78h-6.46zM121.8 326.18h6.46v2.78h-6.46zM121.8 328.96h6.46v2.78h-6.46zM128.3 328.96h6.46v2.78h-6.46zM167.0 328.96h6.46v2.78h-6.46zM289.8 328.96h6.46v2.78h-6.46zM167.0 331.73h6.46v2.78h-6.46zM173.5 331.73h6.46v2.78h-6.46zM115.4 334.51h6.46v2.78h-6.46zM154.1 334.51h6.46v2.78h-6.46zM167.0 337.28h6.46v2.78h-6.46zM199.3 337.28h6.46v2.78h-6.46zM270.4 337.28h6.46v2.78h-6.46zM128.3 340.06h6.46v2.78h-6.46zM315.6 340.06h6.46v2.78h-6.46zM128.3 342.84h6.46v2.78h-6.46zM160.6 342.84h6.46v2.78h-6.46zM192.9 345.61h6.46v2.78h-6.46zM212.3 345.61h6.46v2.78h-6.46zM154.1 348.39h6.46v2.78h-6.46zM173.5 348.39h6.46v2.78h-6.46zM134.7 351.16h6.46v2.78h-6.46zM141.2 351.16h6.46v2.78h-6.46zM289.8 351.16h6.46v2.78h-6.46zM347.9 351.16h6.46v2.78h-6.46zM147.7 356.72h6.46v2.78h-6.46zM160.6 356.72h6.46v2.78h-6.46zM199.3 356.72h6.46v2.78h-6.46zM257.5 356.72h6.46v2.78h-6.46zM147.7 359.49h6.46v2.78h-6.46zM347.9 359.49h6.46v2.78h-6.46zM154.1 362.27h6.46v2.78h-6.46zM270.4 362.27h6.46v2.78h-6.46zM309.2 362.27h6.46v2.78h-6.46zM315.6 362.27h6.46v2.78h-6.46zM328.5 362.27h6.46v2.78h-6.46zM347.9 362.27h6.46v2.78h-6.46zM180.0 365.04h6.46v2.78h-6.46zM251.0 365.04h6.46v2.78h-6.46zM354.4 365.04h4.92v2.78h-4.92zM108.9 367.82h6.46v2.78h-6.46zM147.7 367.82h6.46v2.78h-6.46zM173.5 370.60h6.46v2.78h-6.46zM121.8 373.37h6.46v2.78h-6.46zM263.9 373.37h6.46v2.78h-6.46zM141.2 376.15h6.46v2.78h-6.46zM160.6 376.15h6.46v2.78h-6.46zM173.5 376.15h6.46v2.78h-6.46zM212.3 376.15h6.46v2.78h-6.46zM257.5 376.15h6.46v2.78h-6.46zM173.5 378.92h6.46v2.78h-6.46zM270.4 378.92h6.46v2.78h-6.46zM276.9 378.92h6.46v2.78h-6.46zM283.3 378.92h6.46v2.78h-6.46zM231.6 388.04h6.46v2.84h-6.46zM238.1 388.04h6.46v2.84h-6.46zM199.3 390.88h6.46v2.84h-6.46zM251.0 390.88h6.46v2.84h-6.46zM283.3 390.88h6.46v2.84h-6.46zM296.2 390.88h6.46v2.84h-6.46zM354.4 390.88h4.92v2.84h-4.92zM270.4 393.72h6.46v2.84h-6.46zM154.1 396.56h6.46v2.84h-6.46zM173.5 396.56h6.46v2.84h-6.46zM180.0 396.56h6.46v2.84h-6.46zM231.6 396.56h6.46v2.84h-6.46zM251.0 396.56h6.46v2.84h-6.46zM257.5 396.56h6.46v2.84h-6.46zM244.6 399.39h6.46v2.84h-6.46zM186.4 402.23h6.46v2.84h-6.46zM322.1 402.23h6.46v2.84h-6.46zM315.6 405.07h6.46v2.84h-6.46zM115.4 407.91h6.46v2.84h-6.46zM192.9 407.91h6.46v2.84h-6.46zM270.4 407.91h6.46v2.84h-6.46zM354.4 407.91h4.92v2.84h-4.92zM192.9 413.59h6.46v2.84h-6.46zM289.8 413.59h6.46v2.84h-6.46zM121.8 416.43h6.46v2.84h-6.46zM244.6 416.43h6.46v2.84h-6.46zM154.1 419.27h6.46v2.84h-6.46zM225.2 419.27h6.46v2.84h-6.46zM244.6 419.27h6.46v2.84h-6.46zM315.6 419.27h6.46v2.84h-6.46zM160.6 422.11h6.46v2.84h-6.46zM231.6 422.11h6.46v2.84h-6.46zM341.5 422.11h6.46v2.84h-6.46zM121.8 424.94h6.46v2.84h-6.46zM231.6 424.94h6.46v2.84h-6.46zM270.4 424.94h6.46v2.84h-6.46zM160.6 427.78h6.46v2.84h-6.46zM186.4 427.78h6.46v2.84h-6.46zM212.3 427.78h6.46v2.84h-6.46zM341.5 427.78h6.46v2.84h-6.46zM115.4 430.62h6.46v2.84h-6.46zM192.9 430.62h6.46v2.84h-6.46zM225.2 430.62h6.46v2.84h-6.46zM238.1 430.62h6.46v2.84h-6.46zM128.3 433.46h6.46v2.84h-6.46zM167.0 433.46h6.46v2.84h-6.46zM238.1 433.46h6.46v2.84h-6.46zM347.9 433.46h6.46v2.84h-6.46zM147.7 441.70h6.46v2.89h-6.46zM141.2 444.59h6.46v2.89h-6.46zM212.3 444.59h6.46v2.89h-6.46zM167.0 447.48h6.46v2.89h-6.46zM205.8 447.48h6.46v2.89h-6.46zM251.0 447.48h6.46v2.89h-6.46zM173.5 450.37h6.46v2.89h-6.46zM238.1 450.37h6.46v2.89h-6.46zM141.2 453.26h6.46v2.89h-6.46zM154.1 453.26h6.46v2.89h-6.46zM276.9 453.26h6.46v2.89h-6.46zM160.6 456.14h6.46v2.89h-6.46zM108.9 459.03h6.46v2.89h-6.46zM276.9 459.03h6.46v2.89h-6.46zM315.6 459.03h6.46v2.89h-6.46zM347.9 459.03h6.46v2.89h-6.46zM147.7 461.92h6.46v2.89h-6.46zM257.5 461.92h6.46v2.89h-6.46zM276.9 461.92h6.46v2.89h-6.46zM108.9 464.81h6.46v2.89h-6.46zM276.9 464.81h6.46v2.89h-6.46zM154.1 467.70h6.46v2.89h-6.46zM167.0 467.70h6.46v2.89h-6.46zM180.0 467.70h6.46v2.89h-6.46zM199.3 470.59h6.46v2.89h-6.46zM276.9 470.59h6.46v2.89h-6.46zM199.3 473.48h6.46v2.89h-6.46zM257.5 473.48h6.46v2.89h-6.46zM322.1 473.48h6.46v2.89h-6.46zM173.5 476.37h6.46v2.89h-6.46zM212.3 476.37h6.46v2.89h-6.46zM251.0 476.37h6.46v2.89h-6.46zM263.9 476.37h6.46v2.89h-6.46zM186.4 479.26h6.46v2.89h-6.46zM251.0 482.14h6.46v2.89h-6.46zM147.7 485.03h6.46v2.89h-6.46zM238.1 485.03h6.46v2.89h-6.46zM302.7 485.03h6.46v2.89h-6.46zM315.6 485.03h6.46v2.89h-6.46zM167.0 487.92h6.46v2.89h-6.46zM180.0 487.92h6.46v2.89h-6.46zM141.2 490.81h6.46v2.89h-6.46zM134.7 498.00h6.46v2.88h-6.46zM154.1 498.00h6.46v2.88h-6.46zM186.4 498.00h6.46v2.88h-6.46zM263.9 498.00h6.46v2.88h-6.46zM341.5 498.00h6.46v2.88h-6.46zM238.1 500.88h6.46v2.88h-6.46zM251.0 500.88h6.46v2.88h-6.46zM315.6 500.88h6.46v2.88h-6.46zM167.0 503.76h6.46v2.88h-6.46zM251.0 503.76h6.46v2.88h-6.46zM289.8 503.76h6.46v2.88h-6.46zM302.7 503.76h6.46v2.88h-6.46zM309.2 506.63h6.46v2.88h-6.46zM160.6 509.51h6.46v2.88h-6.46zM180.0 509.51h6.46v2.88h-6.46zM225.2 509.51h6.46v2.88h-6.46zM257.5 509.51h6.46v2.88h-6.46zM276.9 509.51h6.46v2.88h-6.46zM302.7 509.51h6.46v2.88h-6.46zM128.3 512.39h6.46v2.88h-6.46zM205.8 512.39h6.46v2.88h-6.46zM225.2 512.39h6.46v2.88h-6.46zM128.3 518.14h6.46v2.88h-6.46zM347.9 518.14h6.46v2.88h-6.46zM141.2 521.02h6.46v2.88h-6.46zM167.0 521.02h6.46v2.88h-6.46zM347.9 523.90h6.46v2.88h-6.46zM108.9 526.78h6.46v2.88h-6.46zM173.5 526.78h6.46v2.88h-6.46zM180.0 526.78h6.46v2.88h-6.46zM192.9 526.78h6.46v2.88h-6.46zM322.1 526.78h6.46v2.88h-6.46zM154.1 529.66h6.46v2.88h-6.46zM244.6 532.53h6.46v2.88h-6.46zM218.7 538.29h6.46v2.88h-6.46zM257.5 538.29h6.46v2.88h-6.46zM263.9 538.29h6.46v2.88h-6.46zM154.1 541.17h6.46v2.88h-6.46zM328.5 541.17h6.46v2.88h-6.46zM108.9 544.04h6.46v2.88h-6.46zM160.6 544.04h6.46v2.88h-6.46zM212.3 544.04h6.46v2.88h-6.46zM289.8 544.04h6.46v2.88h-6.46zM347.9 544.04h6.46v2.88h-6.46zM160.6 546.92h6.46v2.88h-6.46zM218.7 546.92h6.46v2.88h-6.46zM328.5 554.40h6.46v2.90h-6.46zM341.5 554.40h6.46v2.90h-6.46zM276.9 557.30h6.46v2.90h-6.46zM328.5 557.30h6.46v2.90h-6.46zM108.9 560.20h6.46v2.90h-6.46zM134.7 560.20h6.46v2.90h-6.46zM199.3 560.20h6.46v2.90h-6.46zM205.8 560.20h6.46v2.90h-6.46zM263.9 563.10h6.46v2.90h-6.46zM225.2 566.00h6.46v2.90h-6.46zM257.5 566.00h6.46v2.90h-6.46zM283.3 566.00h6.46v2.90h-6.46zM199.3 568.90h6.46v2.90h-6.46zM322.1 568.90h6.46v2.90h-6.46zM115.4 571.80h6.46v2.90h-6.46zM335.0 571.80h6.46v2.90h-6.46zM134.7 574.70h6.46v2.90h-6.46zM192.9 574.70h6.46v2.90h-6.46zM270.4 574.70h6.46v2.90h-6.46zM341.5 577.60h6.46v2.90h-6.46zM354.4 577.60h4.92v2.90h-4.92zM257.5 580.50h6.46v2.90h-6.46zM296.2 580.50h6.46v2.90h-6.46zM335.0 580.50h6.46v2.90h-6.46zM180.0 583.40h6.46v2.90h-6.46zM263.9 583.40h6.46v2.90h-6.46zM283.3 583.40h6.46v2.90h-6.46z" fill="#ffe8e8"/>
<path d="M128.3 317.85h6.46v2.78h-6.46zM167.0 320.63h6.46v2.78h-6.46zM167.0 326.18h6.46v2.78h-6.46zM173.5 337.28h6.46v2.78h-6.46zM167.0 353.94h6.46v2.78h-6.46zM134.7 356.72h6.46v2.78h-6.46zM128.3 359.49h6.46v2.78h-6.46zM160.6 359.49h6.46v2.78h-6.46zM128.3 362.27h6.46v2.78h-6.46zM167.0 388.04h6.46v2.84h-6.46zM108.9 390.88h6.46v2.84h-6.46zM180.0 390.88h6.46v2.84h-6.46zM115.4 393.72h6.46v2.84h-6.46zM160.6 402.23h6.46v2.84h-6.46zM134.7 416.43h6.46v2.84h-6.46zM115.4 424.94h6.46v2.84h-6.46zM167.0 441.70h6.46v2.89h-6.46zM160.6 461.92h6.46v2.89h-6.46zM270.4 464.81h6.46v2.89h-6.46zM283.3 470.59h6.46v2.89h-6.46zM302.7 470.59h6.46v2.89h-6.46zM141.2 473.48h6.46v2.89h-6.46zM283.3 473.48h6.46v2.89h-6.46zM322.1 476.37h6.46v2.89h-6.46zM276.9 482.14h6.46v2.89h-6.46zM283.3 485.03h6.46v2.89h-6.46zM354.4 498.00h4.92v2.88h-4.92zM283.3 554.40h6.46v2.90h-6.46zM341.5 566.00h6.46v2.90h-6.46zM283.3 577.60h6.46v2.90h-6.46z" fill="#ffa8a8"/>
<path d="M192.9 317.85h6.46v2.78h-6.46zM270.4 317.85h6.46v2.78h-6.46zM173.5 340.06h6.46v2.78h-6.46zM141.2 356.72h6.46v2.78h-6.46zM141.2 365.04h6.46v2.78h-6.46zM167.0 376.15h6.46v2.78h-6.46zM289.8 378.92h6.46v2.78h-6.46zM128.3 385.20h6.46v2.84h-6.46zM115.4 388.04h6.46v2.84h-6.46zM121.8 390.88h6.46v2.84h-6.46zM128.3 399.39h6.46v2.84h-6.46zM128.3 402.23h6.46v2.84h-6.46zM238.1 405.07h6.46v2.84h-6.46zM199.3 447.48h6.46v2.89h-6.46zM147.7 464.81h6.46v2.89h-6.46zM251.0 467.70h6.46v2.89h-6.46zM154.1 470.59h6.46v2.89h-6.46zM263.9 490.81h6.46v2.89h-6.46zM128.3 515.27h6.46v2.88h-6.46zM121.8 554.40h6.46v2.90h-6.46z" fill="#ffa0a0"/>
<path d="M199.3 317.85h6.46v2.78h-6.46zM212.3 328.96h6.46v2.78h-6.46zM238.1 334.51h6.46v2.78h-6.46zM205.8 410.75h6.46v2.84h-6.46zM257.5 441.70h6.46v2.89h-6.46zM192.9 532.53h6.46v2.88h-6.46z" fill="#9898ff"/>
<path d="M205.8 317.85h6.46v2.78h-6.46zM218.7 323.40h6.46v2.78h-6.46zM205.8 328.96h6.46v2.78h-6.46zM335.0 441.70h6.46v2.89h-6.46zM115.4 456.14h6.46v2.89h-6.46z" fill="#8888ff"/>
<path d="M218.7 317.85h6.46v2.78h-6.46zM218.7 326.18h6.46v2.78h-6.46zM335.0 331.73h6.46v2.78h-6.46zM244.6 342.84h6.46v2.78h-6.46zM205.8 348.39h6.46v2.78h-6.46zM341.5 385.20h6.46v2.84h-6.46zM347.9 393.72h6.46v2.84h-6.46zM347.9 416.43h6.46v2.84h-6.46zM218.7 433.46h6.46v2.84h-6.46zM315.6 450.37h6.46v2.89h-6.46zM231.6 453.26h6.46v2.89h-6.46zM335.0 473.48h6.46v2.89h-6.46zM128.3 479.26h6.46v2.89h-6.46zM134.7 490.81h6.46v2.89h-6.46zM231.6 490.81h6.46v2.89h-6.46zM180.0 503.76h6.46v2.88h-6.46zM276.9 544.04h6.46v2.88h-6.46zM205.8 580.50h6.46v2.90h-6.46zM244.6 580.50h6.46v2.90h-6.46z" fill="#a8a8ff"/>
<path d="M225.2 317.85h6.46v2.78h-6.46zM251.0 323.40h6.46v2.78h-6.46zM257.5 323.40h6.46v2.78h-6.46zM289.8 323.40h6.46v2.78h-6.46zM302.7 323.40h6.46v2.78h-6.46zM147.7 326.18h6.46v2.78h-6.46zM276.9 326.18h6.46v2.78h-6.46zM115.4 328.96h6.46v2.78h-6.46zM244.6 328.96h6.46v2.78h-6.46zM302.7 328.96h6.46v2.78h-6.46zM347.9 328.96h6.46v2.78h-6.46zM108.9 331.73h6.46v2.78h-6.46zM322.1 331.73h6.46v2.78h-6.46zM180.0 334.51h6.46v2.78h-6.46zM199.3 334.51h6.46v2.78h-6.46zM205.8 334.51h6.46v2.78h-6.46zM347.9 334.51h6.46v2.78h-6.46zM218.7 337.28h6.46v2.78h-6.46zM309.2 337.28h6.46v2.78h-6.46zM225.2 340.06h6.46v2.78h-6.46zM283.3 340.06h6.46v2.78h-6.46zM296.2 340.06h6.46v2.78h-6.46zM251.0 342.84h6.46v2.78h-6.46zM263.9 342.84h6.46v2.78h-6.46zM283.3 342.84h6.46v2.78h-6.46zM315.6 342.84h6.46v2.78h-6.46zM335.0 342.84h6.46v2.78h-6.46zM341.5 342.84h6.46v2.78h-6.46zM347.9 342.84h6.46v2.78h-6.46zM244.6 345.61h6.46v2.78h-6.46zM276.9 345.61h6.46v2.78h-6.46zM328.5 345.61h6.46v2.78h-6.46zM231.6 348.39h6.46v2.78h-6.46zM244.6 348.39h6.46v2.78h-6.46zM302.7 348.39h6.46v2.78h-6.46zM354.4 348.39h4.92v2.78h-4.92zM238.1 351.16h6.46v2.78h-6.46zM263.9 351.16h6.46v2.78h-6.46zM309.2 351.16h6.46v2.78h-6.46zM354.4 351.16h4.92v2.78h-4.92zM205.8 353.94h6.46v2.78h-6.46zM296.2 353.94h6.46v2.78h-6.46zM212.3 356.72h6.46v2.78h-6.46zM218.7 356.72h6.46v2.78h-6.46zM244.6 356.72h6.46v2.78h-6.46zM276.9 356.72h6.46v2.78h-6.46zM341.5 356.72h6.46v2.78h-6.46zM115.4 359.49h6.46v2.78h-6.46zM289.8 359.49h6.46v2.78h-6.46zM147.7 362.27h6.46v2.78h-6.46zM225.2 362.27h6.46v2.78h-6.46zM354.4 362.27h4.92v2.78h-4.92zM218.7 367.82h6.46v2.78h-6.46zM296.2 367.82h6.46v2.78h-6.46zM115.4 370.60h6.46v2.78h-6.46zM205.8 370.60h6.46v2.78h-6.46zM341.5 370.60h6.46v2.78h-6.46zM225.2 373.37h6.46v2.78h-6.46zM283.3 373.37h6.46v2.78h-6.46zM302.7 373.37h6.46v2.78h-6.46zM328.5 373.37h6.46v2.78h-6.46zM251.0 376.15h6.46v2.78h-6.46zM309.2 376.15h6.46v2.78h-6.46zM335.0 376.15h6.46v2.78h-6.46zM251.0 385.20h6.46v2.84h-6.46zM302.7 385.20h6.46v2.84h-6.46zM315.6 385.20h6.46v2.84h-6.46zM335.0 385.20h6.46v2.84h-6.46zM354.4 385.20h4.92v2.84h-4.92zM212.3 388.04h6.46v2.84h-6.46zM263.9 388.04h6.46v2.84h-6.46zM276.9 388.04h6.46v2.84h-6.46zM309.2 388.04h6.46v2.84h-6.46zM328.5 388.04h6.46v2.84h-6.46zM341.5 388.04h6.46v2.84h-6.46zM347.9 388.04h6.46v2.84h-6.46zM147.7 390.88h6.46v2.84h-6.46zM328.5 390.88h6.46v2.84h-6.46zM335.0 390.88h6.46v2.84h-6.46zM257.5 393.72h6.46v2.84h-6.46zM302.7 393.72h6.46v2.84h-6.46zM192.9 396.56h6.46v2.84h-6.46zM205.8 396.56h6.46v2.84h-6.46zM341.5 396.56h6.46v2.84h-6.46zM108.9 399.39h6.46v2.84h-6.46zM341.5 399.39h6.46v2.84h-6.46zM121.8 402.23h6.46v2.84h-6.46zM199.3 402.23h6.46v2.84h-6.46zM328.5 402.23h6.46v2.84h-6.46zM121.8 405.07h6.46v2.84h-6.46zM199.3 405.07h6.46v2.84h-6.46zM341.5 405.07h6.46v2.84h-6.46zM205.8 407.91h6.46v2.84h-6.46zM231.6 407.91h6.46v2.84h-6.46zM251.0 407.91h6.46v2.84h-6.46zM296.2 407.91h6.46v2.84h-6.46zM309.2 407.91h6.46v2.84h-6.46zM160.6 410.75h6.46v2.84h-6.46zM218.7 410.75h6.46v2.84h-6.46zM160.6 413.59h6.46v2.84h-6.46zM167.0 416.43h6.46v2.84h-6.46zM257.5 416.43h6.46v2.84h-6.46zM276.9 416.43h6.46v2.84h-6.46zM302.7 416.43h6.46v2.84h-6.46zM315.6 416.43h6.46v2.84h-6.46zM328.5 416.43h6.46v2.84h-6.46zM160.6 419.27h6.46v2.84h-6.46zM218.7 419.27h6.46v2.84h-6.46zM276.9 419.27h6.46v2.84h-6.46zM283.3 419.27h6.46v2.84h-6.46zM335.0 422.11h6.46v2.84h-6.46zM218.7 424.94h6.46v2.84h-6.46zM263.9 424.94h6.46v2.84h-6.46zM322.1 424.94h6.46v2.84h-6.46zM328.5 424.94h6.46v2.84h-6.46zM347.9 424.94h6.46v2.84h-6.46zM180.0 427.78h6.46v2.84h-6.46zM283.3 427.78h6.46v2.84h-6.46zM315.6 427.78h6.46v2.84h-6.46zM296.2 430.62h6.46v2.84h-6.46zM341.5 430.62h6.46v2.84h-6.46zM173.5 433.46h6.46v2.84h-6.46zM186.4 433.46h6.46v2.84h-6.46zM270.4 433.46h6.46v2.84h-6.46zM341.5 433.46h6.46v2.84h-6.46zM354.4 433.46h4.92v2.84h-4.92zM115.4 441.70h6.46v2.89h-6.46zM121.8 441.70h6.46v2.89h-6.46zM173.5 441.70h6.46v2.89h-6.46zM289.8 441.70h6.46v2.89h-6.46zM231.6 444.59h6.46v2.89h-6.46zM322.1 444.59h6.46v2.89h-6.46zM134.7 447.48h6.46v2.89h-6.46zM212.3 447.48h6.46v2.89h-6.46zM244.6 447.48h6.46v2.89h-6.46zM115.4 450.37h6.46v2.89h-6.46zM134.7 450.37h6.46v2.89h-6.46zM160.6 450.37h6.46v2.89h-6.46zM263.9 450.37h6.46v2.89h-6.46zM270.4 450.37h6.46v2.89h-6.46zM108.9 453.26h6.46v2.89h-6.46zM180.0 453.26h6.46v2.89h-6.46zM257.5 453.26h6.46v2.89h-6.46zM121.8 456.14h6.46v2.89h-6.46zM128.3 456.14h6.46v2.89h-6.46zM296.2 461.92h6.46v2.89h-6.46zM354.4 464.81h4.92v2.89h-4.92zM134.7 467.70h6.46v2.89h-6.46zM335.0 467.70h6.46v2.89h-6.46zM231.6 470.59h6.46v2.89h-6.46zM128.3 473.48h6.46v2.89h-6.46zM154.1 473.48h6.46v2.89h-6.46zM212.3 473.48h6.46v2.89h-6.46zM115.4 476.37h6.46v2.89h-6.46zM309.2 476.37h6.46v2.89h-6.46zM244.6 479.26h6.46v2.89h-6.46zM160.6 485.03h6.46v2.89h-6.46zM218.7 485.03h6.46v2.89h-6.46zM160.6 487.92h6.46v2.89h-6.46zM192.9 490.81h6.46v2.89h-6.46zM251.0 490.81h6.46v2.89h-6.46zM115.4 498.00h6.46v2.88h-6.46zM205.8 498.00h6.46v2.88h-6.46zM225.2 498.00h6.46v2.88h-6.46zM128.3 500.88h6.46v2.88h-6.46zM199.3 500.88h6.46v2.88h-6.46zM218.7 500.88h6.46v2.88h-6.46zM231.6 500.88h6.46v2.88h-6.46zM270.4 500.88h6.46v2.88h-6.46zM341.5 500.88h6.46v2.88h-6.46zM121.8 503.76h6.46v2.88h-6.46zM244.6 503.76h6.46v2.88h-6.46zM192.9 506.63h6.46v2.88h-6.46zM322.1 506.63h6.46v2.88h-6.46zM341.5 506.63h6.46v2.88h-6.46zM238.1 509.51h6.46v2.88h-6.46zM212.3 512.39h6.46v2.88h-6.46zM296.2 512.39h6.46v2.88h-6.46zM154.1 515.27h6.46v2.88h-6.46zM180.0 515.27h6.46v2.88h-6.46zM302.7 515.27h6.46v2.88h-6.46zM141.2 518.14h6.46v2.88h-6.46zM244.6 518.14h6.46v2.88h-6.46zM302.7 518.14h6.46v2.88h-6.46zM212.3 521.02h6.46v2.88h-6.46zM263.9 523.90h6.46v2.88h-6.46zM283.3 523.90h6.46v2.88h-6.46zM309.2 523.90h6.46v2.88h-6.46zM322.1 523.90h6.46v2.88h-6.46zM270.4 526.78h6.46v2.88h-6.46zM205.8 529.66h6.46v2.88h-6.46zM225.2 529.66h6.46v2.88h-6.46zM302.7 529.66h6.46v2.88h-6.46zM335.0 529.66h6.46v2.88h-6.46zM186.4 532.53h6.46v2.88h-6.46zM218.7 532.53h6.46v2.88h-6.46zM263.9 535.41h6.46v2.88h-6.46zM134.7 538.29h6.46v2.88h-6.46zM154.1 538.29h6.46v2.88h-6.46zM244.6 538.29h6.46v2.88h-6.46zM251.0 538.29h6.46v2.88h-6.46zM328.5 538.29h6.46v2.88h-6.46zM173.5 541.17h6.46v2.88h-6.46zM251.0 541.17h6.46v2.88h-6.46zM167.0 544.04h6.46v2.88h-6.46zM244.6 544.04h6.46v2.88h-6.46zM115.4 546.92h6.46v2.88h-6.46zM147.7 546.92h6.46v2.88h-6.46zM225.2 546.92h6.46v2.88h-6.46zM354.4 546.92h4.92v2.88h-4.92zM160.6 554.40h6.46v2.90h-6.46zM128.3 557.30h6.46v2.90h-6.46zM238.1 557.30h6.46v2.90h-6.46zM115.4 560.20h6.46v2.90h-6.46zM212.3 560.20h6.46v2.90h-6.46zM134.7 563.10h6.46v2.90h-6.46zM180.0 563.10h6.46v2.90h-6.46zM205.8 563.10h6.46v2.90h-6.46zM328.5 563.10h6.46v2.90h-6.46zM347.9 563.10h6.46v2.90h-6.46zM315.6 566.00h6.46v2.90h-6.46zM108.9 568.90h6.46v2.90h-6.46zM335.0 568.90h6.46v2.90h-6.46zM347.9 568.90h6.46v2.90h-6.46zM121.8 571.80h6.46v2.90h-6.46zM147.7 571.80h6.46v2.90h-6.46zM160.6 571.80h6.46v2.90h-6.46zM192.9 571.80h6.46v2.90h-6.46zM199.3 571.80h6.46v2.90h-6.46zM257.5 571.80h6.46v2.90h-6.46zM276.9 571.80h6.46v2.90h-6.46zM302.7 571.80h6.46v2.90h-6.46zM315.6 571.80h6.46v2.90h-6.46zM128.3 574.70h6.46v2.90h-6.46zM141.2 577.60h6.46v2.90h-6.46zM167.0 577.60h6.46v2.90h-6.46zM251.0 577.60h6.46v2.90h-6.46zM263.9 577.60h6.46v2.90h-6.46zM302.7 577.60h6.46v2.90h-6.46zM115.4 580.50h6.46v2.90h-6.46zM121.8 580.50h6.46v2.90h-6.46zM238.1 580.50h6.46v2.90h-6.46zM302.7 580.50h6.46v2.90h-6.46zM160.6 583.40h6.46v2.90h-6.46zM270.4 583.40h6.46v2.90h-6.46z" fill="#f0f0ff"/>
<path d="M328.5 317.85h6.46v2.78h-6.46zM302.7 476.37h6.46v2.89h-6.46zM270.4 566.00h6.46v2.90h-6.46z" fill="#7070ff"/>
<path d="M205.8 320.63h6.46v2.78h-6.46zM199.3 326.18h6.46v2.78h-6.46zM225.2 331.73h6.46v2.78h-6.46zM302.7 388.04h6.46v2.84h-6.46zM302.7 402.23h6.46v2.84h-6.46zM160.6 441.70h6.46v2.89h-6.46zM225.2 441.70h6.46v2.89h-6.46zM212.3 453.26h6.46v2.89h-6.46zM108.9 479.26h6.46v2.89h-6.46zM134.7 487.92h6.46v2.89h-6.46zM186.4 500.88h6.46v2.88h-6.46zM186.4 529.66h6.46v2.88h-6.46zM212.3 529.66h6.46v2.88h-6.46z" fill="#a0a0ff"/>
<path d="M212.3 320.63h6.46v2.78h-6.46zM212.3 326.18h6.46v2.78h-6.46zM218.7 348.39h6.46v2.78h-6.46zM225.2 456.14h6.46v2.89h-6.46zM115.4 529.66h6.46v2.88h-6.46z" fill="#8080ff"/>
<path d="M218.7 320.63h6.46v2.78h-6.46zM212.3 323.40h6.46v2.78h-6.46zM205.8 331.73h6.46v2.78h-6.46zM347.9 557.30h6.46v2.90h-6.46z" fill="#9090ff"/>
<path d="M251.0 320.63h6.46v2.78h-6.46zM238.1 467.70h6.46v2.89h-6.46z" fill="#7878ff"/>
<path d="M199.3 323.40h6.46v2.78h-6.46zM257.5 328.96h6.46v2.78h-6.46zM328.5 331.73h6.46v2.78h-6.46zM354.4 334.51h4.92v2.78h-4.92zM283.3 351.16h6.46v2.78h-6.46zM205.8 385.20h6.46v2.84h-6.46zM347.9 385.20h6.46v2.84h-6.46zM283.3 393.72h6.46v2.84h-6.46zM328.5 407.91h6.46v2.84h-6.46zM257.5 410.75h6.46v2.84h-6.46zM328.5 419.27h6.46v2.84h-6.46zM192.9 422.11h6.46v2.84h-6.46zM289.8 422.11h6.46v2.84h-6.46zM283.3 433.46h6.46v2.84h-6.46zM141.2 441.70h6.46v2.89h-6.46zM244.6 450.37h6.46v2.89h-6.46zM341.5 450.37h6.46v2.89h-6.46zM134.7 456.14h6.46v2.89h-6.46zM192.9 456.14h6.46v2.89h-6.46zM244.6 456.14h6.46v2.89h-6.46zM244.6 464.81h6.46v2.89h-6.46zM296.2 473.48h6.46v2.89h-6.46zM128.3 476.37h6.46v2.89h-6.46zM309.2 485.03h6.46v2.89h-6.46zM238.1 498.00h6.46v2.88h-6.46zM186.4 538.29h6.46v2.88h-6.46zM180.0 541.17h6.46v2.88h-6.46zM347.9 554.40h6.46v2.90h-6.46zM347.9 583.40h6.46v2.90h-6.46z" fill="#b0b0ff"/>
<path d="M347.9 323.40h6.46v2.78h-6.46z" fill="#5858ff"/>
<path d="M205.8 326.18h6.46v2.78h-6.46zM283.3 388.04h6.46v2.84h-6.46z" fill="#5050ff"/>
<path d="M257.5 326.18h6.46v2.78h-6.46zM283.3 328.96h6.46v2.78h-6.46zM276.9 334.51h6.46v2.78h-6.46zM328.5 334.51h6.46v2.78h-6.46zM205.8 337.28h6.46v2.78h-6.46zM238.1 340.06h6.46v2.78h-6.46zM328.5 342.84h6.46v2.78h-6.46zM199.3 345.61h6.46v2.78h-6.46zM205.8 345.61h6.46v2.78h-6.46zM212.3 351.16h6.46v2.78h-6.46zM225.2 353.94h6.46v2.78h-6.46zM309.2 353.94h6.46v2.78h-6.46zM199.3 388.04h6.46v2.84h-6.46zM341.5 407.91h6.46v2.84h-6.46zM276.9 410.75h6.46v2.84h-6.46zM302.7 410.75h6.46v2.84h-6.46zM315.6 410.75h6.46v2.84h-6.46zM335.0 410.75h6.46v2.84h-6.46zM341.5 410.75h6.46v2.84h-6.46zM302.7 419.27h6.46v2.84h-6.46zM231.6 427.78h6.46v2.84h-6.46zM205.8 441.70h6.46v2.89h-6.46zM218.7 441.70h6.46v2.89h-6.46zM121.8 444.59h6.46v2.89h-6.46zM309.2 444.59h6.46v2.89h-6.46zM354.4 444.59h4.92v2.89h-4.92zM354.4 447.48h4.92v2.89h-4.92zM218.7 450.37h6.46v2.89h-6.46zM115.4 459.03h6.46v2.89h-6.46zM160.6 459.03h6.46v2.89h-6.46zM244.6 461.92h6.46v2.89h-6.46zM257.5 464.81h6.46v2.89h-6.46zM115.4 482.14h6.46v2.89h-6.46zM335.0 485.03h6.46v2.89h-6.46zM341.5 485.03h6.46v2.89h-6.46zM225.2 490.81h6.46v2.89h-6.46zM257.5 498.00h6.46v2.88h-6.46zM141.2 529.66h6.46v2.88h-6.46zM302.7 535.41h6.46v2.88h-6.46zM180.0 568.90h6.46v2.90h-6.46zM186.4 577.60h6.46v2.90h-6.46zM160.6 580.50h6.46v2.90h-6.46z" fill="#b8b8ff"/>
<path d="M167.0 340.06h6.46v2.78h-6.46zM192.9 356.72h6.46v2.78h-6.46zM108.9 393.72h6.46v2.84h-6.46zM283.3 467.70h6.46v2.89h-6.46zM341.5 515.27h6.46v2.88h-6.46zM341.5 518.14h6.46v2.88h-6.46zM341.5 557.30h6.46v2.90h-6.46z" fill="#ff9090"/>
<path d="M322.1 385.20h6.46v2.84h-6.46z" fill="#6060ff"/>
<path d="M335.0 388.04h6.46v2.84h-6.46zM302.7 444.59h6.46v2.89h-6.46z" fill="#4848ff"/>
<path d="M115.4 390.88h6.46v2.84h-6.46zM283.3 441.70h6.46v2.89h-6.46zM322.1 447.48h6.46v2.89h-6.46zM121.8 560.20h6.46v2.90h-6.46z" fill="#ff8080"/>
<path d="M128.3 393.72h6.46v2.84h-6.46z" fill="#ff6868"/>
<path d="M335.0 413.59h6.46v2.84h-6.46zM335.0 416.43h6.46v2.84h-6.46zM335.0 419.27h6.46v2.84h-6.46zM108.9 456.14h6.46v2.89h-6.46zM302.7 498.00h6.46v2.88h-6.46zM257.5 583.40h6.46v2.90h-6.46z" fill="#3838ff"/>
<path d="M141.2 467.70h6.46v2.89h-6.46z" fill="#ff7878"/>
<path d="M225.2 487.92h6.46v2.89h-6.46zM244.6 500.88h6.46v2.88h-6.46zM354.4 566.00h4.92v2.90h-4.92zM354.4 568.90h4.92v2.90h-4.92zM354.4 571.80h4.92v2.90h-4.92z" fill="#2828ff"/>
<path d="M296.2 503.76h6.46v2.88h-6.46z" fill="#6868ff"/>
<path d="M335.0 574.70h6.46v2.90h-6.46z" fill="#ff4848"/>
<path d="M108.9 312.30H359.3 M108.9 315.08H359.3 M108.9 317.85H359.3 M108.9 320.63H359.3 M108.9 323.40H359.3 M108.9 326.18H359.3 M108.9 328.96H359.3 M108.9 331.73H359.3 M108.9 334.51H359.3 M108.9 337.28H359.3 M108.9 340.06H359.3 M108.9 342.84H359.3 M108.9 345.61H359.3 M108.9 348.39H359.3 M108.9 351.16H359.3 M108.9 353.94H359.3 M108.9 356.72H359.3 M108.9 359.49H359.3 M108.9 362.27H359.3 M108.9 365.04H359.3 M108.9 367.82H359.3 M108.9 370.60H359.3 M108.9 373.37H359.3 M108.9 376.15H359.3 M108.9 378.92H359.3 M108.9 381.70H359.3 M108.90 312.30V381.70 M115.36 312.30V381.70 M121.82 312.30V381.70 M128.28 312.30V381.70 M134.74 312.30V381.70 M141.20 312.30V381.70 M147.66 312.30V381.70 M154.12 312.30V381.70 M160.58 312.30V381.70 M167.04 312.30V381.70 M173.50 312.30V381.70 M179.96 312.30V381.70 M186.42 312.30V381.70 M192.88 312.30V381.70 M199.34 312.30V381.70 M205.80 312.30V381.70 M212.26 312.30V381.70 M218.72 312.30V381.70 M225.18 312.30V381.70 M231.64 312.30V381.70 M238.10 312.30V381.70 M244.56 312.30V381.70 M251.02 312.30V381.70 M257.48 312.30V381.70 M263.94 312.30V381.70 M270.40 312.30V381.70 M276.86 312.30V381.70 M283.32 312.30V381.70 M289.78 312.30V381.70 M296.24 312.30V381.70 M302.70 312.30V381.70 M309.16 312.30V381.70 M315.62 312.30V381.70 M322.08 312.30V381.70 M328.54 312.30V381.70 M335.00 312.30V381.70 M341.46 312.30V381.70 M347.92 312.30V381.70 M354.38 312.30V381.70 M108.9 385.20H359.3 M108.9 388.04H359.3 M108.9 390.88H359.3 M108.9 393.72H359.3 M108.9 396.56H359.3 M108.9 399.39H359.3 M108.9 402.23H359.3 M108.9 405.07H359.3 M108.9 407.91H359.3 M108.9 410.75H359.3 M108.9 413.59H359.3 M108.9 416.43H359.3 M108.9 419.27H359.3 M108.9 422.11H359.3 M108.9 424.94H359.3 M108.9 427.78H359.3 M108.9 430.62H359.3 M108.9 433.46H359.3 M108.9 436.30H359.3 M108.90 385.20V436.30 M115.36 385.20V436.30 M121.82 385.20V436.30 M128.28 385.20V436.30 M134.74 385.20V436.30 M141.20 385.20V436.30 M147.66 385.20V436.30 M154.12 385.20V436.30 M160.58 385.20V436.30 M167.04 385.20V436.30 M173.50 385.20V436.30 M179.96 385.20V436.30 M186.42 385.20V436.30 M192.88 385.20V436.30 M199.34 385.20V436.30 M205.80 385.20V436.30 M212.26 385.20V436.30 M218.72 385.20V436.30 M225.18 385.20V436.30 M231.64 385.20V436.30 M238.10 385.20V436.30 M244.56 385.20V436.30 M251.02 385.20V436.30 M257.48 385.20V436.30 M263.94 385.20V436.30 M270.40 385.20V436.30 M276.86 385.20V436.30 M283.32 385.20V436.30 M289.78 385.20V436.30 M296.24 385.20V436.30 M302.70 385.20V436.30 M309.16 385.20V436.30 M315.62 385.20V436.30 M322.08 385.20V436.30 M328.54 385.20V436.30 M335.00 385.20V436.30 M341.46 385.20V436.30 M347.92 385.20V436.30 M354.38 385.20V436.30 M108.9 441.70H359.3 M108.9 444.59H359.3 M108.9 447.48H359.3 M108.9 450.37H359.3 M108.9 453.26H359.3 M108.9 456.14H359.3 M108.9 459.03H359.3 M108.9 461.92H359.3 M108.9 464.81H359.3 M108.9 467.70H359.3 M108.9 470.59H359.3 M108.9 473.48H359.3 M108.9 476.37H359.3 M108.9 479.26H359.3 M108.9 482.14H359.3 M108.9 485.03H359.3 M108.9 487.92H359.3 M108.9 490.81H359.3 M108.9 493.70H359.3 M108.90 441.70V493.70 M115.36 441.70V493.70 M121.82 441.70V493.70 M128.28 441.70V493.70 M134.74 441.70V493.70 M141.20 441.70V493.70 M147.66 441.70V493.70 M154.12 441.70V493.70 M160.58 441.70V493.70 M167.04 441.70V493.70 M173.50 441.70V493.70 M179.96 441.70V493.70 M186.42 441.70V493.70 M192.88 441.70V493.70 M199.34 441.70V493.70 M205.80 441.70V493.70 M212.26 441.70V493.70 M218.72 441.70V493.70 M225.18 441.70V493.70 M231.64 441.70V493.70 M238.10 441.70V493.70 M244.56 441.70V493.70 M251.02 441.70V493.70 M257.48 441.70V493.70 M263.94 441.70V493.70 M270.40 441.70V493.70 M276.86 441.70V493.70 M283.32 441.70V493.70 M289.78 441.70V493.70 M296.24 441.70V493.70 M302.70 441.70V493.70 M309.16 441.70V493.70 M315.62 441.70V493.70 M322.08 441.70V493.70 M328.54 441.70V493.70 M335.00 441.70V493.70 M341.46 441.70V493.70 M347.92 441.70V493.70 M354.38 441.70V493.70 M108.9 498.00H359.3 M108.9 500.88H359.3 M108.9 503.76H359.3 M108.9 506.63H359.3 M108.9 509.51H359.3 M108.9 512.39H359.3 M108.9 515.27H359.3 M108.9 518.14H359.3 M108.9 521.02H359.3 M108.9 523.90H359.3 M108.9 526.78H359.3 M108.9 529.66H359.3 M108.9 532.53H359.3 M108.9 535.41H359.3 M108.9 538.29H359.3 M108.9 541.17H359.3 M108.9 544.04H359.3 M108.9 546.92H359.3 M108.9 549.80H359.3 M108.90 498.00V549.80 M115.36 498.00V549.80 M121.82 498.00V549.80 M128.28 498.00V549.80 M134.74 498.00V549.80 M141.20 498.00V549.80 M147.66 498.00V549.80 M154.12 498.00V549.80 M160.58 498.00V549.80 M167.04 498.00V549.80 M173.50 498.00V549.80 M179.96 498.00V549.80 M186.42 498.00V549.80 M192.88 498.00V549.80 M199.34 498.00V549.80 M205.80 498.00V549.80 M212.26 498.00V549.80 M218.72 498.00V549.80 M225.18 498.00V549.80 M231.64 498.00V549.80 M238.10 498.00V549.80 M244.56 498.00V549.80 M251.02 498.00V549.80 M257.48 498.00V549.80 M263.94 498.00V549.80 M270.40 498.00V549.80 M276.86 498.00V549.80 M283.32 498.00V549.80 M289.78 498.00V549.80 M296.24 498.00V549.80 M302.70 498.00V549.80 M309.16 498.00V549.80 M315.62 498.00V549.80 M322.08 498.00V549.80 M328.54 498.00V549.80 M335.00 498.00V549.80 M341.46 498.00V549.80 M347.92 498.00V549.80 M354.38 498.00V549.80 M108.9 554.40H359.3 M108.9 557.30H359.3 M108.9 560.20H359.3 M108.9 563.10H359.3 M108.9 566.00H359.3 M108.9 568.90H359.3 M108.9 571.80H359.3 M108.9 574.70H359.3 M108.9 577.60H359.3 M108.9 580.50H359.3 M108.9 583.40H359.3 M108.9 586.30H359.3 M108.90 554.40V586.30 M115.36 554.40V586.30 M121.82 554.40V586.30 M128.28 554.40V586.30 M134.74 554.40V586.30 M141.20 554.40V586.30 M147.66 554.40V586.30 M154.12 554.40V586.30 M160.58 554.40V586.30 M167.04 554.40V586.30 M173.50 554.40V586.30 M179.96 554.40V586.30 M186.42 554.40V586.30 M192.88 554.40V586.30 M199.34 554.40V586.30 M205.80 554.40V586.30 M212.26 554.40V586.30 M218.72 554.40V586.30 M225.18 554.40V586.30 M231.64 554.40V586.30 M238.10 554.40V586.30 M244.56 554.40V586.30 M251.02 554.40V586.30 M257.48 554.40V586.30 M263.94 554.40V586.30 M270.40 554.40V586.30 M276.86 554.40V586.30 M283.32 554.40V586.30 M289.78 554.40V586.30 M296.24 554.40V586.30 M302.70 554.40V586.30 M309.16 554.40V586.30 M315.62 554.40V586.30 M322.08 554.40V586.30 M328.54 554.40V586.30 M335.00 554.40V586.30 M341.46 554.40V586.30 M347.92 554.40V586.30 M354.38 554.40V586.30" stroke="#9a9a9a" stroke-width="0.55" fill="none"/>
<path d="M107.5 322.0 L96.9 322.0 L96.9 324.8 L107.5 324.8 M107.5 319.2 L92.6 319.2 L92.6 323.4 L96.9 323.4 M107.5 316.5 L91.6 316.5 L91.6 321.3 L92.6 321.3 M107.5 313.7 L89.2 313.7 L89.2 318.9 L91.6 318.9 M107.5 330.3 L97.0 330.3 L97.0 333.1 L107.5 333.1 M107.5 327.6 L94.9 327.6 L94.9 331.7 L97.0 331.7 M107.5 335.9 L91.1 335.9 L91.1 338.7 L107.5 338.7 M94.9 329.6 L87.0 329.6 L87.0 337.3 L91.1 337.3 M89.2 316.3 L81.0 316.3 L81.0 333.5 L87.0 333.5 M107.5 347.0 L97.6 347.0 L97.6 349.8 L107.5 349.8 M107.5 344.2 L95.8 344.2 L95.8 348.4 L97.6 348.4 M107.5 352.6 L93.8 352.6 L93.8 355.3 L107.5 355.3 M95.8 346.3 L92.0 346.3 L92.0 353.9 L93.8 353.9 M107.5 341.4 L89.5 341.4 L89.5 350.1 L92.0 350.1 M107.5 363.7 L94.1 363.7 L94.1 366.4 L107.5 366.4 M107.5 360.9 L93.7 360.9 L93.7 365.0 L94.1 365.0 M107.5 358.1 L91.0 358.1 L91.0 363.0 L93.7 363.0 M107.5 369.2 L94.5 369.2 L94.5 372.0 L107.5 372.0 M107.5 377.5 L99.0 377.5 L99.0 380.3 L107.5 380.3 M107.5 374.8 L94.1 374.8 L94.1 378.9 L99.0 378.9 M94.5 370.6 L88.9 370.6 L88.9 376.8 L94.1 376.8 M91.0 360.5 L87.0 360.5 L87.0 373.7 L88.9 373.7 M89.5 345.8 L84.1 345.8 L84.1 367.1 L87.0 367.1 M107.5 386.6 L93.5 386.6 L93.5 389.5 L107.5 389.5 M107.5 395.1 L96.7 395.1 L96.7 398.0 L107.5 398.0 M107.5 392.3 L94.8 392.3 L94.8 396.6 L96.7 396.6 M107.5 403.7 L99.0 403.7 L99.0 406.5 L107.5 406.5 M107.5 400.8 L94.0 400.8 L94.0 405.1 L99.0 405.1 M94.8 394.4 L92.2 394.4 L92.2 402.9 L94.0 402.9 M107.5 415.0 L98.0 415.0 L98.0 417.8 L107.5 417.8 M107.5 412.2 L95.1 412.2 L95.1 416.4 L98.0 416.4 M107.5 409.3 L92.0 409.3 L92.0 414.3 L95.1 414.3 M92.2 398.7 L87.8 398.7 L87.8 411.8 L92.0 411.8 M93.5 388.0 L82.4 388.0 L82.4 405.2 L87.8 405.2 M84.1 356.5 L79.4 356.5 L79.4 396.6 L82.4 396.6 M81.0 324.9 L78.6 324.9 L78.6 374.7 L79.4 374.7 M107.5 426.4 L91.9 426.4 L91.9 429.2 L107.5 429.2 M107.5 423.5 L90.2 423.5 L90.2 427.8 L91.9 427.8 M107.5 420.7 L88.8 420.7 L88.8 425.7 L90.2 425.7 M107.5 446.0 L97.9 446.0 L97.9 448.9 L107.5 448.9 M107.5 443.1 L95.1 443.1 L95.1 447.5 L97.9 447.5 M107.5 434.9 L92.7 434.9 L92.7 445.3 L95.1 445.3 M107.5 432.0 L90.2 432.0 L90.2 442.1 L92.7 442.1 M107.5 457.6 L97.5 457.6 L97.5 460.5 L107.5 460.5 M107.5 454.7 L91.9 454.7 L91.9 459.0 L97.5 459.0 M107.5 451.8 L90.1 451.8 L90.1 456.9 L91.9 456.9 M90.2 434.7 L86.4 434.7 L86.4 454.3 L90.1 454.3 M88.8 423.2 L83.3 423.2 L83.3 447.2 L86.4 447.2 M107.5 463.4 L94.7 463.4 L94.7 466.3 L107.5 466.3 M107.5 472.0 L98.2 472.0 L98.2 474.9 L107.5 474.9 M107.5 469.1 L91.6 469.1 L91.6 473.5 L98.2 473.5 M94.7 464.8 L89.5 464.8 L89.5 471.3 L91.6 471.3 M107.5 477.8 L93.2 477.8 L93.2 480.7 L107.5 480.7 M107.5 486.5 L96.4 486.5 L96.4 489.4 L107.5 489.4 M107.5 483.6 L92.7 483.6 L92.7 487.9 L96.4 487.9 M93.2 479.3 L86.4 479.3 L86.4 485.8 L92.7 485.8 M89.5 468.1 L83.9 468.1 L83.9 482.5 L86.4 482.5 M107.5 499.4 L97.1 499.4 L97.1 502.3 L107.5 502.3 M107.5 492.3 L93.7 492.3 L93.7 500.9 L97.1 500.9 M107.5 508.1 L96.4 508.1 L96.4 510.9 L107.5 510.9 M107.5 505.2 L92.1 505.2 L92.1 509.5 L96.4 509.5 M93.7 497.6 L88.0 497.6 L88.0 507.4 L92.1 507.4 M107.5 513.8 L97.6 513.8 L97.6 516.7 L107.5 516.7 M107.5 519.6 L93.9 519.6 L93.9 522.5 L107.5 522.5 M97.6 515.3 L85.5 515.3 L85.5 521.0 L93.9 521.0 M107.5 531.1 L94.8 531.1 L94.8 534.0 L107.5 534.0 M107.5 528.2 L92.7 528.2 L92.7 532.5 L94.8 532.5 M107.5 525.3 L89.2 525.3 L89.2 530.4 L92.7 530.4 M107.5 536.8 L94.5 536.8 L94.5 539.7 L107.5 539.7 M107.5 545.5 L96.9 545.5 L96.9 548.4 L107.5 548.4 M107.5 542.6 L94.3 542.6 L94.3 546.9 L96.9 546.9 M94.5 538.3 L89.6 538.3 L89.6 544.8 L94.3 544.8 M107.5 558.8 L97.7 558.8 L97.7 561.6 L107.5 561.6 M107.5 555.9 L94.3 555.9 L94.3 560.2 L97.7 560.2 M107.5 564.5 L102.4 564.5 L102.4 567.4 L107.5 567.4 M107.5 570.4 L96.8 570.4 L96.8 573.2 L107.5 573.2 M102.4 566.0 L93.5 566.0 L93.5 571.8 L96.8 571.8 M107.5 576.1 L97.1 576.1 L97.1 579.0 L107.5 579.0 M107.5 581.9 L96.3 581.9 L96.3 584.8 L107.5 584.8 M97.1 577.6 L92.8 577.6 L92.8 583.4 L96.3 583.4 M93.5 568.9 L90.3 568.9 L90.3 580.5 L92.8 580.5 M94.3 558.0 L88.5 558.0 L88.5 574.7 L90.3 574.7 M89.6 541.5 L85.4 541.5 L85.4 566.4 L88.5 566.4 M89.2 527.9 L83.4 527.9 L83.4 556.2 L85.4 556.2 M85.5 518.1 L82.5 518.1 L82.5 539.7 L83.4 539.7 M88.0 503.0 L79.4 503.0 L79.4 528.9 L82.5 528.9 M83.9 475.3 L78.4 475.3 L78.4 516.0 L79.4 516.0 M83.3 432.4 L76.6 432.4 L76.6 495.4 L78.4 495.4 M78.6 349.8 L71.5 349.8 L71.5 465.6 L76.6 465.6" stroke="#222" stroke-width="0.6" fill="none"/>
<rect x="107.9" y="311.2" width="250.9" height="71.1" fill="none" stroke="#ee1c1c" stroke-width="1.6"/>
<rect x="109.0" y="384.0" width="250.6" height="53.1" fill="none" stroke="#2b2bdc" stroke-width="1.6"/>
<rect x="108.8" y="440.7" width="251.4" height="53.7" fill="none" stroke="#4f9be6" stroke-width="1.6"/>
<rect x="109.6" y="497.0" width="250.2" height="53.6" fill="none" stroke="#ee1c1c" stroke-width="1.6"/>
<rect x="109.6" y="553.5" width="249.9" height="33.5" fill="none" stroke="#111111" stroke-width="1.6"/>
<defs><linearGradient id="cb" x1="0" y1="0" x2="0" y2="1"><stop offset="0" stop-color="#ff0000"/><stop offset="0.5" stop-color="#ffffff"/><stop offset="1" stop-color="#0000ff"/></linearGradient></defs>
<rect x="364.1" y="312" width="7" height="107" fill="url(#cb)"/>
<text x="374" y="328.3" font-size="6.5" fill="#222">4</text>
<text x="374" y="347.8" font-size="6.5" fill="#222">2</text>
<text x="374" y="367.3" font-size="6.5" fill="#222">0</text>
<text x="374" y="388.8" font-size="6.5" fill="#222">-2</text>
<text x="374" y="408.3" font-size="6.5" fill="#222">-4</text>
<path d="M109.3 587.5V591.7H360.3V587.5 M186.4 591.7V587.5 M270.5 591.7V587.5" stroke="#666" stroke-width="0.6" fill="none"/>
<text x="136.7" y="603" font-size="8.2" font-weight="bold" fill="#111" textLength="21" lengthAdjust="spacingAndGlyphs">Young</text>
<text x="205.8" y="603" font-size="8.2" font-weight="bold" fill="#111" textLength="39.5" lengthAdjust="spacingAndGlyphs">Middle-age</text>
<text x="306.4" y="603" font-size="8.2" font-weight="bold" fill="#111" textLength="13.1" lengthAdjust="spacingAndGlyphs">Old</text>
<text x="1.7" y="341.8" font-size="6.9" font-weight="bold" fill="#f01515" textLength="64.5" lengthAdjust="spacingAndGlyphs">Cluster 1: high in young</text>
<text x="1.7" y="401.0" font-size="6.9" font-weight="bold" fill="#2222ee" textLength="61.5" lengthAdjust="spacingAndGlyphs">Cluster 2: progressive</text>
<text x="1.7" y="408.8" font-size="6.9" font-weight="bold" fill="#2222ee" textLength="44.2" lengthAdjust="spacingAndGlyphs">downregulation</text>
<text x="1.7" y="456.3" font-size="6.9" font-weight="bold" fill="#2f96ea" textLength="67" lengthAdjust="spacingAndGlyphs">Cluster 3: Mixed pattern</text>
<text x="1.7" y="517.1" font-size="6.9" font-weight="bold" fill="#f01515" textLength="58.4" lengthAdjust="spacingAndGlyphs">Cluster 4: High in old</text>
<text x="1.7" y="569.5" font-size="6.9" font-weight="bold" fill="#1a1a1a" textLength="56.5" lengthAdjust="spacingAndGlyphs">Cluster 5: Minimally</text>
<text x="1.7" y="577.3" font-size="6.9" font-weight="bold" fill="#1a1a1a" textLength="66.7" lengthAdjust="spacingAndGlyphs">differentially expressed</text>
</g>
<g id="C">
<text x="411.1" y="15" font-family='"Liberation Serif", serif' font-weight="bold" font-size="19" stroke="#000" stroke-width="0.35">C)</text>
<text x="446.8" y="33.8" font-size="7.7" fill="#111">Old vs Young</text>
<path d="M446.8 38V195.2H647.6" stroke="#222" stroke-width="1.1" fill="none"/>
<text x="443.9" y="190.0" text-anchor="end" font-size="5.8" fill="#444">0</text>
<text x="443.9" y="151.3" text-anchor="end" font-size="5.8" fill="#444">2</text>
<text x="443.9" y="112.6" text-anchor="end" font-size="5.8" fill="#444">4</text>
<text x="443.9" y="73.9" text-anchor="end" font-size="5.8" fill="#444">6</text>
<text x="489.6" y="202.7" text-anchor="middle" font-size="5.2" fill="#444">-2.5</text>
<text x="540.1" y="202.7" text-anchor="middle" font-size="5.2" fill="#444">0.0</text>
<text x="590.6" y="202.7" text-anchor="middle" font-size="5.2" fill="#444">2.5</text>
<text x="641.1" y="202.7" text-anchor="middle" font-size="5.2" fill="#444">5.0</text>
<path d="M444.3 188.0H446.8 M444.3 149.3H446.8 M444.3 110.6H446.8 M444.3 71.9H446.8 M489.6 195.2V197.7 M540.1 195.2V197.7 M590.6 195.2V197.7 M641.1 195.2V197.7" stroke="#222" stroke-width="0.6"/>
<path d="M519.9 38V195.2 M560.3 38V195.2 M446.8 162.8H647.6" stroke="#222" stroke-width="0.7" stroke-dasharray="2.2 1.6" fill="none"/>
<path d="M546.7 184.6a1.15 1.15 0 1 0 2.3 0a1.15 1.15 0 1 0-2.3 0M530.7 184.4a1.15 1.15 0 1 0 2.3 0a1.15 1.15 0 1 0-2.3 0M575.5 181.8a1.15 1.15 0 1 0 2.3 0a1.15 1.15 0 1 0-2.3 0M552.3 185.7a1.15 1.15 0 1 0 2.3 0a1.15 1.15 0 1 0-2.3 0M522.0 184.1a1.15 1.15 0 1 0 2.3 0a1.15 1.15 0 1 0-2.3 0M515.7 177.3a1.15 1.15 0 1 0 2.3 0a1.15 1.15 0 1 0-2.3 0M516.7 183.7a1.15 1.15 0 1 0 2.3 0a1.15 1.15 0 1 0-2.3 0M515.9 184.3a1.15 1.15 0 1 0 2.3 0a1.15 1.15 0 1 0-2.3 0M535.6 186.9a1.15 1.15 0 1 0 2.3 0a1.15 1.15 0 1 0-2.3 0M537.9 175.4a1.15 1.15 0 1 0 2.3 0a1.15 1.15 0 1 0-2.3 0M530.3 186.4a1.15 1.15 0 1 0 2.3 0a1.15 1.15 0 1 0-2.3 0M566.4 178.3a1.15 1.15 0 1 0 2.3 0a1.15 1.15 0 1 0-2.3 0M563.1 184.0a1.15 1.15 0 1 0 2.3 0a1.15 1.15 0 1 0-2.3 0M542.0 186.6a1.15 1.15 0 1 0 2.3 0a1.15 1.15 0 1 0-2.3 0M540.9 179.0a1.15 1.15 0 1 0 2.3 0a1.15 1.15 0 1 0-2.3 0M562.4 184.1a1.15 1.15 0 1 0 2.3 0a1.15 1.15 0 1 0-2.3 0M590.8 179.3a1.15 1.15 0 1 0 2.3 0a1.15 1.15 0 1 0-2.3 0M541.0 187.6a1.15 1.15 0 1 0 2.3 0a1.15 1.15 0 1 0-2.3 0M557.6 183.8a1.15 1.15 0 1 0 2.3 0a1.15 1.15 0 1 0-2.3 0M586.0 166.1a1.15 1.15 0 1 0 2.3 0a1.15 1.15 0 1 0-2.3 0M530.9 186.2a1.15 1.15 0 1 0 2.3 0a1.15 1.15 0 1 0-2.3 0M528.4 185.7a1.15 1.15 0 1 0 2.3 0a1.15 1.15 0 1 0-2.3 0M570.2 182.3a1.15 1.15 0 1 0 2.3 0a1.15 1.15 0 1 0-2.3 0M555.7 180.1a1.15 1.15 0 1 0 2.3 0a1.15 1.15 0 1 0-2.3 0M537.3 186.4a1.15 1.15 0 1 0 2.3 0a1.15 1.15 0 1 0-2.3 0M531.8 173.2a1.15 1.15 0 1 0 2.3 0a1.15 1.15 0 1 0-2.3 0M580.5 180.0a1.15 1.15 0 1 0 2.3 0a1.15 1.15 0 1 0-2.3 0M548.1 181.4a1.15 1.15 0 1 0 2.3 0a1.15 1.15 0 1 0-2.3 0M519.7 181.7a1.15 1.15 0 1 0 2.3 0a1.15 1.15 0 1 0-2.3 0M570.8 183.0a1.15 1.15 0 1 0 2.3 0a1.15 1.15 0 1 0-2.3 0M556.3 177.3a1.15 1.15 0 1 0 2.3 0a1.15 1.15 0 1 0-2.3 0M538.9 188.0a1.15 1.15 0 1 0 2.3 0a1.15 1.15 0 1 0-2.3 0M548.4 186.4a1.15 1.15 0 1 0 2.3 0a1.15 1.15 0 1 0-2.3 0M532.3 176.5a1.15 1.15 0 1 0 2.3 0a1.15 1.15 0 1 0-2.3 0M600.2 178.0a1.15 1.15 0 1 0 2.3 0a1.15 1.15 0 1 0-2.3 0M544.3 185.8a1.15 1.15 0 1 0 2.3 0a1.15 1.15 0 1 0-2.3 0M535.2 186.6a1.15 1.15 0 1 0 2.3 0a1.15 1.15 0 1 0-2.3 0M520.2 185.0a1.15 1.15 0 1 0 2.3 0a1.15 1.15 0 1 0-2.3 0M520.7 184.0a1.15 1.15 0 1 0 2.3 0a1.15 1.15 0 1 0-2.3 0M565.5 183.8a1.15 1.15 0 1 0 2.3 0a1.15 1.15 0 1 0-2.3 0M528.7 181.9a1.15 1.15 0 1 0 2.3 0a1.15 1.15 0 1 0-2.3 0M519.4 184.2a1.15 1.15 0 1 0 2.3 0a1.15 1.15 0 1 0-2.3 0M562.0 184.0a1.15 1.15 0 1 0 2.3 0a1.15 1.15 0 1 0-2.3 0M520.5 176.5a1.15 1.15 0 1 0 2.3 0a1.15 1.15 0 1 0-2.3 0M511.0 183.2a1.15 1.15 0 1 0 2.3 0a1.15 1.15 0 1 0-2.3 0M537.5 175.2a1.15 1.15 0 1 0 2.3 0a1.15 1.15 0 1 0-2.3 0M522.1 184.4a1.15 1.15 0 1 0 2.3 0a1.15 1.15 0 1 0-2.3 0M538.0 187.4a1.15 1.15 0 1 0 2.3 0a1.15 1.15 0 1 0-2.3 0M511.1 173.1a1.15 1.15 0 1 0 2.3 0a1.15 1.15 0 1 0-2.3 0M565.3 183.5a1.15 1.15 0 1 0 2.3 0a1.15 1.15 0 1 0-2.3 0M533.3 176.7a1.15 1.15 0 1 0 2.3 0a1.15 1.15 0 1 0-2.3 0M576.7 177.3a1.15 1.15 0 1 0 2.3 0a1.15 1.15 0 1 0-2.3 0M513.9 183.9a1.15 1.15 0 1 0 2.3 0a1.15 1.15 0 1 0-2.3 0M526.7 185.6a1.15 1.15 0 1 0 2.3 0a1.15 1.15 0 1 0-2.3 0M525.1 185.4a1.15 1.15 0 1 0 2.3 0a1.15 1.15 0 1 0-2.3 0M535.3 186.5a1.15 1.15 0 1 0 2.3 0a1.15 1.15 0 1 0-2.3 0M563.0 169.3a1.15 1.15 0 1 0 2.3 0a1.15 1.15 0 1 0-2.3 0M526.0 185.9a1.15 1.15 0 1 0 2.3 0a1.15 1.15 0 1 0-2.3 0M536.4 186.7a1.15 1.15 0 1 0 2.3 0a1.15 1.15 0 1 0-2.3 0M573.5 174.0a1.15 1.15 0 1 0 2.3 0a1.15 1.15 0 1 0-2.3 0M538.4 186.1a1.15 1.15 0 1 0 2.3 0a1.15 1.15 0 1 0-2.3 0M559.6 183.1a1.15 1.15 0 1 0 2.3 0a1.15 1.15 0 1 0-2.3 0M539.6 187.6a1.15 1.15 0 1 0 2.3 0a1.15 1.15 0 1 0-2.3 0M549.4 186.3a1.15 1.15 0 1 0 2.3 0a1.15 1.15 0 1 0-2.3 0M563.5 180.9a1.15 1.15 0 1 0 2.3 0a1.15 1.15 0 1 0-2.3 0M553.7 183.7a1.15 1.15 0 1 0 2.3 0a1.15 1.15 0 1 0-2.3 0M564.1 182.9a1.15 1.15 0 1 0 2.3 0a1.15 1.15 0 1 0-2.3 0M517.4 177.9a1.15 1.15 0 1 0 2.3 0a1.15 1.15 0 1 0-2.3 0M562.8 182.9a1.15 1.15 0 1 0 2.3 0a1.15 1.15 0 1 0-2.3 0M519.2 177.2a1.15 1.15 0 1 0 2.3 0a1.15 1.15 0 1 0-2.3 0M520.5 184.2a1.15 1.15 0 1 0 2.3 0a1.15 1.15 0 1 0-2.3 0M510.6 163.9a1.15 1.15 0 1 0 2.3 0a1.15 1.15 0 1 0-2.3 0M540.1 185.4a1.15 1.15 0 1 0 2.3 0a1.15 1.15 0 1 0-2.3 0M524.1 179.8a1.15 1.15 0 1 0 2.3 0a1.15 1.15 0 1 0-2.3 0M522.2 185.0a1.15 1.15 0 1 0 2.3 0a1.15 1.15 0 1 0-2.3 0M537.9 185.0a1.15 1.15 0 1 0 2.3 0a1.15 1.15 0 1 0-2.3 0M523.6 181.9a1.15 1.15 0 1 0 2.3 0a1.15 1.15 0 1 0-2.3 0M548.7 186.3a1.15 1.15 0 1 0 2.3 0a1.15 1.15 0 1 0-2.3 0M513.6 183.7a1.15 1.15 0 1 0 2.3 0a1.15 1.15 0 1 0-2.3 0M538.7 187.2a1.15 1.15 0 1 0 2.3 0a1.15 1.15 0 1 0-2.3 0M558.2 181.3a1.15 1.15 0 1 0 2.3 0a1.15 1.15 0 1 0-2.3 0M533.7 186.1a1.15 1.15 0 1 0 2.3 0a1.15 1.15 0 1 0-2.3 0M498.9 180.7a1.15 1.15 0 1 0 2.3 0a1.15 1.15 0 1 0-2.3 0M479.8 178.2a1.15 1.15 0 1 0 2.3 0a1.15 1.15 0 1 0-2.3 0M540.2 185.9a1.15 1.15 0 1 0 2.3 0a1.15 1.15 0 1 0-2.3 0M569.8 182.2a1.15 1.15 0 1 0 2.3 0a1.15 1.15 0 1 0-2.3 0M538.0 187.8a1.15 1.15 0 1 0 2.3 0a1.15 1.15 0 1 0-2.3 0M554.0 185.1a1.15 1.15 0 1 0 2.3 0a1.15 1.15 0 1 0-2.3 0M552.9 185.2a1.15 1.15 0 1 0 2.3 0a1.15 1.15 0 1 0-2.3 0M515.8 183.4a1.15 1.15 0 1 0 2.3 0a1.15 1.15 0 1 0-2.3 0M514.9 184.1a1.15 1.15 0 1 0 2.3 0a1.15 1.15 0 1 0-2.3 0M530.9 183.3a1.15 1.15 0 1 0 2.3 0a1.15 1.15 0 1 0-2.3 0M493.8 180.4a1.15 1.15 0 1 0 2.3 0a1.15 1.15 0 1 0-2.3 0M541.2 187.4a1.15 1.15 0 1 0 2.3 0a1.15 1.15 0 1 0-2.3 0M535.7 186.0a1.15 1.15 0 1 0 2.3 0a1.15 1.15 0 1 0-2.3 0M538.9 187.6a1.15 1.15 0 1 0 2.3 0a1.15 1.15 0 1 0-2.3 0M532.2 170.5a1.15 1.15 0 1 0 2.3 0a1.15 1.15 0 1 0-2.3 0M541.8 182.8a1.15 1.15 0 1 0 2.3 0a1.15 1.15 0 1 0-2.3 0M535.2 187.3a1.15 1.15 0 1 0 2.3 0a1.15 1.15 0 1 0-2.3 0M553.3 183.4a1.15 1.15 0 1 0 2.3 0a1.15 1.15 0 1 0-2.3 0M527.4 184.3a1.15 1.15 0 1 0 2.3 0a1.15 1.15 0 1 0-2.3 0M540.8 187.5a1.15 1.15 0 1 0 2.3 0a1.15 1.15 0 1 0-2.3 0M537.8 186.8a1.15 1.15 0 1 0 2.3 0a1.15 1.15 0 1 0-2.3 0M534.0 183.2a1.15 1.15 0 1 0 2.3 0a1.15 1.15 0 1 0-2.3 0M511.4 182.8a1.15 1.15 0 1 0 2.3 0a1.15 1.15 0 1 0-2.3 0M561.9 164.8a1.15 1.15 0 1 0 2.3 0a1.15 1.15 0 1 0-2.3 0M514.0 182.0a1.15 1.15 0 1 0 2.3 0a1.15 1.15 0 1 0-2.3 0M555.4 183.9a1.15 1.15 0 1 0 2.3 0a1.15 1.15 0 1 0-2.3 0M538.9 187.7a1.15 1.15 0 1 0 2.3 0a1.15 1.15 0 1 0-2.3 0M520.0 185.0a1.15 1.15 0 1 0 2.3 0a1.15 1.15 0 1 0-2.3 0M518.8 183.3a1.15 1.15 0 1 0 2.3 0a1.15 1.15 0 1 0-2.3 0M568.4 182.2a1.15 1.15 0 1 0 2.3 0a1.15 1.15 0 1 0-2.3 0M535.4 187.1a1.15 1.15 0 1 0 2.3 0a1.15 1.15 0 1 0-2.3 0M527.1 185.1a1.15 1.15 0 1 0 2.3 0a1.15 1.15 0 1 0-2.3 0M565.1 183.1a1.15 1.15 0 1 0 2.3 0a1.15 1.15 0 1 0-2.3 0M529.8 185.3a1.15 1.15 0 1 0 2.3 0a1.15 1.15 0 1 0-2.3 0M544.8 186.9a1.15 1.15 0 1 0 2.3 0a1.15 1.15 0 1 0-2.3 0M538.2 186.9a1.15 1.15 0 1 0 2.3 0a1.15 1.15 0 1 0-2.3 0M552.7 185.1a1.15 1.15 0 1 0 2.3 0a1.15 1.15 0 1 0-2.3 0M540.5 187.6a1.15 1.15 0 1 0 2.3 0a1.15 1.15 0 1 0-2.3 0M496.5 175.2a1.15 1.15 0 1 0 2.3 0a1.15 1.15 0 1 0-2.3 0M562.1 172.1a1.15 1.15 0 1 0 2.3 0a1.15 1.15 0 1 0-2.3 0M532.2 186.9a1.15 1.15 0 1 0 2.3 0a1.15 1.15 0 1 0-2.3 0M600.5 178.1a1.15 1.15 0 1 0 2.3 0a1.15 1.15 0 1 0-2.3 0M517.7 183.8a1.15 1.15 0 1 0 2.3 0a1.15 1.15 0 1 0-2.3 0M519.1 176.2a1.15 1.15 0 1 0 2.3 0a1.15 1.15 0 1 0-2.3 0M567.8 182.0a1.15 1.15 0 1 0 2.3 0a1.15 1.15 0 1 0-2.3 0M530.8 186.5a1.15 1.15 0 1 0 2.3 0a1.15 1.15 0 1 0-2.3 0M532.2 184.6a1.15 1.15 0 1 0 2.3 0a1.15 1.15 0 1 0-2.3 0M514.0 177.2a1.15 1.15 0 1 0 2.3 0a1.15 1.15 0 1 0-2.3 0M544.9 187.0a1.15 1.15 0 1 0 2.3 0a1.15 1.15 0 1 0-2.3 0M521.8 166.4a1.15 1.15 0 1 0 2.3 0a1.15 1.15 0 1 0-2.3 0M532.1 186.0a1.15 1.15 0 1 0 2.3 0a1.15 1.15 0 1 0-2.3 0M518.0 180.5a1.15 1.15 0 1 0 2.3 0a1.15 1.15 0 1 0-2.3 0M551.6 185.1a1.15 1.15 0 1 0 2.3 0a1.15 1.15 0 1 0-2.3 0M555.3 185.1a1.15 1.15 0 1 0 2.3 0a1.15 1.15 0 1 0-2.3 0M533.8 185.8a1.15 1.15 0 1 0 2.3 0a1.15 1.15 0 1 0-2.3 0M535.9 180.0a1.15 1.15 0 1 0 2.3 0a1.15 1.15 0 1 0-2.3 0M543.4 186.9a1.15 1.15 0 1 0 2.3 0a1.15 1.15 0 1 0-2.3 0M565.8 183.5a1.15 1.15 0 1 0 2.3 0a1.15 1.15 0 1 0-2.3 0M547.7 177.3a1.15 1.15 0 1 0 2.3 0a1.15 1.15 0 1 0-2.3 0M530.6 186.1a1.15 1.15 0 1 0 2.3 0a1.15 1.15 0 1 0-2.3 0M524.7 184.4a1.15 1.15 0 1 0 2.3 0a1.15 1.15 0 1 0-2.3 0M515.5 182.9a1.15 1.15 0 1 0 2.3 0a1.15 1.15 0 1 0-2.3 0M511.1 182.1a1.15 1.15 0 1 0 2.3 0a1.15 1.15 0 1 0-2.3 0M522.1 175.3a1.15 1.15 0 1 0 2.3 0a1.15 1.15 0 1 0-2.3 0M579.8 180.3a1.15 1.15 0 1 0 2.3 0a1.15 1.15 0 1 0-2.3 0M535.0 183.2a1.15 1.15 0 1 0 2.3 0a1.15 1.15 0 1 0-2.3 0M536.3 182.7a1.15 1.15 0 1 0 2.3 0a1.15 1.15 0 1 0-2.3 0M519.2 183.6a1.15 1.15 0 1 0 2.3 0a1.15 1.15 0 1 0-2.3 0M565.1 183.1a1.15 1.15 0 1 0 2.3 0a1.15 1.15 0 1 0-2.3 0M507.6 182.4a1.15 1.15 0 1 0 2.3 0a1.15 1.15 0 1 0-2.3 0M506.1 182.8a1.15 1.15 0 1 0 2.3 0a1.15 1.15 0 1 0-2.3 0M569.1 182.9a1.15 1.15 0 1 0 2.3 0a1.15 1.15 0 1 0-2.3 0M526.1 183.6a1.15 1.15 0 1 0 2.3 0a1.15 1.15 0 1 0-2.3 0M525.0 185.2a1.15 1.15 0 1 0 2.3 0a1.15 1.15 0 1 0-2.3 0M525.2 185.5a1.15 1.15 0 1 0 2.3 0a1.15 1.15 0 1 0-2.3 0M503.7 171.5a1.15 1.15 0 1 0 2.3 0a1.15 1.15 0 1 0-2.3 0M589.7 179.1a1.15 1.15 0 1 0 2.3 0a1.15 1.15 0 1 0-2.3 0M538.4 186.1a1.15 1.15 0 1 0 2.3 0a1.15 1.15 0 1 0-2.3 0M588.4 165.6a1.15 1.15 0 1 0 2.3 0a1.15 1.15 0 1 0-2.3 0M520.6 184.3a1.15 1.15 0 1 0 2.3 0a1.15 1.15 0 1 0-2.3 0M561.3 183.1a1.15 1.15 0 1 0 2.3 0a1.15 1.15 0 1 0-2.3 0M532.5 186.4a1.15 1.15 0 1 0 2.3 0a1.15 1.15 0 1 0-2.3 0M553.3 185.1a1.15 1.15 0 1 0 2.3 0a1.15 1.15 0 1 0-2.3 0M519.4 183.6a1.15 1.15 0 1 0 2.3 0a1.15 1.15 0 1 0-2.3 0M521.2 184.9a1.15 1.15 0 1 0 2.3 0a1.15 1.15 0 1 0-2.3 0M531.6 184.6a1.15 1.15 0 1 0 2.3 0a1.15 1.15 0 1 0-2.3 0M531.8 185.4a1.15 1.15 0 1 0 2.3 0a1.15 1.15 0 1 0-2.3 0M537.3 186.4a1.15 1.15 0 1 0 2.3 0a1.15 1.15 0 1 0-2.3 0M538.2 187.7a1.15 1.15 0 1 0 2.3 0a1.15 1.15 0 1 0-2.3 0M536.0 179.8a1.15 1.15 0 1 0 2.3 0a1.15 1.15 0 1 0-2.3 0M527.9 184.8a1.15 1.15 0 1 0 2.3 0a1.15 1.15 0 1 0-2.3 0M520.9 183.0a1.15 1.15 0 1 0 2.3 0a1.15 1.15 0 1 0-2.3 0M545.8 186.6a1.15 1.15 0 1 0 2.3 0a1.15 1.15 0 1 0-2.3 0M521.7 185.0a1.15 1.15 0 1 0 2.3 0a1.15 1.15 0 1 0-2.3 0M545.0 182.4a1.15 1.15 0 1 0 2.3 0a1.15 1.15 0 1 0-2.3 0M540.8 187.4a1.15 1.15 0 1 0 2.3 0a1.15 1.15 0 1 0-2.3 0M533.6 186.5a1.15 1.15 0 1 0 2.3 0a1.15 1.15 0 1 0-2.3 0M542.9 186.6a1.15 1.15 0 1 0 2.3 0a1.15 1.15 0 1 0-2.3 0M532.2 186.0a1.15 1.15 0 1 0 2.3 0a1.15 1.15 0 1 0-2.3 0M528.9 186.1a1.15 1.15 0 1 0 2.3 0a1.15 1.15 0 1 0-2.3 0M545.4 186.5a1.15 1.15 0 1 0 2.3 0a1.15 1.15 0 1 0-2.3 0M536.4 186.4a1.15 1.15 0 1 0 2.3 0a1.15 1.15 0 1 0-2.3 0M508.7 182.9a1.15 1.15 0 1 0 2.3 0a1.15 1.15 0 1 0-2.3 0M546.7 186.5a1.15 1.15 0 1 0 2.3 0a1.15 1.15 0 1 0-2.3 0M533.3 171.3a1.15 1.15 0 1 0 2.3 0a1.15 1.15 0 1 0-2.3 0M544.6 186.1a1.15 1.15 0 1 0 2.3 0a1.15 1.15 0 1 0-2.3 0M569.2 179.0a1.15 1.15 0 1 0 2.3 0a1.15 1.15 0 1 0-2.3 0M512.0 179.9a1.15 1.15 0 1 0 2.3 0a1.15 1.15 0 1 0-2.3 0M492.9 180.1a1.15 1.15 0 1 0 2.3 0a1.15 1.15 0 1 0-2.3 0M510.7 167.7a1.15 1.15 0 1 0 2.3 0a1.15 1.15 0 1 0-2.3 0M532.5 180.8a1.15 1.15 0 1 0 2.3 0a1.15 1.15 0 1 0-2.3 0M580.2 177.1a1.15 1.15 0 1 0 2.3 0a1.15 1.15 0 1 0-2.3 0M516.0 184.0a1.15 1.15 0 1 0 2.3 0a1.15 1.15 0 1 0-2.3 0M549.7 185.7a1.15 1.15 0 1 0 2.3 0a1.15 1.15 0 1 0-2.3 0M524.9 185.7a1.15 1.15 0 1 0 2.3 0a1.15 1.15 0 1 0-2.3 0M554.9 185.3a1.15 1.15 0 1 0 2.3 0a1.15 1.15 0 1 0-2.3 0M532.2 166.0a1.15 1.15 0 1 0 2.3 0a1.15 1.15 0 1 0-2.3 0M510.6 182.7a1.15 1.15 0 1 0 2.3 0a1.15 1.15 0 1 0-2.3 0M547.4 185.9a1.15 1.15 0 1 0 2.3 0a1.15 1.15 0 1 0-2.3 0M528.0 184.0a1.15 1.15 0 1 0 2.3 0a1.15 1.15 0 1 0-2.3 0M532.9 186.3a1.15 1.15 0 1 0 2.3 0a1.15 1.15 0 1 0-2.3 0M528.0 186.1a1.15 1.15 0 1 0 2.3 0a1.15 1.15 0 1 0-2.3 0M491.3 179.1a1.15 1.15 0 1 0 2.3 0a1.15 1.15 0 1 0-2.3 0M557.6 184.8a1.15 1.15 0 1 0 2.3 0a1.15 1.15 0 1 0-2.3 0M547.5 186.4a1.15 1.15 0 1 0 2.3 0a1.15 1.15 0 1 0-2.3 0M529.6 176.4a1.15 1.15 0 1 0 2.3 0a1.15 1.15 0 1 0-2.3 0M592.3 179.1a1.15 1.15 0 1 0 2.3 0a1.15 1.15 0 1 0-2.3 0M544.1 178.5a1.15 1.15 0 1 0 2.3 0a1.15 1.15 0 1 0-2.3 0M579.0 179.5a1.15 1.15 0 1 0 2.3 0a1.15 1.15 0 1 0-2.3 0M535.3 185.6a1.15 1.15 0 1 0 2.3 0a1.15 1.15 0 1 0-2.3 0M512.9 172.8a1.15 1.15 0 1 0 2.3 0a1.15 1.15 0 1 0-2.3 0M527.0 185.6a1.15 1.15 0 1 0 2.3 0a1.15 1.15 0 1 0-2.3 0M552.4 185.8a1.15 1.15 0 1 0 2.3 0a1.15 1.15 0 1 0-2.3 0M567.0 183.1a1.15 1.15 0 1 0 2.3 0a1.15 1.15 0 1 0-2.3 0M522.4 184.1a1.15 1.15 0 1 0 2.3 0a1.15 1.15 0 1 0-2.3 0M526.2 184.0a1.15 1.15 0 1 0 2.3 0a1.15 1.15 0 1 0-2.3 0M522.2 185.0a1.15 1.15 0 1 0 2.3 0a1.15 1.15 0 1 0-2.3 0M563.9 183.3a1.15 1.15 0 1 0 2.3 0a1.15 1.15 0 1 0-2.3 0M572.0 181.6a1.15 1.15 0 1 0 2.3 0a1.15 1.15 0 1 0-2.3 0M540.6 185.6a1.15 1.15 0 1 0 2.3 0a1.15 1.15 0 1 0-2.3 0M536.7 187.4a1.15 1.15 0 1 0 2.3 0a1.15 1.15 0 1 0-2.3 0M551.3 185.6a1.15 1.15 0 1 0 2.3 0a1.15 1.15 0 1 0-2.3 0M512.8 183.5a1.15 1.15 0 1 0 2.3 0a1.15 1.15 0 1 0-2.3 0M536.4 187.4a1.15 1.15 0 1 0 2.3 0a1.15 1.15 0 1 0-2.3 0M532.9 186.4a1.15 1.15 0 1 0 2.3 0a1.15 1.15 0 1 0-2.3 0M532.7 184.0a1.15 1.15 0 1 0 2.3 0a1.15 1.15 0 1 0-2.3 0M538.5 184.8a1.15 1.15 0 1 0 2.3 0a1.15 1.15 0 1 0-2.3 0M535.1 187.2a1.15 1.15 0 1 0 2.3 0a1.15 1.15 0 1 0-2.3 0M521.0 182.6a1.15 1.15 0 1 0 2.3 0a1.15 1.15 0 1 0-2.3 0M563.7 181.9a1.15 1.15 0 1 0 2.3 0a1.15 1.15 0 1 0-2.3 0M595.1 178.5a1.15 1.15 0 1 0 2.3 0a1.15 1.15 0 1 0-2.3 0M572.0 181.7a1.15 1.15 0 1 0 2.3 0a1.15 1.15 0 1 0-2.3 0M530.2 186.4a1.15 1.15 0 1 0 2.3 0a1.15 1.15 0 1 0-2.3 0M553.6 185.0a1.15 1.15 0 1 0 2.3 0a1.15 1.15 0 1 0-2.3 0M525.9 185.9a1.15 1.15 0 1 0 2.3 0a1.15 1.15 0 1 0-2.3 0M532.7 186.7a1.15 1.15 0 1 0 2.3 0a1.15 1.15 0 1 0-2.3 0M522.8 180.7a1.15 1.15 0 1 0 2.3 0a1.15 1.15 0 1 0-2.3 0M532.7 185.7a1.15 1.15 0 1 0 2.3 0a1.15 1.15 0 1 0-2.3 0M545.9 186.2a1.15 1.15 0 1 0 2.3 0a1.15 1.15 0 1 0-2.3 0M539.7 184.3a1.15 1.15 0 1 0 2.3 0a1.15 1.15 0 1 0-2.3 0M518.1 169.0a1.15 1.15 0 1 0 2.3 0a1.15 1.15 0 1 0-2.3 0M502.6 182.1a1.15 1.15 0 1 0 2.3 0a1.15 1.15 0 1 0-2.3 0M547.1 186.2a1.15 1.15 0 1 0 2.3 0a1.15 1.15 0 1 0-2.3 0M537.6 187.6a1.15 1.15 0 1 0 2.3 0a1.15 1.15 0 1 0-2.3 0M508.4 183.0a1.15 1.15 0 1 0 2.3 0a1.15 1.15 0 1 0-2.3 0M593.0 179.3a1.15 1.15 0 1 0 2.3 0a1.15 1.15 0 1 0-2.3 0M526.7 185.3a1.15 1.15 0 1 0 2.3 0a1.15 1.15 0 1 0-2.3 0M537.8 186.7a1.15 1.15 0 1 0 2.3 0a1.15 1.15 0 1 0-2.3 0M531.4 184.6a1.15 1.15 0 1 0 2.3 0a1.15 1.15 0 1 0-2.3 0M530.8 169.4a1.15 1.15 0 1 0 2.3 0a1.15 1.15 0 1 0-2.3 0M534.6 186.5a1.15 1.15 0 1 0 2.3 0a1.15 1.15 0 1 0-2.3 0M519.7 183.7a1.15 1.15 0 1 0 2.3 0a1.15 1.15 0 1 0-2.3 0M545.9 186.6a1.15 1.15 0 1 0 2.3 0a1.15 1.15 0 1 0-2.3 0M524.2 181.8a1.15 1.15 0 1 0 2.3 0a1.15 1.15 0 1 0-2.3 0M587.7 177.3a1.15 1.15 0 1 0 2.3 0a1.15 1.15 0 1 0-2.3 0M529.3 186.5a1.15 1.15 0 1 0 2.3 0a1.15 1.15 0 1 0-2.3 0M584.6 178.3a1.15 1.15 0 1 0 2.3 0a1.15 1.15 0 1 0-2.3 0M533.9 185.6a1.15 1.15 0 1 0 2.3 0a1.15 1.15 0 1 0-2.3 0M523.1 179.4a1.15 1.15 0 1 0 2.3 0a1.15 1.15 0 1 0-2.3 0M527.7 177.1a1.15 1.15 0 1 0 2.3 0a1.15 1.15 0 1 0-2.3 0M580.1 180.7a1.15 1.15 0 1 0 2.3 0a1.15 1.15 0 1 0-2.3 0M525.2 185.3a1.15 1.15 0 1 0 2.3 0a1.15 1.15 0 1 0-2.3 0M550.8 185.7a1.15 1.15 0 1 0 2.3 0a1.15 1.15 0 1 0-2.3 0M538.0 187.3a1.15 1.15 0 1 0 2.3 0a1.15 1.15 0 1 0-2.3 0M536.9 187.6a1.15 1.15 0 1 0 2.3 0a1.15 1.15 0 1 0-2.3 0M556.2 183.8a1.15 1.15 0 1 0 2.3 0a1.15 1.15 0 1 0-2.3 0M550.0 183.1a1.15 1.15 0 1 0 2.3 0a1.15 1.15 0 1 0-2.3 0M512.5 183.4a1.15 1.15 0 1 0 2.3 0a1.15 1.15 0 1 0-2.3 0M544.6 186.9a1.15 1.15 0 1 0 2.3 0a1.15 1.15 0 1 0-2.3 0M541.8 187.3a1.15 1.15 0 1 0 2.3 0a1.15 1.15 0 1 0-2.3 0M533.8 184.8a1.15 1.15 0 1 0 2.3 0a1.15 1.15 0 1 0-2.3 0M541.5 187.6a1.15 1.15 0 1 0 2.3 0a1.15 1.15 0 1 0-2.3 0M525.8 185.8a1.15 1.15 0 1 0 2.3 0a1.15 1.15 0 1 0-2.3 0M609.1 176.0a1.15 1.15 0 1 0 2.3 0a1.15 1.15 0 1 0-2.3 0M523.7 185.5a1.15 1.15 0 1 0 2.3 0a1.15 1.15 0 1 0-2.3 0M528.4 179.7a1.15 1.15 0 1 0 2.3 0a1.15 1.15 0 1 0-2.3 0M521.5 184.8a1.15 1.15 0 1 0 2.3 0a1.15 1.15 0 1 0-2.3 0M514.0 179.2a1.15 1.15 0 1 0 2.3 0a1.15 1.15 0 1 0-2.3 0M535.6 186.4a1.15 1.15 0 1 0 2.3 0a1.15 1.15 0 1 0-2.3 0M559.6 184.5a1.15 1.15 0 1 0 2.3 0a1.15 1.15 0 1 0-2.3 0M522.8 185.3a1.15 1.15 0 1 0 2.3 0a1.15 1.15 0 1 0-2.3 0M517.7 183.7a1.15 1.15 0 1 0 2.3 0a1.15 1.15 0 1 0-2.3 0M545.0 184.8a1.15 1.15 0 1 0 2.3 0a1.15 1.15 0 1 0-2.3 0M564.5 183.3a1.15 1.15 0 1 0 2.3 0a1.15 1.15 0 1 0-2.3 0M606.8 175.6a1.15 1.15 0 1 0 2.3 0a1.15 1.15 0 1 0-2.3 0M572.0 182.8a1.15 1.15 0 1 0 2.3 0a1.15 1.15 0 1 0-2.3 0M533.9 187.2a1.15 1.15 0 1 0 2.3 0a1.15 1.15 0 1 0-2.3 0M573.1 182.0a1.15 1.15 0 1 0 2.3 0a1.15 1.15 0 1 0-2.3 0M514.9 175.8a1.15 1.15 0 1 0 2.3 0a1.15 1.15 0 1 0-2.3 0M560.0 183.9a1.15 1.15 0 1 0 2.3 0a1.15 1.15 0 1 0-2.3 0M587.7 180.2a1.15 1.15 0 1 0 2.3 0a1.15 1.15 0 1 0-2.3 0M551.5 184.5a1.15 1.15 0 1 0 2.3 0a1.15 1.15 0 1 0-2.3 0M542.2 186.7a1.15 1.15 0 1 0 2.3 0a1.15 1.15 0 1 0-2.3 0M538.6 186.5a1.15 1.15 0 1 0 2.3 0a1.15 1.15 0 1 0-2.3 0M534.8 186.9a1.15 1.15 0 1 0 2.3 0a1.15 1.15 0 1 0-2.3 0M543.9 186.8a1.15 1.15 0 1 0 2.3 0a1.15 1.15 0 1 0-2.3 0M559.1 184.1a1.15 1.15 0 1 0 2.3 0a1.15 1.15 0 1 0-2.3 0M581.2 181.0a1.15 1.15 0 1 0 2.3 0a1.15 1.15 0 1 0-2.3 0M538.1 177.6a1.15 1.15 0 1 0 2.3 0a1.15 1.15 0 1 0-2.3 0M527.3 184.2a1.15 1.15 0 1 0 2.3 0a1.15 1.15 0 1 0-2.3 0M540.1 184.7a1.15 1.15 0 1 0 2.3 0a1.15 1.15 0 1 0-2.3 0M500.2 180.7a1.15 1.15 0 1 0 2.3 0a1.15 1.15 0 1 0-2.3 0M543.0 187.2a1.15 1.15 0 1 0 2.3 0a1.15 1.15 0 1 0-2.3 0M530.6 185.8a1.15 1.15 0 1 0 2.3 0a1.15 1.15 0 1 0-2.3 0M547.4 186.1a1.15 1.15 0 1 0 2.3 0a1.15 1.15 0 1 0-2.3 0M515.0 175.7a1.15 1.15 0 1 0 2.3 0a1.15 1.15 0 1 0-2.3 0M519.9 174.2a1.15 1.15 0 1 0 2.3 0a1.15 1.15 0 1 0-2.3 0M515.3 184.0a1.15 1.15 0 1 0 2.3 0a1.15 1.15 0 1 0-2.3 0M571.5 181.3a1.15 1.15 0 1 0 2.3 0a1.15 1.15 0 1 0-2.3 0M558.4 184.2a1.15 1.15 0 1 0 2.3 0a1.15 1.15 0 1 0-2.3 0M538.4 187.8a1.15 1.15 0 1 0 2.3 0a1.15 1.15 0 1 0-2.3 0M540.8 187.6a1.15 1.15 0 1 0 2.3 0a1.15 1.15 0 1 0-2.3 0M531.2 186.4a1.15 1.15 0 1 0 2.3 0a1.15 1.15 0 1 0-2.3 0M567.9 171.5a1.15 1.15 0 1 0 2.3 0a1.15 1.15 0 1 0-2.3 0M600.9 177.7a1.15 1.15 0 1 0 2.3 0a1.15 1.15 0 1 0-2.3 0M533.5 177.5a1.15 1.15 0 1 0 2.3 0a1.15 1.15 0 1 0-2.3 0M503.4 180.8a1.15 1.15 0 1 0 2.3 0a1.15 1.15 0 1 0-2.3 0M560.5 183.9a1.15 1.15 0 1 0 2.3 0a1.15 1.15 0 1 0-2.3 0M551.4 186.0a1.15 1.15 0 1 0 2.3 0a1.15 1.15 0 1 0-2.3 0M567.0 183.1a1.15 1.15 0 1 0 2.3 0a1.15 1.15 0 1 0-2.3 0M521.1 181.2a1.15 1.15 0 1 0 2.3 0a1.15 1.15 0 1 0-2.3 0M523.6 183.7a1.15 1.15 0 1 0 2.3 0a1.15 1.15 0 1 0-2.3 0M519.0 164.5a1.15 1.15 0 1 0 2.3 0a1.15 1.15 0 1 0-2.3 0M551.8 185.6a1.15 1.15 0 1 0 2.3 0a1.15 1.15 0 1 0-2.3 0M567.5 183.3a1.15 1.15 0 1 0 2.3 0a1.15 1.15 0 1 0-2.3 0M554.6 184.2a1.15 1.15 0 1 0 2.3 0a1.15 1.15 0 1 0-2.3 0M534.5 186.5a1.15 1.15 0 1 0 2.3 0a1.15 1.15 0 1 0-2.3 0M522.6 184.2a1.15 1.15 0 1 0 2.3 0a1.15 1.15 0 1 0-2.3 0M551.6 185.8a1.15 1.15 0 1 0 2.3 0a1.15 1.15 0 1 0-2.3 0M549.1 177.9a1.15 1.15 0 1 0 2.3 0a1.15 1.15 0 1 0-2.3 0M549.1 185.9a1.15 1.15 0 1 0 2.3 0a1.15 1.15 0 1 0-2.3 0M527.5 164.9a1.15 1.15 0 1 0 2.3 0a1.15 1.15 0 1 0-2.3 0M540.6 187.4a1.15 1.15 0 1 0 2.3 0a1.15 1.15 0 1 0-2.3 0M507.7 182.2a1.15 1.15 0 1 0 2.3 0a1.15 1.15 0 1 0-2.3 0M551.1 178.4a1.15 1.15 0 1 0 2.3 0a1.15 1.15 0 1 0-2.3 0M534.2 182.7a1.15 1.15 0 1 0 2.3 0a1.15 1.15 0 1 0-2.3 0M507.2 181.6a1.15 1.15 0 1 0 2.3 0a1.15 1.15 0 1 0-2.3 0M522.3 185.2a1.15 1.15 0 1 0 2.3 0a1.15 1.15 0 1 0-2.3 0M555.8 183.3a1.15 1.15 0 1 0 2.3 0a1.15 1.15 0 1 0-2.3 0M533.1 186.7a1.15 1.15 0 1 0 2.3 0a1.15 1.15 0 1 0-2.3 0M586.8 179.9a1.15 1.15 0 1 0 2.3 0a1.15 1.15 0 1 0-2.3 0M521.3 185.1a1.15 1.15 0 1 0 2.3 0a1.15 1.15 0 1 0-2.3 0M560.5 184.0a1.15 1.15 0 1 0 2.3 0a1.15 1.15 0 1 0-2.3 0M495.7 170.8a1.15 1.15 0 1 0 2.3 0a1.15 1.15 0 1 0-2.3 0M532.6 186.7a1.15 1.15 0 1 0 2.3 0a1.15 1.15 0 1 0-2.3 0M515.1 180.8a1.15 1.15 0 1 0 2.3 0a1.15 1.15 0 1 0-2.3 0M568.6 175.3a1.15 1.15 0 1 0 2.3 0a1.15 1.15 0 1 0-2.3 0M531.6 186.4a1.15 1.15 0 1 0 2.3 0a1.15 1.15 0 1 0-2.3 0M527.0 181.9a1.15 1.15 0 1 0 2.3 0a1.15 1.15 0 1 0-2.3 0M530.8 163.6a1.15 1.15 0 1 0 2.3 0a1.15 1.15 0 1 0-2.3 0M526.9 181.1a1.15 1.15 0 1 0 2.3 0a1.15 1.15 0 1 0-2.3 0M527.5 186.2a1.15 1.15 0 1 0 2.3 0a1.15 1.15 0 1 0-2.3 0M570.9 182.6a1.15 1.15 0 1 0 2.3 0a1.15 1.15 0 1 0-2.3 0M568.9 181.5a1.15 1.15 0 1 0 2.3 0a1.15 1.15 0 1 0-2.3 0M537.1 184.3a1.15 1.15 0 1 0 2.3 0a1.15 1.15 0 1 0-2.3 0M535.0 187.0a1.15 1.15 0 1 0 2.3 0a1.15 1.15 0 1 0-2.3 0M568.4 182.2a1.15 1.15 0 1 0 2.3 0a1.15 1.15 0 1 0-2.3 0M526.6 185.5a1.15 1.15 0 1 0 2.3 0a1.15 1.15 0 1 0-2.3 0M522.4 183.7a1.15 1.15 0 1 0 2.3 0a1.15 1.15 0 1 0-2.3 0M548.0 186.0a1.15 1.15 0 1 0 2.3 0a1.15 1.15 0 1 0-2.3 0M598.8 168.8a1.15 1.15 0 1 0 2.3 0a1.15 1.15 0 1 0-2.3 0M603.9 166.3a1.15 1.15 0 1 0 2.3 0a1.15 1.15 0 1 0-2.3 0M529.6 186.4a1.15 1.15 0 1 0 2.3 0a1.15 1.15 0 1 0-2.3 0M558.2 184.0a1.15 1.15 0 1 0 2.3 0a1.15 1.15 0 1 0-2.3 0M517.1 183.9a1.15 1.15 0 1 0 2.3 0a1.15 1.15 0 1 0-2.3 0M535.0 182.1a1.15 1.15 0 1 0 2.3 0a1.15 1.15 0 1 0-2.3 0M552.7 184.8a1.15 1.15 0 1 0 2.3 0a1.15 1.15 0 1 0-2.3 0M536.6 187.3a1.15 1.15 0 1 0 2.3 0a1.15 1.15 0 1 0-2.3 0M519.2 183.9a1.15 1.15 0 1 0 2.3 0a1.15 1.15 0 1 0-2.3 0M526.0 185.8a1.15 1.15 0 1 0 2.3 0a1.15 1.15 0 1 0-2.3 0M543.3 186.4a1.15 1.15 0 1 0 2.3 0a1.15 1.15 0 1 0-2.3 0M525.5 182.4a1.15 1.15 0 1 0 2.3 0a1.15 1.15 0 1 0-2.3 0M502.4 181.5a1.15 1.15 0 1 0 2.3 0a1.15 1.15 0 1 0-2.3 0M555.7 164.9a1.15 1.15 0 1 0 2.3 0a1.15 1.15 0 1 0-2.3 0M587.5 180.1a1.15 1.15 0 1 0 2.3 0a1.15 1.15 0 1 0-2.3 0M529.7 186.3a1.15 1.15 0 1 0 2.3 0a1.15 1.15 0 1 0-2.3 0M572.5 176.3a1.15 1.15 0 1 0 2.3 0a1.15 1.15 0 1 0-2.3 0M555.8 185.3a1.15 1.15 0 1 0 2.3 0a1.15 1.15 0 1 0-2.3 0M540.7 180.0a1.15 1.15 0 1 0 2.3 0a1.15 1.15 0 1 0-2.3 0M541.6 186.9a1.15 1.15 0 1 0 2.3 0a1.15 1.15 0 1 0-2.3 0M512.1 183.1a1.15 1.15 0 1 0 2.3 0a1.15 1.15 0 1 0-2.3 0M536.0 187.3a1.15 1.15 0 1 0 2.3 0a1.15 1.15 0 1 0-2.3 0M530.5 184.1a1.15 1.15 0 1 0 2.3 0a1.15 1.15 0 1 0-2.3 0M522.1 185.2a1.15 1.15 0 1 0 2.3 0a1.15 1.15 0 1 0-2.3 0M520.5 184.4a1.15 1.15 0 1 0 2.3 0a1.15 1.15 0 1 0-2.3 0M552.7 185.7a1.15 1.15 0 1 0 2.3 0a1.15 1.15 0 1 0-2.3 0M499.3 176.2a1.15 1.15 0 1 0 2.3 0a1.15 1.15 0 1 0-2.3 0M499.2 181.6a1.15 1.15 0 1 0 2.3 0a1.15 1.15 0 1 0-2.3 0M530.8 164.9a1.15 1.15 0 1 0 2.3 0a1.15 1.15 0 1 0-2.3 0M538.9 187.6a1.15 1.15 0 1 0 2.3 0a1.15 1.15 0 1 0-2.3 0M535.7 185.2a1.15 1.15 0 1 0 2.3 0a1.15 1.15 0 1 0-2.3 0M544.8 180.6a1.15 1.15 0 1 0 2.3 0a1.15 1.15 0 1 0-2.3 0M530.4 183.2a1.15 1.15 0 1 0 2.3 0a1.15 1.15 0 1 0-2.3 0M569.9 181.6a1.15 1.15 0 1 0 2.3 0a1.15 1.15 0 1 0-2.3 0M535.8 187.4a1.15 1.15 0 1 0 2.3 0a1.15 1.15 0 1 0-2.3 0M530.9 163.5a1.15 1.15 0 1 0 2.3 0a1.15 1.15 0 1 0-2.3 0M501.0 173.7a1.15 1.15 0 1 0 2.3 0a1.15 1.15 0 1 0-2.3 0M563.2 184.0a1.15 1.15 0 1 0 2.3 0a1.15 1.15 0 1 0-2.3 0M535.5 186.6a1.15 1.15 0 1 0 2.3 0a1.15 1.15 0 1 0-2.3 0M534.7 187.0a1.15 1.15 0 1 0 2.3 0a1.15 1.15 0 1 0-2.3 0M535.2 186.1a1.15 1.15 0 1 0 2.3 0a1.15 1.15 0 1 0-2.3 0M524.1 175.0a1.15 1.15 0 1 0 2.3 0a1.15 1.15 0 1 0-2.3 0M574.5 181.3a1.15 1.15 0 1 0 2.3 0a1.15 1.15 0 1 0-2.3 0M556.8 185.1a1.15 1.15 0 1 0 2.3 0a1.15 1.15 0 1 0-2.3 0M524.2 175.6a1.15 1.15 0 1 0 2.3 0a1.15 1.15 0 1 0-2.3 0M556.4 183.1a1.15 1.15 0 1 0 2.3 0a1.15 1.15 0 1 0-2.3 0M569.7 182.6a1.15 1.15 0 1 0 2.3 0a1.15 1.15 0 1 0-2.3 0M512.5 183.7a1.15 1.15 0 1 0 2.3 0a1.15 1.15 0 1 0-2.3 0M532.3 181.7a1.15 1.15 0 1 0 2.3 0a1.15 1.15 0 1 0-2.3 0M522.1 184.1a1.15 1.15 0 1 0 2.3 0a1.15 1.15 0 1 0-2.3 0M544.6 186.3a1.15 1.15 0 1 0 2.3 0a1.15 1.15 0 1 0-2.3 0M548.3 184.9a1.15 1.15 0 1 0 2.3 0a1.15 1.15 0 1 0-2.3 0M530.6 186.3a1.15 1.15 0 1 0 2.3 0a1.15 1.15 0 1 0-2.3 0M571.5 182.6a1.15 1.15 0 1 0 2.3 0a1.15 1.15 0 1 0-2.3 0M591.5 174.8a1.15 1.15 0 1 0 2.3 0a1.15 1.15 0 1 0-2.3 0M545.1 186.9a1.15 1.15 0 1 0 2.3 0a1.15 1.15 0 1 0-2.3 0M530.1 185.7a1.15 1.15 0 1 0 2.3 0a1.15 1.15 0 1 0-2.3 0M560.0 182.4a1.15 1.15 0 1 0 2.3 0a1.15 1.15 0 1 0-2.3 0M537.3 183.5a1.15 1.15 0 1 0 2.3 0a1.15 1.15 0 1 0-2.3 0M576.7 181.4a1.15 1.15 0 1 0 2.3 0a1.15 1.15 0 1 0-2.3 0M558.6 184.5a1.15 1.15 0 1 0 2.3 0a1.15 1.15 0 1 0-2.3 0M547.9 186.2a1.15 1.15 0 1 0 2.3 0a1.15 1.15 0 1 0-2.3 0M552.2 182.8a1.15 1.15 0 1 0 2.3 0a1.15 1.15 0 1 0-2.3 0M550.4 185.0a1.15 1.15 0 1 0 2.3 0a1.15 1.15 0 1 0-2.3 0M543.2 186.6a1.15 1.15 0 1 0 2.3 0a1.15 1.15 0 1 0-2.3 0M514.1 180.8a1.15 1.15 0 1 0 2.3 0a1.15 1.15 0 1 0-2.3 0M572.5 181.5a1.15 1.15 0 1 0 2.3 0a1.15 1.15 0 1 0-2.3 0M564.9 176.3a1.15 1.15 0 1 0 2.3 0a1.15 1.15 0 1 0-2.3 0M541.3 187.4a1.15 1.15 0 1 0 2.3 0a1.15 1.15 0 1 0-2.3 0M538.4 187.2a1.15 1.15 0 1 0 2.3 0a1.15 1.15 0 1 0-2.3 0M546.0 184.7a1.15 1.15 0 1 0 2.3 0a1.15 1.15 0 1 0-2.3 0M560.7 179.0a1.15 1.15 0 1 0 2.3 0a1.15 1.15 0 1 0-2.3 0M511.5 176.7a1.15 1.15 0 1 0 2.3 0a1.15 1.15 0 1 0-2.3 0M555.9 185.3a1.15 1.15 0 1 0 2.3 0a1.15 1.15 0 1 0-2.3 0M525.2 185.5a1.15 1.15 0 1 0 2.3 0a1.15 1.15 0 1 0-2.3 0M546.8 185.6a1.15 1.15 0 1 0 2.3 0a1.15 1.15 0 1 0-2.3 0M578.0 180.5a1.15 1.15 0 1 0 2.3 0a1.15 1.15 0 1 0-2.3 0M535.0 187.3a1.15 1.15 0 1 0 2.3 0a1.15 1.15 0 1 0-2.3 0M612.6 176.1a1.15 1.15 0 1 0 2.3 0a1.15 1.15 0 1 0-2.3 0M553.7 185.0a1.15 1.15 0 1 0 2.3 0a1.15 1.15 0 1 0-2.3 0M512.0 165.2a1.15 1.15 0 1 0 2.3 0a1.15 1.15 0 1 0-2.3 0M563.0 183.4a1.15 1.15 0 1 0 2.3 0a1.15 1.15 0 1 0-2.3 0M525.1 183.7a1.15 1.15 0 1 0 2.3 0a1.15 1.15 0 1 0-2.3 0M526.0 184.5a1.15 1.15 0 1 0 2.3 0a1.15 1.15 0 1 0-2.3 0M528.3 165.9a1.15 1.15 0 1 0 2.3 0a1.15 1.15 0 1 0-2.3 0M503.3 167.0a1.15 1.15 0 1 0 2.3 0a1.15 1.15 0 1 0-2.3 0M593.7 177.5a1.15 1.15 0 1 0 2.3 0a1.15 1.15 0 1 0-2.3 0M568.8 173.5a1.15 1.15 0 1 0 2.3 0a1.15 1.15 0 1 0-2.3 0M585.6 180.0a1.15 1.15 0 1 0 2.3 0a1.15 1.15 0 1 0-2.3 0M516.2 183.7a1.15 1.15 0 1 0 2.3 0a1.15 1.15 0 1 0-2.3 0M515.3 183.6a1.15 1.15 0 1 0 2.3 0a1.15 1.15 0 1 0-2.3 0M554.7 185.3a1.15 1.15 0 1 0 2.3 0a1.15 1.15 0 1 0-2.3 0M554.5 185.1a1.15 1.15 0 1 0 2.3 0a1.15 1.15 0 1 0-2.3 0M549.7 183.9a1.15 1.15 0 1 0 2.3 0a1.15 1.15 0 1 0-2.3 0M534.1 185.9a1.15 1.15 0 1 0 2.3 0a1.15 1.15 0 1 0-2.3 0M501.1 176.0a1.15 1.15 0 1 0 2.3 0a1.15 1.15 0 1 0-2.3 0M563.7 180.0a1.15 1.15 0 1 0 2.3 0a1.15 1.15 0 1 0-2.3 0M542.8 185.4a1.15 1.15 0 1 0 2.3 0a1.15 1.15 0 1 0-2.3 0M525.9 185.4a1.15 1.15 0 1 0 2.3 0a1.15 1.15 0 1 0-2.3 0M558.3 183.8a1.15 1.15 0 1 0 2.3 0a1.15 1.15 0 1 0-2.3 0M577.0 169.7a1.15 1.15 0 1 0 2.3 0a1.15 1.15 0 1 0-2.3 0M538.6 187.8a1.15 1.15 0 1 0 2.3 0a1.15 1.15 0 1 0-2.3 0M498.9 181.5a1.15 1.15 0 1 0 2.3 0a1.15 1.15 0 1 0-2.3 0M521.8 173.7a1.15 1.15 0 1 0 2.3 0a1.15 1.15 0 1 0-2.3 0M589.0 177.5a1.15 1.15 0 1 0 2.3 0a1.15 1.15 0 1 0-2.3 0M571.9 182.3a1.15 1.15 0 1 0 2.3 0a1.15 1.15 0 1 0-2.3 0M563.8 183.7a1.15 1.15 0 1 0 2.3 0a1.15 1.15 0 1 0-2.3 0M514.9 183.9a1.15 1.15 0 1 0 2.3 0a1.15 1.15 0 1 0-2.3 0M522.5 170.0a1.15 1.15 0 1 0 2.3 0a1.15 1.15 0 1 0-2.3 0M518.1 184.4a1.15 1.15 0 1 0 2.3 0a1.15 1.15 0 1 0-2.3 0M603.4 176.9a1.15 1.15 0 1 0 2.3 0a1.15 1.15 0 1 0-2.3 0M562.0 180.1a1.15 1.15 0 1 0 2.3 0a1.15 1.15 0 1 0-2.3 0M546.5 186.8a1.15 1.15 0 1 0 2.3 0a1.15 1.15 0 1 0-2.3 0M526.3 180.8a1.15 1.15 0 1 0 2.3 0a1.15 1.15 0 1 0-2.3 0M530.9 185.1a1.15 1.15 0 1 0 2.3 0a1.15 1.15 0 1 0-2.3 0M521.5 185.2a1.15 1.15 0 1 0 2.3 0a1.15 1.15 0 1 0-2.3 0M514.4 180.7a1.15 1.15 0 1 0 2.3 0a1.15 1.15 0 1 0-2.3 0M559.3 184.0a1.15 1.15 0 1 0 2.3 0a1.15 1.15 0 1 0-2.3 0M532.9 183.5a1.15 1.15 0 1 0 2.3 0a1.15 1.15 0 1 0-2.3 0M579.8 181.4a1.15 1.15 0 1 0 2.3 0a1.15 1.15 0 1 0-2.3 0M611.2 175.0a1.15 1.15 0 1 0 2.3 0a1.15 1.15 0 1 0-2.3 0M543.3 184.7a1.15 1.15 0 1 0 2.3 0a1.15 1.15 0 1 0-2.3 0M512.0 183.2a1.15 1.15 0 1 0 2.3 0a1.15 1.15 0 1 0-2.3 0M545.0 187.0a1.15 1.15 0 1 0 2.3 0a1.15 1.15 0 1 0-2.3 0M603.0 175.7a1.15 1.15 0 1 0 2.3 0a1.15 1.15 0 1 0-2.3 0M505.9 181.0a1.15 1.15 0 1 0 2.3 0a1.15 1.15 0 1 0-2.3 0M521.8 185.1a1.15 1.15 0 1 0 2.3 0a1.15 1.15 0 1 0-2.3 0M520.9 181.6a1.15 1.15 0 1 0 2.3 0a1.15 1.15 0 1 0-2.3 0M530.1 184.9a1.15 1.15 0 1 0 2.3 0a1.15 1.15 0 1 0-2.3 0M526.4 177.3a1.15 1.15 0 1 0 2.3 0a1.15 1.15 0 1 0-2.3 0M537.1 187.6a1.15 1.15 0 1 0 2.3 0a1.15 1.15 0 1 0-2.3 0M561.9 184.4a1.15 1.15 0 1 0 2.3 0a1.15 1.15 0 1 0-2.3 0M523.4 184.9a1.15 1.15 0 1 0 2.3 0a1.15 1.15 0 1 0-2.3 0M519.2 175.8a1.15 1.15 0 1 0 2.3 0a1.15 1.15 0 1 0-2.3 0M531.6 186.1a1.15 1.15 0 1 0 2.3 0a1.15 1.15 0 1 0-2.3 0M535.4 186.2a1.15 1.15 0 1 0 2.3 0a1.15 1.15 0 1 0-2.3 0M552.8 184.5a1.15 1.15 0 1 0 2.3 0a1.15 1.15 0 1 0-2.3 0M579.6 181.3a1.15 1.15 0 1 0 2.3 0a1.15 1.15 0 1 0-2.3 0M612.7 176.3a1.15 1.15 0 1 0 2.3 0a1.15 1.15 0 1 0-2.3 0M585.3 180.2a1.15 1.15 0 1 0 2.3 0a1.15 1.15 0 1 0-2.3 0M573.8 180.2a1.15 1.15 0 1 0 2.3 0a1.15 1.15 0 1 0-2.3 0M522.8 184.6a1.15 1.15 0 1 0 2.3 0a1.15 1.15 0 1 0-2.3 0M536.3 187.1a1.15 1.15 0 1 0 2.3 0a1.15 1.15 0 1 0-2.3 0M512.6 183.5a1.15 1.15 0 1 0 2.3 0a1.15 1.15 0 1 0-2.3 0M558.2 184.5a1.15 1.15 0 1 0 2.3 0a1.15 1.15 0 1 0-2.3 0M553.5 180.9a1.15 1.15 0 1 0 2.3 0a1.15 1.15 0 1 0-2.3 0M558.6 182.9a1.15 1.15 0 1 0 2.3 0a1.15 1.15 0 1 0-2.3 0M566.8 182.8a1.15 1.15 0 1 0 2.3 0a1.15 1.15 0 1 0-2.3 0M577.3 181.7a1.15 1.15 0 1 0 2.3 0a1.15 1.15 0 1 0-2.3 0M577.9 179.4a1.15 1.15 0 1 0 2.3 0a1.15 1.15 0 1 0-2.3 0M542.2 187.3a1.15 1.15 0 1 0 2.3 0a1.15 1.15 0 1 0-2.3 0M556.8 183.8a1.15 1.15 0 1 0 2.3 0a1.15 1.15 0 1 0-2.3 0M538.8 185.4a1.15 1.15 0 1 0 2.3 0a1.15 1.15 0 1 0-2.3 0M582.1 181.0a1.15 1.15 0 1 0 2.3 0a1.15 1.15 0 1 0-2.3 0M579.3 181.6a1.15 1.15 0 1 0 2.3 0a1.15 1.15 0 1 0-2.3 0M548.0 186.2a1.15 1.15 0 1 0 2.3 0a1.15 1.15 0 1 0-2.3 0M571.7 180.3a1.15 1.15 0 1 0 2.3 0a1.15 1.15 0 1 0-2.3 0M540.2 185.0a1.15 1.15 0 1 0 2.3 0a1.15 1.15 0 1 0-2.3 0M593.1 179.0a1.15 1.15 0 1 0 2.3 0a1.15 1.15 0 1 0-2.3 0M517.8 183.2a1.15 1.15 0 1 0 2.3 0a1.15 1.15 0 1 0-2.3 0M556.9 183.8a1.15 1.15 0 1 0 2.3 0a1.15 1.15 0 1 0-2.3 0M539.6 187.5a1.15 1.15 0 1 0 2.3 0a1.15 1.15 0 1 0-2.3 0M561.3 184.1a1.15 1.15 0 1 0 2.3 0a1.15 1.15 0 1 0-2.3 0M573.1 181.8a1.15 1.15 0 1 0 2.3 0a1.15 1.15 0 1 0-2.3 0M595.6 169.6a1.15 1.15 0 1 0 2.3 0a1.15 1.15 0 1 0-2.3 0M558.4 184.7a1.15 1.15 0 1 0 2.3 0a1.15 1.15 0 1 0-2.3 0M540.9 186.8a1.15 1.15 0 1 0 2.3 0a1.15 1.15 0 1 0-2.3 0M535.7 187.5a1.15 1.15 0 1 0 2.3 0a1.15 1.15 0 1 0-2.3 0M509.7 168.9a1.15 1.15 0 1 0 2.3 0a1.15 1.15 0 1 0-2.3 0M541.8 186.2a1.15 1.15 0 1 0 2.3 0a1.15 1.15 0 1 0-2.3 0M516.2 184.1a1.15 1.15 0 1 0 2.3 0a1.15 1.15 0 1 0-2.3 0M526.0 185.7a1.15 1.15 0 1 0 2.3 0a1.15 1.15 0 1 0-2.3 0M531.8 185.4a1.15 1.15 0 1 0 2.3 0a1.15 1.15 0 1 0-2.3 0M566.9 179.0a1.15 1.15 0 1 0 2.3 0a1.15 1.15 0 1 0-2.3 0M521.1 183.8a1.15 1.15 0 1 0 2.3 0a1.15 1.15 0 1 0-2.3 0M520.2 178.0a1.15 1.15 0 1 0 2.3 0a1.15 1.15 0 1 0-2.3 0M542.4 186.7a1.15 1.15 0 1 0 2.3 0a1.15 1.15 0 1 0-2.3 0M542.6 186.6a1.15 1.15 0 1 0 2.3 0a1.15 1.15 0 1 0-2.3 0M527.7 186.1a1.15 1.15 0 1 0 2.3 0a1.15 1.15 0 1 0-2.3 0M521.9 185.3a1.15 1.15 0 1 0 2.3 0a1.15 1.15 0 1 0-2.3 0M520.7 172.2a1.15 1.15 0 1 0 2.3 0a1.15 1.15 0 1 0-2.3 0M529.7 184.8a1.15 1.15 0 1 0 2.3 0a1.15 1.15 0 1 0-2.3 0M520.7 174.8a1.15 1.15 0 1 0 2.3 0a1.15 1.15 0 1 0-2.3 0M531.5 185.7a1.15 1.15 0 1 0 2.3 0a1.15 1.15 0 1 0-2.3 0M536.1 179.4a1.15 1.15 0 1 0 2.3 0a1.15 1.15 0 1 0-2.3 0M595.1 178.5a1.15 1.15 0 1 0 2.3 0a1.15 1.15 0 1 0-2.3 0M546.1 182.0a1.15 1.15 0 1 0 2.3 0a1.15 1.15 0 1 0-2.3 0M536.8 187.0a1.15 1.15 0 1 0 2.3 0a1.15 1.15 0 1 0-2.3 0M499.8 181.5a1.15 1.15 0 1 0 2.3 0a1.15 1.15 0 1 0-2.3 0M531.0 186.4a1.15 1.15 0 1 0 2.3 0a1.15 1.15 0 1 0-2.3 0M550.1 186.1a1.15 1.15 0 1 0 2.3 0a1.15 1.15 0 1 0-2.3 0M546.5 184.9a1.15 1.15 0 1 0 2.3 0a1.15 1.15 0 1 0-2.3 0M528.5 185.6a1.15 1.15 0 1 0 2.3 0a1.15 1.15 0 1 0-2.3 0M479.4 178.3a1.15 1.15 0 1 0 2.3 0a1.15 1.15 0 1 0-2.3 0M474.3 173.5a1.15 1.15 0 1 0 2.3 0a1.15 1.15 0 1 0-2.3 0M486.4 169.6a1.15 1.15 0 1 0 2.3 0a1.15 1.15 0 1 0-2.3 0" fill="#2814ff"/>
<circle cx="506.0" cy="45.0" r="1.25" fill="#46f812"/>
<text x="508.8" y="44.4" font-size="5" fill="#46f812">hsa-miR-222-3p</text>
<circle cx="465.2" cy="84.9" r="1.25" fill="#46f812"/>
<text x="453.7" y="82.0" font-size="5" fill="#46f812">hsa-miR-615-3p</text>
<circle cx="502.5" cy="87.2" r="1.25" fill="#46f812"/>
<text x="493" y="94.1" font-size="5" fill="#46f812">hsa-miR-320b</text>
<circle cx="460.7" cy="115.1" r="1.25" fill="#46f812"/>
<text x="449.4" y="111.89999999999999" font-size="5" fill="#46f812">hsa-miR-654-3p</text>
<circle cx="473.4" cy="117.2" r="1.25" fill="#46f812"/>
<text x="461.1" y="123.6" font-size="5" fill="#46f812">hsa-miR-190a-5p</text>
<circle cx="579.1" cy="66.1" r="1.25" fill="#ff2418"/>
<text x="566" y="62.2" font-size="5" fill="#ff2418">hsa-miR-378a-3p</text>
<circle cx="569.8" cy="79.6" r="1.25" fill="#ff2418"/>
<text x="550.3" y="87.1" font-size="5" fill="#ff2418">novel_412</text>
<circle cx="619.5" cy="97.1" r="1.25" fill="#ff2418"/>
<text x="610" y="94.1" font-size="5" fill="#ff2418">hsa-miR-378c</text>
<circle cx="608.2" cy="123.2" r="1.25" fill="#ff2418"/>
<text x="594.5" y="121.39999999999999" font-size="5" fill="#ff2418">hsa-miR-199b-5p</text>
<circle cx="623.5" cy="141.6" r="1.25" fill="#ff2418"/>
<text x="600" y="147.6" font-size="5" fill="#ff2418">hsa-miR-215-5p</text>
<circle cx="503.7" cy="125.1" r="1.25" fill="#46f812"/>
<circle cx="487.4" cy="129.0" r="1.25" fill="#46f812"/>
<circle cx="498.1" cy="129.0" r="1.25" fill="#46f812"/>
<circle cx="511.0" cy="130.7" r="1.25" fill="#46f812"/>
<circle cx="510.6" cy="139.2" r="1.25" fill="#46f812"/>
<circle cx="479.5" cy="143.1" r="1.25" fill="#46f812"/>
<circle cx="507.0" cy="148.3" r="1.25" fill="#46f812"/>
<circle cx="507.8" cy="147.9" r="1.25" fill="#46f812"/>
<circle cx="462.1" cy="150.3" r="1.25" fill="#46f812"/>
<circle cx="462.1" cy="152.4" r="1.25" fill="#46f812"/>
<circle cx="466.6" cy="154.1" r="1.25" fill="#46f812"/>
<circle cx="476.1" cy="151.8" r="1.25" fill="#46f812"/>
<circle cx="455.7" cy="157.0" r="1.25" fill="#46f812"/>
<circle cx="482.5" cy="157.0" r="1.25" fill="#46f812"/>
<circle cx="490.0" cy="156.8" r="1.25" fill="#46f812"/>
<circle cx="496.5" cy="156.3" r="1.25" fill="#46f812"/>
<circle cx="499.3" cy="155.9" r="1.25" fill="#46f812"/>
<circle cx="501.7" cy="152.8" r="1.25" fill="#46f812"/>
<circle cx="496.9" cy="159.7" r="1.25" fill="#46f812"/>
<circle cx="487.6" cy="161.1" r="1.25" fill="#46f812"/>
<circle cx="507.6" cy="159.7" r="1.25" fill="#46f812"/>
<circle cx="511.8" cy="161.1" r="1.25" fill="#46f812"/>
<circle cx="494.2" cy="162.7" r="1.25" fill="#46f812"/>
<circle cx="588.8" cy="152.8" r="1.25" fill="#ff2418"/>
<circle cx="570.2" cy="158.0" r="1.25" fill="#ff2418"/>
<circle cx="575.0" cy="157.8" r="1.25" fill="#ff2418"/>
<circle cx="581.3" cy="157.8" r="1.25" fill="#ff2418"/>
<circle cx="576.7" cy="160.1" r="1.25" fill="#ff2418"/>
<circle cx="578.5" cy="159.7" r="1.25" fill="#ff2418"/>
<circle cx="585.3" cy="159.7" r="1.25" fill="#ff2418"/>
<circle cx="588.0" cy="159.2" r="1.25" fill="#ff2418"/>
<circle cx="569.8" cy="162.1" r="1.25" fill="#ff2418"/>
<circle cx="621.9" cy="159.7" r="1.25" fill="#ff2418"/>
<circle cx="523.7" cy="140.2" r="1.25" fill="#2814ff"/>
<circle cx="520.9" cy="149.3" r="1.25" fill="#2814ff"/>
<circle cx="530.8" cy="159.9" r="1.25" fill="#2814ff"/>
<circle cx="531.8" cy="165.7" r="1.25" fill="#2814ff"/>
<circle cx="479.9" cy="166.7" r="1.25" fill="#2814ff"/>
<circle cx="513.6" cy="163.6" r="1.25" fill="#2814ff"/>
<circle cx="516.5" cy="166.1" r="1.25" fill="#2814ff"/>
<circle cx="557.3" cy="123.2" r="1.25" fill="#2814ff"/>
<circle cx="552.8" cy="147.4" r="1.25" fill="#2814ff"/>
<circle cx="559.7" cy="146.6" r="1.25" fill="#2814ff"/>
<circle cx="549.6" cy="155.7" r="1.25" fill="#2814ff"/>
<circle cx="550.2" cy="157.0" r="1.25" fill="#2814ff"/>
<circle cx="553.6" cy="159.0" r="1.25" fill="#2814ff"/>
<circle cx="551.2" cy="160.5" r="1.25" fill="#2814ff"/>
<circle cx="552.2" cy="161.3" r="1.25" fill="#2814ff"/>
<circle cx="546.4" cy="165.0" r="1.25" fill="#2814ff"/>
<circle cx="557.3" cy="164.2" r="1.25" fill="#2814ff"/>
<circle cx="562.3" cy="165.7" r="1.25" fill="#2814ff"/>
<circle cx="604.9" cy="163.6" r="1.25" fill="#2814ff"/>
<circle cx="594.6" cy="165.4" r="1.25" fill="#2814ff"/>
<circle cx="590.6" cy="169.0" r="1.25" fill="#2814ff"/>
<circle cx="582.1" cy="169.0" r="1.25" fill="#2814ff"/>
<circle cx="584.5" cy="170.6" r="1.25" fill="#2814ff"/>
<circle cx="589.8" cy="171.6" r="1.25" fill="#2814ff"/>
<circle cx="604.1" cy="172.9" r="1.25" fill="#2814ff"/>
<circle cx="620.1" cy="171.7" r="1.25" fill="#2814ff"/>
<circle cx="631.4" cy="171.0" r="1.25" fill="#2814ff"/>
<circle cx="638.9" cy="169.0" r="1.25" fill="#2814ff"/>
<text x="547.2" y="209.2" text-anchor="middle" font-size="6.3" fill="#222">log<tspan font-size="4.2" dy="1.5">2</tspan><tspan dy="-1.5">(Fold Change)</tspan></text>
<text transform="translate(436.3 116.6) rotate(-90)" text-anchor="middle" font-size="6.4" fill="#222">- log<tspan font-size="4.2" dy="1.5">10</tspan><tspan dy="-1.5">(p-value)</tspan></text>
<circle cx="662.6" cy="106.5" r="1.55" fill="#46f812"/>
<text x="671" y="108.2" font-size="4.9" fill="#111">down</text>
<circle cx="662.6" cy="116.4" r="1.55" fill="#2814ff"/>
<text x="671" y="118.10000000000001" font-size="4.9" fill="#111">ns</text>
<circle cx="662.6" cy="126.9" r="1.55" fill="#ff2418"/>
<text x="671" y="128.6" font-size="4.9" fill="#111">up</text>
</g>
<g id="D">
<text x="411.3" y="240" font-family='"Liberation Serif", serif' font-weight="bold" font-size="19" stroke="#000" stroke-width="0.35">D)</text>
<text x="446.8" y="258.2" font-size="7.7" fill="#111">Old vs Middle Age</text>
<path d="M446.8 262.8V419H648.8" stroke="#222" stroke-width="1.1" fill="none"/>
<text x="443.9" y="414.2" text-anchor="end" font-size="5.8" fill="#444">0</text>
<text x="443.9" y="375.1" text-anchor="end" font-size="5.8" fill="#444">1</text>
<text x="443.9" y="336.0" text-anchor="end" font-size="5.8" fill="#444">2</text>
<text x="443.9" y="296.9" text-anchor="end" font-size="5.8" fill="#444">3</text>
<text x="485.5" y="426.5" text-anchor="middle" font-size="5.2" fill="#444">-2.5</text>
<text x="539.8" y="426.5" text-anchor="middle" font-size="5.2" fill="#444">0.0</text>
<text x="594.1" y="426.5" text-anchor="middle" font-size="5.2" fill="#444">2.5</text>
<path d="M444.3 412.2H446.8 M444.3 373.1H446.8 M444.3 334.0H446.8 M444.3 294.9H446.8 M485.5 419V421.5 M539.8 419V421.5 M594.1 419V421.5" stroke="#222" stroke-width="0.6"/>
<path d="M518.1 262.8V419 M561.5 262.8V419 M446.8 361.3H648.8" stroke="#222" stroke-width="0.7" stroke-dasharray="2.2 1.6" fill="none"/>
<path d="M568.1 402.8a1.15 1.15 0 1 0 2.3 0a1.15 1.15 0 1 0-2.3 0M559.7 405.1a1.15 1.15 0 1 0 2.3 0a1.15 1.15 0 1 0-2.3 0M503.6 401.2a1.15 1.15 0 1 0 2.3 0a1.15 1.15 0 1 0-2.3 0M528.9 409.0a1.15 1.15 0 1 0 2.3 0a1.15 1.15 0 1 0-2.3 0M541.1 411.2a1.15 1.15 0 1 0 2.3 0a1.15 1.15 0 1 0-2.3 0M506.4 399.1a1.15 1.15 0 1 0 2.3 0a1.15 1.15 0 1 0-2.3 0M511.0 403.2a1.15 1.15 0 1 0 2.3 0a1.15 1.15 0 1 0-2.3 0M538.4 409.3a1.15 1.15 0 1 0 2.3 0a1.15 1.15 0 1 0-2.3 0M510.1 382.4a1.15 1.15 0 1 0 2.3 0a1.15 1.15 0 1 0-2.3 0M549.9 408.0a1.15 1.15 0 1 0 2.3 0a1.15 1.15 0 1 0-2.3 0M524.8 396.9a1.15 1.15 0 1 0 2.3 0a1.15 1.15 0 1 0-2.3 0M563.2 400.9a1.15 1.15 0 1 0 2.3 0a1.15 1.15 0 1 0-2.3 0M542.7 382.2a1.15 1.15 0 1 0 2.3 0a1.15 1.15 0 1 0-2.3 0M536.3 411.4a1.15 1.15 0 1 0 2.3 0a1.15 1.15 0 1 0-2.3 0M540.8 405.5a1.15 1.15 0 1 0 2.3 0a1.15 1.15 0 1 0-2.3 0M562.0 392.8a1.15 1.15 0 1 0 2.3 0a1.15 1.15 0 1 0-2.3 0M547.4 409.6a1.15 1.15 0 1 0 2.3 0a1.15 1.15 0 1 0-2.3 0M520.4 406.8a1.15 1.15 0 1 0 2.3 0a1.15 1.15 0 1 0-2.3 0M555.4 406.1a1.15 1.15 0 1 0 2.3 0a1.15 1.15 0 1 0-2.3 0M496.8 398.5a1.15 1.15 0 1 0 2.3 0a1.15 1.15 0 1 0-2.3 0M557.8 401.9a1.15 1.15 0 1 0 2.3 0a1.15 1.15 0 1 0-2.3 0M605.9 374.5a1.15 1.15 0 1 0 2.3 0a1.15 1.15 0 1 0-2.3 0M530.7 392.3a1.15 1.15 0 1 0 2.3 0a1.15 1.15 0 1 0-2.3 0M581.7 394.2a1.15 1.15 0 1 0 2.3 0a1.15 1.15 0 1 0-2.3 0M567.9 402.1a1.15 1.15 0 1 0 2.3 0a1.15 1.15 0 1 0-2.3 0M573.3 391.1a1.15 1.15 0 1 0 2.3 0a1.15 1.15 0 1 0-2.3 0M505.6 399.2a1.15 1.15 0 1 0 2.3 0a1.15 1.15 0 1 0-2.3 0M522.6 404.7a1.15 1.15 0 1 0 2.3 0a1.15 1.15 0 1 0-2.3 0M523.3 404.3a1.15 1.15 0 1 0 2.3 0a1.15 1.15 0 1 0-2.3 0M550.8 403.1a1.15 1.15 0 1 0 2.3 0a1.15 1.15 0 1 0-2.3 0M573.0 399.0a1.15 1.15 0 1 0 2.3 0a1.15 1.15 0 1 0-2.3 0M562.8 395.3a1.15 1.15 0 1 0 2.3 0a1.15 1.15 0 1 0-2.3 0M529.6 409.3a1.15 1.15 0 1 0 2.3 0a1.15 1.15 0 1 0-2.3 0M541.9 393.1a1.15 1.15 0 1 0 2.3 0a1.15 1.15 0 1 0-2.3 0M503.2 394.8a1.15 1.15 0 1 0 2.3 0a1.15 1.15 0 1 0-2.3 0M550.0 407.4a1.15 1.15 0 1 0 2.3 0a1.15 1.15 0 1 0-2.3 0M517.1 402.9a1.15 1.15 0 1 0 2.3 0a1.15 1.15 0 1 0-2.3 0M489.6 381.0a1.15 1.15 0 1 0 2.3 0a1.15 1.15 0 1 0-2.3 0M531.7 391.6a1.15 1.15 0 1 0 2.3 0a1.15 1.15 0 1 0-2.3 0M512.4 402.7a1.15 1.15 0 1 0 2.3 0a1.15 1.15 0 1 0-2.3 0M483.8 395.8a1.15 1.15 0 1 0 2.3 0a1.15 1.15 0 1 0-2.3 0M513.2 404.0a1.15 1.15 0 1 0 2.3 0a1.15 1.15 0 1 0-2.3 0M501.9 401.1a1.15 1.15 0 1 0 2.3 0a1.15 1.15 0 1 0-2.3 0M544.8 408.1a1.15 1.15 0 1 0 2.3 0a1.15 1.15 0 1 0-2.3 0M528.3 402.4a1.15 1.15 0 1 0 2.3 0a1.15 1.15 0 1 0-2.3 0M565.3 399.2a1.15 1.15 0 1 0 2.3 0a1.15 1.15 0 1 0-2.3 0M583.6 390.6a1.15 1.15 0 1 0 2.3 0a1.15 1.15 0 1 0-2.3 0M594.7 394.8a1.15 1.15 0 1 0 2.3 0a1.15 1.15 0 1 0-2.3 0M556.1 405.8a1.15 1.15 0 1 0 2.3 0a1.15 1.15 0 1 0-2.3 0M574.8 397.8a1.15 1.15 0 1 0 2.3 0a1.15 1.15 0 1 0-2.3 0M543.9 403.0a1.15 1.15 0 1 0 2.3 0a1.15 1.15 0 1 0-2.3 0M552.1 403.0a1.15 1.15 0 1 0 2.3 0a1.15 1.15 0 1 0-2.3 0M529.5 408.6a1.15 1.15 0 1 0 2.3 0a1.15 1.15 0 1 0-2.3 0M510.8 380.3a1.15 1.15 0 1 0 2.3 0a1.15 1.15 0 1 0-2.3 0M523.1 402.5a1.15 1.15 0 1 0 2.3 0a1.15 1.15 0 1 0-2.3 0M547.7 409.2a1.15 1.15 0 1 0 2.3 0a1.15 1.15 0 1 0-2.3 0M565.2 403.8a1.15 1.15 0 1 0 2.3 0a1.15 1.15 0 1 0-2.3 0M531.6 408.6a1.15 1.15 0 1 0 2.3 0a1.15 1.15 0 1 0-2.3 0M546.0 407.0a1.15 1.15 0 1 0 2.3 0a1.15 1.15 0 1 0-2.3 0M567.0 395.5a1.15 1.15 0 1 0 2.3 0a1.15 1.15 0 1 0-2.3 0M551.2 406.0a1.15 1.15 0 1 0 2.3 0a1.15 1.15 0 1 0-2.3 0M544.3 410.1a1.15 1.15 0 1 0 2.3 0a1.15 1.15 0 1 0-2.3 0M582.0 397.5a1.15 1.15 0 1 0 2.3 0a1.15 1.15 0 1 0-2.3 0M536.1 407.8a1.15 1.15 0 1 0 2.3 0a1.15 1.15 0 1 0-2.3 0M533.1 409.1a1.15 1.15 0 1 0 2.3 0a1.15 1.15 0 1 0-2.3 0M508.1 401.1a1.15 1.15 0 1 0 2.3 0a1.15 1.15 0 1 0-2.3 0M589.8 391.0a1.15 1.15 0 1 0 2.3 0a1.15 1.15 0 1 0-2.3 0M515.9 384.0a1.15 1.15 0 1 0 2.3 0a1.15 1.15 0 1 0-2.3 0M581.4 381.8a1.15 1.15 0 1 0 2.3 0a1.15 1.15 0 1 0-2.3 0M546.2 409.0a1.15 1.15 0 1 0 2.3 0a1.15 1.15 0 1 0-2.3 0M532.7 404.4a1.15 1.15 0 1 0 2.3 0a1.15 1.15 0 1 0-2.3 0M551.5 406.7a1.15 1.15 0 1 0 2.3 0a1.15 1.15 0 1 0-2.3 0M575.6 400.5a1.15 1.15 0 1 0 2.3 0a1.15 1.15 0 1 0-2.3 0M572.1 398.9a1.15 1.15 0 1 0 2.3 0a1.15 1.15 0 1 0-2.3 0M533.2 405.2a1.15 1.15 0 1 0 2.3 0a1.15 1.15 0 1 0-2.3 0M538.6 406.1a1.15 1.15 0 1 0 2.3 0a1.15 1.15 0 1 0-2.3 0M535.2 397.2a1.15 1.15 0 1 0 2.3 0a1.15 1.15 0 1 0-2.3 0M518.3 395.7a1.15 1.15 0 1 0 2.3 0a1.15 1.15 0 1 0-2.3 0M525.1 405.9a1.15 1.15 0 1 0 2.3 0a1.15 1.15 0 1 0-2.3 0M588.7 395.3a1.15 1.15 0 1 0 2.3 0a1.15 1.15 0 1 0-2.3 0M537.4 408.3a1.15 1.15 0 1 0 2.3 0a1.15 1.15 0 1 0-2.3 0M536.6 410.5a1.15 1.15 0 1 0 2.3 0a1.15 1.15 0 1 0-2.3 0M580.9 375.1a1.15 1.15 0 1 0 2.3 0a1.15 1.15 0 1 0-2.3 0M517.6 405.2a1.15 1.15 0 1 0 2.3 0a1.15 1.15 0 1 0-2.3 0M584.0 398.6a1.15 1.15 0 1 0 2.3 0a1.15 1.15 0 1 0-2.3 0M561.7 403.3a1.15 1.15 0 1 0 2.3 0a1.15 1.15 0 1 0-2.3 0M530.8 398.3a1.15 1.15 0 1 0 2.3 0a1.15 1.15 0 1 0-2.3 0M536.3 394.1a1.15 1.15 0 1 0 2.3 0a1.15 1.15 0 1 0-2.3 0M529.4 406.8a1.15 1.15 0 1 0 2.3 0a1.15 1.15 0 1 0-2.3 0M576.5 395.9a1.15 1.15 0 1 0 2.3 0a1.15 1.15 0 1 0-2.3 0M528.7 409.1a1.15 1.15 0 1 0 2.3 0a1.15 1.15 0 1 0-2.3 0M535.3 403.8a1.15 1.15 0 1 0 2.3 0a1.15 1.15 0 1 0-2.3 0M541.1 409.8a1.15 1.15 0 1 0 2.3 0a1.15 1.15 0 1 0-2.3 0M532.8 408.4a1.15 1.15 0 1 0 2.3 0a1.15 1.15 0 1 0-2.3 0M545.5 407.5a1.15 1.15 0 1 0 2.3 0a1.15 1.15 0 1 0-2.3 0M569.1 402.8a1.15 1.15 0 1 0 2.3 0a1.15 1.15 0 1 0-2.3 0M577.3 400.5a1.15 1.15 0 1 0 2.3 0a1.15 1.15 0 1 0-2.3 0M504.8 374.8a1.15 1.15 0 1 0 2.3 0a1.15 1.15 0 1 0-2.3 0M500.8 400.5a1.15 1.15 0 1 0 2.3 0a1.15 1.15 0 1 0-2.3 0M509.7 403.3a1.15 1.15 0 1 0 2.3 0a1.15 1.15 0 1 0-2.3 0M537.0 404.6a1.15 1.15 0 1 0 2.3 0a1.15 1.15 0 1 0-2.3 0M530.6 408.9a1.15 1.15 0 1 0 2.3 0a1.15 1.15 0 1 0-2.3 0M591.0 370.1a1.15 1.15 0 1 0 2.3 0a1.15 1.15 0 1 0-2.3 0M538.7 402.0a1.15 1.15 0 1 0 2.3 0a1.15 1.15 0 1 0-2.3 0M584.3 397.7a1.15 1.15 0 1 0 2.3 0a1.15 1.15 0 1 0-2.3 0M536.5 410.0a1.15 1.15 0 1 0 2.3 0a1.15 1.15 0 1 0-2.3 0M542.4 411.0a1.15 1.15 0 1 0 2.3 0a1.15 1.15 0 1 0-2.3 0M488.6 396.4a1.15 1.15 0 1 0 2.3 0a1.15 1.15 0 1 0-2.3 0M508.6 402.9a1.15 1.15 0 1 0 2.3 0a1.15 1.15 0 1 0-2.3 0M547.2 409.6a1.15 1.15 0 1 0 2.3 0a1.15 1.15 0 1 0-2.3 0M557.3 403.6a1.15 1.15 0 1 0 2.3 0a1.15 1.15 0 1 0-2.3 0M505.7 401.2a1.15 1.15 0 1 0 2.3 0a1.15 1.15 0 1 0-2.3 0M500.0 400.7a1.15 1.15 0 1 0 2.3 0a1.15 1.15 0 1 0-2.3 0M530.1 409.6a1.15 1.15 0 1 0 2.3 0a1.15 1.15 0 1 0-2.3 0M571.4 400.6a1.15 1.15 0 1 0 2.3 0a1.15 1.15 0 1 0-2.3 0M496.7 398.5a1.15 1.15 0 1 0 2.3 0a1.15 1.15 0 1 0-2.3 0M581.4 396.7a1.15 1.15 0 1 0 2.3 0a1.15 1.15 0 1 0-2.3 0M524.1 406.4a1.15 1.15 0 1 0 2.3 0a1.15 1.15 0 1 0-2.3 0M549.2 407.5a1.15 1.15 0 1 0 2.3 0a1.15 1.15 0 1 0-2.3 0M570.0 394.4a1.15 1.15 0 1 0 2.3 0a1.15 1.15 0 1 0-2.3 0M547.4 409.2a1.15 1.15 0 1 0 2.3 0a1.15 1.15 0 1 0-2.3 0M558.8 406.1a1.15 1.15 0 1 0 2.3 0a1.15 1.15 0 1 0-2.3 0M542.1 410.8a1.15 1.15 0 1 0 2.3 0a1.15 1.15 0 1 0-2.3 0M513.8 403.8a1.15 1.15 0 1 0 2.3 0a1.15 1.15 0 1 0-2.3 0M525.4 403.3a1.15 1.15 0 1 0 2.3 0a1.15 1.15 0 1 0-2.3 0M557.7 403.7a1.15 1.15 0 1 0 2.3 0a1.15 1.15 0 1 0-2.3 0M575.0 396.4a1.15 1.15 0 1 0 2.3 0a1.15 1.15 0 1 0-2.3 0M515.9 405.4a1.15 1.15 0 1 0 2.3 0a1.15 1.15 0 1 0-2.3 0M530.8 409.8a1.15 1.15 0 1 0 2.3 0a1.15 1.15 0 1 0-2.3 0M523.6 407.7a1.15 1.15 0 1 0 2.3 0a1.15 1.15 0 1 0-2.3 0M511.7 396.4a1.15 1.15 0 1 0 2.3 0a1.15 1.15 0 1 0-2.3 0M542.0 386.7a1.15 1.15 0 1 0 2.3 0a1.15 1.15 0 1 0-2.3 0M514.5 399.5a1.15 1.15 0 1 0 2.3 0a1.15 1.15 0 1 0-2.3 0M508.2 397.5a1.15 1.15 0 1 0 2.3 0a1.15 1.15 0 1 0-2.3 0M530.4 396.6a1.15 1.15 0 1 0 2.3 0a1.15 1.15 0 1 0-2.3 0M581.9 398.9a1.15 1.15 0 1 0 2.3 0a1.15 1.15 0 1 0-2.3 0M563.6 404.7a1.15 1.15 0 1 0 2.3 0a1.15 1.15 0 1 0-2.3 0M525.0 406.5a1.15 1.15 0 1 0 2.3 0a1.15 1.15 0 1 0-2.3 0M591.0 396.2a1.15 1.15 0 1 0 2.3 0a1.15 1.15 0 1 0-2.3 0M535.8 379.3a1.15 1.15 0 1 0 2.3 0a1.15 1.15 0 1 0-2.3 0M530.6 408.6a1.15 1.15 0 1 0 2.3 0a1.15 1.15 0 1 0-2.3 0M578.3 400.0a1.15 1.15 0 1 0 2.3 0a1.15 1.15 0 1 0-2.3 0M550.9 402.7a1.15 1.15 0 1 0 2.3 0a1.15 1.15 0 1 0-2.3 0M539.4 411.4a1.15 1.15 0 1 0 2.3 0a1.15 1.15 0 1 0-2.3 0M516.8 404.6a1.15 1.15 0 1 0 2.3 0a1.15 1.15 0 1 0-2.3 0M566.4 384.4a1.15 1.15 0 1 0 2.3 0a1.15 1.15 0 1 0-2.3 0M520.4 401.6a1.15 1.15 0 1 0 2.3 0a1.15 1.15 0 1 0-2.3 0M556.3 399.7a1.15 1.15 0 1 0 2.3 0a1.15 1.15 0 1 0-2.3 0M526.0 408.0a1.15 1.15 0 1 0 2.3 0a1.15 1.15 0 1 0-2.3 0M557.7 404.6a1.15 1.15 0 1 0 2.3 0a1.15 1.15 0 1 0-2.3 0M567.7 402.3a1.15 1.15 0 1 0 2.3 0a1.15 1.15 0 1 0-2.3 0M539.8 388.1a1.15 1.15 0 1 0 2.3 0a1.15 1.15 0 1 0-2.3 0M600.8 393.7a1.15 1.15 0 1 0 2.3 0a1.15 1.15 0 1 0-2.3 0M533.0 402.9a1.15 1.15 0 1 0 2.3 0a1.15 1.15 0 1 0-2.3 0M570.8 401.6a1.15 1.15 0 1 0 2.3 0a1.15 1.15 0 1 0-2.3 0M511.9 395.3a1.15 1.15 0 1 0 2.3 0a1.15 1.15 0 1 0-2.3 0M555.6 394.2a1.15 1.15 0 1 0 2.3 0a1.15 1.15 0 1 0-2.3 0M528.2 393.9a1.15 1.15 0 1 0 2.3 0a1.15 1.15 0 1 0-2.3 0M507.8 401.5a1.15 1.15 0 1 0 2.3 0a1.15 1.15 0 1 0-2.3 0M552.6 407.9a1.15 1.15 0 1 0 2.3 0a1.15 1.15 0 1 0-2.3 0M550.8 408.3a1.15 1.15 0 1 0 2.3 0a1.15 1.15 0 1 0-2.3 0M583.4 398.5a1.15 1.15 0 1 0 2.3 0a1.15 1.15 0 1 0-2.3 0M532.4 410.3a1.15 1.15 0 1 0 2.3 0a1.15 1.15 0 1 0-2.3 0M494.0 398.9a1.15 1.15 0 1 0 2.3 0a1.15 1.15 0 1 0-2.3 0M551.0 408.3a1.15 1.15 0 1 0 2.3 0a1.15 1.15 0 1 0-2.3 0M522.5 405.3a1.15 1.15 0 1 0 2.3 0a1.15 1.15 0 1 0-2.3 0M525.6 397.9a1.15 1.15 0 1 0 2.3 0a1.15 1.15 0 1 0-2.3 0M504.9 399.3a1.15 1.15 0 1 0 2.3 0a1.15 1.15 0 1 0-2.3 0M543.4 398.7a1.15 1.15 0 1 0 2.3 0a1.15 1.15 0 1 0-2.3 0M531.2 409.0a1.15 1.15 0 1 0 2.3 0a1.15 1.15 0 1 0-2.3 0M498.4 399.4a1.15 1.15 0 1 0 2.3 0a1.15 1.15 0 1 0-2.3 0M540.2 406.7a1.15 1.15 0 1 0 2.3 0a1.15 1.15 0 1 0-2.3 0M573.7 399.0a1.15 1.15 0 1 0 2.3 0a1.15 1.15 0 1 0-2.3 0M519.4 405.6a1.15 1.15 0 1 0 2.3 0a1.15 1.15 0 1 0-2.3 0M512.9 400.1a1.15 1.15 0 1 0 2.3 0a1.15 1.15 0 1 0-2.3 0M550.4 406.2a1.15 1.15 0 1 0 2.3 0a1.15 1.15 0 1 0-2.3 0M561.2 399.2a1.15 1.15 0 1 0 2.3 0a1.15 1.15 0 1 0-2.3 0M530.7 367.6a1.15 1.15 0 1 0 2.3 0a1.15 1.15 0 1 0-2.3 0M586.9 397.7a1.15 1.15 0 1 0 2.3 0a1.15 1.15 0 1 0-2.3 0M546.9 409.2a1.15 1.15 0 1 0 2.3 0a1.15 1.15 0 1 0-2.3 0M559.5 399.9a1.15 1.15 0 1 0 2.3 0a1.15 1.15 0 1 0-2.3 0M556.0 406.9a1.15 1.15 0 1 0 2.3 0a1.15 1.15 0 1 0-2.3 0M595.6 394.8a1.15 1.15 0 1 0 2.3 0a1.15 1.15 0 1 0-2.3 0M506.7 402.3a1.15 1.15 0 1 0 2.3 0a1.15 1.15 0 1 0-2.3 0M525.3 407.6a1.15 1.15 0 1 0 2.3 0a1.15 1.15 0 1 0-2.3 0M535.5 410.0a1.15 1.15 0 1 0 2.3 0a1.15 1.15 0 1 0-2.3 0M540.9 410.9a1.15 1.15 0 1 0 2.3 0a1.15 1.15 0 1 0-2.3 0M585.8 397.1a1.15 1.15 0 1 0 2.3 0a1.15 1.15 0 1 0-2.3 0M520.3 399.8a1.15 1.15 0 1 0 2.3 0a1.15 1.15 0 1 0-2.3 0M546.9 406.4a1.15 1.15 0 1 0 2.3 0a1.15 1.15 0 1 0-2.3 0M565.2 402.8a1.15 1.15 0 1 0 2.3 0a1.15 1.15 0 1 0-2.3 0M574.0 401.5a1.15 1.15 0 1 0 2.3 0a1.15 1.15 0 1 0-2.3 0M568.2 401.9a1.15 1.15 0 1 0 2.3 0a1.15 1.15 0 1 0-2.3 0M541.2 411.4a1.15 1.15 0 1 0 2.3 0a1.15 1.15 0 1 0-2.3 0M500.5 399.5a1.15 1.15 0 1 0 2.3 0a1.15 1.15 0 1 0-2.3 0M587.7 397.5a1.15 1.15 0 1 0 2.3 0a1.15 1.15 0 1 0-2.3 0M526.3 405.7a1.15 1.15 0 1 0 2.3 0a1.15 1.15 0 1 0-2.3 0M514.1 399.7a1.15 1.15 0 1 0 2.3 0a1.15 1.15 0 1 0-2.3 0M531.0 409.0a1.15 1.15 0 1 0 2.3 0a1.15 1.15 0 1 0-2.3 0M532.4 408.7a1.15 1.15 0 1 0 2.3 0a1.15 1.15 0 1 0-2.3 0M531.8 408.2a1.15 1.15 0 1 0 2.3 0a1.15 1.15 0 1 0-2.3 0M523.5 405.8a1.15 1.15 0 1 0 2.3 0a1.15 1.15 0 1 0-2.3 0M558.0 362.8a1.15 1.15 0 1 0 2.3 0a1.15 1.15 0 1 0-2.3 0M529.7 406.3a1.15 1.15 0 1 0 2.3 0a1.15 1.15 0 1 0-2.3 0M528.4 398.9a1.15 1.15 0 1 0 2.3 0a1.15 1.15 0 1 0-2.3 0M543.1 409.4a1.15 1.15 0 1 0 2.3 0a1.15 1.15 0 1 0-2.3 0M563.5 403.1a1.15 1.15 0 1 0 2.3 0a1.15 1.15 0 1 0-2.3 0M522.0 404.9a1.15 1.15 0 1 0 2.3 0a1.15 1.15 0 1 0-2.3 0M520.4 368.3a1.15 1.15 0 1 0 2.3 0a1.15 1.15 0 1 0-2.3 0M543.4 410.6a1.15 1.15 0 1 0 2.3 0a1.15 1.15 0 1 0-2.3 0M525.4 406.3a1.15 1.15 0 1 0 2.3 0a1.15 1.15 0 1 0-2.3 0M544.4 409.4a1.15 1.15 0 1 0 2.3 0a1.15 1.15 0 1 0-2.3 0M544.7 409.9a1.15 1.15 0 1 0 2.3 0a1.15 1.15 0 1 0-2.3 0M534.4 409.5a1.15 1.15 0 1 0 2.3 0a1.15 1.15 0 1 0-2.3 0M521.9 402.1a1.15 1.15 0 1 0 2.3 0a1.15 1.15 0 1 0-2.3 0M538.3 402.0a1.15 1.15 0 1 0 2.3 0a1.15 1.15 0 1 0-2.3 0M540.5 411.6a1.15 1.15 0 1 0 2.3 0a1.15 1.15 0 1 0-2.3 0M559.3 404.6a1.15 1.15 0 1 0 2.3 0a1.15 1.15 0 1 0-2.3 0M520.9 405.0a1.15 1.15 0 1 0 2.3 0a1.15 1.15 0 1 0-2.3 0M531.7 407.9a1.15 1.15 0 1 0 2.3 0a1.15 1.15 0 1 0-2.3 0M609.2 376.0a1.15 1.15 0 1 0 2.3 0a1.15 1.15 0 1 0-2.3 0M534.8 407.9a1.15 1.15 0 1 0 2.3 0a1.15 1.15 0 1 0-2.3 0M548.8 409.1a1.15 1.15 0 1 0 2.3 0a1.15 1.15 0 1 0-2.3 0M512.1 370.2a1.15 1.15 0 1 0 2.3 0a1.15 1.15 0 1 0-2.3 0M503.9 400.4a1.15 1.15 0 1 0 2.3 0a1.15 1.15 0 1 0-2.3 0M623.4 376.0a1.15 1.15 0 1 0 2.3 0a1.15 1.15 0 1 0-2.3 0M518.9 399.9a1.15 1.15 0 1 0 2.3 0a1.15 1.15 0 1 0-2.3 0M525.1 405.1a1.15 1.15 0 1 0 2.3 0a1.15 1.15 0 1 0-2.3 0M553.2 401.4a1.15 1.15 0 1 0 2.3 0a1.15 1.15 0 1 0-2.3 0M555.2 406.3a1.15 1.15 0 1 0 2.3 0a1.15 1.15 0 1 0-2.3 0M528.3 406.9a1.15 1.15 0 1 0 2.3 0a1.15 1.15 0 1 0-2.3 0M540.1 410.0a1.15 1.15 0 1 0 2.3 0a1.15 1.15 0 1 0-2.3 0M511.4 403.5a1.15 1.15 0 1 0 2.3 0a1.15 1.15 0 1 0-2.3 0M540.7 409.9a1.15 1.15 0 1 0 2.3 0a1.15 1.15 0 1 0-2.3 0M529.2 408.6a1.15 1.15 0 1 0 2.3 0a1.15 1.15 0 1 0-2.3 0M531.6 409.9a1.15 1.15 0 1 0 2.3 0a1.15 1.15 0 1 0-2.3 0M559.0 405.7a1.15 1.15 0 1 0 2.3 0a1.15 1.15 0 1 0-2.3 0M529.7 407.3a1.15 1.15 0 1 0 2.3 0a1.15 1.15 0 1 0-2.3 0M514.6 388.6a1.15 1.15 0 1 0 2.3 0a1.15 1.15 0 1 0-2.3 0M499.1 398.2a1.15 1.15 0 1 0 2.3 0a1.15 1.15 0 1 0-2.3 0M520.0 404.1a1.15 1.15 0 1 0 2.3 0a1.15 1.15 0 1 0-2.3 0M533.2 401.3a1.15 1.15 0 1 0 2.3 0a1.15 1.15 0 1 0-2.3 0M545.9 398.7a1.15 1.15 0 1 0 2.3 0a1.15 1.15 0 1 0-2.3 0M552.5 399.6a1.15 1.15 0 1 0 2.3 0a1.15 1.15 0 1 0-2.3 0M512.7 403.2a1.15 1.15 0 1 0 2.3 0a1.15 1.15 0 1 0-2.3 0M532.8 407.0a1.15 1.15 0 1 0 2.3 0a1.15 1.15 0 1 0-2.3 0M521.2 398.9a1.15 1.15 0 1 0 2.3 0a1.15 1.15 0 1 0-2.3 0M531.4 409.9a1.15 1.15 0 1 0 2.3 0a1.15 1.15 0 1 0-2.3 0M480.4 393.9a1.15 1.15 0 1 0 2.3 0a1.15 1.15 0 1 0-2.3 0M573.2 401.1a1.15 1.15 0 1 0 2.3 0a1.15 1.15 0 1 0-2.3 0M525.3 407.3a1.15 1.15 0 1 0 2.3 0a1.15 1.15 0 1 0-2.3 0M532.2 366.9a1.15 1.15 0 1 0 2.3 0a1.15 1.15 0 1 0-2.3 0M555.4 401.6a1.15 1.15 0 1 0 2.3 0a1.15 1.15 0 1 0-2.3 0M564.1 404.5a1.15 1.15 0 1 0 2.3 0a1.15 1.15 0 1 0-2.3 0M535.8 411.2a1.15 1.15 0 1 0 2.3 0a1.15 1.15 0 1 0-2.3 0M546.2 406.9a1.15 1.15 0 1 0 2.3 0a1.15 1.15 0 1 0-2.3 0M490.9 393.5a1.15 1.15 0 1 0 2.3 0a1.15 1.15 0 1 0-2.3 0M540.3 406.8a1.15 1.15 0 1 0 2.3 0a1.15 1.15 0 1 0-2.3 0M555.0 404.6a1.15 1.15 0 1 0 2.3 0a1.15 1.15 0 1 0-2.3 0M580.3 395.9a1.15 1.15 0 1 0 2.3 0a1.15 1.15 0 1 0-2.3 0M563.3 392.3a1.15 1.15 0 1 0 2.3 0a1.15 1.15 0 1 0-2.3 0M566.7 382.0a1.15 1.15 0 1 0 2.3 0a1.15 1.15 0 1 0-2.3 0M519.9 402.8a1.15 1.15 0 1 0 2.3 0a1.15 1.15 0 1 0-2.3 0M504.0 399.0a1.15 1.15 0 1 0 2.3 0a1.15 1.15 0 1 0-2.3 0M537.0 411.6a1.15 1.15 0 1 0 2.3 0a1.15 1.15 0 1 0-2.3 0M519.9 405.8a1.15 1.15 0 1 0 2.3 0a1.15 1.15 0 1 0-2.3 0M525.3 407.7a1.15 1.15 0 1 0 2.3 0a1.15 1.15 0 1 0-2.3 0M539.1 369.3a1.15 1.15 0 1 0 2.3 0a1.15 1.15 0 1 0-2.3 0M527.4 408.5a1.15 1.15 0 1 0 2.3 0a1.15 1.15 0 1 0-2.3 0M565.3 402.8a1.15 1.15 0 1 0 2.3 0a1.15 1.15 0 1 0-2.3 0M539.7 411.6a1.15 1.15 0 1 0 2.3 0a1.15 1.15 0 1 0-2.3 0M561.1 405.5a1.15 1.15 0 1 0 2.3 0a1.15 1.15 0 1 0-2.3 0M541.6 410.4a1.15 1.15 0 1 0 2.3 0a1.15 1.15 0 1 0-2.3 0M491.5 394.9a1.15 1.15 0 1 0 2.3 0a1.15 1.15 0 1 0-2.3 0M512.1 403.5a1.15 1.15 0 1 0 2.3 0a1.15 1.15 0 1 0-2.3 0M601.6 363.6a1.15 1.15 0 1 0 2.3 0a1.15 1.15 0 1 0-2.3 0M501.2 400.8a1.15 1.15 0 1 0 2.3 0a1.15 1.15 0 1 0-2.3 0M586.5 396.3a1.15 1.15 0 1 0 2.3 0a1.15 1.15 0 1 0-2.3 0M540.2 406.5a1.15 1.15 0 1 0 2.3 0a1.15 1.15 0 1 0-2.3 0M487.5 395.7a1.15 1.15 0 1 0 2.3 0a1.15 1.15 0 1 0-2.3 0M495.3 390.4a1.15 1.15 0 1 0 2.3 0a1.15 1.15 0 1 0-2.3 0M597.3 393.6a1.15 1.15 0 1 0 2.3 0a1.15 1.15 0 1 0-2.3 0M566.3 403.2a1.15 1.15 0 1 0 2.3 0a1.15 1.15 0 1 0-2.3 0M559.9 385.3a1.15 1.15 0 1 0 2.3 0a1.15 1.15 0 1 0-2.3 0M586.9 368.0a1.15 1.15 0 1 0 2.3 0a1.15 1.15 0 1 0-2.3 0M546.7 391.9a1.15 1.15 0 1 0 2.3 0a1.15 1.15 0 1 0-2.3 0M526.7 407.9a1.15 1.15 0 1 0 2.3 0a1.15 1.15 0 1 0-2.3 0M566.7 403.0a1.15 1.15 0 1 0 2.3 0a1.15 1.15 0 1 0-2.3 0M553.7 407.6a1.15 1.15 0 1 0 2.3 0a1.15 1.15 0 1 0-2.3 0M517.3 404.4a1.15 1.15 0 1 0 2.3 0a1.15 1.15 0 1 0-2.3 0M539.1 373.6a1.15 1.15 0 1 0 2.3 0a1.15 1.15 0 1 0-2.3 0M521.2 406.5a1.15 1.15 0 1 0 2.3 0a1.15 1.15 0 1 0-2.3 0M519.2 405.8a1.15 1.15 0 1 0 2.3 0a1.15 1.15 0 1 0-2.3 0M521.6 402.5a1.15 1.15 0 1 0 2.3 0a1.15 1.15 0 1 0-2.3 0M531.6 405.4a1.15 1.15 0 1 0 2.3 0a1.15 1.15 0 1 0-2.3 0M526.0 362.9a1.15 1.15 0 1 0 2.3 0a1.15 1.15 0 1 0-2.3 0M576.9 400.5a1.15 1.15 0 1 0 2.3 0a1.15 1.15 0 1 0-2.3 0M578.9 399.5a1.15 1.15 0 1 0 2.3 0a1.15 1.15 0 1 0-2.3 0M560.7 405.6a1.15 1.15 0 1 0 2.3 0a1.15 1.15 0 1 0-2.3 0M544.4 401.7a1.15 1.15 0 1 0 2.3 0a1.15 1.15 0 1 0-2.3 0M529.3 409.3a1.15 1.15 0 1 0 2.3 0a1.15 1.15 0 1 0-2.3 0M563.7 404.6a1.15 1.15 0 1 0 2.3 0a1.15 1.15 0 1 0-2.3 0M568.0 391.5a1.15 1.15 0 1 0 2.3 0a1.15 1.15 0 1 0-2.3 0M562.1 404.6a1.15 1.15 0 1 0 2.3 0a1.15 1.15 0 1 0-2.3 0M565.0 402.2a1.15 1.15 0 1 0 2.3 0a1.15 1.15 0 1 0-2.3 0M547.7 409.0a1.15 1.15 0 1 0 2.3 0a1.15 1.15 0 1 0-2.3 0M551.7 373.4a1.15 1.15 0 1 0 2.3 0a1.15 1.15 0 1 0-2.3 0M512.1 402.7a1.15 1.15 0 1 0 2.3 0a1.15 1.15 0 1 0-2.3 0M544.2 408.0a1.15 1.15 0 1 0 2.3 0a1.15 1.15 0 1 0-2.3 0M509.4 403.4a1.15 1.15 0 1 0 2.3 0a1.15 1.15 0 1 0-2.3 0M557.6 405.3a1.15 1.15 0 1 0 2.3 0a1.15 1.15 0 1 0-2.3 0M562.4 396.5a1.15 1.15 0 1 0 2.3 0a1.15 1.15 0 1 0-2.3 0M524.1 407.7a1.15 1.15 0 1 0 2.3 0a1.15 1.15 0 1 0-2.3 0M559.6 404.4a1.15 1.15 0 1 0 2.3 0a1.15 1.15 0 1 0-2.3 0M534.8 410.1a1.15 1.15 0 1 0 2.3 0a1.15 1.15 0 1 0-2.3 0M528.8 406.9a1.15 1.15 0 1 0 2.3 0a1.15 1.15 0 1 0-2.3 0M537.4 406.9a1.15 1.15 0 1 0 2.3 0a1.15 1.15 0 1 0-2.3 0M504.4 397.5a1.15 1.15 0 1 0 2.3 0a1.15 1.15 0 1 0-2.3 0M591.6 396.2a1.15 1.15 0 1 0 2.3 0a1.15 1.15 0 1 0-2.3 0M558.8 404.0a1.15 1.15 0 1 0 2.3 0a1.15 1.15 0 1 0-2.3 0M603.8 391.9a1.15 1.15 0 1 0 2.3 0a1.15 1.15 0 1 0-2.3 0M552.0 389.0a1.15 1.15 0 1 0 2.3 0a1.15 1.15 0 1 0-2.3 0M567.5 399.6a1.15 1.15 0 1 0 2.3 0a1.15 1.15 0 1 0-2.3 0M574.3 401.2a1.15 1.15 0 1 0 2.3 0a1.15 1.15 0 1 0-2.3 0M544.3 409.8a1.15 1.15 0 1 0 2.3 0a1.15 1.15 0 1 0-2.3 0M577.1 400.3a1.15 1.15 0 1 0 2.3 0a1.15 1.15 0 1 0-2.3 0M548.0 408.8a1.15 1.15 0 1 0 2.3 0a1.15 1.15 0 1 0-2.3 0M556.3 379.2a1.15 1.15 0 1 0 2.3 0a1.15 1.15 0 1 0-2.3 0M590.6 392.6a1.15 1.15 0 1 0 2.3 0a1.15 1.15 0 1 0-2.3 0M559.8 399.9a1.15 1.15 0 1 0 2.3 0a1.15 1.15 0 1 0-2.3 0M501.9 391.2a1.15 1.15 0 1 0 2.3 0a1.15 1.15 0 1 0-2.3 0M519.9 404.0a1.15 1.15 0 1 0 2.3 0a1.15 1.15 0 1 0-2.3 0M557.9 400.4a1.15 1.15 0 1 0 2.3 0a1.15 1.15 0 1 0-2.3 0M558.1 406.1a1.15 1.15 0 1 0 2.3 0a1.15 1.15 0 1 0-2.3 0M524.1 401.6a1.15 1.15 0 1 0 2.3 0a1.15 1.15 0 1 0-2.3 0M512.6 403.6a1.15 1.15 0 1 0 2.3 0a1.15 1.15 0 1 0-2.3 0M514.7 403.1a1.15 1.15 0 1 0 2.3 0a1.15 1.15 0 1 0-2.3 0M550.0 408.8a1.15 1.15 0 1 0 2.3 0a1.15 1.15 0 1 0-2.3 0M570.0 370.4a1.15 1.15 0 1 0 2.3 0a1.15 1.15 0 1 0-2.3 0M504.2 401.8a1.15 1.15 0 1 0 2.3 0a1.15 1.15 0 1 0-2.3 0M533.8 395.3a1.15 1.15 0 1 0 2.3 0a1.15 1.15 0 1 0-2.3 0M496.2 398.5a1.15 1.15 0 1 0 2.3 0a1.15 1.15 0 1 0-2.3 0M540.4 406.2a1.15 1.15 0 1 0 2.3 0a1.15 1.15 0 1 0-2.3 0M513.8 403.6a1.15 1.15 0 1 0 2.3 0a1.15 1.15 0 1 0-2.3 0M518.4 404.3a1.15 1.15 0 1 0 2.3 0a1.15 1.15 0 1 0-2.3 0M583.8 376.7a1.15 1.15 0 1 0 2.3 0a1.15 1.15 0 1 0-2.3 0M512.5 404.4a1.15 1.15 0 1 0 2.3 0a1.15 1.15 0 1 0-2.3 0M506.6 402.6a1.15 1.15 0 1 0 2.3 0a1.15 1.15 0 1 0-2.3 0M509.7 394.7a1.15 1.15 0 1 0 2.3 0a1.15 1.15 0 1 0-2.3 0M541.9 409.6a1.15 1.15 0 1 0 2.3 0a1.15 1.15 0 1 0-2.3 0M495.7 399.1a1.15 1.15 0 1 0 2.3 0a1.15 1.15 0 1 0-2.3 0M528.5 407.9a1.15 1.15 0 1 0 2.3 0a1.15 1.15 0 1 0-2.3 0M507.7 402.9a1.15 1.15 0 1 0 2.3 0a1.15 1.15 0 1 0-2.3 0M511.6 402.8a1.15 1.15 0 1 0 2.3 0a1.15 1.15 0 1 0-2.3 0M530.7 406.8a1.15 1.15 0 1 0 2.3 0a1.15 1.15 0 1 0-2.3 0M552.5 406.0a1.15 1.15 0 1 0 2.3 0a1.15 1.15 0 1 0-2.3 0M501.6 399.2a1.15 1.15 0 1 0 2.3 0a1.15 1.15 0 1 0-2.3 0M533.4 410.4a1.15 1.15 0 1 0 2.3 0a1.15 1.15 0 1 0-2.3 0M544.2 409.4a1.15 1.15 0 1 0 2.3 0a1.15 1.15 0 1 0-2.3 0M487.2 393.9a1.15 1.15 0 1 0 2.3 0a1.15 1.15 0 1 0-2.3 0M523.1 406.8a1.15 1.15 0 1 0 2.3 0a1.15 1.15 0 1 0-2.3 0M523.0 405.6a1.15 1.15 0 1 0 2.3 0a1.15 1.15 0 1 0-2.3 0M514.3 404.8a1.15 1.15 0 1 0 2.3 0a1.15 1.15 0 1 0-2.3 0M522.5 407.3a1.15 1.15 0 1 0 2.3 0a1.15 1.15 0 1 0-2.3 0M576.1 399.3a1.15 1.15 0 1 0 2.3 0a1.15 1.15 0 1 0-2.3 0M542.1 402.6a1.15 1.15 0 1 0 2.3 0a1.15 1.15 0 1 0-2.3 0M553.7 406.8a1.15 1.15 0 1 0 2.3 0a1.15 1.15 0 1 0-2.3 0M569.1 392.9a1.15 1.15 0 1 0 2.3 0a1.15 1.15 0 1 0-2.3 0M557.5 404.4a1.15 1.15 0 1 0 2.3 0a1.15 1.15 0 1 0-2.3 0M580.5 390.9a1.15 1.15 0 1 0 2.3 0a1.15 1.15 0 1 0-2.3 0M532.3 403.0a1.15 1.15 0 1 0 2.3 0a1.15 1.15 0 1 0-2.3 0M566.8 403.0a1.15 1.15 0 1 0 2.3 0a1.15 1.15 0 1 0-2.3 0M560.3 405.2a1.15 1.15 0 1 0 2.3 0a1.15 1.15 0 1 0-2.3 0M520.7 394.5a1.15 1.15 0 1 0 2.3 0a1.15 1.15 0 1 0-2.3 0M523.8 405.8a1.15 1.15 0 1 0 2.3 0a1.15 1.15 0 1 0-2.3 0M577.7 400.4a1.15 1.15 0 1 0 2.3 0a1.15 1.15 0 1 0-2.3 0M504.0 399.3a1.15 1.15 0 1 0 2.3 0a1.15 1.15 0 1 0-2.3 0M554.0 406.3a1.15 1.15 0 1 0 2.3 0a1.15 1.15 0 1 0-2.3 0M542.5 410.4a1.15 1.15 0 1 0 2.3 0a1.15 1.15 0 1 0-2.3 0M524.1 406.3a1.15 1.15 0 1 0 2.3 0a1.15 1.15 0 1 0-2.3 0M518.7 400.4a1.15 1.15 0 1 0 2.3 0a1.15 1.15 0 1 0-2.3 0M499.4 398.3a1.15 1.15 0 1 0 2.3 0a1.15 1.15 0 1 0-2.3 0M560.7 404.7a1.15 1.15 0 1 0 2.3 0a1.15 1.15 0 1 0-2.3 0M508.2 400.2a1.15 1.15 0 1 0 2.3 0a1.15 1.15 0 1 0-2.3 0M533.5 410.2a1.15 1.15 0 1 0 2.3 0a1.15 1.15 0 1 0-2.3 0M565.1 404.3a1.15 1.15 0 1 0 2.3 0a1.15 1.15 0 1 0-2.3 0M501.7 381.0a1.15 1.15 0 1 0 2.3 0a1.15 1.15 0 1 0-2.3 0M543.8 410.4a1.15 1.15 0 1 0 2.3 0a1.15 1.15 0 1 0-2.3 0M530.2 395.2a1.15 1.15 0 1 0 2.3 0a1.15 1.15 0 1 0-2.3 0M546.8 408.9a1.15 1.15 0 1 0 2.3 0a1.15 1.15 0 1 0-2.3 0M552.6 407.8a1.15 1.15 0 1 0 2.3 0a1.15 1.15 0 1 0-2.3 0M581.5 397.0a1.15 1.15 0 1 0 2.3 0a1.15 1.15 0 1 0-2.3 0M575.5 397.7a1.15 1.15 0 1 0 2.3 0a1.15 1.15 0 1 0-2.3 0M554.7 379.0a1.15 1.15 0 1 0 2.3 0a1.15 1.15 0 1 0-2.3 0M487.3 385.6a1.15 1.15 0 1 0 2.3 0a1.15 1.15 0 1 0-2.3 0M555.7 406.9a1.15 1.15 0 1 0 2.3 0a1.15 1.15 0 1 0-2.3 0M534.0 409.5a1.15 1.15 0 1 0 2.3 0a1.15 1.15 0 1 0-2.3 0M582.9 399.0a1.15 1.15 0 1 0 2.3 0a1.15 1.15 0 1 0-2.3 0M521.5 380.1a1.15 1.15 0 1 0 2.3 0a1.15 1.15 0 1 0-2.3 0M527.6 408.9a1.15 1.15 0 1 0 2.3 0a1.15 1.15 0 1 0-2.3 0M543.4 410.4a1.15 1.15 0 1 0 2.3 0a1.15 1.15 0 1 0-2.3 0M521.0 406.9a1.15 1.15 0 1 0 2.3 0a1.15 1.15 0 1 0-2.3 0M520.9 400.5a1.15 1.15 0 1 0 2.3 0a1.15 1.15 0 1 0-2.3 0M522.9 405.7a1.15 1.15 0 1 0 2.3 0a1.15 1.15 0 1 0-2.3 0M600.3 392.4a1.15 1.15 0 1 0 2.3 0a1.15 1.15 0 1 0-2.3 0M585.3 387.3a1.15 1.15 0 1 0 2.3 0a1.15 1.15 0 1 0-2.3 0M612.3 388.6a1.15 1.15 0 1 0 2.3 0a1.15 1.15 0 1 0-2.3 0M517.2 404.1a1.15 1.15 0 1 0 2.3 0a1.15 1.15 0 1 0-2.3 0M532.1 410.2a1.15 1.15 0 1 0 2.3 0a1.15 1.15 0 1 0-2.3 0M530.4 409.6a1.15 1.15 0 1 0 2.3 0a1.15 1.15 0 1 0-2.3 0M567.7 402.8a1.15 1.15 0 1 0 2.3 0a1.15 1.15 0 1 0-2.3 0M537.5 411.7a1.15 1.15 0 1 0 2.3 0a1.15 1.15 0 1 0-2.3 0M540.5 409.9a1.15 1.15 0 1 0 2.3 0a1.15 1.15 0 1 0-2.3 0M521.8 407.2a1.15 1.15 0 1 0 2.3 0a1.15 1.15 0 1 0-2.3 0M560.0 405.3a1.15 1.15 0 1 0 2.3 0a1.15 1.15 0 1 0-2.3 0M511.1 403.9a1.15 1.15 0 1 0 2.3 0a1.15 1.15 0 1 0-2.3 0M588.9 396.0a1.15 1.15 0 1 0 2.3 0a1.15 1.15 0 1 0-2.3 0M533.6 409.9a1.15 1.15 0 1 0 2.3 0a1.15 1.15 0 1 0-2.3 0M573.4 388.1a1.15 1.15 0 1 0 2.3 0a1.15 1.15 0 1 0-2.3 0M522.2 406.2a1.15 1.15 0 1 0 2.3 0a1.15 1.15 0 1 0-2.3 0M533.4 405.1a1.15 1.15 0 1 0 2.3 0a1.15 1.15 0 1 0-2.3 0M530.6 377.3a1.15 1.15 0 1 0 2.3 0a1.15 1.15 0 1 0-2.3 0M564.6 376.3a1.15 1.15 0 1 0 2.3 0a1.15 1.15 0 1 0-2.3 0M520.9 406.9a1.15 1.15 0 1 0 2.3 0a1.15 1.15 0 1 0-2.3 0M539.0 404.8a1.15 1.15 0 1 0 2.3 0a1.15 1.15 0 1 0-2.3 0M545.9 405.9a1.15 1.15 0 1 0 2.3 0a1.15 1.15 0 1 0-2.3 0M587.1 385.0a1.15 1.15 0 1 0 2.3 0a1.15 1.15 0 1 0-2.3 0M542.2 407.9a1.15 1.15 0 1 0 2.3 0a1.15 1.15 0 1 0-2.3 0M566.2 402.5a1.15 1.15 0 1 0 2.3 0a1.15 1.15 0 1 0-2.3 0M550.8 404.0a1.15 1.15 0 1 0 2.3 0a1.15 1.15 0 1 0-2.3 0M508.9 401.8a1.15 1.15 0 1 0 2.3 0a1.15 1.15 0 1 0-2.3 0M545.0 410.2a1.15 1.15 0 1 0 2.3 0a1.15 1.15 0 1 0-2.3 0M530.0 406.6a1.15 1.15 0 1 0 2.3 0a1.15 1.15 0 1 0-2.3 0M502.3 400.8a1.15 1.15 0 1 0 2.3 0a1.15 1.15 0 1 0-2.3 0M532.7 409.7a1.15 1.15 0 1 0 2.3 0a1.15 1.15 0 1 0-2.3 0M490.9 391.0a1.15 1.15 0 1 0 2.3 0a1.15 1.15 0 1 0-2.3 0M509.2 402.6a1.15 1.15 0 1 0 2.3 0a1.15 1.15 0 1 0-2.3 0M532.3 406.2a1.15 1.15 0 1 0 2.3 0a1.15 1.15 0 1 0-2.3 0M599.1 379.5a1.15 1.15 0 1 0 2.3 0a1.15 1.15 0 1 0-2.3 0M546.9 397.6a1.15 1.15 0 1 0 2.3 0a1.15 1.15 0 1 0-2.3 0M513.2 403.1a1.15 1.15 0 1 0 2.3 0a1.15 1.15 0 1 0-2.3 0M512.9 388.1a1.15 1.15 0 1 0 2.3 0a1.15 1.15 0 1 0-2.3 0M556.5 404.8a1.15 1.15 0 1 0 2.3 0a1.15 1.15 0 1 0-2.3 0M562.0 402.4a1.15 1.15 0 1 0 2.3 0a1.15 1.15 0 1 0-2.3 0M505.1 395.7a1.15 1.15 0 1 0 2.3 0a1.15 1.15 0 1 0-2.3 0M505.4 400.1a1.15 1.15 0 1 0 2.3 0a1.15 1.15 0 1 0-2.3 0M524.7 387.0a1.15 1.15 0 1 0 2.3 0a1.15 1.15 0 1 0-2.3 0M539.2 410.4a1.15 1.15 0 1 0 2.3 0a1.15 1.15 0 1 0-2.3 0M582.0 391.7a1.15 1.15 0 1 0 2.3 0a1.15 1.15 0 1 0-2.3 0M534.4 410.3a1.15 1.15 0 1 0 2.3 0a1.15 1.15 0 1 0-2.3 0M555.1 406.5a1.15 1.15 0 1 0 2.3 0a1.15 1.15 0 1 0-2.3 0M522.6 407.2a1.15 1.15 0 1 0 2.3 0a1.15 1.15 0 1 0-2.3 0M535.4 406.5a1.15 1.15 0 1 0 2.3 0a1.15 1.15 0 1 0-2.3 0M535.6 385.2a1.15 1.15 0 1 0 2.3 0a1.15 1.15 0 1 0-2.3 0M520.8 406.8a1.15 1.15 0 1 0 2.3 0a1.15 1.15 0 1 0-2.3 0M544.9 410.2a1.15 1.15 0 1 0 2.3 0a1.15 1.15 0 1 0-2.3 0M539.7 411.6a1.15 1.15 0 1 0 2.3 0a1.15 1.15 0 1 0-2.3 0M540.3 410.9a1.15 1.15 0 1 0 2.3 0a1.15 1.15 0 1 0-2.3 0M505.9 402.0a1.15 1.15 0 1 0 2.3 0a1.15 1.15 0 1 0-2.3 0M590.6 395.6a1.15 1.15 0 1 0 2.3 0a1.15 1.15 0 1 0-2.3 0M550.5 408.6a1.15 1.15 0 1 0 2.3 0a1.15 1.15 0 1 0-2.3 0M549.5 408.6a1.15 1.15 0 1 0 2.3 0a1.15 1.15 0 1 0-2.3 0M572.4 402.0a1.15 1.15 0 1 0 2.3 0a1.15 1.15 0 1 0-2.3 0M524.2 407.4a1.15 1.15 0 1 0 2.3 0a1.15 1.15 0 1 0-2.3 0M529.7 409.4a1.15 1.15 0 1 0 2.3 0a1.15 1.15 0 1 0-2.3 0M548.7 409.0a1.15 1.15 0 1 0 2.3 0a1.15 1.15 0 1 0-2.3 0M587.9 392.7a1.15 1.15 0 1 0 2.3 0a1.15 1.15 0 1 0-2.3 0M562.4 399.1a1.15 1.15 0 1 0 2.3 0a1.15 1.15 0 1 0-2.3 0M474.5 391.3a1.15 1.15 0 1 0 2.3 0a1.15 1.15 0 1 0-2.3 0M550.0 398.9a1.15 1.15 0 1 0 2.3 0a1.15 1.15 0 1 0-2.3 0M507.3 399.4a1.15 1.15 0 1 0 2.3 0a1.15 1.15 0 1 0-2.3 0M560.4 393.0a1.15 1.15 0 1 0 2.3 0a1.15 1.15 0 1 0-2.3 0M530.8 405.3a1.15 1.15 0 1 0 2.3 0a1.15 1.15 0 1 0-2.3 0M512.7 403.6a1.15 1.15 0 1 0 2.3 0a1.15 1.15 0 1 0-2.3 0M538.1 411.0a1.15 1.15 0 1 0 2.3 0a1.15 1.15 0 1 0-2.3 0M572.4 401.6a1.15 1.15 0 1 0 2.3 0a1.15 1.15 0 1 0-2.3 0M528.3 408.9a1.15 1.15 0 1 0 2.3 0a1.15 1.15 0 1 0-2.3 0M531.0 406.5a1.15 1.15 0 1 0 2.3 0a1.15 1.15 0 1 0-2.3 0M544.4 410.3a1.15 1.15 0 1 0 2.3 0a1.15 1.15 0 1 0-2.3 0M533.7 409.3a1.15 1.15 0 1 0 2.3 0a1.15 1.15 0 1 0-2.3 0M512.2 402.0a1.15 1.15 0 1 0 2.3 0a1.15 1.15 0 1 0-2.3 0M597.4 369.3a1.15 1.15 0 1 0 2.3 0a1.15 1.15 0 1 0-2.3 0M559.6 404.3a1.15 1.15 0 1 0 2.3 0a1.15 1.15 0 1 0-2.3 0M516.0 392.7a1.15 1.15 0 1 0 2.3 0a1.15 1.15 0 1 0-2.3 0M562.5 397.4a1.15 1.15 0 1 0 2.3 0a1.15 1.15 0 1 0-2.3 0M539.3 410.8a1.15 1.15 0 1 0 2.3 0a1.15 1.15 0 1 0-2.3 0M561.6 401.6a1.15 1.15 0 1 0 2.3 0a1.15 1.15 0 1 0-2.3 0M530.9 408.9a1.15 1.15 0 1 0 2.3 0a1.15 1.15 0 1 0-2.3 0M557.8 406.4a1.15 1.15 0 1 0 2.3 0a1.15 1.15 0 1 0-2.3 0M540.0 395.6a1.15 1.15 0 1 0 2.3 0a1.15 1.15 0 1 0-2.3 0M563.5 403.7a1.15 1.15 0 1 0 2.3 0a1.15 1.15 0 1 0-2.3 0M541.9 409.3a1.15 1.15 0 1 0 2.3 0a1.15 1.15 0 1 0-2.3 0M564.2 402.5a1.15 1.15 0 1 0 2.3 0a1.15 1.15 0 1 0-2.3 0M530.3 378.7a1.15 1.15 0 1 0 2.3 0a1.15 1.15 0 1 0-2.3 0M522.6 397.7a1.15 1.15 0 1 0 2.3 0a1.15 1.15 0 1 0-2.3 0M580.1 399.6a1.15 1.15 0 1 0 2.3 0a1.15 1.15 0 1 0-2.3 0M533.4 408.6a1.15 1.15 0 1 0 2.3 0a1.15 1.15 0 1 0-2.3 0M519.4 392.4a1.15 1.15 0 1 0 2.3 0a1.15 1.15 0 1 0-2.3 0M578.2 390.0a1.15 1.15 0 1 0 2.3 0a1.15 1.15 0 1 0-2.3 0M544.4 407.7a1.15 1.15 0 1 0 2.3 0a1.15 1.15 0 1 0-2.3 0M561.7 404.7a1.15 1.15 0 1 0 2.3 0a1.15 1.15 0 1 0-2.3 0M604.1 392.4a1.15 1.15 0 1 0 2.3 0a1.15 1.15 0 1 0-2.3 0M522.9 401.1a1.15 1.15 0 1 0 2.3 0a1.15 1.15 0 1 0-2.3 0M540.1 400.3a1.15 1.15 0 1 0 2.3 0a1.15 1.15 0 1 0-2.3 0M598.2 379.0a1.15 1.15 0 1 0 2.3 0a1.15 1.15 0 1 0-2.3 0M553.5 405.0a1.15 1.15 0 1 0 2.3 0a1.15 1.15 0 1 0-2.3 0M538.1 411.3a1.15 1.15 0 1 0 2.3 0a1.15 1.15 0 1 0-2.3 0M547.3 408.9a1.15 1.15 0 1 0 2.3 0a1.15 1.15 0 1 0-2.3 0M550.2 408.5a1.15 1.15 0 1 0 2.3 0a1.15 1.15 0 1 0-2.3 0M536.6 411.4a1.15 1.15 0 1 0 2.3 0a1.15 1.15 0 1 0-2.3 0M513.6 404.8a1.15 1.15 0 1 0 2.3 0a1.15 1.15 0 1 0-2.3 0M492.2 395.5a1.15 1.15 0 1 0 2.3 0a1.15 1.15 0 1 0-2.3 0M554.9 403.8a1.15 1.15 0 1 0 2.3 0a1.15 1.15 0 1 0-2.3 0M568.8 392.7a1.15 1.15 0 1 0 2.3 0a1.15 1.15 0 1 0-2.3 0M462.6 373.1a1.15 1.15 0 1 0 2.3 0a1.15 1.15 0 1 0-2.3 0M490.9 375.1a1.15 1.15 0 1 0 2.3 0a1.15 1.15 0 1 0-2.3 0M497.4 373.1a1.15 1.15 0 1 0 2.3 0a1.15 1.15 0 1 0-2.3 0M619.0 375.1a1.15 1.15 0 1 0 2.3 0a1.15 1.15 0 1 0-2.3 0M610.3 369.2a1.15 1.15 0 1 0 2.3 0a1.15 1.15 0 1 0-2.3 0M636.4 377.0a1.15 1.15 0 1 0 2.3 0a1.15 1.15 0 1 0-2.3 0M632.0 379.0a1.15 1.15 0 1 0 2.3 0a1.15 1.15 0 1 0-2.3 0M625.5 384.8a1.15 1.15 0 1 0 2.3 0a1.15 1.15 0 1 0-2.3 0M595.1 373.1a1.15 1.15 0 1 0 2.3 0a1.15 1.15 0 1 0-2.3 0" fill="#2814ff"/>
<circle cx="458.8" cy="330.1" r="1.25" fill="#46f812"/>
<text x="449" y="326.90000000000003" font-size="5" fill="#46f812">hsa-miR-664-5p</text>
<circle cx="462.3" cy="340.3" r="1.25" fill="#46f812"/>
<text x="450.4" y="337.6" font-size="5" fill="#46f812">hsa-miR-144-3p</text>
<circle cx="456.0" cy="349.2" r="1.25" fill="#46f812"/>
<text x="459" y="346.6" font-size="5" fill="#46f812">hsa-miR-196b-5p</text>
<circle cx="507.4" cy="349.6" r="1.25" fill="#46f812"/>
<text x="497" y="356.1" font-size="5" fill="#46f812">hsa-miR-485-5p</text>
<circle cx="577.4" cy="299.6" r="1.25" fill="#ff2418"/>
<text x="556.2" y="296.40000000000003" font-size="5" fill="#ff2418">hsa-miR-184</text>
<circle cx="600.6" cy="301.2" r="1.25" fill="#ff2418"/>
<text x="589.2" y="298.3" font-size="5" fill="#ff2418">hsa-miR-199b-5p</text>
<circle cx="601.3" cy="307.0" r="1.25" fill="#ff2418"/>
<text x="592.2" y="313.90000000000003" font-size="5" fill="#ff2418">hsa-miR-1-3p</text>
<circle cx="567.4" cy="323.8" r="1.25" fill="#ff2418"/>
<text x="541.8" y="330.90000000000003" font-size="5" fill="#ff2418">hsa-miR-196b-3p</text>
<circle cx="571.7" cy="341.4" r="1.25" fill="#ff2418"/>
<text x="550.9" y="348.0" font-size="5" fill="#ff2418">hsa-miR-206</text>
<circle cx="586.9" cy="354.7" r="1.25" fill="#ff2418"/>
<circle cx="590.6" cy="350.4" r="1.25" fill="#ff2418"/>
<circle cx="604.1" cy="349.2" r="1.25" fill="#ff2418"/>
<circle cx="608.4" cy="344.6" r="1.25" fill="#ff2418"/>
<circle cx="604.1" cy="358.2" r="1.25" fill="#ff2418"/>
<circle cx="615.8" cy="360.2" r="1.25" fill="#ff2418"/>
<circle cx="557.2" cy="266.7" r="1.25" fill="#2814ff"/>
<circle cx="531.5" cy="319.5" r="1.25" fill="#2814ff"/>
<circle cx="552.8" cy="344.6" r="1.25" fill="#2814ff"/>
<circle cx="556.5" cy="348.5" r="1.25" fill="#2814ff"/>
<circle cx="552.4" cy="351.6" r="1.25" fill="#2814ff"/>
<circle cx="550.4" cy="358.6" r="1.25" fill="#2814ff"/>
<circle cx="557.2" cy="365.3" r="1.25" fill="#2814ff"/>
<circle cx="569.6" cy="368.0" r="1.25" fill="#2814ff"/>
<circle cx="528.9" cy="357.5" r="1.25" fill="#2814ff"/>
<circle cx="528.7" cy="364.9" r="1.25" fill="#2814ff"/>
<circle cx="509.2" cy="364.9" r="1.25" fill="#2814ff"/>
<circle cx="488.1" cy="361.8" r="1.25" fill="#2814ff"/>
<circle cx="485.1" cy="364.5" r="1.25" fill="#2814ff"/>
<text x="547.8" y="433.6" text-anchor="middle" font-size="6.3" fill="#222">log<tspan font-size="4.2" dy="1.5">2</tspan><tspan dy="-1.5">(Fold Change)</tspan></text>
<text transform="translate(436.3 340.9) rotate(-90)" text-anchor="middle" font-size="6.4" fill="#222">- log<tspan font-size="4.2" dy="1.5">10</tspan><tspan dy="-1.5">(p-value)</tspan></text>
<circle cx="662.6" cy="330.7" r="1.55" fill="#46f812"/>
<text x="671" y="332.4" font-size="4.9" fill="#111">down</text>
<circle cx="662.6" cy="340.7" r="1.55" fill="#2814ff"/>
<text x="671" y="342.4" font-size="4.9" fill="#111">ns</text>
<circle cx="662.6" cy="351" r="1.55" fill="#ff2418"/>
<text x="671" y="352.7" font-size="4.9" fill="#111">up</text>
</g>
<g id="E">
<text x="414" y="464.6" font-family='"Liberation Serif", serif' font-weight="bold" font-size="19" stroke="#000" stroke-width="0.35">E)</text>
<text x="446.8" y="473.0" font-size="7.7" fill="#111">Middle Age vs Young</text>
<path d="M446.8 478.3V634.3H648" stroke="#222" stroke-width="1.1" fill="none"/>
<text x="443.9" y="630.0" text-anchor="end" font-size="5.8" fill="#444">0</text>
<text x="443.9" y="586.2" text-anchor="end" font-size="5.8" fill="#444">2</text>
<text x="443.9" y="542.4" text-anchor="end" font-size="5.8" fill="#444">4</text>
<text x="443.9" y="498.6" text-anchor="end" font-size="5.8" fill="#444">6</text>
<text x="496.5" y="641.8" text-anchor="middle" font-size="5.2" fill="#444">-2.5</text>
<text x="546.9" y="641.8" text-anchor="middle" font-size="5.2" fill="#444">0.0</text>
<text x="597.3" y="641.8" text-anchor="middle" font-size="5.2" fill="#444">2.5</text>
<path d="M444.3 628.0H446.8 M444.3 584.2H446.8 M444.3 540.4H446.8 M444.3 496.6H446.8 M496.5 634.3V636.8 M546.9 634.3V636.8 M597.3 634.3V636.8" stroke="#222" stroke-width="0.6"/>
<path d="M526.7 478.3V634.3 M567.1 478.3V634.3 M446.8 599.5H648" stroke="#222" stroke-width="0.7" stroke-dasharray="2.2 1.6" fill="none"/>
<path d="M523.0 621.8a1.15 1.15 0 1 0 2.3 0a1.15 1.15 0 1 0-2.3 0M566.6 621.9a1.15 1.15 0 1 0 2.3 0a1.15 1.15 0 1 0-2.3 0M519.3 621.6a1.15 1.15 0 1 0 2.3 0a1.15 1.15 0 1 0-2.3 0M541.8 627.1a1.15 1.15 0 1 0 2.3 0a1.15 1.15 0 1 0-2.3 0M559.4 623.8a1.15 1.15 0 1 0 2.3 0a1.15 1.15 0 1 0-2.3 0M526.0 622.4a1.15 1.15 0 1 0 2.3 0a1.15 1.15 0 1 0-2.3 0M570.3 623.2a1.15 1.15 0 1 0 2.3 0a1.15 1.15 0 1 0-2.3 0M570.0 622.1a1.15 1.15 0 1 0 2.3 0a1.15 1.15 0 1 0-2.3 0M556.0 624.8a1.15 1.15 0 1 0 2.3 0a1.15 1.15 0 1 0-2.3 0M528.6 624.3a1.15 1.15 0 1 0 2.3 0a1.15 1.15 0 1 0-2.3 0M551.0 624.9a1.15 1.15 0 1 0 2.3 0a1.15 1.15 0 1 0-2.3 0M537.1 617.8a1.15 1.15 0 1 0 2.3 0a1.15 1.15 0 1 0-2.3 0M530.5 624.3a1.15 1.15 0 1 0 2.3 0a1.15 1.15 0 1 0-2.3 0M552.6 620.9a1.15 1.15 0 1 0 2.3 0a1.15 1.15 0 1 0-2.3 0M558.7 624.7a1.15 1.15 0 1 0 2.3 0a1.15 1.15 0 1 0-2.3 0M515.4 620.6a1.15 1.15 0 1 0 2.3 0a1.15 1.15 0 1 0-2.3 0M579.4 601.8a1.15 1.15 0 1 0 2.3 0a1.15 1.15 0 1 0-2.3 0M528.5 609.3a1.15 1.15 0 1 0 2.3 0a1.15 1.15 0 1 0-2.3 0M532.3 625.2a1.15 1.15 0 1 0 2.3 0a1.15 1.15 0 1 0-2.3 0M572.7 620.1a1.15 1.15 0 1 0 2.3 0a1.15 1.15 0 1 0-2.3 0M543.3 613.4a1.15 1.15 0 1 0 2.3 0a1.15 1.15 0 1 0-2.3 0M552.4 626.7a1.15 1.15 0 1 0 2.3 0a1.15 1.15 0 1 0-2.3 0M501.1 618.2a1.15 1.15 0 1 0 2.3 0a1.15 1.15 0 1 0-2.3 0M553.2 617.0a1.15 1.15 0 1 0 2.3 0a1.15 1.15 0 1 0-2.3 0M537.6 625.8a1.15 1.15 0 1 0 2.3 0a1.15 1.15 0 1 0-2.3 0M526.4 615.8a1.15 1.15 0 1 0 2.3 0a1.15 1.15 0 1 0-2.3 0M536.7 620.1a1.15 1.15 0 1 0 2.3 0a1.15 1.15 0 1 0-2.3 0M498.4 605.8a1.15 1.15 0 1 0 2.3 0a1.15 1.15 0 1 0-2.3 0M543.9 627.6a1.15 1.15 0 1 0 2.3 0a1.15 1.15 0 1 0-2.3 0M567.0 623.7a1.15 1.15 0 1 0 2.3 0a1.15 1.15 0 1 0-2.3 0M545.7 625.8a1.15 1.15 0 1 0 2.3 0a1.15 1.15 0 1 0-2.3 0M566.9 624.2a1.15 1.15 0 1 0 2.3 0a1.15 1.15 0 1 0-2.3 0M544.6 625.2a1.15 1.15 0 1 0 2.3 0a1.15 1.15 0 1 0-2.3 0M522.5 623.8a1.15 1.15 0 1 0 2.3 0a1.15 1.15 0 1 0-2.3 0M522.2 623.7a1.15 1.15 0 1 0 2.3 0a1.15 1.15 0 1 0-2.3 0M543.4 627.3a1.15 1.15 0 1 0 2.3 0a1.15 1.15 0 1 0-2.3 0M533.0 625.1a1.15 1.15 0 1 0 2.3 0a1.15 1.15 0 1 0-2.3 0M543.7 627.3a1.15 1.15 0 1 0 2.3 0a1.15 1.15 0 1 0-2.3 0M543.5 626.4a1.15 1.15 0 1 0 2.3 0a1.15 1.15 0 1 0-2.3 0M526.9 624.6a1.15 1.15 0 1 0 2.3 0a1.15 1.15 0 1 0-2.3 0M547.8 603.0a1.15 1.15 0 1 0 2.3 0a1.15 1.15 0 1 0-2.3 0M547.9 627.0a1.15 1.15 0 1 0 2.3 0a1.15 1.15 0 1 0-2.3 0M557.1 612.6a1.15 1.15 0 1 0 2.3 0a1.15 1.15 0 1 0-2.3 0M553.9 621.0a1.15 1.15 0 1 0 2.3 0a1.15 1.15 0 1 0-2.3 0M537.3 625.3a1.15 1.15 0 1 0 2.3 0a1.15 1.15 0 1 0-2.3 0M584.7 601.8a1.15 1.15 0 1 0 2.3 0a1.15 1.15 0 1 0-2.3 0M554.2 626.1a1.15 1.15 0 1 0 2.3 0a1.15 1.15 0 1 0-2.3 0M556.8 609.1a1.15 1.15 0 1 0 2.3 0a1.15 1.15 0 1 0-2.3 0M548.4 627.1a1.15 1.15 0 1 0 2.3 0a1.15 1.15 0 1 0-2.3 0M529.9 622.9a1.15 1.15 0 1 0 2.3 0a1.15 1.15 0 1 0-2.3 0M568.9 623.4a1.15 1.15 0 1 0 2.3 0a1.15 1.15 0 1 0-2.3 0M525.3 624.0a1.15 1.15 0 1 0 2.3 0a1.15 1.15 0 1 0-2.3 0M549.7 627.3a1.15 1.15 0 1 0 2.3 0a1.15 1.15 0 1 0-2.3 0M501.0 619.2a1.15 1.15 0 1 0 2.3 0a1.15 1.15 0 1 0-2.3 0M570.0 613.9a1.15 1.15 0 1 0 2.3 0a1.15 1.15 0 1 0-2.3 0M510.5 621.2a1.15 1.15 0 1 0 2.3 0a1.15 1.15 0 1 0-2.3 0M518.6 622.1a1.15 1.15 0 1 0 2.3 0a1.15 1.15 0 1 0-2.3 0M507.8 616.2a1.15 1.15 0 1 0 2.3 0a1.15 1.15 0 1 0-2.3 0M541.7 627.2a1.15 1.15 0 1 0 2.3 0a1.15 1.15 0 1 0-2.3 0M545.9 618.1a1.15 1.15 0 1 0 2.3 0a1.15 1.15 0 1 0-2.3 0M585.9 620.6a1.15 1.15 0 1 0 2.3 0a1.15 1.15 0 1 0-2.3 0M532.0 625.1a1.15 1.15 0 1 0 2.3 0a1.15 1.15 0 1 0-2.3 0M525.5 624.0a1.15 1.15 0 1 0 2.3 0a1.15 1.15 0 1 0-2.3 0M587.2 620.3a1.15 1.15 0 1 0 2.3 0a1.15 1.15 0 1 0-2.3 0M560.8 624.2a1.15 1.15 0 1 0 2.3 0a1.15 1.15 0 1 0-2.3 0M556.7 606.2a1.15 1.15 0 1 0 2.3 0a1.15 1.15 0 1 0-2.3 0M512.5 614.3a1.15 1.15 0 1 0 2.3 0a1.15 1.15 0 1 0-2.3 0M538.3 626.4a1.15 1.15 0 1 0 2.3 0a1.15 1.15 0 1 0-2.3 0M541.3 624.8a1.15 1.15 0 1 0 2.3 0a1.15 1.15 0 1 0-2.3 0M537.4 626.3a1.15 1.15 0 1 0 2.3 0a1.15 1.15 0 1 0-2.3 0M576.1 621.3a1.15 1.15 0 1 0 2.3 0a1.15 1.15 0 1 0-2.3 0M583.4 620.9a1.15 1.15 0 1 0 2.3 0a1.15 1.15 0 1 0-2.3 0M545.9 620.2a1.15 1.15 0 1 0 2.3 0a1.15 1.15 0 1 0-2.3 0M535.1 625.4a1.15 1.15 0 1 0 2.3 0a1.15 1.15 0 1 0-2.3 0M552.8 626.1a1.15 1.15 0 1 0 2.3 0a1.15 1.15 0 1 0-2.3 0M542.6 624.9a1.15 1.15 0 1 0 2.3 0a1.15 1.15 0 1 0-2.3 0M528.0 624.8a1.15 1.15 0 1 0 2.3 0a1.15 1.15 0 1 0-2.3 0M557.1 624.7a1.15 1.15 0 1 0 2.3 0a1.15 1.15 0 1 0-2.3 0M556.5 625.9a1.15 1.15 0 1 0 2.3 0a1.15 1.15 0 1 0-2.3 0M544.8 627.8a1.15 1.15 0 1 0 2.3 0a1.15 1.15 0 1 0-2.3 0M556.7 625.6a1.15 1.15 0 1 0 2.3 0a1.15 1.15 0 1 0-2.3 0M507.1 617.9a1.15 1.15 0 1 0 2.3 0a1.15 1.15 0 1 0-2.3 0M562.8 624.7a1.15 1.15 0 1 0 2.3 0a1.15 1.15 0 1 0-2.3 0M534.5 625.3a1.15 1.15 0 1 0 2.3 0a1.15 1.15 0 1 0-2.3 0M528.0 623.8a1.15 1.15 0 1 0 2.3 0a1.15 1.15 0 1 0-2.3 0M525.4 621.9a1.15 1.15 0 1 0 2.3 0a1.15 1.15 0 1 0-2.3 0M547.3 611.8a1.15 1.15 0 1 0 2.3 0a1.15 1.15 0 1 0-2.3 0M531.7 624.9a1.15 1.15 0 1 0 2.3 0a1.15 1.15 0 1 0-2.3 0M561.2 606.6a1.15 1.15 0 1 0 2.3 0a1.15 1.15 0 1 0-2.3 0M545.8 627.4a1.15 1.15 0 1 0 2.3 0a1.15 1.15 0 1 0-2.3 0M564.7 624.4a1.15 1.15 0 1 0 2.3 0a1.15 1.15 0 1 0-2.3 0M525.7 624.0a1.15 1.15 0 1 0 2.3 0a1.15 1.15 0 1 0-2.3 0M497.8 619.2a1.15 1.15 0 1 0 2.3 0a1.15 1.15 0 1 0-2.3 0M530.3 622.3a1.15 1.15 0 1 0 2.3 0a1.15 1.15 0 1 0-2.3 0M561.9 622.9a1.15 1.15 0 1 0 2.3 0a1.15 1.15 0 1 0-2.3 0M587.1 620.3a1.15 1.15 0 1 0 2.3 0a1.15 1.15 0 1 0-2.3 0M542.5 624.5a1.15 1.15 0 1 0 2.3 0a1.15 1.15 0 1 0-2.3 0M553.9 625.8a1.15 1.15 0 1 0 2.3 0a1.15 1.15 0 1 0-2.3 0M572.1 623.2a1.15 1.15 0 1 0 2.3 0a1.15 1.15 0 1 0-2.3 0M525.2 613.8a1.15 1.15 0 1 0 2.3 0a1.15 1.15 0 1 0-2.3 0M558.7 624.0a1.15 1.15 0 1 0 2.3 0a1.15 1.15 0 1 0-2.3 0M521.2 621.9a1.15 1.15 0 1 0 2.3 0a1.15 1.15 0 1 0-2.3 0M526.8 624.2a1.15 1.15 0 1 0 2.3 0a1.15 1.15 0 1 0-2.3 0M550.6 623.4a1.15 1.15 0 1 0 2.3 0a1.15 1.15 0 1 0-2.3 0M540.3 621.3a1.15 1.15 0 1 0 2.3 0a1.15 1.15 0 1 0-2.3 0M536.7 622.9a1.15 1.15 0 1 0 2.3 0a1.15 1.15 0 1 0-2.3 0M544.6 623.7a1.15 1.15 0 1 0 2.3 0a1.15 1.15 0 1 0-2.3 0M532.0 624.6a1.15 1.15 0 1 0 2.3 0a1.15 1.15 0 1 0-2.3 0M519.2 620.3a1.15 1.15 0 1 0 2.3 0a1.15 1.15 0 1 0-2.3 0M549.8 626.9a1.15 1.15 0 1 0 2.3 0a1.15 1.15 0 1 0-2.3 0M566.6 623.1a1.15 1.15 0 1 0 2.3 0a1.15 1.15 0 1 0-2.3 0M530.4 622.1a1.15 1.15 0 1 0 2.3 0a1.15 1.15 0 1 0-2.3 0M560.5 624.5a1.15 1.15 0 1 0 2.3 0a1.15 1.15 0 1 0-2.3 0M520.4 623.4a1.15 1.15 0 1 0 2.3 0a1.15 1.15 0 1 0-2.3 0M560.0 624.8a1.15 1.15 0 1 0 2.3 0a1.15 1.15 0 1 0-2.3 0M548.8 625.7a1.15 1.15 0 1 0 2.3 0a1.15 1.15 0 1 0-2.3 0M524.9 624.0a1.15 1.15 0 1 0 2.3 0a1.15 1.15 0 1 0-2.3 0M540.9 626.9a1.15 1.15 0 1 0 2.3 0a1.15 1.15 0 1 0-2.3 0M520.6 623.1a1.15 1.15 0 1 0 2.3 0a1.15 1.15 0 1 0-2.3 0M542.2 627.2a1.15 1.15 0 1 0 2.3 0a1.15 1.15 0 1 0-2.3 0M537.5 625.7a1.15 1.15 0 1 0 2.3 0a1.15 1.15 0 1 0-2.3 0M533.8 625.1a1.15 1.15 0 1 0 2.3 0a1.15 1.15 0 1 0-2.3 0M554.0 625.0a1.15 1.15 0 1 0 2.3 0a1.15 1.15 0 1 0-2.3 0M539.4 623.5a1.15 1.15 0 1 0 2.3 0a1.15 1.15 0 1 0-2.3 0M530.4 608.3a1.15 1.15 0 1 0 2.3 0a1.15 1.15 0 1 0-2.3 0M546.8 627.7a1.15 1.15 0 1 0 2.3 0a1.15 1.15 0 1 0-2.3 0M531.9 623.9a1.15 1.15 0 1 0 2.3 0a1.15 1.15 0 1 0-2.3 0M538.1 626.2a1.15 1.15 0 1 0 2.3 0a1.15 1.15 0 1 0-2.3 0M563.7 624.4a1.15 1.15 0 1 0 2.3 0a1.15 1.15 0 1 0-2.3 0M527.0 624.6a1.15 1.15 0 1 0 2.3 0a1.15 1.15 0 1 0-2.3 0M569.6 623.5a1.15 1.15 0 1 0 2.3 0a1.15 1.15 0 1 0-2.3 0M573.2 605.9a1.15 1.15 0 1 0 2.3 0a1.15 1.15 0 1 0-2.3 0M552.5 625.0a1.15 1.15 0 1 0 2.3 0a1.15 1.15 0 1 0-2.3 0M546.1 627.9a1.15 1.15 0 1 0 2.3 0a1.15 1.15 0 1 0-2.3 0M556.6 624.7a1.15 1.15 0 1 0 2.3 0a1.15 1.15 0 1 0-2.3 0M569.7 623.3a1.15 1.15 0 1 0 2.3 0a1.15 1.15 0 1 0-2.3 0M558.5 610.8a1.15 1.15 0 1 0 2.3 0a1.15 1.15 0 1 0-2.3 0M539.5 626.8a1.15 1.15 0 1 0 2.3 0a1.15 1.15 0 1 0-2.3 0M562.5 602.6a1.15 1.15 0 1 0 2.3 0a1.15 1.15 0 1 0-2.3 0M526.7 621.6a1.15 1.15 0 1 0 2.3 0a1.15 1.15 0 1 0-2.3 0M589.6 619.5a1.15 1.15 0 1 0 2.3 0a1.15 1.15 0 1 0-2.3 0M566.6 623.1a1.15 1.15 0 1 0 2.3 0a1.15 1.15 0 1 0-2.3 0M578.8 621.8a1.15 1.15 0 1 0 2.3 0a1.15 1.15 0 1 0-2.3 0M537.7 623.3a1.15 1.15 0 1 0 2.3 0a1.15 1.15 0 1 0-2.3 0M565.4 622.2a1.15 1.15 0 1 0 2.3 0a1.15 1.15 0 1 0-2.3 0M559.7 617.8a1.15 1.15 0 1 0 2.3 0a1.15 1.15 0 1 0-2.3 0M537.9 600.4a1.15 1.15 0 1 0 2.3 0a1.15 1.15 0 1 0-2.3 0M489.3 617.8a1.15 1.15 0 1 0 2.3 0a1.15 1.15 0 1 0-2.3 0M600.1 617.5a1.15 1.15 0 1 0 2.3 0a1.15 1.15 0 1 0-2.3 0M557.7 624.0a1.15 1.15 0 1 0 2.3 0a1.15 1.15 0 1 0-2.3 0M504.3 620.4a1.15 1.15 0 1 0 2.3 0a1.15 1.15 0 1 0-2.3 0M519.7 623.0a1.15 1.15 0 1 0 2.3 0a1.15 1.15 0 1 0-2.3 0M555.7 615.0a1.15 1.15 0 1 0 2.3 0a1.15 1.15 0 1 0-2.3 0M532.3 621.4a1.15 1.15 0 1 0 2.3 0a1.15 1.15 0 1 0-2.3 0M528.3 604.7a1.15 1.15 0 1 0 2.3 0a1.15 1.15 0 1 0-2.3 0M525.1 622.6a1.15 1.15 0 1 0 2.3 0a1.15 1.15 0 1 0-2.3 0M562.2 624.7a1.15 1.15 0 1 0 2.3 0a1.15 1.15 0 1 0-2.3 0M558.7 624.4a1.15 1.15 0 1 0 2.3 0a1.15 1.15 0 1 0-2.3 0M594.8 618.3a1.15 1.15 0 1 0 2.3 0a1.15 1.15 0 1 0-2.3 0M566.0 617.8a1.15 1.15 0 1 0 2.3 0a1.15 1.15 0 1 0-2.3 0M523.7 621.3a1.15 1.15 0 1 0 2.3 0a1.15 1.15 0 1 0-2.3 0M556.6 624.8a1.15 1.15 0 1 0 2.3 0a1.15 1.15 0 1 0-2.3 0M522.9 623.8a1.15 1.15 0 1 0 2.3 0a1.15 1.15 0 1 0-2.3 0M536.0 626.0a1.15 1.15 0 1 0 2.3 0a1.15 1.15 0 1 0-2.3 0M547.2 627.1a1.15 1.15 0 1 0 2.3 0a1.15 1.15 0 1 0-2.3 0M552.3 626.8a1.15 1.15 0 1 0 2.3 0a1.15 1.15 0 1 0-2.3 0M557.3 609.8a1.15 1.15 0 1 0 2.3 0a1.15 1.15 0 1 0-2.3 0M545.9 627.2a1.15 1.15 0 1 0 2.3 0a1.15 1.15 0 1 0-2.3 0M511.3 620.7a1.15 1.15 0 1 0 2.3 0a1.15 1.15 0 1 0-2.3 0M501.9 619.7a1.15 1.15 0 1 0 2.3 0a1.15 1.15 0 1 0-2.3 0M535.6 623.8a1.15 1.15 0 1 0 2.3 0a1.15 1.15 0 1 0-2.3 0M537.5 626.0a1.15 1.15 0 1 0 2.3 0a1.15 1.15 0 1 0-2.3 0M550.1 626.8a1.15 1.15 0 1 0 2.3 0a1.15 1.15 0 1 0-2.3 0M550.7 626.0a1.15 1.15 0 1 0 2.3 0a1.15 1.15 0 1 0-2.3 0M568.7 622.5a1.15 1.15 0 1 0 2.3 0a1.15 1.15 0 1 0-2.3 0M534.9 623.1a1.15 1.15 0 1 0 2.3 0a1.15 1.15 0 1 0-2.3 0M520.8 623.5a1.15 1.15 0 1 0 2.3 0a1.15 1.15 0 1 0-2.3 0M553.1 616.8a1.15 1.15 0 1 0 2.3 0a1.15 1.15 0 1 0-2.3 0M549.7 625.2a1.15 1.15 0 1 0 2.3 0a1.15 1.15 0 1 0-2.3 0M544.5 627.4a1.15 1.15 0 1 0 2.3 0a1.15 1.15 0 1 0-2.3 0M540.2 626.9a1.15 1.15 0 1 0 2.3 0a1.15 1.15 0 1 0-2.3 0M535.8 625.5a1.15 1.15 0 1 0 2.3 0a1.15 1.15 0 1 0-2.3 0M556.9 624.0a1.15 1.15 0 1 0 2.3 0a1.15 1.15 0 1 0-2.3 0M558.3 625.3a1.15 1.15 0 1 0 2.3 0a1.15 1.15 0 1 0-2.3 0M553.7 625.2a1.15 1.15 0 1 0 2.3 0a1.15 1.15 0 1 0-2.3 0M533.0 625.6a1.15 1.15 0 1 0 2.3 0a1.15 1.15 0 1 0-2.3 0M579.5 620.8a1.15 1.15 0 1 0 2.3 0a1.15 1.15 0 1 0-2.3 0M539.0 622.5a1.15 1.15 0 1 0 2.3 0a1.15 1.15 0 1 0-2.3 0M547.7 627.4a1.15 1.15 0 1 0 2.3 0a1.15 1.15 0 1 0-2.3 0M559.4 625.5a1.15 1.15 0 1 0 2.3 0a1.15 1.15 0 1 0-2.3 0M568.8 622.5a1.15 1.15 0 1 0 2.3 0a1.15 1.15 0 1 0-2.3 0M582.3 621.3a1.15 1.15 0 1 0 2.3 0a1.15 1.15 0 1 0-2.3 0M506.6 614.1a1.15 1.15 0 1 0 2.3 0a1.15 1.15 0 1 0-2.3 0M544.0 625.9a1.15 1.15 0 1 0 2.3 0a1.15 1.15 0 1 0-2.3 0M519.3 610.3a1.15 1.15 0 1 0 2.3 0a1.15 1.15 0 1 0-2.3 0M567.5 622.5a1.15 1.15 0 1 0 2.3 0a1.15 1.15 0 1 0-2.3 0M559.8 623.8a1.15 1.15 0 1 0 2.3 0a1.15 1.15 0 1 0-2.3 0M590.7 619.6a1.15 1.15 0 1 0 2.3 0a1.15 1.15 0 1 0-2.3 0M536.6 625.8a1.15 1.15 0 1 0 2.3 0a1.15 1.15 0 1 0-2.3 0M545.2 622.9a1.15 1.15 0 1 0 2.3 0a1.15 1.15 0 1 0-2.3 0M571.1 623.1a1.15 1.15 0 1 0 2.3 0a1.15 1.15 0 1 0-2.3 0M532.4 625.3a1.15 1.15 0 1 0 2.3 0a1.15 1.15 0 1 0-2.3 0M528.3 624.8a1.15 1.15 0 1 0 2.3 0a1.15 1.15 0 1 0-2.3 0M508.3 617.2a1.15 1.15 0 1 0 2.3 0a1.15 1.15 0 1 0-2.3 0M516.8 622.7a1.15 1.15 0 1 0 2.3 0a1.15 1.15 0 1 0-2.3 0M550.4 627.0a1.15 1.15 0 1 0 2.3 0a1.15 1.15 0 1 0-2.3 0M534.6 624.2a1.15 1.15 0 1 0 2.3 0a1.15 1.15 0 1 0-2.3 0M545.8 626.6a1.15 1.15 0 1 0 2.3 0a1.15 1.15 0 1 0-2.3 0M528.3 623.8a1.15 1.15 0 1 0 2.3 0a1.15 1.15 0 1 0-2.3 0M535.8 615.4a1.15 1.15 0 1 0 2.3 0a1.15 1.15 0 1 0-2.3 0M575.6 622.5a1.15 1.15 0 1 0 2.3 0a1.15 1.15 0 1 0-2.3 0M535.0 606.7a1.15 1.15 0 1 0 2.3 0a1.15 1.15 0 1 0-2.3 0M537.7 602.3a1.15 1.15 0 1 0 2.3 0a1.15 1.15 0 1 0-2.3 0M541.5 623.2a1.15 1.15 0 1 0 2.3 0a1.15 1.15 0 1 0-2.3 0M584.6 619.9a1.15 1.15 0 1 0 2.3 0a1.15 1.15 0 1 0-2.3 0M536.5 622.7a1.15 1.15 0 1 0 2.3 0a1.15 1.15 0 1 0-2.3 0M542.6 627.2a1.15 1.15 0 1 0 2.3 0a1.15 1.15 0 1 0-2.3 0M592.4 616.0a1.15 1.15 0 1 0 2.3 0a1.15 1.15 0 1 0-2.3 0M523.4 621.4a1.15 1.15 0 1 0 2.3 0a1.15 1.15 0 1 0-2.3 0M559.1 625.6a1.15 1.15 0 1 0 2.3 0a1.15 1.15 0 1 0-2.3 0M553.4 626.2a1.15 1.15 0 1 0 2.3 0a1.15 1.15 0 1 0-2.3 0M541.0 626.4a1.15 1.15 0 1 0 2.3 0a1.15 1.15 0 1 0-2.3 0M533.0 610.3a1.15 1.15 0 1 0 2.3 0a1.15 1.15 0 1 0-2.3 0M540.2 624.1a1.15 1.15 0 1 0 2.3 0a1.15 1.15 0 1 0-2.3 0M534.6 625.7a1.15 1.15 0 1 0 2.3 0a1.15 1.15 0 1 0-2.3 0M507.8 614.2a1.15 1.15 0 1 0 2.3 0a1.15 1.15 0 1 0-2.3 0M536.5 624.3a1.15 1.15 0 1 0 2.3 0a1.15 1.15 0 1 0-2.3 0M564.3 623.9a1.15 1.15 0 1 0 2.3 0a1.15 1.15 0 1 0-2.3 0M573.8 622.3a1.15 1.15 0 1 0 2.3 0a1.15 1.15 0 1 0-2.3 0M527.3 623.7a1.15 1.15 0 1 0 2.3 0a1.15 1.15 0 1 0-2.3 0M515.3 621.5a1.15 1.15 0 1 0 2.3 0a1.15 1.15 0 1 0-2.3 0M527.6 624.3a1.15 1.15 0 1 0 2.3 0a1.15 1.15 0 1 0-2.3 0M547.0 627.7a1.15 1.15 0 1 0 2.3 0a1.15 1.15 0 1 0-2.3 0M567.2 619.9a1.15 1.15 0 1 0 2.3 0a1.15 1.15 0 1 0-2.3 0M590.1 619.2a1.15 1.15 0 1 0 2.3 0a1.15 1.15 0 1 0-2.3 0M559.3 624.9a1.15 1.15 0 1 0 2.3 0a1.15 1.15 0 1 0-2.3 0M566.1 624.2a1.15 1.15 0 1 0 2.3 0a1.15 1.15 0 1 0-2.3 0M538.4 626.1a1.15 1.15 0 1 0 2.3 0a1.15 1.15 0 1 0-2.3 0M575.0 622.1a1.15 1.15 0 1 0 2.3 0a1.15 1.15 0 1 0-2.3 0M491.5 617.9a1.15 1.15 0 1 0 2.3 0a1.15 1.15 0 1 0-2.3 0M526.4 617.7a1.15 1.15 0 1 0 2.3 0a1.15 1.15 0 1 0-2.3 0M564.4 622.5a1.15 1.15 0 1 0 2.3 0a1.15 1.15 0 1 0-2.3 0M550.4 625.9a1.15 1.15 0 1 0 2.3 0a1.15 1.15 0 1 0-2.3 0M543.5 625.9a1.15 1.15 0 1 0 2.3 0a1.15 1.15 0 1 0-2.3 0M553.4 626.1a1.15 1.15 0 1 0 2.3 0a1.15 1.15 0 1 0-2.3 0M543.6 627.1a1.15 1.15 0 1 0 2.3 0a1.15 1.15 0 1 0-2.3 0M558.0 625.0a1.15 1.15 0 1 0 2.3 0a1.15 1.15 0 1 0-2.3 0M553.4 626.6a1.15 1.15 0 1 0 2.3 0a1.15 1.15 0 1 0-2.3 0M556.3 625.0a1.15 1.15 0 1 0 2.3 0a1.15 1.15 0 1 0-2.3 0M592.8 618.1a1.15 1.15 0 1 0 2.3 0a1.15 1.15 0 1 0-2.3 0M568.3 623.6a1.15 1.15 0 1 0 2.3 0a1.15 1.15 0 1 0-2.3 0M517.9 622.9a1.15 1.15 0 1 0 2.3 0a1.15 1.15 0 1 0-2.3 0M573.9 612.1a1.15 1.15 0 1 0 2.3 0a1.15 1.15 0 1 0-2.3 0M522.8 623.8a1.15 1.15 0 1 0 2.3 0a1.15 1.15 0 1 0-2.3 0M549.4 627.2a1.15 1.15 0 1 0 2.3 0a1.15 1.15 0 1 0-2.3 0M524.9 623.4a1.15 1.15 0 1 0 2.3 0a1.15 1.15 0 1 0-2.3 0M523.0 623.9a1.15 1.15 0 1 0 2.3 0a1.15 1.15 0 1 0-2.3 0M532.6 623.4a1.15 1.15 0 1 0 2.3 0a1.15 1.15 0 1 0-2.3 0M541.3 626.3a1.15 1.15 0 1 0 2.3 0a1.15 1.15 0 1 0-2.3 0M545.8 627.8a1.15 1.15 0 1 0 2.3 0a1.15 1.15 0 1 0-2.3 0M526.9 623.6a1.15 1.15 0 1 0 2.3 0a1.15 1.15 0 1 0-2.3 0M549.8 625.9a1.15 1.15 0 1 0 2.3 0a1.15 1.15 0 1 0-2.3 0M539.1 626.7a1.15 1.15 0 1 0 2.3 0a1.15 1.15 0 1 0-2.3 0M564.6 624.3a1.15 1.15 0 1 0 2.3 0a1.15 1.15 0 1 0-2.3 0M545.3 627.7a1.15 1.15 0 1 0 2.3 0a1.15 1.15 0 1 0-2.3 0M533.3 611.4a1.15 1.15 0 1 0 2.3 0a1.15 1.15 0 1 0-2.3 0M545.8 627.6a1.15 1.15 0 1 0 2.3 0a1.15 1.15 0 1 0-2.3 0M550.2 626.2a1.15 1.15 0 1 0 2.3 0a1.15 1.15 0 1 0-2.3 0M533.6 625.0a1.15 1.15 0 1 0 2.3 0a1.15 1.15 0 1 0-2.3 0M554.6 626.3a1.15 1.15 0 1 0 2.3 0a1.15 1.15 0 1 0-2.3 0M541.1 613.8a1.15 1.15 0 1 0 2.3 0a1.15 1.15 0 1 0-2.3 0M525.5 616.5a1.15 1.15 0 1 0 2.3 0a1.15 1.15 0 1 0-2.3 0M520.2 622.8a1.15 1.15 0 1 0 2.3 0a1.15 1.15 0 1 0-2.3 0M565.5 623.5a1.15 1.15 0 1 0 2.3 0a1.15 1.15 0 1 0-2.3 0M548.0 625.4a1.15 1.15 0 1 0 2.3 0a1.15 1.15 0 1 0-2.3 0M536.4 626.3a1.15 1.15 0 1 0 2.3 0a1.15 1.15 0 1 0-2.3 0M552.7 626.6a1.15 1.15 0 1 0 2.3 0a1.15 1.15 0 1 0-2.3 0M569.7 618.1a1.15 1.15 0 1 0 2.3 0a1.15 1.15 0 1 0-2.3 0M538.7 624.9a1.15 1.15 0 1 0 2.3 0a1.15 1.15 0 1 0-2.3 0M523.9 623.6a1.15 1.15 0 1 0 2.3 0a1.15 1.15 0 1 0-2.3 0M566.1 623.3a1.15 1.15 0 1 0 2.3 0a1.15 1.15 0 1 0-2.3 0M551.6 611.6a1.15 1.15 0 1 0 2.3 0a1.15 1.15 0 1 0-2.3 0M532.1 625.0a1.15 1.15 0 1 0 2.3 0a1.15 1.15 0 1 0-2.3 0M512.0 621.9a1.15 1.15 0 1 0 2.3 0a1.15 1.15 0 1 0-2.3 0M558.4 624.2a1.15 1.15 0 1 0 2.3 0a1.15 1.15 0 1 0-2.3 0M519.7 623.2a1.15 1.15 0 1 0 2.3 0a1.15 1.15 0 1 0-2.3 0M561.2 625.1a1.15 1.15 0 1 0 2.3 0a1.15 1.15 0 1 0-2.3 0M554.3 622.3a1.15 1.15 0 1 0 2.3 0a1.15 1.15 0 1 0-2.3 0M521.7 620.2a1.15 1.15 0 1 0 2.3 0a1.15 1.15 0 1 0-2.3 0M560.4 625.3a1.15 1.15 0 1 0 2.3 0a1.15 1.15 0 1 0-2.3 0M576.3 621.4a1.15 1.15 0 1 0 2.3 0a1.15 1.15 0 1 0-2.3 0M558.8 625.6a1.15 1.15 0 1 0 2.3 0a1.15 1.15 0 1 0-2.3 0M553.1 625.9a1.15 1.15 0 1 0 2.3 0a1.15 1.15 0 1 0-2.3 0M579.0 621.6a1.15 1.15 0 1 0 2.3 0a1.15 1.15 0 1 0-2.3 0M548.3 625.4a1.15 1.15 0 1 0 2.3 0a1.15 1.15 0 1 0-2.3 0M527.5 624.5a1.15 1.15 0 1 0 2.3 0a1.15 1.15 0 1 0-2.3 0M566.3 624.1a1.15 1.15 0 1 0 2.3 0a1.15 1.15 0 1 0-2.3 0M583.1 621.3a1.15 1.15 0 1 0 2.3 0a1.15 1.15 0 1 0-2.3 0M556.7 623.0a1.15 1.15 0 1 0 2.3 0a1.15 1.15 0 1 0-2.3 0M553.0 624.7a1.15 1.15 0 1 0 2.3 0a1.15 1.15 0 1 0-2.3 0M563.3 620.5a1.15 1.15 0 1 0 2.3 0a1.15 1.15 0 1 0-2.3 0M545.9 627.7a1.15 1.15 0 1 0 2.3 0a1.15 1.15 0 1 0-2.3 0M504.6 620.6a1.15 1.15 0 1 0 2.3 0a1.15 1.15 0 1 0-2.3 0M569.2 605.7a1.15 1.15 0 1 0 2.3 0a1.15 1.15 0 1 0-2.3 0M561.3 621.6a1.15 1.15 0 1 0 2.3 0a1.15 1.15 0 1 0-2.3 0M536.9 626.4a1.15 1.15 0 1 0 2.3 0a1.15 1.15 0 1 0-2.3 0M536.9 626.4a1.15 1.15 0 1 0 2.3 0a1.15 1.15 0 1 0-2.3 0M552.2 626.8a1.15 1.15 0 1 0 2.3 0a1.15 1.15 0 1 0-2.3 0M574.2 616.5a1.15 1.15 0 1 0 2.3 0a1.15 1.15 0 1 0-2.3 0M508.8 609.3a1.15 1.15 0 1 0 2.3 0a1.15 1.15 0 1 0-2.3 0M544.0 627.2a1.15 1.15 0 1 0 2.3 0a1.15 1.15 0 1 0-2.3 0M535.3 625.8a1.15 1.15 0 1 0 2.3 0a1.15 1.15 0 1 0-2.3 0M588.2 617.9a1.15 1.15 0 1 0 2.3 0a1.15 1.15 0 1 0-2.3 0M575.1 621.2a1.15 1.15 0 1 0 2.3 0a1.15 1.15 0 1 0-2.3 0M545.8 627.5a1.15 1.15 0 1 0 2.3 0a1.15 1.15 0 1 0-2.3 0M525.8 622.9a1.15 1.15 0 1 0 2.3 0a1.15 1.15 0 1 0-2.3 0M569.1 623.5a1.15 1.15 0 1 0 2.3 0a1.15 1.15 0 1 0-2.3 0M513.6 622.1a1.15 1.15 0 1 0 2.3 0a1.15 1.15 0 1 0-2.3 0M560.3 625.2a1.15 1.15 0 1 0 2.3 0a1.15 1.15 0 1 0-2.3 0M522.7 623.6a1.15 1.15 0 1 0 2.3 0a1.15 1.15 0 1 0-2.3 0M546.8 627.1a1.15 1.15 0 1 0 2.3 0a1.15 1.15 0 1 0-2.3 0M525.0 624.2a1.15 1.15 0 1 0 2.3 0a1.15 1.15 0 1 0-2.3 0M555.5 623.6a1.15 1.15 0 1 0 2.3 0a1.15 1.15 0 1 0-2.3 0M523.1 620.5a1.15 1.15 0 1 0 2.3 0a1.15 1.15 0 1 0-2.3 0M542.1 625.3a1.15 1.15 0 1 0 2.3 0a1.15 1.15 0 1 0-2.3 0M537.9 624.9a1.15 1.15 0 1 0 2.3 0a1.15 1.15 0 1 0-2.3 0M549.4 626.7a1.15 1.15 0 1 0 2.3 0a1.15 1.15 0 1 0-2.3 0M510.9 608.7a1.15 1.15 0 1 0 2.3 0a1.15 1.15 0 1 0-2.3 0M566.7 615.5a1.15 1.15 0 1 0 2.3 0a1.15 1.15 0 1 0-2.3 0M548.5 625.7a1.15 1.15 0 1 0 2.3 0a1.15 1.15 0 1 0-2.3 0M554.1 626.2a1.15 1.15 0 1 0 2.3 0a1.15 1.15 0 1 0-2.3 0M537.2 626.1a1.15 1.15 0 1 0 2.3 0a1.15 1.15 0 1 0-2.3 0M542.6 626.0a1.15 1.15 0 1 0 2.3 0a1.15 1.15 0 1 0-2.3 0M569.5 623.0a1.15 1.15 0 1 0 2.3 0a1.15 1.15 0 1 0-2.3 0M480.2 615.2a1.15 1.15 0 1 0 2.3 0a1.15 1.15 0 1 0-2.3 0M505.3 619.7a1.15 1.15 0 1 0 2.3 0a1.15 1.15 0 1 0-2.3 0M505.4 615.1a1.15 1.15 0 1 0 2.3 0a1.15 1.15 0 1 0-2.3 0M524.9 615.1a1.15 1.15 0 1 0 2.3 0a1.15 1.15 0 1 0-2.3 0M520.4 617.9a1.15 1.15 0 1 0 2.3 0a1.15 1.15 0 1 0-2.3 0M564.4 624.6a1.15 1.15 0 1 0 2.3 0a1.15 1.15 0 1 0-2.3 0M524.6 624.1a1.15 1.15 0 1 0 2.3 0a1.15 1.15 0 1 0-2.3 0M564.0 624.6a1.15 1.15 0 1 0 2.3 0a1.15 1.15 0 1 0-2.3 0M534.6 626.0a1.15 1.15 0 1 0 2.3 0a1.15 1.15 0 1 0-2.3 0M552.7 600.8a1.15 1.15 0 1 0 2.3 0a1.15 1.15 0 1 0-2.3 0M546.5 626.9a1.15 1.15 0 1 0 2.3 0a1.15 1.15 0 1 0-2.3 0M526.7 624.5a1.15 1.15 0 1 0 2.3 0a1.15 1.15 0 1 0-2.3 0M558.5 605.3a1.15 1.15 0 1 0 2.3 0a1.15 1.15 0 1 0-2.3 0M572.4 621.3a1.15 1.15 0 1 0 2.3 0a1.15 1.15 0 1 0-2.3 0M545.1 627.7a1.15 1.15 0 1 0 2.3 0a1.15 1.15 0 1 0-2.3 0M540.3 626.9a1.15 1.15 0 1 0 2.3 0a1.15 1.15 0 1 0-2.3 0M505.7 618.4a1.15 1.15 0 1 0 2.3 0a1.15 1.15 0 1 0-2.3 0M555.0 625.7a1.15 1.15 0 1 0 2.3 0a1.15 1.15 0 1 0-2.3 0M524.5 618.6a1.15 1.15 0 1 0 2.3 0a1.15 1.15 0 1 0-2.3 0M535.3 624.7a1.15 1.15 0 1 0 2.3 0a1.15 1.15 0 1 0-2.3 0M547.1 627.7a1.15 1.15 0 1 0 2.3 0a1.15 1.15 0 1 0-2.3 0M534.4 625.8a1.15 1.15 0 1 0 2.3 0a1.15 1.15 0 1 0-2.3 0M541.2 627.0a1.15 1.15 0 1 0 2.3 0a1.15 1.15 0 1 0-2.3 0M543.5 622.4a1.15 1.15 0 1 0 2.3 0a1.15 1.15 0 1 0-2.3 0M535.5 622.2a1.15 1.15 0 1 0 2.3 0a1.15 1.15 0 1 0-2.3 0M562.0 621.6a1.15 1.15 0 1 0 2.3 0a1.15 1.15 0 1 0-2.3 0M543.6 626.6a1.15 1.15 0 1 0 2.3 0a1.15 1.15 0 1 0-2.3 0M536.5 626.0a1.15 1.15 0 1 0 2.3 0a1.15 1.15 0 1 0-2.3 0M568.2 623.5a1.15 1.15 0 1 0 2.3 0a1.15 1.15 0 1 0-2.3 0M560.3 624.9a1.15 1.15 0 1 0 2.3 0a1.15 1.15 0 1 0-2.3 0M581.0 621.3a1.15 1.15 0 1 0 2.3 0a1.15 1.15 0 1 0-2.3 0M550.4 627.1a1.15 1.15 0 1 0 2.3 0a1.15 1.15 0 1 0-2.3 0M546.0 627.5a1.15 1.15 0 1 0 2.3 0a1.15 1.15 0 1 0-2.3 0M544.4 627.0a1.15 1.15 0 1 0 2.3 0a1.15 1.15 0 1 0-2.3 0M574.9 622.4a1.15 1.15 0 1 0 2.3 0a1.15 1.15 0 1 0-2.3 0M527.1 624.6a1.15 1.15 0 1 0 2.3 0a1.15 1.15 0 1 0-2.3 0M531.4 625.0a1.15 1.15 0 1 0 2.3 0a1.15 1.15 0 1 0-2.3 0M513.3 620.9a1.15 1.15 0 1 0 2.3 0a1.15 1.15 0 1 0-2.3 0M574.7 620.4a1.15 1.15 0 1 0 2.3 0a1.15 1.15 0 1 0-2.3 0M571.4 616.5a1.15 1.15 0 1 0 2.3 0a1.15 1.15 0 1 0-2.3 0M531.1 625.0a1.15 1.15 0 1 0 2.3 0a1.15 1.15 0 1 0-2.3 0M544.8 627.2a1.15 1.15 0 1 0 2.3 0a1.15 1.15 0 1 0-2.3 0M553.2 618.5a1.15 1.15 0 1 0 2.3 0a1.15 1.15 0 1 0-2.3 0M552.0 626.5a1.15 1.15 0 1 0 2.3 0a1.15 1.15 0 1 0-2.3 0M549.0 626.0a1.15 1.15 0 1 0 2.3 0a1.15 1.15 0 1 0-2.3 0M524.2 618.8a1.15 1.15 0 1 0 2.3 0a1.15 1.15 0 1 0-2.3 0M501.7 619.6a1.15 1.15 0 1 0 2.3 0a1.15 1.15 0 1 0-2.3 0M523.2 623.4a1.15 1.15 0 1 0 2.3 0a1.15 1.15 0 1 0-2.3 0M567.9 622.7a1.15 1.15 0 1 0 2.3 0a1.15 1.15 0 1 0-2.3 0M556.5 624.2a1.15 1.15 0 1 0 2.3 0a1.15 1.15 0 1 0-2.3 0M533.8 625.6a1.15 1.15 0 1 0 2.3 0a1.15 1.15 0 1 0-2.3 0M561.3 625.2a1.15 1.15 0 1 0 2.3 0a1.15 1.15 0 1 0-2.3 0M508.1 600.6a1.15 1.15 0 1 0 2.3 0a1.15 1.15 0 1 0-2.3 0M560.6 625.2a1.15 1.15 0 1 0 2.3 0a1.15 1.15 0 1 0-2.3 0M529.7 625.0a1.15 1.15 0 1 0 2.3 0a1.15 1.15 0 1 0-2.3 0M526.5 623.4a1.15 1.15 0 1 0 2.3 0a1.15 1.15 0 1 0-2.3 0M545.4 625.9a1.15 1.15 0 1 0 2.3 0a1.15 1.15 0 1 0-2.3 0M504.0 618.0a1.15 1.15 0 1 0 2.3 0a1.15 1.15 0 1 0-2.3 0M551.0 626.8a1.15 1.15 0 1 0 2.3 0a1.15 1.15 0 1 0-2.3 0M555.6 624.5a1.15 1.15 0 1 0 2.3 0a1.15 1.15 0 1 0-2.3 0M553.1 626.6a1.15 1.15 0 1 0 2.3 0a1.15 1.15 0 1 0-2.3 0M548.3 626.7a1.15 1.15 0 1 0 2.3 0a1.15 1.15 0 1 0-2.3 0M558.4 618.0a1.15 1.15 0 1 0 2.3 0a1.15 1.15 0 1 0-2.3 0M526.6 621.0a1.15 1.15 0 1 0 2.3 0a1.15 1.15 0 1 0-2.3 0M566.6 624.1a1.15 1.15 0 1 0 2.3 0a1.15 1.15 0 1 0-2.3 0M542.5 623.6a1.15 1.15 0 1 0 2.3 0a1.15 1.15 0 1 0-2.3 0M553.3 626.0a1.15 1.15 0 1 0 2.3 0a1.15 1.15 0 1 0-2.3 0M575.8 622.3a1.15 1.15 0 1 0 2.3 0a1.15 1.15 0 1 0-2.3 0M522.7 623.5a1.15 1.15 0 1 0 2.3 0a1.15 1.15 0 1 0-2.3 0M574.7 606.2a1.15 1.15 0 1 0 2.3 0a1.15 1.15 0 1 0-2.3 0M551.6 602.0a1.15 1.15 0 1 0 2.3 0a1.15 1.15 0 1 0-2.3 0M551.3 626.9a1.15 1.15 0 1 0 2.3 0a1.15 1.15 0 1 0-2.3 0M544.3 616.4a1.15 1.15 0 1 0 2.3 0a1.15 1.15 0 1 0-2.3 0M536.4 626.0a1.15 1.15 0 1 0 2.3 0a1.15 1.15 0 1 0-2.3 0M534.2 623.7a1.15 1.15 0 1 0 2.3 0a1.15 1.15 0 1 0-2.3 0M497.7 616.9a1.15 1.15 0 1 0 2.3 0a1.15 1.15 0 1 0-2.3 0M532.4 623.3a1.15 1.15 0 1 0 2.3 0a1.15 1.15 0 1 0-2.3 0M520.6 623.4a1.15 1.15 0 1 0 2.3 0a1.15 1.15 0 1 0-2.3 0M560.1 624.9a1.15 1.15 0 1 0 2.3 0a1.15 1.15 0 1 0-2.3 0M544.0 623.8a1.15 1.15 0 1 0 2.3 0a1.15 1.15 0 1 0-2.3 0M538.1 616.0a1.15 1.15 0 1 0 2.3 0a1.15 1.15 0 1 0-2.3 0M532.2 620.6a1.15 1.15 0 1 0 2.3 0a1.15 1.15 0 1 0-2.3 0M513.8 621.7a1.15 1.15 0 1 0 2.3 0a1.15 1.15 0 1 0-2.3 0M529.6 615.7a1.15 1.15 0 1 0 2.3 0a1.15 1.15 0 1 0-2.3 0M549.6 627.3a1.15 1.15 0 1 0 2.3 0a1.15 1.15 0 1 0-2.3 0M561.8 615.6a1.15 1.15 0 1 0 2.3 0a1.15 1.15 0 1 0-2.3 0M523.8 623.3a1.15 1.15 0 1 0 2.3 0a1.15 1.15 0 1 0-2.3 0M536.3 616.1a1.15 1.15 0 1 0 2.3 0a1.15 1.15 0 1 0-2.3 0M492.9 618.0a1.15 1.15 0 1 0 2.3 0a1.15 1.15 0 1 0-2.3 0M562.9 624.1a1.15 1.15 0 1 0 2.3 0a1.15 1.15 0 1 0-2.3 0M514.3 604.0a1.15 1.15 0 1 0 2.3 0a1.15 1.15 0 1 0-2.3 0M568.6 601.4a1.15 1.15 0 1 0 2.3 0a1.15 1.15 0 1 0-2.3 0M549.8 626.7a1.15 1.15 0 1 0 2.3 0a1.15 1.15 0 1 0-2.3 0M585.4 613.7a1.15 1.15 0 1 0 2.3 0a1.15 1.15 0 1 0-2.3 0M581.4 620.0a1.15 1.15 0 1 0 2.3 0a1.15 1.15 0 1 0-2.3 0M497.4 608.6a1.15 1.15 0 1 0 2.3 0a1.15 1.15 0 1 0-2.3 0M594.0 619.3a1.15 1.15 0 1 0 2.3 0a1.15 1.15 0 1 0-2.3 0M576.3 622.0a1.15 1.15 0 1 0 2.3 0a1.15 1.15 0 1 0-2.3 0M495.5 617.9a1.15 1.15 0 1 0 2.3 0a1.15 1.15 0 1 0-2.3 0M531.8 624.9a1.15 1.15 0 1 0 2.3 0a1.15 1.15 0 1 0-2.3 0M546.8 627.3a1.15 1.15 0 1 0 2.3 0a1.15 1.15 0 1 0-2.3 0M531.8 624.6a1.15 1.15 0 1 0 2.3 0a1.15 1.15 0 1 0-2.3 0M526.6 623.5a1.15 1.15 0 1 0 2.3 0a1.15 1.15 0 1 0-2.3 0M526.4 624.5a1.15 1.15 0 1 0 2.3 0a1.15 1.15 0 1 0-2.3 0M538.2 626.2a1.15 1.15 0 1 0 2.3 0a1.15 1.15 0 1 0-2.3 0M527.4 624.2a1.15 1.15 0 1 0 2.3 0a1.15 1.15 0 1 0-2.3 0M535.1 625.7a1.15 1.15 0 1 0 2.3 0a1.15 1.15 0 1 0-2.3 0M503.3 618.2a1.15 1.15 0 1 0 2.3 0a1.15 1.15 0 1 0-2.3 0M548.9 626.7a1.15 1.15 0 1 0 2.3 0a1.15 1.15 0 1 0-2.3 0M561.8 624.9a1.15 1.15 0 1 0 2.3 0a1.15 1.15 0 1 0-2.3 0M509.9 621.1a1.15 1.15 0 1 0 2.3 0a1.15 1.15 0 1 0-2.3 0M559.1 625.2a1.15 1.15 0 1 0 2.3 0a1.15 1.15 0 1 0-2.3 0M546.2 627.7a1.15 1.15 0 1 0 2.3 0a1.15 1.15 0 1 0-2.3 0M531.8 624.9a1.15 1.15 0 1 0 2.3 0a1.15 1.15 0 1 0-2.3 0M552.0 626.3a1.15 1.15 0 1 0 2.3 0a1.15 1.15 0 1 0-2.3 0M522.2 622.2a1.15 1.15 0 1 0 2.3 0a1.15 1.15 0 1 0-2.3 0M516.9 620.7a1.15 1.15 0 1 0 2.3 0a1.15 1.15 0 1 0-2.3 0M538.1 625.7a1.15 1.15 0 1 0 2.3 0a1.15 1.15 0 1 0-2.3 0M550.4 622.3a1.15 1.15 0 1 0 2.3 0a1.15 1.15 0 1 0-2.3 0M531.4 622.9a1.15 1.15 0 1 0 2.3 0a1.15 1.15 0 1 0-2.3 0M560.9 624.7a1.15 1.15 0 1 0 2.3 0a1.15 1.15 0 1 0-2.3 0M495.8 609.6a1.15 1.15 0 1 0 2.3 0a1.15 1.15 0 1 0-2.3 0M533.2 625.2a1.15 1.15 0 1 0 2.3 0a1.15 1.15 0 1 0-2.3 0M535.5 625.3a1.15 1.15 0 1 0 2.3 0a1.15 1.15 0 1 0-2.3 0M568.3 612.6a1.15 1.15 0 1 0 2.3 0a1.15 1.15 0 1 0-2.3 0M570.9 623.0a1.15 1.15 0 1 0 2.3 0a1.15 1.15 0 1 0-2.3 0M559.2 624.5a1.15 1.15 0 1 0 2.3 0a1.15 1.15 0 1 0-2.3 0M545.6 627.8a1.15 1.15 0 1 0 2.3 0a1.15 1.15 0 1 0-2.3 0M564.5 624.2a1.15 1.15 0 1 0 2.3 0a1.15 1.15 0 1 0-2.3 0M510.5 620.5a1.15 1.15 0 1 0 2.3 0a1.15 1.15 0 1 0-2.3 0M533.2 616.6a1.15 1.15 0 1 0 2.3 0a1.15 1.15 0 1 0-2.3 0M556.3 626.0a1.15 1.15 0 1 0 2.3 0a1.15 1.15 0 1 0-2.3 0M522.0 623.1a1.15 1.15 0 1 0 2.3 0a1.15 1.15 0 1 0-2.3 0M534.0 625.8a1.15 1.15 0 1 0 2.3 0a1.15 1.15 0 1 0-2.3 0M522.4 623.6a1.15 1.15 0 1 0 2.3 0a1.15 1.15 0 1 0-2.3 0M560.6 625.1a1.15 1.15 0 1 0 2.3 0a1.15 1.15 0 1 0-2.3 0M515.4 622.0a1.15 1.15 0 1 0 2.3 0a1.15 1.15 0 1 0-2.3 0M561.9 623.3a1.15 1.15 0 1 0 2.3 0a1.15 1.15 0 1 0-2.3 0M518.9 620.8a1.15 1.15 0 1 0 2.3 0a1.15 1.15 0 1 0-2.3 0M564.1 605.4a1.15 1.15 0 1 0 2.3 0a1.15 1.15 0 1 0-2.3 0M551.7 626.9a1.15 1.15 0 1 0 2.3 0a1.15 1.15 0 1 0-2.3 0M566.6 622.3a1.15 1.15 0 1 0 2.3 0a1.15 1.15 0 1 0-2.3 0M550.3 626.3a1.15 1.15 0 1 0 2.3 0a1.15 1.15 0 1 0-2.3 0M522.2 622.9a1.15 1.15 0 1 0 2.3 0a1.15 1.15 0 1 0-2.3 0M526.9 622.6a1.15 1.15 0 1 0 2.3 0a1.15 1.15 0 1 0-2.3 0M575.9 621.7a1.15 1.15 0 1 0 2.3 0a1.15 1.15 0 1 0-2.3 0M567.4 623.9a1.15 1.15 0 1 0 2.3 0a1.15 1.15 0 1 0-2.3 0M516.9 611.9a1.15 1.15 0 1 0 2.3 0a1.15 1.15 0 1 0-2.3 0M558.0 625.4a1.15 1.15 0 1 0 2.3 0a1.15 1.15 0 1 0-2.3 0M532.3 625.3a1.15 1.15 0 1 0 2.3 0a1.15 1.15 0 1 0-2.3 0M545.0 624.9a1.15 1.15 0 1 0 2.3 0a1.15 1.15 0 1 0-2.3 0M534.4 625.2a1.15 1.15 0 1 0 2.3 0a1.15 1.15 0 1 0-2.3 0M580.9 613.8a1.15 1.15 0 1 0 2.3 0a1.15 1.15 0 1 0-2.3 0M549.8 626.5a1.15 1.15 0 1 0 2.3 0a1.15 1.15 0 1 0-2.3 0M558.4 625.2a1.15 1.15 0 1 0 2.3 0a1.15 1.15 0 1 0-2.3 0M555.6 602.7a1.15 1.15 0 1 0 2.3 0a1.15 1.15 0 1 0-2.3 0M566.1 615.3a1.15 1.15 0 1 0 2.3 0a1.15 1.15 0 1 0-2.3 0M549.4 626.5a1.15 1.15 0 1 0 2.3 0a1.15 1.15 0 1 0-2.3 0M524.1 616.9a1.15 1.15 0 1 0 2.3 0a1.15 1.15 0 1 0-2.3 0M539.4 623.7a1.15 1.15 0 1 0 2.3 0a1.15 1.15 0 1 0-2.3 0M502.0 615.9a1.15 1.15 0 1 0 2.3 0a1.15 1.15 0 1 0-2.3 0M561.3 603.3a1.15 1.15 0 1 0 2.3 0a1.15 1.15 0 1 0-2.3 0M518.1 620.4a1.15 1.15 0 1 0 2.3 0a1.15 1.15 0 1 0-2.3 0M528.6 624.7a1.15 1.15 0 1 0 2.3 0a1.15 1.15 0 1 0-2.3 0M518.8 622.9a1.15 1.15 0 1 0 2.3 0a1.15 1.15 0 1 0-2.3 0M513.5 616.8a1.15 1.15 0 1 0 2.3 0a1.15 1.15 0 1 0-2.3 0M555.9 621.8a1.15 1.15 0 1 0 2.3 0a1.15 1.15 0 1 0-2.3 0M499.4 609.4a1.15 1.15 0 1 0 2.3 0a1.15 1.15 0 1 0-2.3 0M563.9 624.2a1.15 1.15 0 1 0 2.3 0a1.15 1.15 0 1 0-2.3 0M555.8 625.2a1.15 1.15 0 1 0 2.3 0a1.15 1.15 0 1 0-2.3 0M560.9 613.2a1.15 1.15 0 1 0 2.3 0a1.15 1.15 0 1 0-2.3 0M543.4 626.2a1.15 1.15 0 1 0 2.3 0a1.15 1.15 0 1 0-2.3 0M564.5 622.9a1.15 1.15 0 1 0 2.3 0a1.15 1.15 0 1 0-2.3 0M551.9 602.8a1.15 1.15 0 1 0 2.3 0a1.15 1.15 0 1 0-2.3 0M555.0 625.5a1.15 1.15 0 1 0 2.3 0a1.15 1.15 0 1 0-2.3 0M539.7 626.4a1.15 1.15 0 1 0 2.3 0a1.15 1.15 0 1 0-2.3 0M564.9 623.3a1.15 1.15 0 1 0 2.3 0a1.15 1.15 0 1 0-2.3 0M529.1 625.0a1.15 1.15 0 1 0 2.3 0a1.15 1.15 0 1 0-2.3 0M593.6 619.2a1.15 1.15 0 1 0 2.3 0a1.15 1.15 0 1 0-2.3 0M554.2 626.1a1.15 1.15 0 1 0 2.3 0a1.15 1.15 0 1 0-2.3 0M533.8 625.4a1.15 1.15 0 1 0 2.3 0a1.15 1.15 0 1 0-2.3 0M512.8 617.3a1.15 1.15 0 1 0 2.3 0a1.15 1.15 0 1 0-2.3 0M576.8 621.6a1.15 1.15 0 1 0 2.3 0a1.15 1.15 0 1 0-2.3 0M557.0 625.9a1.15 1.15 0 1 0 2.3 0a1.15 1.15 0 1 0-2.3 0M527.4 621.6a1.15 1.15 0 1 0 2.3 0a1.15 1.15 0 1 0-2.3 0M587.4 600.9a1.15 1.15 0 1 0 2.3 0a1.15 1.15 0 1 0-2.3 0M567.5 623.7a1.15 1.15 0 1 0 2.3 0a1.15 1.15 0 1 0-2.3 0M587.7 617.5a1.15 1.15 0 1 0 2.3 0a1.15 1.15 0 1 0-2.3 0M573.8 620.1a1.15 1.15 0 1 0 2.3 0a1.15 1.15 0 1 0-2.3 0M553.1 626.7a1.15 1.15 0 1 0 2.3 0a1.15 1.15 0 1 0-2.3 0M533.6 625.1a1.15 1.15 0 1 0 2.3 0a1.15 1.15 0 1 0-2.3 0M584.3 620.5a1.15 1.15 0 1 0 2.3 0a1.15 1.15 0 1 0-2.3 0M551.1 623.1a1.15 1.15 0 1 0 2.3 0a1.15 1.15 0 1 0-2.3 0M551.0 624.8a1.15 1.15 0 1 0 2.3 0a1.15 1.15 0 1 0-2.3 0M527.8 622.3a1.15 1.15 0 1 0 2.3 0a1.15 1.15 0 1 0-2.3 0M559.5 623.6a1.15 1.15 0 1 0 2.3 0a1.15 1.15 0 1 0-2.3 0M553.9 626.0a1.15 1.15 0 1 0 2.3 0a1.15 1.15 0 1 0-2.3 0M543.0 623.7a1.15 1.15 0 1 0 2.3 0a1.15 1.15 0 1 0-2.3 0M540.6 622.5a1.15 1.15 0 1 0 2.3 0a1.15 1.15 0 1 0-2.3 0M528.6 624.7a1.15 1.15 0 1 0 2.3 0a1.15 1.15 0 1 0-2.3 0M485.3 603.9a1.15 1.15 0 1 0 2.3 0a1.15 1.15 0 1 0-2.3 0M487.3 610.5a1.15 1.15 0 1 0 2.3 0a1.15 1.15 0 1 0-2.3 0" fill="#2814ff"/>
<circle cx="505.2" cy="485.0" r="1.25" fill="#46f812"/>
<text x="483.4" y="491.8" font-size="5" fill="#46f812">hsa-miR-320b</text>
<circle cx="519.3" cy="512.6" r="1.25" fill="#46f812"/>
<text x="507.4" y="509.5" font-size="5" fill="#46f812">hsa-miR-222-3p</text>
<circle cx="482.0" cy="521.3" r="1.25" fill="#46f812"/>
<text x="457.5" y="518.3000000000001" font-size="5" fill="#46f812">hsa-miR-409-3p</text>
<circle cx="509.6" cy="522.0" r="1.25" fill="#46f812"/>
<text x="501" y="519.2" font-size="5" fill="#46f812">hsa-miR-503</text>
<circle cx="500.9" cy="524.0" r="1.25" fill="#46f812"/>
<text x="476.8" y="530.4" font-size="5" fill="#46f812">hsa-miR-370-3p</text>
<circle cx="570.7" cy="538.4" r="1.25" fill="#ff2418"/>
<text x="565.4" y="535.6" font-size="5" fill="#ff2418">novel_412</text>
<circle cx="639.0" cy="544.6" r="1.25" fill="#ff2418"/>
<text x="600.3" y="546.1" font-size="5" fill="#ff2418">hsa-miR-215-5p</text>
<circle cx="581.6" cy="567.8" r="1.25" fill="#ff2418"/>
<text x="556.7" y="574.5" font-size="5" fill="#ff2418">hsa-miR-27a-5p</text>
<circle cx="606.2" cy="581.4" r="1.25" fill="#ff2418"/>
<text x="597" y="578.6" font-size="5" fill="#ff2418">hsa-miR-378c</text>
<circle cx="631.6" cy="595.8" r="1.25" fill="#ff2418"/>
<text x="599.9" y="592.0" font-size="5" fill="#ff2418">hsa-miR-181a-5p</text>
<circle cx="519.3" cy="533.6" r="1.25" fill="#46f812"/>
<circle cx="500.9" cy="541.9" r="1.25" fill="#46f812"/>
<circle cx="478.0" cy="548.3" r="1.25" fill="#46f812"/>
<circle cx="517.1" cy="548.9" r="1.25" fill="#46f812"/>
<circle cx="489.0" cy="555.5" r="1.25" fill="#46f812"/>
<circle cx="509.2" cy="554.4" r="1.25" fill="#46f812"/>
<circle cx="479.4" cy="562.3" r="1.25" fill="#46f812"/>
<circle cx="487.0" cy="563.8" r="1.25" fill="#46f812"/>
<circle cx="503.2" cy="564.1" r="1.25" fill="#46f812"/>
<circle cx="458.8" cy="565.8" r="1.25" fill="#46f812"/>
<circle cx="521.9" cy="568.9" r="1.25" fill="#46f812"/>
<circle cx="516.3" cy="574.1" r="1.25" fill="#46f812"/>
<circle cx="518.5" cy="573.7" r="1.25" fill="#46f812"/>
<circle cx="490.3" cy="577.2" r="1.25" fill="#46f812"/>
<circle cx="455.8" cy="586.2" r="1.25" fill="#46f812"/>
<circle cx="479.4" cy="585.3" r="1.25" fill="#46f812"/>
<circle cx="507.4" cy="583.5" r="1.25" fill="#46f812"/>
<circle cx="501.7" cy="587.3" r="1.25" fill="#46f812"/>
<circle cx="503.4" cy="589.0" r="1.25" fill="#46f812"/>
<circle cx="509.6" cy="591.2" r="1.25" fill="#46f812"/>
<circle cx="513.6" cy="589.9" r="1.25" fill="#46f812"/>
<circle cx="487.2" cy="593.0" r="1.25" fill="#46f812"/>
<circle cx="512.2" cy="595.4" r="1.25" fill="#46f812"/>
<circle cx="477.8" cy="598.2" r="1.25" fill="#46f812"/>
<circle cx="516.7" cy="598.2" r="1.25" fill="#46f812"/>
<circle cx="612.2" cy="585.3" r="1.25" fill="#ff2418"/>
<circle cx="626.7" cy="586.0" r="1.25" fill="#ff2418"/>
<circle cx="568.5" cy="587.5" r="1.25" fill="#ff2418"/>
<circle cx="568.5" cy="589.0" r="1.25" fill="#ff2418"/>
<circle cx="592.5" cy="590.6" r="1.25" fill="#ff2418"/>
<circle cx="601.3" cy="594.7" r="1.25" fill="#ff2418"/>
<circle cx="527.5" cy="565.4" r="1.25" fill="#2814ff"/>
<circle cx="535.0" cy="568.9" r="1.25" fill="#2814ff"/>
<circle cx="529.4" cy="575.0" r="1.25" fill="#2814ff"/>
<circle cx="527.1" cy="578.5" r="1.25" fill="#2814ff"/>
<circle cx="534.0" cy="589.0" r="1.25" fill="#2814ff"/>
<circle cx="529.4" cy="594.7" r="1.25" fill="#2814ff"/>
<circle cx="536.4" cy="596.9" r="1.25" fill="#2814ff"/>
<circle cx="526.7" cy="598.2" r="1.25" fill="#2814ff"/>
<circle cx="478.0" cy="600.4" r="1.25" fill="#2814ff"/>
<circle cx="554.2" cy="591.2" r="1.25" fill="#2814ff"/>
<circle cx="552.5" cy="594.7" r="1.25" fill="#2814ff"/>
<circle cx="558.8" cy="595.4" r="1.25" fill="#2814ff"/>
<circle cx="554.4" cy="591.0" r="1.25" fill="#2814ff"/>
<circle cx="563.6" cy="593.8" r="1.25" fill="#2814ff"/>
<circle cx="574.5" cy="600.6" r="1.25" fill="#2814ff"/>
<circle cx="573.1" cy="601.7" r="1.25" fill="#2814ff"/>
<circle cx="584.2" cy="602.4" r="1.25" fill="#2814ff"/>
<circle cx="592.7" cy="605.0" r="1.25" fill="#2814ff"/>
<circle cx="612.2" cy="609.4" r="1.25" fill="#2814ff"/>
<circle cx="616.7" cy="609.8" r="1.25" fill="#2814ff"/>
<circle cx="619.5" cy="611.8" r="1.25" fill="#2814ff"/>
<circle cx="615.0" cy="613.5" r="1.25" fill="#2814ff"/>
<circle cx="616.0" cy="614.4" r="1.25" fill="#2814ff"/>
<text x="547.4" y="649.8" text-anchor="middle" font-size="6.3" fill="#222">log<tspan font-size="4.2" dy="1.5">2</tspan><tspan dy="-1.5">(Fold Change)</tspan></text>
<text transform="translate(436.3 556.3) rotate(-90)" text-anchor="middle" font-size="6.4" fill="#222">- log<tspan font-size="4.2" dy="1.5">10</tspan><tspan dy="-1.5">(p-value)</tspan></text>
<circle cx="662.6" cy="546.6" r="1.55" fill="#46f812"/>
<text x="671" y="548.3000000000001" font-size="4.9" fill="#111">down</text>
<circle cx="662.6" cy="556.4" r="1.55" fill="#2814ff"/>
<text x="671" y="558.1" font-size="4.9" fill="#111">ns</text>
<circle cx="662.6" cy="566.4" r="1.55" fill="#ff2418"/>
<text x="671" y="568.1" font-size="4.9" fill="#111">up</text>
</g>
<g id="F">
<text x="15" y="697" font-family='"Liberation Serif", serif' font-weight="bold" font-size="19" stroke="#000" stroke-width="0.35">F)</text>
<defs><clipPath id="cpY"><circle cx="186" cy="737" r="54"/></clipPath><clipPath id="cpM"><circle cx="239" cy="737" r="54"/></clipPath><clipPath id="cpF"><circle cx="519.2" cy="778.2" r="59.5"/></clipPath></defs>
<circle cx="186" cy="737" r="54" fill="#6a6aff"/>
<circle cx="239" cy="737" r="54" fill="#d5d5ff" clip-path="url(#cpY)"/>
<circle cx="212.3" cy="783" r="53.5" fill="#f56369"/>
<circle cx="212.3" cy="783" r="53.5" fill="#d2346c" clip-path="url(#cpY)"/>
<g clip-path="url(#cpY)"><circle cx="212.3" cy="783" r="53.5" fill="#ea566a" clip-path="url(#cpM)"/></g>
<circle cx="186" cy="737" r="54" fill="none" stroke="#111" stroke-width="1"/>
<circle cx="239" cy="737" r="54" fill="none" stroke="#111" stroke-width="1"/>
<circle cx="212.3" cy="783" r="53.5" fill="none" stroke="#111" stroke-width="1"/>
<text transform="translate(155.8 683.0) scale(1 1.1)" text-anchor="middle" font-family='"Liberation Serif", serif' font-weight="bold" font-size="13">Young</text>
<text transform="translate(268 683.0) scale(1 1.1)" text-anchor="middle" font-family='"Liberation Serif", serif' font-weight="bold" font-size="13">Middle age</text>
<text transform="translate(211.5 857.6999999999999) scale(1 1.1)" text-anchor="middle" font-family='"Liberation Serif", serif' font-weight="bold" font-size="13">Old</text>
<text transform="translate(161.3 727.5) scale(1 1.1)" text-anchor="middle" font-family='"Liberation Serif", serif' font-weight="bold" font-size="11.4">94</text>
<text transform="translate(212 713.6) scale(1 1.1)" text-anchor="middle" font-family='"Liberation Serif", serif' font-weight="bold" font-size="11.4">56</text>
<text transform="translate(262 727.5) scale(1 1.1)" text-anchor="middle" font-family='"Liberation Serif", serif' font-weight="bold" font-size="11.4">94</text>
<text transform="translate(212 756.8000000000001) scale(1 1.1)" text-anchor="middle" font-family='"Liberation Serif", serif' font-weight="bold" font-size="11.4">371</text>
<text transform="translate(174.7 778.1) scale(1 1.1)" text-anchor="middle" font-family='"Liberation Serif", serif' font-weight="bold" font-size="11.4">38</text>
<text transform="translate(248.2 778.1) scale(1 1.1)" text-anchor="middle" font-family='"Liberation Serif", serif' font-weight="bold" font-size="11.4">39</text>
<text transform="translate(212 814.3000000000001) scale(1 1.1)" text-anchor="middle" font-family='"Liberation Serif", serif' font-weight="bold" font-size="11.4">70</text>
<circle cx="519.2" cy="778.2" r="59.5" fill="#c6ffc2"/>
<circle cx="579" cy="778.2" r="59.5" fill="#8080ff"/>
<circle cx="579" cy="778.2" r="59.5" fill="#6680ee" clip-path="url(#cpF)"/>
<text transform="translate(492.9 710.6999999999999) scale(1 1.1)" text-anchor="middle" font-family='"Liberation Serif", serif' font-weight="bold" font-size="12.8">Female</text>
<text transform="translate(605.3 710.6999999999999) scale(1 1.1)" text-anchor="middle" font-family='"Liberation Serif", serif' font-weight="bold" font-size="12.8">Male</text>
<text transform="translate(489.6 784.1999999999999) scale(1 1.1)" text-anchor="middle" font-family='"Liberation Serif", serif' font-weight="bold" font-size="13">142</text>
<text transform="translate(548.8 784.1999999999999) scale(1 1.1)" text-anchor="middle" font-family='"Liberation Serif", serif' font-weight="bold" font-size="13">478</text>
<text transform="translate(608.8 784.1999999999999) scale(1 1.1)" text-anchor="middle" font-family='"Liberation Serif", serif' font-weight="bold" font-size="13">137</text>
</g>
</svg>
</body></html>
